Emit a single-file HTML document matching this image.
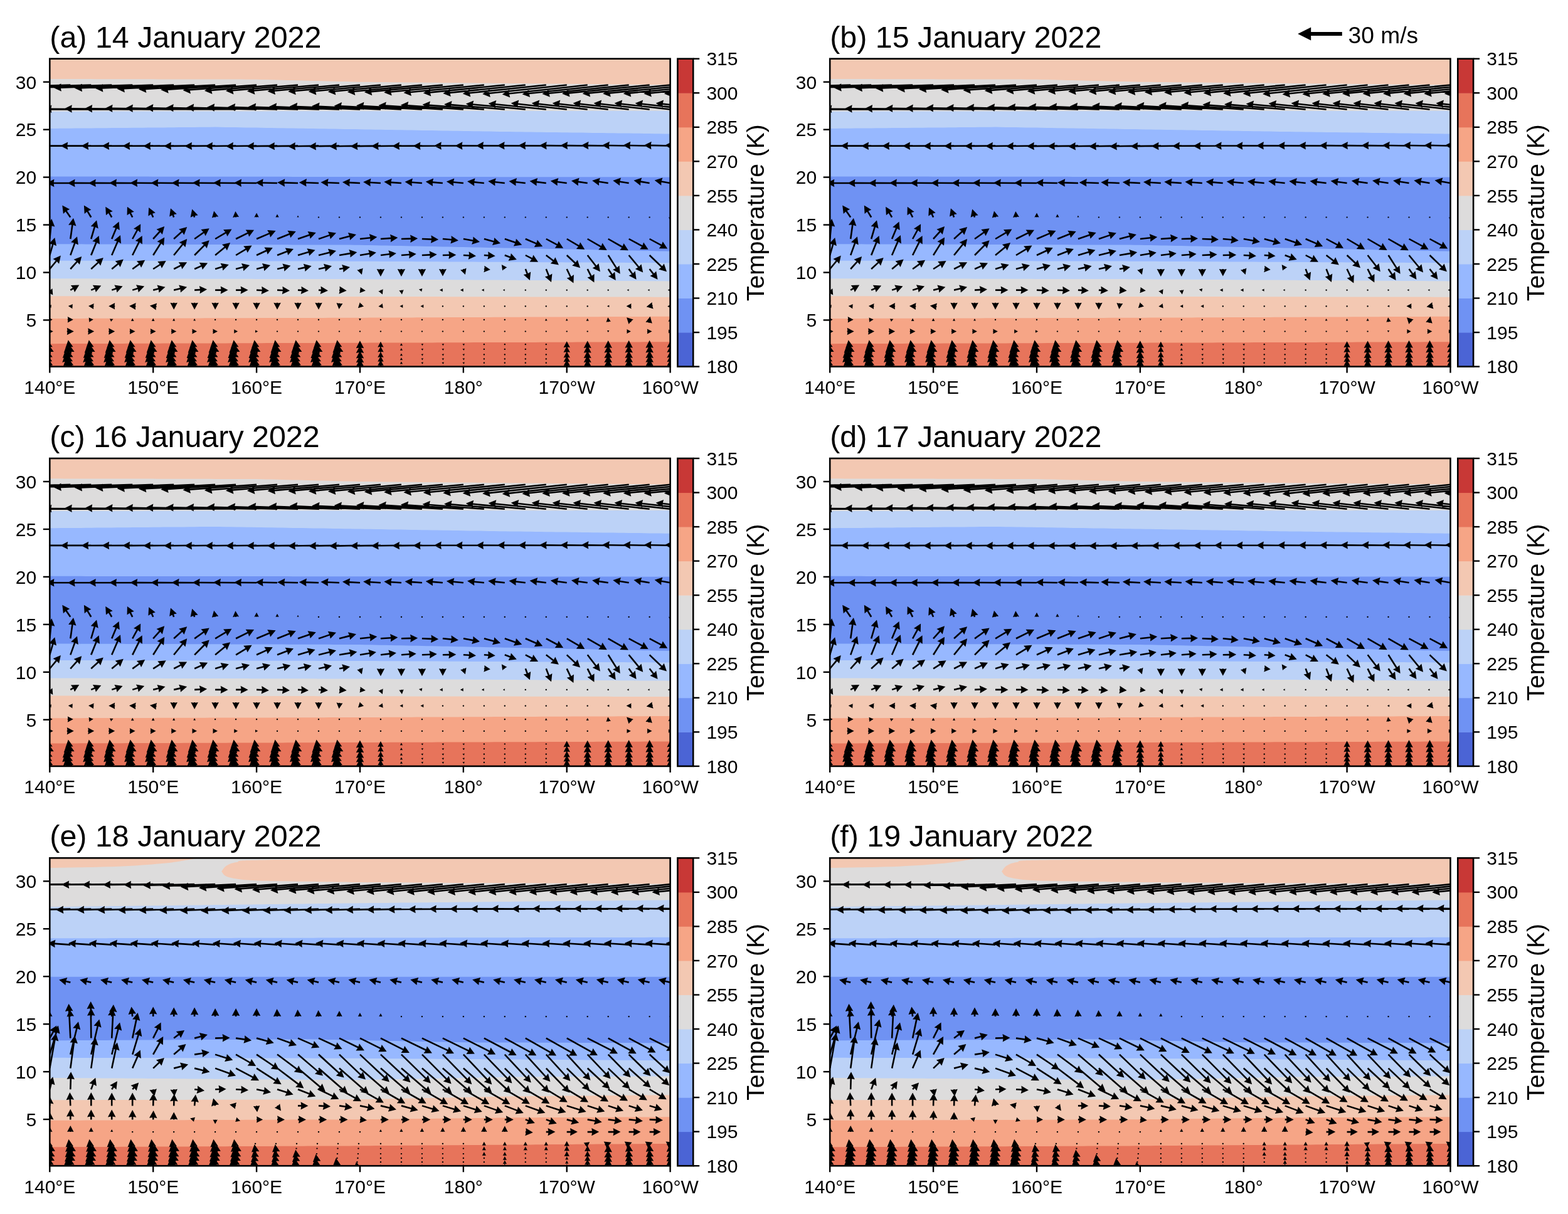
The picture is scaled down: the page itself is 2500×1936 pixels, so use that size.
<!DOCTYPE html>
<html><head><meta charset="utf-8"><title>Temperature cross-sections</title>
<style>
html,body{margin:0;padding:0;background:#fff;}
svg{display:block;}
#wrap{position:relative;width:2500px;height:1936px;}
text{font-family:'Liberation Sans',Arial,sans-serif;fill:#000;}
.tl{font-size:30px;}
.tk{stroke:#000;stroke-width:2.4;}
.fr{fill:none;stroke:#000;stroke-width:2.6;}
</style></head><body>
<div id="wrap">
<svg xmlns="http://www.w3.org/2000/svg" width="2500" height="1936" viewBox="0 0 2500 1936">
<rect width="2500" height="1936" fill="#fff"/>
<defs>
<clipPath id="cp00"><rect x="79.3" y="93.7" width="989.3" height="490.9"/></clipPath>
<clipPath id="cp10"><rect x="1323.2" y="93.7" width="989.3" height="490.9"/></clipPath>
<clipPath id="cp01"><rect x="79.3" y="731" width="989.3" height="490.9"/></clipPath>
<clipPath id="cp11"><rect x="1323.2" y="731" width="989.3" height="490.9"/></clipPath>
<clipPath id="cp02"><rect x="79.3" y="1368.3" width="989.3" height="490.9"/></clipPath>
<clipPath id="cp12"><rect x="1323.2" y="1368.3" width="989.3" height="490.9"/></clipPath>
</defs>
<g clip-path="url(#cp00)">
<rect x="79.3" y="93.7" width="989.3" height="490.9" fill="#e7745b"/>
<path d="M74.3 88.7 L74.3 548.2 L79.3 548.2 L87.5 548.2 L95.8 548.1 L104 548.1 L112.3 548.1 L120.5 548.1 L128.8 548.1 L137 548 L145.3 548 L153.5 548 L161.7 548 L170 547.9 L178.2 547.9 L186.5 547.9 L194.7 547.9 L203 547.8 L211.2 547.8 L219.5 547.8 L227.7 547.8 L235.9 547.7 L244.2 547.7 L252.4 547.7 L260.7 547.6 L268.9 547.6 L277.2 547.6 L285.4 547.6 L293.6 547.6 L301.9 547.5 L310.1 547.5 L318.4 547.5 L326.6 547.5 L334.9 547.4 L343.1 547.4 L351.4 547.4 L359.6 547.4 L367.8 547.3 L376.1 547.3 L384.3 547.3 L392.6 547.2 L400.8 547.2 L409.1 547.2 L417.3 547.2 L425.6 547.1 L433.8 547.1 L442 547.1 L450.3 547.1 L458.5 547.1 L466.8 547 L475 547 L483.3 547 L491.5 547 L499.8 546.9 L508 546.9 L516.2 546.9 L524.5 546.9 L532.7 546.8 L541 546.8 L549.2 546.8 L557.5 546.8 L565.7 546.7 L573.9 546.7 L582.2 546.7 L590.4 546.6 L598.7 546.6 L606.9 546.6 L615.2 546.6 L623.4 546.6 L631.7 546.5 L639.9 546.5 L648.1 546.5 L656.4 546.5 L664.6 546.4 L672.9 546.4 L681.1 546.4 L689.4 546.4 L697.6 546.3 L705.9 546.3 L714.1 546.3 L722.3 546.2 L730.6 546.2 L738.8 546.2 L747.1 546.2 L755.3 546.1 L763.6 546.1 L771.8 546.1 L780.1 546.1 L788.3 546.1 L796.5 546 L804.8 546 L813 546 L821.3 546 L829.5 545.9 L837.8 545.9 L846 545.9 L854.3 545.9 L862.5 545.8 L870.7 545.8 L879 545.8 L887.2 545.8 L895.5 545.7 L903.7 545.7 L912 545.7 L920.2 545.6 L928.4 545.6 L936.7 545.6 L944.9 545.6 L953.2 545.6 L961.4 545.5 L969.7 545.5 L977.9 545.5 L986.2 545.5 L994.4 545.4 L1002.6 545.4 L1010.9 545.4 L1019.1 545.4 L1027.4 545.3 L1035.6 545.3 L1043.9 545.3 L1052.1 545.2 L1060.4 545.2 L1068.6 545.2 L1073.6 545.2 L1073.6 88.7 Z" fill="#f6a586"/>
<path d="M74.3 88.7 L74.3 508 L79.3 508 L87.5 508 L95.8 508 L104 507.9 L112.3 507.9 L120.5 507.9 L128.8 507.9 L137 507.8 L145.3 507.8 L153.5 507.8 L161.7 507.8 L170 507.8 L178.2 507.7 L186.5 507.7 L194.7 507.7 L203 507.7 L211.2 507.7 L219.5 507.6 L227.7 507.6 L235.9 507.6 L244.2 507.6 L252.4 507.5 L260.7 507.5 L268.9 507.5 L277.2 507.5 L285.4 507.5 L293.6 507.4 L301.9 507.4 L310.1 507.4 L318.4 507.4 L326.6 507.3 L334.9 507.3 L343.1 507.3 L351.4 507.3 L359.6 507.3 L367.8 507.2 L376.1 507.2 L384.3 507.2 L392.6 507.2 L400.8 507.2 L409.1 507.1 L417.3 507.1 L425.6 507.1 L433.8 507.1 L442 507 L450.3 507 L458.5 507 L466.8 507 L475 507 L483.3 506.9 L491.5 506.9 L499.8 506.9 L508 506.9 L516.2 506.9 L524.5 506.8 L532.7 506.8 L541 506.8 L549.2 506.8 L557.5 506.7 L565.7 506.7 L573.9 506.7 L582.2 506.7 L590.4 506.6 L598.7 506.6 L606.9 506.6 L615.2 506.5 L623.4 506.5 L631.7 506.5 L639.9 506.4 L648.1 506.4 L656.4 506.4 L664.6 506.3 L672.9 506.3 L681.1 506.3 L689.4 506.2 L697.6 506.2 L705.9 506.2 L714.1 506.1 L722.3 506.1 L730.6 506.1 L738.8 506 L747.1 506 L755.3 506 L763.6 505.9 L771.8 505.9 L780.1 505.9 L788.3 505.8 L796.5 505.8 L804.8 505.8 L813 505.7 L821.3 505.7 L829.5 505.7 L837.8 505.6 L846 505.6 L854.3 505.6 L862.5 505.5 L870.7 505.5 L879 505.5 L887.2 505.4 L895.5 505.4 L903.7 505.4 L912 505.3 L920.2 505.3 L928.4 505.3 L936.7 505.2 L944.9 505.2 L953.2 505.2 L961.4 505.1 L969.7 505.1 L977.9 505.1 L986.2 505 L994.4 505 L1002.6 505 L1010.9 504.9 L1019.1 504.9 L1027.4 504.9 L1035.6 504.8 L1043.9 504.8 L1052.1 504.8 L1060.4 504.7 L1068.6 504.7 L1073.6 504.7 L1073.6 88.7 Z" fill="#f3c8b2"/>
<path d="M74.3 88.7 L74.3 472.2 L79.3 472.2 L87.5 472.2 L95.8 472.2 L104 472.2 L112.3 472.2 L120.5 472.3 L128.8 472.3 L137 472.3 L145.3 472.3 L153.5 472.3 L161.7 472.3 L170 472.3 L178.2 472.3 L186.5 472.4 L194.7 472.4 L203 472.4 L211.2 472.4 L219.5 472.4 L227.7 472.4 L235.9 472.4 L244.2 472.4 L252.4 472.5 L260.7 472.5 L268.9 472.5 L277.2 472.5 L285.4 472.5 L293.6 472.5 L301.9 472.5 L310.1 472.6 L318.4 472.6 L326.6 472.6 L334.9 472.6 L343.1 472.6 L351.4 472.6 L359.6 472.6 L367.8 472.6 L376.1 472.6 L384.3 472.7 L392.6 472.7 L400.8 472.7 L409.1 472.7 L417.3 472.7 L425.6 472.7 L433.8 472.7 L442 472.8 L450.3 472.8 L458.5 472.8 L466.8 472.8 L475 472.8 L483.3 472.8 L491.5 472.8 L499.8 472.8 L508 472.8 L516.2 472.9 L524.5 472.9 L532.7 472.9 L541 472.9 L549.2 472.9 L557.5 472.9 L565.7 472.9 L573.9 472.9 L582.2 473 L590.4 473 L598.7 473 L606.9 473 L615.2 473 L623.4 473 L631.7 473 L639.9 473.1 L648.1 473.1 L656.4 473.1 L664.6 473.1 L672.9 473.1 L681.1 473.1 L689.4 473.1 L697.6 473.1 L705.9 473.1 L714.1 473.2 L722.3 473.2 L730.6 473.2 L738.8 473.2 L747.1 473.2 L755.3 473.2 L763.6 473.2 L771.8 473.2 L780.1 473.3 L788.3 473.3 L796.5 473.3 L804.8 473.3 L813 473.3 L821.3 473.3 L829.5 473.3 L837.8 473.3 L846 473.4 L854.3 473.4 L862.5 473.4 L870.7 473.4 L879 473.4 L887.2 473.4 L895.5 473.4 L903.7 473.4 L912 473.5 L920.2 473.5 L928.4 473.5 L936.7 473.5 L944.9 473.5 L953.2 473.5 L961.4 473.5 L969.7 473.6 L977.9 473.6 L986.2 473.6 L994.4 473.6 L1002.6 473.6 L1010.9 473.6 L1019.1 473.6 L1027.4 473.6 L1035.6 473.6 L1043.9 473.7 L1052.1 473.7 L1060.4 473.7 L1068.6 473.7 L1073.6 473.7 L1073.6 88.7 Z" fill="#dddcdc"/>
<path d="M74.3 88.7 L74.3 444.2 L79.3 444.2 L87.5 444.2 L95.8 444.2 L104 444.2 L112.3 444.3 L120.5 444.3 L128.8 444.3 L137 444.3 L145.3 444.3 L153.5 444.3 L161.7 444.4 L170 444.4 L178.2 444.4 L186.5 444.4 L194.7 444.4 L203 444.4 L211.2 444.5 L219.5 444.5 L227.7 444.5 L235.9 444.5 L244.2 444.5 L252.4 444.6 L260.7 444.6 L268.9 444.6 L277.2 444.6 L285.4 444.6 L293.6 444.6 L301.9 444.6 L310.1 444.7 L318.4 444.7 L326.6 444.7 L334.9 444.7 L343.1 444.7 L351.4 444.8 L359.6 444.8 L367.8 444.8 L376.1 444.8 L384.3 444.8 L392.6 444.8 L400.8 444.8 L409.1 444.9 L417.3 444.9 L425.6 444.9 L433.8 444.9 L442 444.9 L450.3 444.9 L458.5 445 L466.8 445 L475 445 L483.3 445 L491.5 445 L499.8 445.1 L508 445.1 L516.2 445.1 L524.5 445.1 L532.7 445.1 L541 445.1 L549.2 445.1 L557.5 445.2 L565.7 445.2 L573.9 445.2 L582.2 445.3 L590.4 445.3 L598.7 445.4 L606.9 445.4 L615.2 445.5 L623.4 445.5 L631.7 445.6 L639.9 445.6 L648.1 445.7 L656.4 445.7 L664.6 445.8 L672.9 445.8 L681.1 445.9 L689.4 445.9 L697.6 446 L705.9 446.1 L714.1 446.1 L722.3 446.2 L730.6 446.2 L738.8 446.3 L747.1 446.3 L755.3 446.4 L763.6 446.4 L771.8 446.5 L780.1 446.5 L788.3 446.6 L796.5 446.6 L804.8 446.7 L813 446.7 L821.3 446.8 L829.5 446.9 L837.8 446.9 L846 447 L854.3 447 L862.5 447.1 L870.7 447.1 L879 447.2 L887.2 447.2 L895.5 447.3 L903.7 447.3 L912 447.4 L920.2 447.4 L928.4 447.5 L936.7 447.5 L944.9 447.6 L953.2 447.7 L961.4 447.7 L969.7 447.8 L977.9 447.8 L986.2 447.9 L994.4 447.9 L1002.6 448 L1010.9 448 L1019.1 448.1 L1027.4 448.1 L1035.6 448.2 L1043.9 448.2 L1052.1 448.3 L1060.4 448.3 L1068.6 448.4 L1073.6 448.4 L1073.6 88.7 Z" fill="#bcd2f7"/>
<path d="M74.3 88.7 L74.3 415.7 L79.3 415.7 L87.5 415.7 L95.8 415.7 L104 415.8 L112.3 415.8 L120.5 415.8 L128.8 415.8 L137 415.8 L145.3 415.8 L153.5 415.8 L161.7 415.9 L170 415.9 L178.2 415.9 L186.5 415.9 L194.7 415.9 L203 415.9 L211.2 416 L219.5 416 L227.7 416 L235.9 416 L244.2 416 L252.4 416.1 L260.7 416.1 L268.9 416.1 L277.2 416.1 L285.4 416.1 L293.6 416.1 L301.9 416.1 L310.1 416.2 L318.4 416.2 L326.6 416.2 L334.9 416.2 L343.1 416.2 L351.4 416.2 L359.6 416.3 L367.8 416.3 L376.1 416.3 L384.3 416.3 L392.6 416.3 L400.8 416.3 L409.1 416.4 L417.3 416.4 L425.6 416.4 L433.8 416.4 L442 416.4 L450.3 416.4 L458.5 416.5 L466.8 416.5 L475 416.5 L483.3 416.5 L491.5 416.5 L499.8 416.6 L508 416.6 L516.2 416.6 L524.5 416.6 L532.7 416.6 L541 416.6 L549.2 416.6 L557.5 416.7 L565.7 416.7 L573.9 416.7 L582.2 416.7 L590.4 416.8 L598.7 416.8 L606.9 416.9 L615.2 416.9 L623.4 416.9 L631.7 417 L639.9 417 L648.1 417.1 L656.4 417.1 L664.6 417.2 L672.9 417.2 L681.1 417.2 L689.4 417.3 L697.6 417.3 L705.9 417.4 L714.1 417.4 L722.3 417.4 L730.6 417.5 L738.8 417.5 L747.1 417.6 L755.3 417.6 L763.6 417.7 L771.8 417.7 L780.1 417.7 L788.3 417.8 L796.5 417.8 L804.8 417.9 L813 417.9 L821.3 417.9 L829.5 418 L837.8 418 L846 418.1 L854.3 418.1 L862.5 418.2 L870.7 418.2 L879 418.2 L887.2 418.3 L895.5 418.3 L903.7 418.4 L912 418.4 L920.2 418.4 L928.4 418.5 L936.7 418.5 L944.9 418.6 L953.2 418.6 L961.4 418.7 L969.7 418.7 L977.9 418.7 L986.2 418.8 L994.4 418.8 L1002.6 418.9 L1010.9 418.9 L1019.1 418.9 L1027.4 419 L1035.6 419 L1043.9 419.1 L1052.1 419.1 L1060.4 419.2 L1068.6 419.2 L1073.6 419.2 L1073.6 88.7 Z" fill="#97b8ff"/>
<path d="M74.3 88.7 L74.3 389.2 L79.3 389.2 L87.5 389.2 L95.8 389.2 L104 389.3 L112.3 389.3 L120.5 389.3 L128.8 389.3 L137 389.4 L145.3 389.4 L153.5 389.4 L161.7 389.4 L170 389.5 L178.2 389.5 L186.5 389.5 L194.7 389.6 L203 389.6 L211.2 389.6 L219.5 389.6 L227.7 389.6 L235.9 389.7 L244.2 389.7 L252.4 389.7 L260.7 389.8 L268.9 389.8 L277.2 389.8 L285.4 389.8 L293.6 389.8 L301.9 389.9 L310.1 389.9 L318.4 389.9 L326.6 389.9 L334.9 390 L343.1 390 L351.4 390 L359.6 390.1 L367.8 390.1 L376.1 390.1 L384.3 390.1 L392.6 390.1 L400.8 390.2 L409.1 390.2 L417.3 390.2 L425.6 390.2 L433.8 390.3 L442 390.3 L450.3 390.3 L458.5 390.3 L466.8 390.4 L475 390.4 L483.3 390.4 L491.5 390.4 L499.8 390.5 L508 390.5 L516.2 390.5 L524.5 390.6 L532.7 390.6 L541 390.6 L549.2 390.6 L557.5 390.6 L565.7 390.7 L573.9 390.7 L582.2 390.9 L590.4 391 L598.7 391.2 L606.9 391.4 L615.2 391.5 L623.4 391.7 L631.7 391.9 L639.9 392 L648.1 392.2 L656.4 392.4 L664.6 392.5 L672.9 392.7 L681.1 392.9 L689.4 393 L697.6 393.2 L705.9 393.4 L714.1 393.5 L722.3 393.7 L730.6 393.9 L738.8 394 L747.1 394.2 L755.3 394.4 L763.6 394.5 L771.8 394.7 L780.1 394.9 L788.3 395 L796.5 395.2 L804.8 395.4 L813 395.5 L821.3 395.7 L829.5 395.9 L837.8 396 L846 396.2 L854.3 396.4 L862.5 396.5 L870.7 396.7 L879 396.9 L887.2 397 L895.5 397.2 L903.7 397.4 L912 397.5 L920.2 397.7 L928.4 397.9 L936.7 398 L944.9 398.2 L953.2 398.4 L961.4 398.5 L969.7 398.7 L977.9 398.9 L986.2 399 L994.4 399.2 L1002.6 399.4 L1010.9 399.5 L1019.1 399.7 L1027.4 399.9 L1035.6 400 L1043.9 400.2 L1052.1 400.4 L1060.4 400.5 L1068.6 400.7 L1073.6 400.7 L1073.6 88.7 Z" fill="#6f92f3"/>
<path d="M74.3 88.7 L74.3 281.5 L79.3 281.5 L87.5 281.5 L95.8 281.5 L104 281.5 L112.3 281.5 L120.5 281.5 L128.8 281.5 L137 281.6 L145.3 281.6 L153.5 281.6 L161.7 281.6 L170 281.6 L178.2 281.6 L186.5 281.6 L194.7 281.6 L203 281.6 L211.2 281.6 L219.5 281.6 L227.7 281.6 L235.9 281.6 L244.2 281.7 L252.4 281.7 L260.7 281.7 L268.9 281.7 L277.2 281.7 L285.4 281.7 L293.6 281.7 L301.9 281.7 L310.1 281.7 L318.4 281.7 L326.6 281.7 L334.9 281.7 L343.1 281.7 L351.4 281.7 L359.6 281.8 L367.8 281.8 L376.1 281.8 L384.3 281.8 L392.6 281.8 L400.8 281.8 L409.1 281.8 L417.3 281.8 L425.6 281.8 L433.8 281.8 L442 281.8 L450.3 281.8 L458.5 281.8 L466.8 281.9 L475 281.9 L483.3 281.9 L491.5 281.9 L499.8 281.9 L508 281.9 L516.2 281.9 L524.5 281.9 L532.7 281.9 L541 281.9 L549.2 281.9 L557.5 281.9 L565.7 281.9 L573.9 281.9 L582.2 282 L590.4 282 L598.7 282 L606.9 282 L615.2 282 L623.4 282 L631.7 282 L639.9 282 L648.1 282 L656.4 282 L664.6 282 L672.9 282 L681.1 282 L689.4 282.1 L697.6 282.1 L705.9 282.1 L714.1 282.1 L722.3 282.1 L730.6 282.1 L738.8 282.1 L747.1 282.1 L755.3 282.1 L763.6 282.1 L771.8 282.1 L780.1 282.1 L788.3 282.1 L796.5 282.2 L804.8 282.2 L813 282.2 L821.3 282.2 L829.5 282.2 L837.8 282.2 L846 282.2 L854.3 282.2 L862.5 282.2 L870.7 282.2 L879 282.2 L887.2 282.2 L895.5 282.2 L903.7 282.2 L912 282.3 L920.2 282.3 L928.4 282.3 L936.7 282.3 L944.9 282.3 L953.2 282.3 L961.4 282.3 L969.7 282.3 L977.9 282.3 L986.2 282.3 L994.4 282.3 L1002.6 282.3 L1010.9 282.3 L1019.1 282.4 L1027.4 282.4 L1035.6 282.4 L1043.9 282.4 L1052.1 282.4 L1060.4 282.4 L1068.6 282.4 L1073.6 282.4 L1073.6 88.7 Z" fill="#97b8ff"/>
<path d="M74.3 88.7 L74.3 205 L79.3 205 L87.5 204.9 L95.8 204.8 L104 204.8 L112.3 204.7 L120.5 204.6 L128.8 204.6 L137 204.5 L145.3 204.4 L153.5 204.3 L161.7 204.2 L170 204.2 L178.2 204.1 L186.5 204 L194.7 203.9 L203 203.9 L211.2 203.8 L219.5 203.7 L227.7 203.7 L235.9 203.6 L244.2 203.5 L252.4 203.4 L260.7 203.4 L268.9 203.3 L277.2 203.2 L285.4 203.1 L293.6 203.1 L301.9 203 L310.1 202.9 L318.4 202.8 L326.6 202.8 L334.9 202.7 L343.1 202.6 L351.4 202.7 L359.6 202.9 L367.8 203 L376.1 203.1 L384.3 203.3 L392.6 203.4 L400.8 203.5 L409.1 203.6 L417.3 203.8 L425.6 203.9 L433.8 204 L442 204.2 L450.3 204.3 L458.5 204.4 L466.8 204.6 L475 204.7 L483.3 204.8 L491.5 205 L499.8 205.1 L508 205.2 L516.2 205.3 L524.5 205.5 L532.7 205.6 L541 205.7 L549.2 205.9 L557.5 206 L565.7 206.1 L573.9 206.3 L582.2 206.4 L590.4 206.5 L598.7 206.7 L606.9 206.8 L615.2 206.9 L623.4 207.1 L631.7 207.2 L639.9 207.3 L648.1 207.5 L656.4 207.6 L664.6 207.7 L672.9 207.9 L681.1 208 L689.4 208.1 L697.6 208.3 L705.9 208.4 L714.1 208.5 L722.3 208.7 L730.6 208.8 L738.8 208.9 L747.1 209.1 L755.3 209.2 L763.6 209.3 L771.8 209.5 L780.1 209.6 L788.3 209.7 L796.5 209.9 L804.8 210 L813 210.1 L821.3 210.2 L829.5 210.3 L837.8 210.4 L846 210.5 L854.3 210.7 L862.5 210.8 L870.7 210.9 L879 211 L887.2 211.1 L895.5 211.2 L903.7 211.3 L912 211.4 L920.2 211.5 L928.4 211.6 L936.7 211.8 L944.9 211.9 L953.2 212 L961.4 212.1 L969.7 212.2 L977.9 212.3 L986.2 212.4 L994.4 212.5 L1002.6 212.6 L1010.9 212.7 L1019.1 212.8 L1027.4 213 L1035.6 213.1 L1043.9 213.2 L1052.1 213.3 L1060.4 213.4 L1068.6 213.5 L1073.6 213.5 L1073.6 88.7 Z" fill="#bcd2f7"/>
<path d="M74.3 88.7 L74.3 177.7 L79.3 177.7 L87.5 177.7 L95.8 177.7 L104 177.7 L112.3 177.7 L120.5 177.7 L128.8 177.7 L137 177.6 L145.3 177.6 L153.5 177.6 L161.7 177.6 L170 177.6 L178.2 177.6 L186.5 177.6 L194.7 177.6 L203 177.6 L211.2 177.6 L219.5 177.6 L227.7 177.6 L235.9 177.5 L244.2 177.5 L252.4 177.5 L260.7 177.5 L268.9 177.5 L277.2 177.5 L285.4 177.5 L293.6 177.5 L301.9 177.5 L310.1 177.5 L318.4 177.5 L326.6 177.4 L334.9 177.4 L343.1 177.4 L351.4 177.4 L359.6 177.4 L367.8 177.4 L376.1 177.4 L384.3 177.4 L392.6 177.4 L400.8 177.4 L409.1 177.4 L417.3 177.4 L425.6 177.4 L433.8 177.3 L442 177.3 L450.3 177.3 L458.5 177.3 L466.8 177.3 L475 177.3 L483.3 177.3 L491.5 177.3 L499.8 177.3 L508 177.3 L516.2 177.3 L524.5 177.2 L532.7 177.2 L541 177.2 L549.2 177.2 L557.5 177.2 L565.7 177.2 L573.9 177.2 L582.2 177.2 L590.4 177.2 L598.7 177.2 L606.9 177.2 L615.2 177.2 L623.4 177.2 L631.7 177.1 L639.9 177.1 L648.1 177.1 L656.4 177.1 L664.6 177.1 L672.9 177.1 L681.1 177.1 L689.4 177.1 L697.6 177.1 L705.9 177.1 L714.1 177.1 L722.3 177.1 L730.6 177 L738.8 177 L747.1 177 L755.3 177 L763.6 177 L771.8 177 L780.1 177 L788.3 177 L796.5 177 L804.8 177 L813 177 L821.3 176.9 L829.5 176.9 L837.8 176.9 L846 176.9 L854.3 176.9 L862.5 176.9 L870.7 176.9 L879 176.9 L887.2 176.9 L895.5 176.9 L903.7 176.9 L912 176.9 L920.2 176.9 L928.4 176.8 L936.7 176.8 L944.9 176.8 L953.2 176.8 L961.4 176.8 L969.7 176.8 L977.9 176.8 L986.2 176.8 L994.4 176.8 L1002.6 176.8 L1010.9 176.8 L1019.1 176.8 L1027.4 176.7 L1035.6 176.7 L1043.9 176.7 L1052.1 176.7 L1060.4 176.7 L1068.6 176.7 L1073.6 176.7 L1073.6 88.7 Z" fill="#dddcdc"/>
<path d="M74.3 88.7 L74.3 126 L79.3 126 L87.5 126 L95.8 126 L104 126.1 L112.3 126.1 L120.5 126.1 L128.8 126.1 L137 126.1 L145.3 126.1 L153.5 126.2 L161.7 126.2 L170 126.2 L178.2 126.2 L186.5 126.2 L194.7 126.2 L203 126.3 L211.2 126.3 L219.5 126.3 L227.7 126.3 L235.9 126.3 L244.2 126.3 L252.4 126.4 L260.7 126.4 L268.9 126.4 L277.2 126.4 L285.4 126.4 L293.6 126.5 L301.9 126.5 L310.1 126.5 L318.4 126.5 L326.6 126.5 L334.9 126.5 L343.1 126.6 L351.4 126.6 L359.6 126.6 L367.8 126.6 L376.1 126.6 L384.3 126.6 L392.6 126.7 L400.8 126.7 L409.1 126.7 L417.3 126.9 L425.6 127.1 L433.8 127.3 L442 127.5 L450.3 127.7 L458.5 127.9 L466.8 128.1 L475 128.3 L483.3 128.5 L491.5 128.7 L499.8 128.9 L508 129.1 L516.2 129.3 L524.5 129.5 L532.7 129.7 L541 129.9 L549.2 130.1 L557.5 130.3 L565.7 130.5 L573.9 130.7 L582.2 130.8 L590.4 130.8 L598.7 130.9 L606.9 131 L615.2 131.1 L623.4 131.2 L631.7 131.2 L639.9 131.3 L648.1 131.4 L656.4 131.4 L664.6 131.5 L672.9 131.6 L681.1 131.7 L689.4 131.8 L697.6 131.8 L705.9 131.9 L714.1 132 L722.3 132.1 L730.6 132.1 L738.8 132.2 L747.1 132.3 L755.3 132.3 L763.6 132.4 L771.8 132.5 L780.1 132.6 L788.3 132.7 L796.5 132.7 L804.8 132.8 L813 132.9 L821.3 132.9 L829.5 133 L837.8 133.1 L846 133.2 L854.3 133.2 L862.5 133.3 L870.7 133.4 L879 133.5 L887.2 133.6 L895.5 133.6 L903.7 133.7 L912 133.8 L920.2 133.8 L928.4 133.9 L936.7 134 L944.9 134.1 L953.2 134.2 L961.4 134.2 L969.7 134.3 L977.9 134.4 L986.2 134.4 L994.4 134.5 L1002.6 134.6 L1010.9 134.7 L1019.1 134.8 L1027.4 134.8 L1035.6 134.9 L1043.9 135 L1052.1 135.1 L1060.4 135.1 L1068.6 135.2 L1073.6 135.2 L1073.6 88.7 Z" fill="#f3c8b2"/>
</g>
<path clip-path="url(#cp00)" d="M79.3 134.2l-114.9 3.2 .7-5-11.8 6.6 12.1 5.9-.9-4.9 114.8-3.2zM112.2 134.2l-114.7 3.4 .7-4.9-11.8 6.5 12.1 5.9-.9-4.9 114.7-3.4zM145.2 134.2l-114.6 3.6 .7-4.9-11.8 6.6 12.2 5.9-1-5 114.6-3.6zM178.2 134.2l-114.5 3.9 .6-5-11.7 6.7 12.2 5.8-1-4.9 114.5-3.9zM211.2 134.2l-114.4 4.1 .6-5-11.7 6.7 12.2 5.8-1-4.9 114.4-4.1zM244.1 134.2l-114 4.6 .5-5-11.7 6.7 12.2 5.8-.9-4.9 114-4.6zM277.1 134.2l-113.8 5 .5-5-11.6 6.8 12.2 5.7-1-4.9 113.8-5zM310.1 134.2l-112.4 5.7 .6-5-11.7 6.9 12.3 5.6-1-4.9 112.3-5.7zM343 134.2l-110.8 6.4 .5-5-11.6 6.9 12.3 5.5-1.1-4.8 110.9-6.4zM376 134.2l-108.6 7.1 .5-5-11.6 7 12.4 5.4-1.1-4.8 108.6-7.1zM409 134.2l-106.4 7.8 .4-5-11.4 7.1 12.4 5.4-1.2-4.9 106.4-7.8zM441.9 134.2l-104.8 8.4 .4-5-11.5 7.2 12.5 5.3-1.2-4.9 104.8-8.4zM474.9 134.2l-103.8 8.7 .3-5-11.4 7.2 12.5 5.3-1.2-4.9 103.8-8.7zM507.9 134.2l-102.9 9 .4-5-11.4 7.3 12.5 5.2-1.3-4.9 102.9-9zM540.9 134.2l-103.2 9.3 .3-5-11.4 7.3 12.5 5.1-1.2-4.8 103.2-9.3zM573.8 134.2l-103.5 9.5 .3-5-11.3 7.3 12.5 5.2-1.3-4.9 103.6-9.5zM606.8 134.2l-103.9 9.8 .4-5-11.4 7.3 12.5 5.1-1.2-4.9 103.8-9.7zM639.8 134.2l-105.9 10 .3-5-11.3 7.4 12.5 5-1.2-4.8 105.8-10zM672.8 134.2l-107.9 10.2 .3-4.9-11.3 7.3 12.5 5.1-1.3-4.9 107.9-10.2zM705.7 134.2l-113.8 10.6 .3-5-11.3 7.3 12.4 5.1-1.2-4.8 113.9-10.6zM738.7 134.2l-115.5 11 .3-5-11.3 7.4 12.5 5-1.3-4.8 115.6-11zM771.7 134.2l-117.2 11.5 .3-5-11.3 7.3 12.5 5.1-1.3-4.9 117.2-11.4zM804.7 134.2l-118.9 11.9 .3-5-11.3 7.4 12.5 5-1.3-4.8 118.9-11.9zM837.6 134.2l-120.3 12.4 .2-5-11.2 7.4 12.5 5-1.3-4.8 120.4-12.4zM870.6 134.2l-121.9 12.8 .3-5-11.3 7.5 12.6 5-1.3-4.9 121.9-12.8zM903.6 134.2l-123.4 13.3 .2-5-11.2 7.5 12.6 4.9-1.3-4.8 123.4-13.3zM936.6 134.2l-124.9 13.8 .2-5-11.2 7.5 12.6 4.9-1.4-4.8 124.9-13.8zM969.5 134.2l-126 13.5 .2-5-11.2 7.5 12.6 4.9-1.3-4.8 126-13.5zM1002.5 134.2l-127.2 13.2 .3-5-11.3 7.4 12.6 5-1.3-4.8 127.2-13.2zM1035.5 134.2l-128.4 12.9 .3-5-11.3 7.4 12.5 5-1.2-4.8 128.4-12.9zM1068.5 134.2l-128.8 12.9 .3-5-11.3 7.4 12.5 5-1.3-4.8 128.8-12.9zM1101.4 134.2l-129.2 12.9 .3-5-11.3 7.4 12.6 5-1.3-4.8 129.2-12.9zM1134.4 134.2l-129.6 12.9 .3-5-11.3 7.4 12.5 5-1.2-4.8 129.6-12.9zM1167.4 134.2l-130 12.9 .2-5-11.2 7.4 12.5 5-1.3-4.8 130.1-12.9zM1200.4 134.2l-130.5 12.9 .3-5-11.3 7.4 12.5 5-1.2-4.8 130.4-12.9zM1233.4 134.2l-130.9 12.9 .3-5-11.3 7.4 12.5 5-1.3-4.8 130.9-12.9zM79.3 173.2l-94.8 0 .8-4.9-12 6.2 12 6.2-.8-4.9 94.8 0zM112.3 173.2l-95.4-.3 .8-4.9-12 6.2 11.9 6.3-.7-5 95.4 .3zM145.3 173.2l-96.1-.5 .8-5-11.9 6.2 11.9 6.3-.8-4.9 96 .5zM178.2 173.2l-96.6-.8 .8-4.9-12 6.1 11.9 6.3-.7-4.9 96.6 .8zM211.2 173.2l-97.2-1.1 .8-4.9-12 6.1 11.9 6.4-.7-5 97.2 1.1zM244.2 173.2l-97.8-1.3 .8-5-12 6.1 11.9 6.4-.8-4.9 97.9 1.3zM277.2 173.2l-98.4-1.6 .8-4.9-12 6 11.8 6.4-.7-4.9 98.4 1.6zM310.2 173.2l-99.1-1.9 .9-4.9-12.1 6 11.9 6.5-.7-5 99 1.9zM343.1 173.2l-99.6-2.2 .9-4.9-12.1 6 11.8 6.5-.6-5 99.6 2.2zM376.1 173.2l-100.2-2.4 .9-4.9-12.1 5.9 11.8 6.5-.7-4.9 100.3 2.4zM409.1 173.2l-100.8-2.7 .9-4.9-12.1 5.9 11.8 6.6-.7-5 100.8 2.7zM442.1 173.2l-100.8-3.1 .9-4.9-12.2 5.9 11.8 6.6-.6-5 100.8 3.1zM475.1 173.2l-100.9-3.4 1-4.9-12.2 5.8 11.8 6.6-.7-4.9 100.9 3.4zM508 173.2l-100.8-3.8 1-4.9-12.2 5.8 11.7 6.7-.6-5 100.8 3.8zM541 173.2l-100.8-4.1 1-4.9-12.2 5.7 11.7 6.7-.6-4.9 100.8 4.1zM574 173.2l-100.8-4.5 1-4.9-12.3 5.7 11.7 6.8-.5-5 100.8 4.5zM607 173.2l-98.4-4.8 1-4.9-12.3 5.6 11.7 6.8-.6-5 98.5 4.9zM640 173.2l-96.1-5.2 1.1-4.9-12.3 5.6 11.6 6.9-.5-5 96 5.2zM673 173.2l-93.7-5.5 1.1-4.9-12.3 5.5 11.6 6.9-.5-4.9 93.6 5.5zM705.9 173.2l-91.2-5.9 1.1-4.9-12.3 5.5 11.5 7-.5-5 91.3 5.9zM738.9 173.2l-88.8-6.2 1.1-4.9-12.4 5.4 11.5 7.1-.4-5 88.8 6.2zM771.9 173.2l-87.2-6.8 1.2-4.9-12.4 5.3 11.4 7.2-.4-5 87.2 6.8zM804.9 173.2l-85.5-7.4 1.2-4.8-12.5 5.2 11.4 7.2-.4-5 85.6 7.4zM837.9 173.2l-83.9-7.9 1.3-4.9-12.5 5.1 11.3 7.3-.3-5 83.8 8zM870.9 173.2l-80.9-8.3 1.3-4.9-12.6 5 11.3 7.4-.3-5 80.9 8.4zM903.9 173.2l-77.9-8.7 1.3-4.9-12.6 4.9 11.2 7.5-.2-5 77.9 8.8zM936.8 173.2l-77.9-8.7 1.4-4.9-12.6 4.9 11.2 7.5-.2-5 77.8 8.8zM969.8 173.2l-77.9-8.7 1.4-4.9-12.6 4.9 11.2 7.5-.3-5 77.9 8.8zM1002.8 173.2l-77.9-8.7 1.3-4.9-12.6 4.9 11.2 7.5-.2-5 77.9 8.8zM1035.8 173.2l-77.9-8.7 1.3-4.9-12.6 4.9 11.2 7.5-.2-5 77.9 8.8zM1068.7 173.2l-77.8-8.7 1.3-4.9-12.6 4.9 11.2 7.5-.2-5 77.9 8.8zM1101.7 173.2l-77.9-8.7 1.4-4.9-12.6 4.9 11.2 7.5-.3-5 77.9 8.8zM1134.7 173.2l-77.9-8.7 1.3-4.9-12.5 4.9 11.1 7.5-.2-5 77.9 8.8zM1167.7 173.2l-77.9-8.7 1.3-4.9-12.6 4.9 11.2 7.5-.2-5 77.9 8.8zM1200.7 173.2l-77.9-8.7 1.3-4.9-12.6 4.9 11.2 7.5-.2-5 77.9 8.8zM1233.6 173.2l-77.9-8.7 1.4-4.9-12.6 4.9 11.2 7.5-.3-5 77.9 8.8zM79.3 231.2l-37.8 0 .8-4.9-12 6.2 12 6.2-.8-4.9 37.8 0zM112.3 231.2l-37.8 .1 .7-5-11.9 6.3 11.9 6.2-.7-4.9 37.8-.1zM145.2 231.2l-37.8 .1 .8-4.9-11.9 6.2 11.9 6.2-.8-4.9 37.9-.1zM178.2 231.2l-37.8 .2 .8-5-12 6.3 12 6.2-.8-4.9 37.8-.2zM211.2 231.2l-37.8 .2 .7-4.9-11.9 6.3 12 6.1-.8-4.9 37.8-.2zM244.2 231.2l-37.8 .3 .7-5-11.9 6.3 12 6.2-.8-4.9 37.8-.3zM277.1 231.2l-37.8 .3 .8-4.9-11.9 6.3 12 6.1-.8-4.9 37.8-.3zM310.1 231.2l-37.8 .4 .7-5-11.9 6.4 12.1 6.1-.9-4.9 37.8-.4zM343.1 231.2l-37.8 .4 .7-4.9-11.9 6.3 12 6.1-.8-4.9 37.8-.4zM376.1 231.2l-37.8 .5 .7-5-11.9 6.4 12 6.1-.8-4.9 37.8-.5zM409 231.2l-37.8 .5 .7-4.9-11.8 6.4 12 6-.8-4.9 37.8-.5zM442 231.2l-37.8 .6 .7-5-11.9 6.4 12.1 6.1-.9-4.9 37.9-.6zM475 231.2l-37.8 .6 .7-4.9-11.9 6.4 12.1 6-.9-4.9 37.8-.6zM508 231.2l-37.8 .7 .6-5-11.8 6.5 12.1 6-.9-4.9 37.8-.7zM540.9 231.2l-37.8 .7 .7-4.9-11.8 6.4 12 6-.8-4.9 37.8-.7zM573.9 231.2l-37.8 .8 .7-5-11.9 6.5 12.1 6-.8-4.9 37.8-.8zM606.9 231.2l-37.4 .6 .7-4.9-11.9 6.4 12.1 6-.9-4.9 37.4-.6zM639.9 231.2l-37 .5 .7-5-11.9 6.4 12 6.1-.8-4.9 37-.5zM672.9 231.2l-36.7 .3 .8-4.9-11.9 6.3 12 6.1-.8-4.9 36.6-.3zM705.9 231.2l-36.3 .2 .8-5-11.9 6.3 11.9 6.2-.8-4.9 36.3-.2zM738.8 231.2l-35.8 0 .8-4.9-12 6.2 12 6.2-.8-4.9 35.8 0zM771.8 231.2l-35.2-.1 .8-4.9-12 6.2 12 6.3-.8-5 35.2 .1zM804.8 231.2l-34.6-.2 .8-4.9-12 6.2 11.9 6.3-.7-5 34.6 .2zM837.8 231.2l-34-.2 .8-5-12 6.2 11.9 6.3-.8-4.9 34.1 .2zM870.8 231.2l-33.5-.3 .9-4.9-12.1 6.1 11.9 6.3-.7-4.9 33.4 .3zM903.7 231.2l-32.8-.4 .8-4.9-12 6.1 11.9 6.4-.7-5 32.8 .4zM936.7 231.2l-32.4-.4 .8-4.9-12 6 11.9 6.4-.7-4.9 32.4 .4zM969.7 231.2l-32-.4 .8-5-12 6.1 11.8 6.4-.7-4.9 32.1 .4zM1002.7 231.2l-31.7-.5 .9-4.9-12.1 6 11.9 6.5-.7-5 31.6 .5zM1035.6 231.2l-31.2-.5 .9-4.9-12.1 6 11.9 6.4-.7-4.9 31.2 .5zM1068.6 231.2l-30.8-.6 .9-4.9-12.1 6.1 11.8 6.4-.6-5 30.8 .6zM1101.6 231.2l-30.4-.6 .9-4.9-12.1 6 11.8 6.5-.7-5 30.5 .6zM1134.6 231.2l-30-.6 .8-4.9-12 6 11.8 6.4-.7-4.9 30 .6zM1167.6 231.2l-29.7-.7 .9-4.9-12.1 6 11.8 6.5-.6-5 29.6 .7zM1200.5 231.2l-29.2-.7 .9-4.9-12.1 6 11.8 6.5-.6-5 29.2 .7zM1233.5 231.2l-28.8-.7 .9-4.9-12.1 5.9 11.8 6.5-.7-4.9 28.9 .7zM79.3 290.7l-26.8 0 .8-4.9-12 6.2 12 6.2-.8-4.9 26.8 0zM112.3 290.7l-26.6 0 .7-5-11.9 6.2 11.9 6.3-.7-4.9 26.6 0zM145.3 290.7l-26.5-.1 .8-4.9-11.9 6.2 11.9 6.3-.8-5 26.4 .1zM178.2 290.7l-26.2-.1 .8-4.9-12 6.2 12 6.2-.8-4.9 26.2 .1zM211.2 290.7l-26-.1 .8-5-12 6.2 11.9 6.3-.7-4.9 26 .1zM244.2 290.7l-25.8-.2 .8-4.9-12 6.2 11.9 6.3-.7-5 25.8 .2zM277.2 290.7l-25.6-.2 .8-4.9-12 6.1 11.9 6.3-.8-4.9 25.6 .2zM310.1 290.7l-25.4-.2 .9-5-12.1 6.2 11.9 6.3-.7-4.9 25.4 .2zM343.1 290.7l-25.2-.3 .8-4.9-12 6.1 11.9 6.4-.7-5 25.2 .3zM376.1 290.7l-25-.3 .8-4.9-12 6.1 11.9 6.3-.7-4.9 25 .3zM409.1 290.7l-24.8-.3 .8-5-12 6.1 11.8 6.4-.7-4.9 24.8 .3zM442.1 290.7l-23.3-.5 .9-4.9-12.1 6 11.9 6.5-.7-5 23.2 .5zM475.1 290.7l-21.7-.6 .9-4.9-12.1 5.9 11.8 6.6-.6-5 21.6 .6zM508 290.7l-20-.7 1-4.9-12.2 5.8 11.7 6.7-.6-5 20.1 .7zM541 290.7l-18.4-.8 1-4.9-12.2 5.7 11.6 6.8-.5-5 18.4 .8zM574 290.7l-16.8-.9 1-4.9-12.3 5.6 11.7 6.9-.6-5 16.9 .9zM607 290.7l-16.6-1 1-4.9-12.3 5.5 11.6 7-.5-5 16.6 1zM640 290.7l-16.5-1.1 1.2-4.9-12.4 5.4 11.5 7-.4-4.9 16.4 1.1zM673 290.7l-16.3-1.2 1.2-4.9-12.4 5.3 11.4 7.1-.4-4.9 16.3 1.2zM706 290.7l-16.1-1.4 1.2-4.8-12.4 5.2 11.3 7.2-.3-5 16 1.4zM739 290.7l-15.9-1.5 1.2-4.8-12.5 5.1 11.4 7.3-.4-5 15.9 1.5zM771.9 290.7l-15.6-1.6 1.2-4.8-12.5 5 11.3 7.4-.3-5 15.7 1.6zM804.9 290.7l-15.5-1.7 1.4-4.8-12.6 4.9 11.2 7.5-.2-5 15.4 1.7zM837.9 290.7l-15.3-1.8 1.4-4.8-12.6 4.8 11.1 7.6-.2-5 15.3 1.8zM870.9 290.7l-15.1-1.9 1.4-4.8-12.7 4.7 11.1 7.7-.1-5 15.1 1.9zM903.9 290.7l-14.9-2 1.4-4.8-12.7 4.6 11 7.8-.1-5 14.9 2zM936.9 290.7l-14.8-2.1 1.5-4.8-12.7 4.5 10.9 7.9 0-5 14.7 2.1zM969.9 290.7l-14.6-2.2 1.5-4.8-12.7 4.4 10.9 8-.1-5 14.6 2.2zM1002.9 290.7l-14.4-2.3 1.5-4.8-12.8 4.3 10.9 8.1 0-5 14.3 2.3zM1035.8 290.7l-14.1-2.4 1.6-4.7-12.9 4.1 10.8 8.2 0-5 14.2 2.4zM1068.8 290.7l-14-2.5 1.7-4.7-12.9 4 10.7 8.3 .1-5 14 2.5zM1101.8 290.7l-14-2.5 1.7-4.7-12.9 4 10.6 8.3 .1-5 14 2.5zM1134.8 290.7l-14-2.5 1.6-4.7-12.8 4 10.6 8.3 .1-5 14 2.5zM1167.8 290.7l-14-2.5 1.6-4.7-12.9 4 10.7 8.3 .1-5 14 2.5zM1200.7 290.7l-14-2.5 1.7-4.7-12.9 4 10.7 8.3 .1-5 14 2.5zM1233.7 290.7l-14-2.5 1.7-4.7-12.9 4 10.6 8.3 .2-5 14 2.5zM80.4 345.7l-7.1-9.8 4.5-2.3-12-6.1 1.8 13.4 3.6-3.5 7 9.9zM113.3 345.8l-6.6-9.8 4.5-2.2-11.9-6.3 1.6 13.4 3.6-3.4 6.7 9.7zM146.4 345.8l-5.7-9.4 4.7-1.9-11.5-7 .8 13.5 3.8-3.2 5.6 9.4zM179.3 345.8l-4.2-7.1 4.6-1.8-11.5-7.1 .8 13.5 3.9-3.2 4.2 7.1zM212.4 345.9l-3.4-6.7 4.8-1.5-10.9-7.9-.3 13.5 4.1-2.9 3.3 6.7zM245.4 346l-2.4-5.3 4.8-1.4-10.6-8.3-.8 13.5 4.2-2.8 2.4 5.3zM278.4 346.1l-1.4-3.8 4.9-1-9.9-9.1-1.8 13.4 4.4-2.4 1.3 3.7zM311.4 346.1l-.7-2.2 5-.7-9.4-9.7-2.6 13.2 4.5-2.1 .7 2.3zM344.2 346.3l-.1-.7 4.2-.1-7.2-9-3.2 11 4-1.4 .1 .6zM377.1 346.4l0-.6 3.9 .3-5.6-9.1-4.3 9.9 3.9-.9 .1 .6zM409.8 346.5l0-.5 2.9 .5-3.6-7-3.7 7 2.9-.5 0 .5zM442.6 346.5l0-.3 2.1 .3-2.7-5-2.6 5 2.1-.3 0 .3zM475.3 346.5l0-.2 1.3 .2-1.6-3-1.5 3 1.2-.2 0 .2zM509.3 346.5l-.7 1.1-1.3 0-.6-1.1 .6-1.1 1.3 0zM542.3 346.5l-.7 1.1-1.3 0-.6-1.1 .6-1.1 1.3 0zM575.2 346.5l-.6 1.1-1.3 0-.7-1.1 .7-1.1 1.3 0zM608.2 346.5l-.6 1.1-1.3 0-.7-1.1 .7-1.1 1.3 0zM641.2 346.5l-.6 1.1-1.3 0-.7-1.1 .7-1.1 1.3 0zM674.2 346.5l-.7 1.1-1.3 0-.6-1.1 .6-1.1 1.3 0zM707.2 346.5l-.7 1.1-1.3 0-.6-1.1 .6-1.1 1.3 0zM740.1 346.5l-.6 1.1-1.3 0-.7-1.1 .7-1.1 1.3 0zM773.1 346.5l-.6 1.1-1.3 0-.7-1.1 .7-1.1 1.3 0zM806.1 346.5l-.7 1.1-1.3 0-.6-1.1 .6-1.1 1.3 0zM839.1 346.5l-.7 1.1-1.3 0-.6-1.1 .6-1.1 1.3 0zM872 346.5l-.6 1.1-1.3 0-.7-1.1 .7-1.1 1.3 0zM905 346.5l-.6 1.1-1.3 0-.7-1.1 .7-1.1 1.3 0zM938 346.5l-.7 1.1-1.3 0-.6-1.1 .6-1.1 1.3 0zM971 346.5l-.7 1.1-1.3 0-.6-1.1 .6-1.1 1.3 0zM1003.9 346.5l-.6 1.1-1.3 0-.7-1.1 .7-1.1 1.3 0zM1036.9 346.5l-.6 1.1-1.3 0-.7-1.1 .7-1.1 1.3 0zM1068.1 346.5l0 .3-2.1-.3 2.6 5 2.6-5-2.1 .3 0-.3zM-51.3 381.1l1.9-20.8 4.9 1.2-5.1-12.5-7.3 11.3 5-.3-2 20.9zM-18.3 381.1l1.9-20.8 4.9 1.2-5.1-12.5-7.4 11.3 5-.3-1.9 20.9zM14.6 381.1l2-20.8 4.8 1.2-5.1-12.5-7.3 11.3 5-.3-1.9 20.9zM47.6 381.1l2-20.8 4.8 1.2-5.1-12.5-7.3 11.3 5-.3-2 20.9zM80.6 381.1l2-20.8 4.8 1.2-5.1-12.5-7.3 11.3 5-.3-2 20.9zM113.6 381.2l3.1-22.2 4.8 1.4-4.5-12.7-7.9 11 5-.1-3.1 22.2zM146.5 381.4l5.6-19.1 4.6 2.1-2.6-13.2-9.4 9.7 4.9 .7-5.6 19zM179.4 381.5l7.1-17.1 4.3 2.6-1.2-13.4-10.3 8.6 4.8 1.2-7.1 17.1zM212.3 381.6l7.7-14 3.9 3.1 .3-13.5-11.2 7.5 4.7 1.7-7.6 14zM245.1 381.9l10.6-11.7 3.1 3.9 3.4-13.1-12.7 4.7 4.2 2.7-10.5 11.7zM278 382l12.7-11.5 2.8 4.2 4.7-12.7-13.1 3.4 3.9 3.1-12.7 11.5zM310.9 382.1l14.5-10.3 2.2 4.5 6.1-12-13.3 1.8 3.5 3.6-14.5 10.2zM343.8 382.1l16.7-9.8 1.9 4.6 7.1-11.4-13.5 .7 3.2 3.8-16.7 9.9zM376.7 382.2l18.9-9.4 1.5 4.8 8-10.9-13.5-.3 2.9 4.1-19 9.3zM409.6 382.2l20.2-8.6 1.2 4.8 8.6-10.4-13.5-1.1 2.7 4.3-20.2 8.6zM442.5 382.2l19.5-7.8 1.1 4.9 8.7-10.3-13.4-1.3 2.6 4.3-19.4 7.8zM475.4 382.2l18.3-6.3 .9 4.9 9.2-9.8-13.3-2 2.3 4.4-18.2 6.4zM508.4 382.2l17.4-5.9 .9 5 9.3-9.8-13.3-2.1 2.3 4.5-17.4 5.9zM541.3 382.3l16.2-4.2 .5 4.9 10-9-13.2-3 2 4.5-16.2 4.2zM574.1 382.3l16.3-1.9-.2 5 11.1-7.5-12.5-4.9 1.3 4.9-16.3 1.8zM607 382.3l16.3-1.1-.5 5 11.5-7.1-12.3-5.4 1.1 4.9-16.3 1.1zM639.9 382.3l15.1-.4-.7 5 11.8-6.6-12.1-5.9 .9 4.9-15 .4zM672.8 382.3l15.1 .6-1 4.9 12.2-5.8-11.7-6.7 .6 5-15.1-.6zM705.7 382.3l13.9 1.3-1.2 4.9 12.5-5.1-11.4-7.4 .4 5-13.9-1.3zM738.6 382.3l15.2 2.8-1.7 4.7 12.9-4-10.6-8.3-.1 5-15.2-2.8zM771.5 382.3l15.4 4.1-2.1 4.6 13.2-2.9-9.9-9.2-.5 5-15.4-4.2zM804.4 382.2l16.8 5.9-2.4 4.4 13.4-2-9.3-9.8-.9 4.9-16.8-5.8zM837.2 382.2l17.2 7.4-2.7 4.3 13.5-1-8.5-10.5-1.3 4.9-17.1-7.5zM870.1 382.1l17.6 9.5-3 4 13.4 .2-7.5-11.2-1.7 4.7-17.5-9.4zM903.1 382.1l18.9 11.1-3.2 3.9 13.5 .6-7.2-11.4-1.8 4.6-18.9-11zM936 382.1l21.4 12.3-3.2 3.9 13.5 .6-7.2-11.4-1.8 4.7-21.4-12.3zM969 382.1l22.4 12.8-3.1 3.9 13.5 .5-7.3-11.3-1.8 4.6-22.4-12.7zM1002 382.1l21.2 11.4-3 4 13.4 .2-7.5-11.2-1.7 4.8-21.1-11.4zM1035 382.1l18.8 10.2-3.1 4 13.5 .2-7.5-11.2-1.7 4.7-18.8-10.1zM1068 382.1l17.2 9.6-3.1 3.9 13.5 .4-7.4-11.3-1.7 4.7-17.3-9.5zM-51.4 407.4l5-17.3 4.5 2.1-2.7-13.2-9.3 9.8 5 .6-5 17.2zM-18.4 407.4l4.9-17.3 4.6 2.1-2.7-13.2-9.3 9.8 4.9 .6-4.9 17.2zM14.6 407.4l4.9-17.3 4.6 2.1-2.8-13.2-9.2 9.8 4.9 .6-4.9 17.2zM47.6 407.4l4.9-17.3 4.5 2.1-2.7-13.2-9.3 9.8 5 .6-4.9 17.2zM80.5 407.4l5-17.3 4.5 2.1-2.7-13.2-9.3 9.8 5 .6-4.9 17.2zM113.5 407.4l6.9-19.2 4.4 2.4-1.8-13.4-9.9 9.1 4.9 1-6.9 19.3zM146.5 407.5l8.2-20.6 4.3 2.5-1.3-13.4-10.3 8.8 4.9 1.1-8.3 20.6zM179.4 407.5l9.4-21.7 4.2 2.7-1-13.5-10.4 8.5 4.8 1.3-9.4 21.7zM212.4 407.6l10.5-21 4 2.9-.2-13.5-10.9 7.9 4.7 1.5-10.5 21zM245.3 407.7l12-19.1 3.8 3.2 1.1-13.4-11.7 6.8 4.6 2-12 19.1zM278.2 407.8l13.9-17.3 3.4 3.7 2.7-13.2-12.4 5.4 4.3 2.5-14 17.3zM311.1 407.9l15.7-15.8 2.9 4 4-12.9-12.8 4.1 4 2.9-15.7 15.9zM343.9 408l15.5-12.8 2.5 4.3 5.2-12.5-13.2 2.9 3.8 3.3-15.4 12.8zM376.8 408.1l15.9-9.7 1.9 4.6 7-11.5-13.5 .9 3.3 3.8-16 9.7zM409.6 408.2l15.6-7.3 1.4 4.8 8.2-10.7-13.5-.6 2.8 4.2-15.6 7.2zM442.5 408.2l15.6-6 1 4.9 8.9-10.1-13.4-1.5 2.5 4.3-15.5 6zM475.4 408.2l16.9-5 .7 4.9 9.6-9.4-13.2-2.5 2.1 4.5-16.9 5.1zM508.3 408.3l17.2-4.3 .4 5 10.1-9-13.1-3.2 1.9 4.7-17.1 4.2zM541.2 408.3l17.3-2.9 0 5 10.8-8.2-12.9-4.2 1.6 4.8-17.2 2.9zM574.2 408.3l14.9-2.5 .1 5 10.7-8.1-12.8-4.2 1.6 4.7-15 2.5zM607.1 408.3l13.9-1.7-.2 5 11.1-7.7-12.6-4.7 1.4 4.8-13.9 1.7zM640 408.3l12.7-1-.4 5 11.4-7.2-12.4-5.3 1.2 4.9-12.7 1zM672.9 408.3l12.7-.6-.6 4.9 11.7-6.8-12.3-5.6 1 4.9-12.6 .6zM705.9 408.3l10.2-.2-.7 4.9 11.9-6.5-12.1-6 .8 5-10.2 .2zM738.8 408.3l9 .5-1.1 4.9 12.3-5.5-11.5-6.9 .5 4.9-9.1-.5zM771.7 408.3l6.8 .4-1.1 4.9 12.3-5.4-11.5-7 .4 5-6.7-.5zM804.3 408.2l8.6 3.2-2.5 4.4 13.4-1.7-9-10-1 4.9-8.6-3.2zM837.2 408.1l10.3 5.5-3 4 13.5 .1-7.7-11.1-1.6 4.7-10.3-5.4zM869.9 408l11.4 8.7-3.6 3.5 13.2 2.3-5.6-12.2-2.4 4.4-11.4-8.7zM902.8 407.9l13.3 12.6-4 3 13 3.7-4.4-12.7-2.8 4.1-13.3-12.5zM935.7 407.8l13.3 17.3-4.4 2.4 12.3 5.7-2.4-13.3-3.4 3.7-13.4-17.4zM968.6 407.7l13 20.4-4.6 2 11.7 6.7-1.2-13.4-3.7 3.3-13-20.4zM1001.6 407.8l15.5 18.8-4.3 2.5 12.4 5.3-2.7-13.2-3.4 3.7-15.5-18.7zM1034.7 407.9l19.3 18.5-3.9 3 12.9 3.8-4.3-12.8-2.9 4.1-19.3-18.4zM1067.7 407.9l18.9 18.3-3.9 3 12.9 3.8-4.3-12.8-2.9 4.1-18.9-18.2zM-51.6 429.8l10.5-12.7 3.3 3.7 2.8-13.2-12.4 5.3 4.3 2.5-10.5 12.8zM-18.6 429.8l10.5-12.7 3.3 3.7 2.8-13.2-12.4 5.3 4.3 2.5-10.5 12.8zM14.4 429.8l10.4-12.7 3.4 3.7 2.7-13.2-12.4 5.3 4.3 2.5-10.5 12.8zM47.3 429.8l10.5-12.7 3.3 3.7 2.8-13.2-12.4 5.3 4.3 2.5-10.5 12.8zM80.3 429.8l10.5-12.7 3.3 3.7 2.8-13.2-12.4 5.3 4.3 2.5-10.5 12.8zM113.2 429.9l10.5-11.7 3.2 3.9 3.3-13.1-12.6 4.8 4.2 2.7-10.5 11.6zM146.1 430l11.3-10.4 2.8 4.2 4.6-12.7-13.1 3.5 3.9 3.1-11.2 10.3zM179.1 430l10-8.3 2.5 4.3 5.2-12.5-13.2 2.9 3.8 3.3-10 8.3zM212 430.1l10.9-7.8 2.2 4.4 6.1-12-13.4 1.9 3.6 3.5-10.9 7.8zM244.9 430.1l11-7 2 4.6 6.8-11.7-13.5 1.1 3.3 3.8-11 7zM277.8 430.2l11-5.7 1.5 4.8 7.9-11-13.5-.1 2.9 4-11 5.6zM310.7 430.2l10.8-4.9 1.3 4.8 8.3-10.6-13.4-.8 2.7 4.2-10.8 4.9zM343.5 430.2l11.1-3.5 .7 4.9 9.5-9.6-13.3-2.3 2.3 4.5-11.1 3.6zM376.4 430.3l11.2-3.1 .6 5 9.9-9.2-13.2-2.9 2.1 4.6-11.3 3zM409.4 430.3l11.2-3.1 .6 5 9.9-9.2-13.2-2.9 2 4.6-11.2 3zM442.4 430.3l10.5-2.6 .4 5 10.1-8.9-13.1-3.2 2 4.6-10.6 2.5zM475.3 430.3l10.8-2.4 .3 5 10.3-8.7-13-3.5 1.8 4.6-10.8 2.4zM508.3 430.3l10.1-2.3 .3 4.9 10.3-8.7-13.1-3.4 1.9 4.6-10.1 2.3zM541.2 430.3l6-1.1 .1 5 10.7-8.2-12.9-4.1 1.6 4.8-6 1zM573 429.3l.2 .6-3.9 .7 7.6 7.4 1.7-10.6-3.5 1.9-.2-.6zM605.6 429l0 .8-4.9-.8 6.2 12 6.3-12-5 .8 0-.8zM638.6 429l0 .8-4.9-.8 6.2 12 6.2-12-4.9 .8 0-.8zM671.6 429l0 .8-5-.8 6.3 12 6.2-12-4.9 .8 0-.8zM704.6 429l0 .8-4.7-.8 6 11.5 6-11.5-4.8 .8 0-.8zM737.9 429.3l.2 .6-4 .7 7.7 7.4 1.7-10.6-3.5 1.9-.2-.6zM771.7 430.1l.7 .1-1.1 4 10.5-4.2-9.5-6.2 .3 4.2-.7-.1zM805.5 428.5l-.3-.5 3.2-1.6-8.6-4.4 1.3 9.6 2.6-2.5 .3 .4zM836.6 429.5l2.9 7.6-4.9 1 10.2 8.9 1.4-13.4-4.3 2.5-2.9-7.6zM869.5 429.5l4.2 10.6-4.9 1.1 10.2 8.8 1.4-13.4-4.3 2.5-4.2-10.6zM902.5 429.6l6 12.5-4.8 1.4 10.7 8.1 .5-13.5-4.1 2.8-5.9-12.5zM935.5 429.6l5.7 11.4-4.7 1.5 10.9 7.9 .2-13.5-4 2.9-5.7-11.4zM968.6 429.7l5.8 8.7-4.6 2.1 11.9 6.5-1.5-13.4-3.6 3.4-5.8-8.7zM1001.6 429.8l5.5 7.6-4.5 2.2 12 6.1-1.9-13.4-3.5 3.6-5.5-7.7zM1034.6 429.8l6.1 7.9-4.3 2.4 12.2 5.6-2.4-13.3-3.4 3.7-6.2-7.9zM1067.6 429.8l5.9 7.3-4.3 2.6 12.4 5.3-2.7-13.2-3.3 3.7-6-7.3zM-53.5 463.1l.3 .6-3.6 1.5 9.2 5.4-.8-10.6-3 2.6-.3-.5zM-20.5 463.1l.3 .6-3.6 1.5 9.2 5.4-.9-10.6-2.9 2.6-.4-.5zM12.5 463.1l.3 .6-3.6 1.5 9.1 5.4-.8-10.6-3 2.6-.3-.5zM45.5 463.1l.3 .6-3.7 1.5 9.2 5.4-.8-10.6-3 2.6-.3-.5zM78.4 463.1l.4 .6-3.7 1.5 9.2 5.4-.8-10.6-3 2.6-.3-.5zM112.9 463.7l4.3-2.4 1.8 4.7 7.3-11.4-13.5 .5 3.1 3.9-4.3 2.5zM145.8 463.8l5.7-2.5 1.3 4.8 8.5-10.5-13.5-.9 2.7 4.2-5.8 2.5zM178.7 463.8l6.8-2.3 .9 4.9 9.2-9.8-13.3-2 2.3 4.4-6.8 2.4zM211.6 463.8l8.3-2.6 .8 5 9.5-9.6-13.3-2.3 2.3 4.4-8.4 2.7zM244.5 463.9l8.4-2.1 .5 4.9 10.1-8.9-13.1-3.2 1.9 4.6-8.4 2.1zM277.4 463.9l10.2-2.3 .3 4.9 10.3-8.7-13.1-3.4 1.9 4.6-10.1 2.3zM310.2 463.9l8.9-.5-.5 4.9 11.5-6.9-12.3-5.5 1.1 4.9-8.8 .5zM343.1 463.9l9.3 0-.7 4.9 11.9-6.2-11.9-6.2 .7 4.9-9.3 0zM376.1 463.9l8.3 0-.8 4.9 12-6.2-12-6.2 .8 4.9-8.3 0zM409 463.9l8.6 .4-1 4.9 12.3-5.6-11.7-6.8 .6 4.9-8.7-.4zM442 463.9l8.8 .4-1 4.9 12.2-5.6-11.6-6.8 .5 4.9-8.8-.4zM474.9 463.9l5.9 .3-1.1 4.9 12.3-5.5-11.6-6.9 .5 4.9-5.8-.3zM507.9 463.9l3.9 .3-1.2 4.8 12.4-5.4-11.5-7 .4 5-3.8-.3zM540.9 463.9l.7 0-1.1 4.8 12.2-5.1-11.2-7.1 .3 4.9-.7-.1zM573.8 463.6l.6 0-1 3.7 9.5-3.7-8.4-5.7 .1 3.8-.5-.1zM606.2 462.9l.2 .5-3.1 .8 6.6 5.4 .7-8.6-2.7 1.7-.2-.4zM639.1 462.7l.1 .5-2.9-.1 4.6 6.5 2.7-7.5-2.9 .8 0-.4zM673 462.1l-.3-.1 .7-2-5.5 1.6 4.5 3.6 0-2.1 .4 0zM705.9 462.1l-.4 0 .4-2.1-5 2.6 5 2.6-.4-2.1 .4 0zM738.8 462.1l-.3 0 .3-2.1-5 2.6 5 2.6-.3-2.1 .3 0zM771.8 462.2l-.3 0 .3-1.7-4 2.1 4 2.1-.3-1.7 .3 0zM804.8 462.3l-.2 0 .2-1.3-3 1.6 3 1.6-.2-1.3 .2 0zM839.1 462.6l-.7 1.1-1.3 0-.6-1.1 .6-1.1 1.3 0zM872 462.6l-.6 1.1-1.3 0-.7-1.1 .7-1.1 1.3 0zM905 462.6l-.6 1.1-1.3 0-.7-1.1 .7-1.1 1.3 0zM938 462.6l-.7 1.1-1.3 0-.6-1.1 .6-1.1 1.3 0zM971 462.6l-.7 1.1-1.3 0-.6-1.1 .6-1.1 1.3 0zM1002.6 462.3l-.1 0 .1-1.3-3 1.6 3 1.6-.1-1.3 .1 0zM1035.6 462.3l-.2 0 .2-1.3-3 1.6 3 1.6-.2-1.3 .2 0zM1068.6 462.2l-.3 0 .3-1.7-4 2.1 4 2.1-.3-1.7 .3 0zM1101.6 462.2l-.3 0 .3-1.7-4 2.1 4 2.1-.3-1.7 .3 0zM1134.6 462.2l-.3 0 .3-1.7-4 2.1 4 2.1-.3-1.7 .3 0zM1167.5 462.2l-.2 0 .2-1.7-4 2.1 4 2.1-.2-1.7 .2 0zM1200.5 462.2l-.3 0 .3-1.7-4 2.1 4 2.1-.3-1.7 .3 0zM1233.5 462.2l-.3 0 .3-1.7-4 2.1 4 2.1-.3-1.7 .3 0zM81.9 488l-.4 0 .6-2.1-5.3 2.2 4.7 3.1-.1-2.1 .3 0zM115.8 487.8l-.4 0 .6-2.9-7.2 3.2 6.7 4.1-.2-2.9 .4 0zM149.6 487.6l-.6 0 .8-3.5-8.8 4 8.2 4.9-.3-3.6 .5 .1zM183.2 487.2l-.6 0 .6-4.1-10 5.2 10 5.2-.6-4.1 .6 0zM216.5 487.4l-.7 0 .9-4.3-10.7 5 10.2 5.9-.5-4.3 .7 0zM249.6 487.9l-.7-.1 1.3-4.2-11.3 4 9.8 6.9-.1-4.4 .7 .1zM276 482.8l0 .7-4.6-.7 5.8 11 5.7-11-4.5 .7 0-.7zM308.9 482.8l0 .7-4.5-.7 5.7 11 5.8-11-4.6 .7 0-.7zM341.9 482.8l0 .7-4.5-.7 5.7 11 5.8-11-4.6 .7 0-.7zM374.9 482.8l0 .7-4.5-.7 5.7 11 5.7-11-4.5 .7 0-.7zM407.9 482.8l0 .7-4.6-.7 5.8 11 5.7-11-4.5 .7 0-.7zM440.8 482.8l0 .7-4.5-.7 5.7 11 5.8-11-4.6 .7 0-.7zM473.8 482.8l0 .7-4.5-.7 5.7 11 5.8-11-4.6 .7 0-.7zM506.8 482.8l0 .7-4.5-.7 5.7 11 5.7-11-4.5 .7 0-.7zM540.4 483.4l0 .7-3.9-1.1 4 10.1 5.9-9-4 .2 .1-.6zM576.3 484.6l-.4 .4-2.1-2.8-2.9 9.1 9.2-2.9-2.9-2.1 .4-.3zM610.3 487l-.4 .1 0-3-6.5 4.7 7.5 2.7-.8-2.9 .4 0zM642.4 487.8l-.3 0 .3-2.1-5 2.6 5 2.6-.3-2.1 .3 0zM675.4 487.8l-.3 0 .3-2.1-5 2.6 5 2.6-.3-2.1 .3 0zM707.2 488.3l-.7 1.1-1.3 0-.6-1.1 .6-1.1 1.3 0zM740.1 488.3l-.6 1.1-1.3 0-.7-1.1 .7-1.1 1.3 0zM773.1 488.3l-.6 1.1-1.3 0-.7-1.1 .7-1.1 1.3 0zM806.1 488.3l-.7 1.1-1.3 0-.6-1.1 .6-1.1 1.3 0zM839.1 488.3l-.7 1.1-1.3 0-.6-1.1 .6-1.1 1.3 0zM872 488.3l-.6 1.1-1.3 0-.7-1.1 .7-1.1 1.3 0zM905 488.3l-.6 1.1-1.3 0-.7-1.1 .7-1.1 1.3 0zM938 488.3l-.7 1.1-1.3 0-.6-1.1 .6-1.1 1.3 0zM971.4 487.9l-.2 0 .2-1.4-3.5 1.8 3.5 1.8-.2-1.4 .2 0zM1006.6 487.4l-.5 0 .5-3.3-8 4.2 8 4.2-.5-3.3 .5 0zM1040.4 486.2l-.6 .1-.2-4.2-9 7.2 11.1 3.2-1.5-4 .6-.1zM1073 486.8l-.6 .1 .2-3.8-8.5 5.7 9.5 3.7-1-3.7 .6 0zM1106 486.8l-.6 .1 .2-3.8-8.5 5.7 9.5 3.7-1-3.7 .6 0zM1138.9 486.8l-.5 .1 .1-3.8-8.4 5.7 9.5 3.7-1-3.7 .6 0zM1171.9 486.8l-.6 .1 .2-3.8-8.5 5.7 9.6 3.7-1-3.7 .5 0zM1204.9 486.8l-.6 .1 .2-3.8-8.5 5.7 9.5 3.7-1-3.7 .6 0zM1237.9 486.8l-.6 .1 .2-3.8-8.5 5.7 9.5 3.7-1-3.7 .6 0zM-57.1 510.8l.6 0-.6 3.7 9-4.7-9-4.7 .6 3.7-.6 0zM-24.1 510.8l.6 0-.6 3.7 9-4.7-9-4.7 .6 3.7-.6 0zM8.8 510.8l.6 0-.6 3.7 9-4.7-9-4.7 .6 3.7-.6 0zM41.8 510.8l.6 0-.6 3.7 9-4.7-9-4.7 .6 3.7-.6 0zM74.8 510.8l.6 0-.6 3.7 9-4.7-9-4.7 .6 3.7-.6 0zM107.8 510.8l.6 0-.6 3.7 9-4.7-9-4.7 .6 3.7-.6 0zM141.8 510.8l.5 0-.3 2.9 6.8-4.1-7.3-3.2 .7 2.9-.5 0zM176.2 511.3l.3-.1 .5 1.9 3.5-4.3-5.6-.3 1.2 1.7-.3 .1zM211.7 512l0-.2 1.9 .2-2.4-4.4-2.3 4.4 1.8-.2 0 .2zM244.7 512l0-.2 1.8 .2-2.3-4.4-2.4 4.4 1.9-.2 0 .2zM277.6 511.8l0-.3 1.6 .3-2-4-2.1 4 1.6-.3 0 .3zM310.5 511.6l0-.3 1.5 .3-1.9-3.5-1.8 3.5 1.5-.3 0 .3zM344.4 509.8l-.6 1.1-1.3 0-.7-1.1 .7-1.1 1.3 0zM377.4 509.8l-.7 1.1-1.3 0-.6-1.1 .6-1.1 1.3 0zM410.4 509.8l-.7 1.1-1.3 0-.6-1.1 .6-1.1 1.3 0zM443.3 509.8l-.6 1.1-1.3 0-.7-1.1 .7-1.1 1.3 0zM476.3 509.8l-.6 1.1-1.3 0-.7-1.1 .7-1.1 1.3 0zM509.3 509.8l-.7 1.1-1.3 0-.6-1.1 .6-1.1 1.3 0zM542.3 509.8l-.7 1.1-1.3 0-.6-1.1 .6-1.1 1.3 0zM573.6 508.1l0 .2-1.5-.2 1.8 3.5 1.9-3.5-1.5 .2 0-.2zM608.2 509.8l-.6 1.1-1.3 0-.7-1.1 .7-1.1 1.3 0zM641.2 509.8l-.6 1.1-1.3 0-.7-1.1 .7-1.1 1.3 0zM674.2 509.8l-.7 1.1-1.3 0-.6-1.1 .6-1.1 1.3 0zM707.2 509.8l-.7 1.1-1.3 0-.6-1.1 .6-1.1 1.3 0zM740.1 509.8l-.6 1.1-1.3 0-.7-1.1 .7-1.1 1.3 0zM773.1 509.8l-.6 1.1-1.3 0-.7-1.1 .7-1.1 1.3 0zM806.1 509.8l-.7 1.1-1.3 0-.6-1.1 .6-1.1 1.3 0zM839.1 509.8l-.7 1.1-1.3 0-.6-1.1 .6-1.1 1.3 0zM871.1 511.6l0-.3 1.5 .3-1.9-3.5-1.8 3.5 1.5-.3 0 .3zM904.1 511.6l0-.3 1.4 .3-1.8-3.5-1.8 3.5 1.4-.3 0 .3zM937.1 511.8l0-.3 1.7 .3-2.1-4-2.1 4 1.7-.3 0 .3zM970.9 513.2l0-.5 2.9 .1-4.6-6.5-2.7 7.5 2.8-.8 .1 .4zM1006.9 512.5l-.4-.4 3.3-2.5-10.7-3.3 3.4 10.7 2.4-3.4 .5 .5zM1035.7 515l.1-.6 4 1.4-3.2-11-7.2 9 4.3 .1-.2 .7zM1069.3 512.8l0-.4 2.4 .4-3.1-6-3.1 6 2.4-.4 0 .4zM-58.1 529.7l.7 0-.7 4.5 11-5.7-11-5.7 .7 4.5-.7 0zM-25.1 529.7l.7 0-.7 4.5 11-5.7-11-5.7 .7 4.5-.7 0zM7.8 529.7l.8 0-.8 4.5 11-5.7-11-5.7 .8 4.5-.8 0zM40.8 529.7l.7 0-.7 4.5 11-5.7-11-5.7 .7 4.5-.7 0zM73.8 529.7l.7 0-.7 4.5 11-5.7-11-5.7 .7 4.5-.7 0zM106.8 529.7l.7 0-.7 4.5 11-5.7-11-5.7 .7 4.5-.7 0zM140.3 529.6l.6 0-.6 4.1 9.9-5.2-9.9-5.2 .6 4.1-.6 0zM173.3 529.6l.6 0-.6 4.1 9.9-5.2-9.9-5.2 .6 4.1-.6 0zM206.8 529.5l.6 0-.6 3.6 8.8-4.6-8.8-4.6 .6 3.6-.6 0zM239.8 529.5l.6 0-.6 3.6 8.8-4.6-8.8-4.6 .6 3.6-.6 0zM273 529.4l.6 0-.6 3.4 8.3-4.3-8.3-4.3 .6 3.4-.6 0zM306.3 529.3l.5 0-.5 3.2 7.7-4-7.7-4 .5 3.2-.5 0zM339.3 529.3l.5 0-.5 3.2 7.7-4-7.7-4 .5 3.2-.5 0zM373.1 529.2l.4 0-.4 2.5 6-3.2-6-3.2 .4 2.5-.4 0zM406.9 529l.3 0-.3 1.8 4.4-2.3-4.4-2.3 .3 1.8-.3 0zM443.3 528.5l-.6 1.1-1.3 0-.7-1.1 .7-1.1 1.3 0zM476.3 528.5l-.6 1.1-1.3 0-.7-1.1 .7-1.1 1.3 0zM509.3 528.5l-.7 1.1-1.3 0-.6-1.1 .6-1.1 1.3 0zM542.3 528.5l-.7 1.1-1.3 0-.6-1.1 .6-1.1 1.3 0zM575.2 528.5l-.6 1.1-1.3 0-.7-1.1 .7-1.1 1.3 0zM608.2 528.5l-.6 1.1-1.3 0-.7-1.1 .7-1.1 1.3 0zM641.2 528.5l-.6 1.1-1.3 0-.7-1.1 .7-1.1 1.3 0zM674.2 528.5l-.7 1.1-1.3 0-.6-1.1 .6-1.1 1.3 0zM707.2 528.5l-.7 1.1-1.3 0-.6-1.1 .6-1.1 1.3 0zM740.1 528.5l-.6 1.1-1.3 0-.7-1.1 .7-1.1 1.3 0zM773.1 528.5l-.6 1.1-1.3 0-.7-1.1 .7-1.1 1.3 0zM806.1 528.5l-.7 1.1-1.3 0-.6-1.1 .6-1.1 1.3 0zM839.1 528.5l-.7 1.1-1.3 0-.6-1.1 .6-1.1 1.3 0zM872 528.5l-.6 1.1-1.3 0-.7-1.1 .7-1.1 1.3 0zM905 528.5l-.6 1.1-1.3 0-.7-1.1 .7-1.1 1.3 0zM938 528.5l-.7 1.1-1.3 0-.6-1.1 .6-1.1 1.3 0zM969.3 526.9l0 .2-1.4-.2 1.8 3.2 1.7-3.2-1.4 .2 0-.2zM999.3 529.2l.5 0-.5 2.7 6.6-3.4-6.6-3.4 .5 2.7-.5 0zM1031.8 529.3l.5 0-.5 3.2 7.7-4-7.7-4 .5 3.2-.5 0zM1065.8 529.1l.4 0-.4 2.3 5.5-2.9-5.5-2.9 .4 2.3-.4 0zM79.1 556l-.4-2.9 5 .1-7.9-11-4.5 12.7 4.8-1.4 .4 2.9zM112.1 556l-.5-2.9 5 .1-7.8-11-4.5 12.7 4.8-1.4 .4 2.9zM145 556l-.4-2.9 5 .1-7.8-11-4.5 12.7 4.7-1.4 .5 2.9zM178 556l-.4-2.9 5 .1-7.9-11-4.5 12.7 4.8-1.4 .4 2.9zM211 556l-.4-2.9 5 .1-7.9-11-4.5 12.7 4.8-1.4 .4 2.9zM244 556l-.4-2.9 5 .1-7.9-11-4.5 12.7 4.8-1.4 .4 2.9zM276.9 556l-.4-2.9 5 .1-7.8-11-4.5 12.7 4.8-1.4 .4 2.9zM309.9 556l-.4-2.9 5 .1-7.9-11-4.4 12.7 4.7-1.4 .4 2.9zM342.9 556l-.4-2.9 5 .1-7.9-11-4.5 12.7 4.8-1.4 .4 2.9zM375.9 556l-.4-2.9 5 .1-7.9-11-4.5 12.7 4.8-1.4 .4 2.9zM408.9 556l-.5-2.9 5 .1-7.8-11-4.5 12.7 4.8-1.4 .4 2.9zM441.8 556l-.4-2.9 5 .1-7.9-11-4.4 12.7 4.7-1.4 .5 2.9zM474.8 556l-.4-2.9 5 .1-7.9-11-4.5 12.7 4.8-1.4 .4 2.9zM507.8 556l-.4-2.9 5 .1-7.9-11-4.5 12.7 4.8-1.4 .4 2.9zM540.8 556l-.5-2.9 5 .1-7.8-11-4.5 12.7 4.8-1.4 .4 2.9zM575.2 555.2l0-.8 5 .8-6.3-12-6.2 12 4.9-.8 0 .8zM607.9 553.7l0-.6 3.7 .6-4.7-9-4.7 9 3.7-.6 0 .6zM640.3 551.2l0-.3 1.7 .3-2.1-4-2.1 4 1.7-.3 0 .3zM674.5 549.4l-.2-.1 .6-1.2-3.5 .6 2.5 2.6 .2-1.3 .2 0zM707.5 549.4l-.2-.1 .6-1.2-3.5 .6 2.4 2.6 .3-1.3 .1 0zM740.4 549.4l-.2-.1 .7-1.2-3.6 .6 2.5 2.6 .2-1.3 .2 0zM773.1 549.2l-.6 1.1-1.3 0-.7-1.1 .7-1.1 1.3 0zM806.1 549.2l-.7 1.1-1.3 0-.6-1.1 .6-1.1 1.3 0zM839.1 549.2l-.7 1.1-1.3 0-.6-1.1 .6-1.1 1.3 0zM872 549.2l-.6 1.1-1.3 0-.7-1.1 .7-1.1 1.3 0zM904.8 554.2l0-.7 4.1 .7-5.2-10-5.2 10 4.1-.7 0 .7zM937.9 555l0-.8 4.8 .8-6-11.5-6 11.5 4.7-.8 0 .8zM971 555.5l0-1.4 4.9 .8-6.2-11.9-6.3 11.9 5-.8 0 1.4zM1003.9 555.7l0-1.8 5 .8-6.3-12-6.2 12 4.9-.8 0 1.8zM1036.9 555.7l0-1.8 5 .8-6.3-12-6.2 12 4.9-.8 0 1.8zM1069.7 554.2l0-.7 4.1 .7-5.2-10-5.2 10 4.1-.7 0 .7zM76.6 563.7l-.4-2.9 5 .1-7.9-11-4.5 12.7 4.8-1.4 .4 2.9zM109.6 563.7l-.5-2.9 5 .1-7.8-11-4.5 12.7 4.8-1.4 .4 2.9zM142.5 563.7l-.4-2.9 5 .1-7.8-11-4.5 12.7 4.7-1.4 .5 2.9zM175.5 563.7l-.4-2.9 5 .1-7.9-11-4.5 12.7 4.8-1.4 .4 2.9zM208.5 563.7l-.4-2.9 5 .1-7.9-11-4.5 12.7 4.8-1.4 .4 2.9zM241.5 563.7l-.4-2.9 5 .1-7.9-11-4.5 12.7 4.8-1.4 .4 2.9zM274.4 563.7l-.4-2.9 5 .1-7.8-11-4.5 12.7 4.8-1.4 .4 2.9zM307.4 563.7l-.4-2.9 5 .1-7.9-11-4.4 12.7 4.7-1.4 .4 2.9zM340.4 563.7l-.4-2.9 5 .1-7.9-11-4.5 12.7 4.8-1.4 .4 2.9zM373.4 563.7l-.4-2.9 5 .1-7.9-11-4.5 12.7 4.8-1.4 .4 2.9zM406.4 563.7l-.5-2.9 5 .1-7.8-11-4.5 12.7 4.8-1.4 .4 2.9zM439.3 563.7l-.4-2.9 5 .1-7.9-11-4.4 12.7 4.7-1.4 .5 2.9zM472.3 563.7l-.4-2.9 5 .1-7.9-11-4.5 12.7 4.8-1.4 .4 2.9zM505.3 563.7l-.4-2.9 5 .1-7.9-11-4.5 12.7 4.8-1.4 .4 2.9zM538.3 563.7l-.5-2.9 5 .1-7.8-11-4.5 12.7 4.8-1.4 .4 2.9zM575.2 562.9l0-.8 5 .8-6.3-12-6.2 12 4.9-.8 0 .8zM607.9 561.4l0-.6 3.7 .6-4.7-9-4.7 9 3.7-.6 0 .6zM640.3 558.9l0-.3 1.7 .3-2.1-4-2.1 4 1.7-.3 0 .3zM674.5 557.1l-.2-.1 .6-1.2-3.5 .6 2.5 2.6 .2-1.3 .2 0zM707.5 557.1l-.2-.1 .6-1.2-3.5 .6 2.4 2.6 .3-1.3 .1 0zM740.4 557.1l-.2-.1 .7-1.2-3.6 .6 2.5 2.6 .2-1.3 .2 0zM773.1 556.9l-.6 1.1-1.3 0-.7-1.1 .7-1.1 1.3 0zM806.1 556.9l-.7 1.1-1.3 0-.6-1.1 .6-1.1 1.3 0zM839.1 556.9l-.7 1.1-1.3 0-.6-1.1 .6-1.1 1.3 0zM872 556.9l-.6 1.1-1.3 0-.7-1.1 .7-1.1 1.3 0zM904.8 561.9l0-.7 4.1 .7-5.2-10-5.2 10 4.1-.7 0 .7zM937.9 562.6l0-.7 4.8 .7-6-11.5-6 11.5 4.7-.7 0 .7zM971 563.1l0-1.3 4.9 .8-6.2-12-6.3 12 5-.8 0 1.3zM1003.9 563.4l0-1.8 5 .8-6.3-12-6.2 12 4.9-.8 0 1.8zM1036.9 563.4l0-1.8 5 .8-6.3-12-6.2 12 4.9-.8 0 1.8zM1069.7 561.9l0-.7 4.1 .7-5.2-10-5.2 10 4.1-.7 0 .7zM81.1 563.7l-.4-2.9 5 .1-7.9-11-4.5 12.7 4.8-1.4 .4 2.9zM114.1 563.7l-.5-2.9 5 .1-7.8-11-4.5 12.7 4.8-1.4 .4 2.9zM147 563.7l-.4-2.9 5 .1-7.8-11-4.5 12.7 4.7-1.4 .5 2.9zM180 563.7l-.4-2.9 5 .1-7.9-11-4.5 12.7 4.8-1.4 .4 2.9zM213 563.7l-.4-2.9 5 .1-7.9-11-4.5 12.7 4.8-1.4 .4 2.9zM246 563.7l-.4-2.9 5 .1-7.9-11-4.5 12.7 4.8-1.4 .4 2.9zM278.9 563.7l-.4-2.9 5 .1-7.8-11-4.5 12.7 4.8-1.4 .4 2.9zM311.9 563.7l-.4-2.9 5 .1-7.9-11-4.4 12.7 4.7-1.4 .4 2.9zM344.9 563.7l-.4-2.9 5 .1-7.9-11-4.5 12.7 4.8-1.4 .4 2.9zM377.9 563.7l-.4-2.9 5 .1-7.9-11-4.5 12.7 4.8-1.4 .4 2.9zM410.9 563.7l-.5-2.9 5 .1-7.8-11-4.5 12.7 4.8-1.4 .4 2.9zM443.8 563.7l-.4-2.9 5 .1-7.9-11-4.4 12.7 4.7-1.4 .5 2.9zM476.8 563.7l-.4-2.9 5 .1-7.9-11-4.5 12.7 4.8-1.4 .4 2.9zM509.8 563.7l-.4-2.9 5 .1-7.9-11-4.5 12.7 4.8-1.4 .4 2.9zM542.8 563.7l-.5-2.9 5 .1-7.8-11-4.5 12.7 4.8-1.4 .4 2.9zM74.6 572.2l-.4-2.9 5 .1-7.9-11-4.5 12.7 4.8-1.4 .4 2.9zM107.6 572.2l-.5-2.9 5 .1-7.8-11-4.5 12.7 4.8-1.4 .4 2.9zM140.5 572.2l-.4-2.9 5 .1-7.8-11-4.5 12.7 4.7-1.4 .5 2.9zM173.5 572.2l-.4-2.9 5 .1-7.9-11-4.5 12.7 4.8-1.4 .4 2.9zM206.5 572.2l-.4-2.9 5 .1-7.9-11-4.5 12.7 4.8-1.4 .4 2.9zM239.5 572.2l-.4-2.9 5 .1-7.9-11-4.5 12.7 4.8-1.4 .4 2.9zM272.4 572.2l-.4-2.9 5 .1-7.8-11-4.5 12.7 4.8-1.4 .4 2.9zM305.4 572.2l-.4-2.9 5 .1-7.9-11-4.4 12.7 4.7-1.4 .4 2.9zM338.4 572.2l-.4-2.9 5 .1-7.9-11-4.5 12.7 4.8-1.4 .4 2.9zM371.4 572.2l-.4-2.9 5 .1-7.9-11-4.5 12.7 4.8-1.4 .4 2.9zM404.4 572.2l-.5-2.9 5 .1-7.8-11-4.5 12.7 4.8-1.4 .4 2.9zM437.3 572.2l-.4-2.9 5 .1-7.9-11-4.4 12.7 4.7-1.4 .5 2.9zM470.3 572.2l-.4-2.9 5 .1-7.9-11-4.5 12.7 4.8-1.4 .4 2.9zM503.3 572.2l-.4-2.9 5 .1-7.9-11-4.5 12.7 4.8-1.4 .4 2.9zM536.3 572.2l-.5-2.9 5 .1-7.8-11-4.5 12.7 4.8-1.4 .4 2.9zM575.2 571.4l0-.8 5 .8-6.3-12-6.2 12 4.9-.8 0 .8zM607.9 569.9l0-.6 3.7 .6-4.7-9-4.7 9 3.7-.6 0 .6zM640.3 567.4l0-.3 1.7 .3-2.1-4-2.1 4 1.7-.3 0 .3zM674.5 565.6l-.2-.1 .6-1.2-3.5 .6 2.5 2.6 .2-1.3 .2 0zM707.5 565.6l-.2-.1 .6-1.2-3.5 .6 2.4 2.6 .3-1.3 .1 0zM740.4 565.6l-.2-.1 .7-1.2-3.6 .6 2.5 2.6 .2-1.3 .2 0zM773.1 565.4l-.6 1.1-1.3 0-.7-1.1 .7-1.1 1.3 0zM806.1 565.4l-.7 1.1-1.3 0-.6-1.1 .6-1.1 1.3 0zM839.1 565.4l-.7 1.1-1.3 0-.6-1.1 .6-1.1 1.3 0zM872 565.4l-.6 1.1-1.3 0-.7-1.1 .7-1.1 1.3 0zM904.8 570.4l0-.7 4.1 .7-5.2-10-5.2 10 4.1-.7 0 .7zM937.9 571.1l0-.7 4.8 .7-6-11.5-6 11.5 4.7-.7 0 .7zM971 571.6l0-1.3 4.9 .8-6.2-12-6.3 12 5-.8 0 1.3zM1003.9 571.9l0-1.8 5 .8-6.3-12-6.2 12 4.9-.8 0 1.8zM1036.9 571.9l0-1.8 5 .8-6.3-12-6.2 12 4.9-.8 0 1.8zM1069.7 570.4l0-.7 4.1 .7-5.2-10-5.2 10 4.1-.7 0 .7zM79.1 572.2l-.4-2.9 5 .1-7.9-11-4.5 12.7 4.8-1.4 .4 2.9zM112.1 572.2l-.5-2.9 5 .1-7.8-11-4.5 12.7 4.8-1.4 .4 2.9zM145 572.2l-.4-2.9 5 .1-7.8-11-4.5 12.7 4.7-1.4 .5 2.9zM178 572.2l-.4-2.9 5 .1-7.9-11-4.5 12.7 4.8-1.4 .4 2.9zM211 572.2l-.4-2.9 5 .1-7.9-11-4.5 12.7 4.8-1.4 .4 2.9zM244 572.2l-.4-2.9 5 .1-7.9-11-4.5 12.7 4.8-1.4 .4 2.9zM276.9 572.2l-.4-2.9 5 .1-7.8-11-4.5 12.7 4.8-1.4 .4 2.9zM309.9 572.2l-.4-2.9 5 .1-7.9-11-4.4 12.7 4.7-1.4 .4 2.9zM342.9 572.2l-.4-2.9 5 .1-7.9-11-4.5 12.7 4.8-1.4 .4 2.9zM375.9 572.2l-.4-2.9 5 .1-7.9-11-4.5 12.7 4.8-1.4 .4 2.9zM408.9 572.2l-.5-2.9 5 .1-7.8-11-4.5 12.7 4.8-1.4 .4 2.9zM441.8 572.2l-.4-2.9 5 .1-7.9-11-4.4 12.7 4.7-1.4 .5 2.9zM474.8 572.2l-.4-2.9 5 .1-7.9-11-4.5 12.7 4.8-1.4 .4 2.9zM507.8 572.2l-.4-2.9 5 .1-7.9-11-4.5 12.7 4.8-1.4 .4 2.9zM540.8 572.2l-.5-2.9 5 .1-7.8-11-4.5 12.7 4.8-1.4 .4 2.9zM74.1 579.1l-.4-2.9 5 .1-7.9-11-4.5 12.7 4.8-1.4 .4 2.9zM107.1 579.1l-.5-2.9 5 .1-7.8-11-4.5 12.7 4.8-1.4 .4 2.9zM140 579.1l-.4-2.9 5 .1-7.8-11-4.5 12.7 4.7-1.4 .5 2.9zM173 579.1l-.4-2.9 5 .1-7.9-11-4.5 12.7 4.8-1.4 .4 2.9zM206 579.1l-.4-2.9 5 .1-7.9-11-4.5 12.7 4.8-1.4 .4 2.9zM239 579.1l-.4-2.9 5 .1-7.9-11-4.5 12.7 4.8-1.4 .4 2.9zM271.9 579.1l-.4-2.9 5 .1-7.8-11-4.5 12.7 4.8-1.4 .4 2.9zM304.9 579.1l-.4-2.9 5 .1-7.9-11-4.4 12.7 4.7-1.4 .4 2.9zM337.9 579.1l-.4-2.9 5 .1-7.9-11-4.5 12.7 4.8-1.4 .4 2.9zM370.9 579.1l-.4-2.9 5 .1-7.9-11-4.5 12.7 4.8-1.4 .4 2.9zM403.9 579.1l-.5-2.9 5 .1-7.8-11-4.5 12.7 4.8-1.4 .4 2.9zM436.8 579.1l-.4-2.9 5 .1-7.9-11-4.4 12.7 4.7-1.4 .5 2.9zM469.8 579.1l-.4-2.9 5 .1-7.9-11-4.5 12.7 4.8-1.4 .4 2.9zM502.8 579.1l-.4-2.9 5 .1-7.9-11-4.5 12.7 4.8-1.4 .4 2.9zM535.8 579.1l-.5-2.9 5 .1-7.8-11-4.5 12.7 4.8-1.4 .4 2.9zM575.2 578.3l0-.8 5 .8-6.3-12-6.2 12 4.9-.8 0 .8zM607.9 576.8l0-.6 3.7 .6-4.7-9-4.7 9 3.7-.6 0 .6zM640.3 574.3l0-.3 1.7 .3-2.1-4-2.1 4 1.7-.3 0 .3zM674.5 572.5l-.2-.1 .6-1.2-3.5 .6 2.5 2.6 .2-1.3 .2 0zM707.5 572.5l-.2-.1 .6-1.2-3.5 .6 2.4 2.6 .3-1.3 .1 0zM740.4 572.5l-.2-.1 .7-1.2-3.6 .6 2.5 2.6 .2-1.3 .2 0zM773.1 572.3l-.6 1.1-1.3 0-.7-1.1 .7-1.1 1.3 0zM806.1 572.3l-.7 1.1-1.3 0-.6-1.1 .6-1.1 1.3 0zM839.1 572.3l-.7 1.1-1.3 0-.6-1.1 .6-1.1 1.3 0zM872 572.3l-.6 1.1-1.3 0-.7-1.1 .7-1.1 1.3 0zM904.8 577.3l0-.7 4.1 .7-5.2-10-5.2 10 4.1-.7 0 .7zM937.9 578.1l0-.8 4.8 .8-6-11.5-6 11.5 4.7-.8 0 .8zM971 578.6l0-1.4 4.9 .8-6.2-11.9-6.3 11.9 5-.8 0 1.4zM1003.9 578.8l0-1.8 5 .8-6.3-12-6.2 12 4.9-.8 0 1.8zM1036.9 578.8l0-1.8 5 .8-6.3-12-6.2 12 4.9-.8 0 1.8zM1069.7 577.3l0-.7 4.1 .7-5.2-10-5.2 10 4.1-.7 0 .7zM78.6 579.1l-.4-2.9 5 .1-7.9-11-4.5 12.7 4.8-1.4 .4 2.9zM111.6 579.1l-.5-2.9 5 .1-7.8-11-4.5 12.7 4.8-1.4 .4 2.9zM144.5 579.1l-.4-2.9 5 .1-7.8-11-4.5 12.7 4.7-1.4 .5 2.9zM177.5 579.1l-.4-2.9 5 .1-7.9-11-4.5 12.7 4.8-1.4 .4 2.9zM210.5 579.1l-.4-2.9 5 .1-7.9-11-4.5 12.7 4.8-1.4 .4 2.9zM243.5 579.1l-.4-2.9 5 .1-7.9-11-4.5 12.7 4.8-1.4 .4 2.9zM276.4 579.1l-.4-2.9 5 .1-7.8-11-4.5 12.7 4.8-1.4 .4 2.9zM309.4 579.1l-.4-2.9 5 .1-7.9-11-4.4 12.7 4.7-1.4 .4 2.9zM342.4 579.1l-.4-2.9 5 .1-7.9-11-4.5 12.7 4.8-1.4 .4 2.9zM375.4 579.1l-.4-2.9 5 .1-7.9-11-4.5 12.7 4.8-1.4 .4 2.9zM408.4 579.1l-.5-2.9 5 .1-7.8-11-4.5 12.7 4.8-1.4 .4 2.9zM441.3 579.1l-.4-2.9 5 .1-7.9-11-4.4 12.7 4.7-1.4 .5 2.9zM474.3 579.1l-.4-2.9 5 .1-7.9-11-4.5 12.7 4.8-1.4 .4 2.9zM507.3 579.1l-.4-2.9 5 .1-7.9-11-4.5 12.7 4.8-1.4 .4 2.9zM540.3 579.1l-.5-2.9 5 .1-7.8-11-4.5 12.7 4.8-1.4 .4 2.9zM75.6 585.4l-.4-2.9 5 .1-7.9-11-4.5 12.7 4.8-1.4 .4 2.9zM108.6 585.4l-.5-2.9 5 .1-7.8-11-4.5 12.7 4.8-1.4 .4 2.9zM141.5 585.4l-.4-2.9 5 .1-7.8-11-4.5 12.7 4.7-1.4 .5 2.9zM174.5 585.4l-.4-2.9 5 .1-7.9-11-4.5 12.7 4.8-1.4 .4 2.9zM207.5 585.4l-.4-2.9 5 .1-7.9-11-4.5 12.7 4.8-1.4 .4 2.9zM240.5 585.4l-.4-2.9 5 .1-7.9-11-4.5 12.7 4.8-1.4 .4 2.9zM273.4 585.4l-.4-2.9 5 .1-7.8-11-4.5 12.7 4.8-1.4 .4 2.9zM306.4 585.4l-.4-2.9 5 .1-7.9-11-4.4 12.7 4.7-1.4 .4 2.9zM339.4 585.4l-.4-2.9 5 .1-7.9-11-4.5 12.7 4.8-1.4 .4 2.9zM372.4 585.4l-.4-2.9 5 .1-7.9-11-4.5 12.7 4.8-1.4 .4 2.9zM405.4 585.4l-.5-2.9 5 .1-7.8-11-4.5 12.7 4.8-1.4 .4 2.9zM438.3 585.4l-.4-2.9 5 .1-7.9-11-4.4 12.7 4.7-1.4 .5 2.9zM471.3 585.4l-.4-2.9 5 .1-7.9-11-4.5 12.7 4.8-1.4 .4 2.9zM504.3 585.4l-.4-2.9 5 .1-7.9-11-4.5 12.7 4.8-1.4 .4 2.9zM537.3 585.4l-.5-2.9 5 .1-7.8-11-4.5 12.7 4.8-1.4 .4 2.9zM575.2 584.6l0-.8 5 .8-6.3-12-6.2 12 4.9-.8 0 .8zM607.9 583.1l0-.6 3.7 .6-4.7-9-4.7 9 3.7-.6 0 .6zM640.3 580.6l0-.3 1.7 .3-2.1-4-2.1 4 1.7-.3 0 .3zM674.5 578.8l-.2-.1 .6-1.2-3.5 .6 2.5 2.6 .2-1.3 .2 0zM707.5 578.8l-.2-.1 .6-1.2-3.5 .6 2.4 2.6 .3-1.3 .1 0zM740.4 578.8l-.2-.1 .7-1.2-3.6 .6 2.5 2.6 .2-1.3 .2 0zM773.1 578.6l-.6 1.1-1.3 0-.7-1.1 .7-1.1 1.3 0zM806.1 578.6l-.7 1.1-1.3 0-.6-1.1 .6-1.1 1.3 0zM839.1 578.6l-.7 1.1-1.3 0-.6-1.1 .6-1.1 1.3 0zM872 578.6l-.6 1.1-1.3 0-.7-1.1 .7-1.1 1.3 0zM904.8 583.6l0-.7 4.1 .7-5.2-10-5.2 10 4.1-.7 0 .7zM937.9 584.4l0-.8 4.8 .8-6-11.5-6 11.5 4.7-.8 0 .8zM971 584.9l0-1.4 4.9 .8-6.2-11.9-6.3 11.9 5-.8 0 1.4zM1003.9 585.1l0-1.8 5 .8-6.3-12-6.2 12 4.9-.8 0 1.8zM1036.9 585.1l0-1.8 5 .8-6.3-12-6.2 12 4.9-.8 0 1.8zM1069.7 583.6l0-.7 4.1 .7-5.2-10-5.2 10 4.1-.7 0 .7zM79.6 585.4l-.4-2.9 5 .1-7.9-11-4.4 12.7 4.7-1.4 .5 2.9zM112.6 585.4l-.4-2.9 5 .1-7.9-11-4.5 12.7 4.8-1.4 .4 2.9zM145.6 585.4l-.4-2.9 5 .1-7.9-11-4.5 12.7 4.8-1.4 .4 2.9zM178.6 585.4l-.5-2.9 5 .1-7.8-11-4.5 12.7 4.8-1.4 .4 2.9zM211.5 585.4l-.4-2.9 5 .1-7.8-11-4.5 12.7 4.8-1.4 .4 2.9zM244.5 585.4l-.4-2.9 5 .1-7.9-11-4.5 12.7 4.8-1.4 .4 2.9zM277.5 585.4l-.4-2.9 5 .1-7.9-11-4.5 12.7 4.8-1.4 .4 2.9zM310.5 585.4l-.4-2.9 5 .1-7.9-11-4.5 12.7 4.8-1.4 .4 2.9zM343.5 585.4l-.5-2.9 5 .1-7.8-11-4.5 12.7 4.8-1.4 .4 2.9zM376.4 585.4l-.4-2.9 5 .1-7.9-11-4.4 12.7 4.7-1.4 .5 2.9zM409.4 585.4l-.4-2.9 5 .1-7.9-11-4.5 12.7 4.8-1.4 .4 2.9zM442.4 585.4l-.4-2.9 5 .1-7.9-11-4.5 12.7 4.8-1.4 .4 2.9zM475.4 585.4l-.5-2.9 5 .1-7.8-11-4.5 12.7 4.8-1.4 .4 2.9zM508.3 585.4l-.4-2.9 5 .1-7.9-11-4.4 12.7 4.7-1.4 .5 2.9zM541.3 585.4l-.4-2.9 5 .1-7.9-11-4.5 12.7 4.8-1.4 .4 2.9zM77.6 591.3l-.4-2.9 5 .1-7.9-11-4.5 12.7 4.8-1.4 .4 2.9zM110.6 591.3l-.5-2.9 5 .1-7.8-11-4.5 12.7 4.8-1.4 .4 2.9zM143.5 591.3l-.4-2.9 5 .1-7.8-11-4.5 12.7 4.7-1.4 .5 2.9zM176.5 591.3l-.4-2.9 5 .1-7.9-11-4.5 12.7 4.8-1.4 .4 2.9zM209.5 591.3l-.4-2.9 5 .1-7.9-11-4.5 12.7 4.8-1.4 .4 2.9zM242.5 591.3l-.4-2.9 5 .1-7.9-11-4.5 12.7 4.8-1.4 .4 2.9zM275.4 591.3l-.4-2.9 5 .1-7.8-11-4.5 12.7 4.8-1.4 .4 2.9zM308.4 591.3l-.4-2.9 5 .1-7.9-11-4.4 12.7 4.7-1.4 .4 2.9zM341.4 591.3l-.4-2.9 5 .1-7.9-11-4.5 12.7 4.8-1.4 .4 2.9zM374.4 591.3l-.4-2.9 5 .1-7.9-11-4.5 12.7 4.8-1.4 .4 2.9zM407.4 591.3l-.5-2.9 5 .1-7.8-11-4.5 12.7 4.8-1.4 .4 2.9zM440.3 591.3l-.4-2.9 5 .1-7.9-11-4.4 12.7 4.7-1.4 .5 2.9zM473.3 591.3l-.4-2.9 5 .1-7.9-11-4.5 12.7 4.8-1.4 .4 2.9zM506.3 591.3l-.4-2.9 5 .1-7.9-11-4.5 12.7 4.8-1.4 .4 2.9zM539.3 591.3l-.5-2.9 5 .1-7.8-11-4.5 12.7 4.8-1.4 .4 2.9zM575.2 590.5l0-.8 5 .8-6.3-12-6.2 12 4.9-.8 0 .8zM607.9 589l0-.6 3.7 .6-4.7-9-4.7 9 3.7-.6 0 .6zM640.3 586.5l0-.3 1.7 .3-2.1-4-2.1 4 1.7-.3 0 .3zM674.5 584.7l-.2-.1 .6-1.2-3.5 .6 2.5 2.6 .2-1.3 .2 0zM707.5 584.7l-.2-.1 .6-1.2-3.5 .6 2.4 2.6 .3-1.3 .1 0zM740.4 584.7l-.2-.1 .7-1.2-3.6 .6 2.5 2.6 .2-1.3 .2 0zM773.1 584.5l-.6 1.1-1.3 0-.7-1.1 .7-1.1 1.3 0zM806.1 584.5l-.7 1.1-1.3 0-.6-1.1 .6-1.1 1.3 0zM839.1 584.5l-.7 1.1-1.3 0-.6-1.1 .6-1.1 1.3 0zM872 584.5l-.6 1.1-1.3 0-.7-1.1 .7-1.1 1.3 0zM904.8 589.5l0-.7 4.1 .7-5.2-10-5.2 10 4.1-.7 0 .7zM937.9 590.2l0-.7 4.8 .7-6-11.4-6 11.4 4.7-.7 0 .7zM971 590.8l0-1.4 4.9 .8-6.2-12-6.3 12 5-.8 0 1.4zM1003.9 591l0-1.8 5 .8-6.3-12-6.2 12 4.9-.8 0 1.8zM1036.9 591l0-1.8 5 .8-6.3-12-6.2 12 4.9-.8 0 1.8zM1069.7 589.5l0-.7 4.1 .7-5.2-10-5.2 10 4.1-.7 0 .7zM81.4 591.3l-.4-2.9 5 .1-7.9-11-4.5 12.7 4.8-1.4 .4 2.9zM114.4 591.3l-.4-2.9 5 .1-7.9-11-4.5 12.7 4.8-1.4 .4 2.9zM147.4 591.3l-.5-2.9 5 .1-7.8-11-4.5 12.7 4.8-1.4 .4 2.9zM180.3 591.3l-.4-2.9 5 .1-7.8-11-4.5 12.7 4.7-1.4 .5 2.9zM213.3 591.3l-.4-2.9 5 .1-7.9-11-4.5 12.7 4.8-1.4 .4 2.9zM246.3 591.3l-.4-2.9 5 .1-7.9-11-4.5 12.7 4.8-1.4 .4 2.9zM279.3 591.3l-.4-2.9 5 .1-7.9-11-4.5 12.7 4.8-1.4 .4 2.9zM312.2 591.3l-.4-2.9 5 .1-7.8-11-4.5 12.7 4.8-1.4 .4 2.9zM345.2 591.3l-.4-2.9 5 .1-7.9-11-4.4 12.7 4.7-1.4 .5 2.9zM378.2 591.3l-.4-2.9 5 .1-7.9-11-4.5 12.7 4.8-1.4 .4 2.9zM411.2 591.3l-.4-2.9 5 .1-7.9-11-4.5 12.7 4.8-1.4 .4 2.9zM444.2 591.3l-.5-2.9 5 .1-7.8-11-4.5 12.7 4.8-1.4 .4 2.9zM477.1 591.3l-.4-2.9 5 .1-7.9-11-4.4 12.7 4.7-1.4 .5 2.9zM510.1 591.3l-.4-2.9 5 .1-7.9-11-4.5 12.7 4.8-1.4 .4 2.9zM543.1 591.3l-.4-2.9 5 .1-7.9-11-4.5 12.7 4.8-1.4 .4 2.9z"/>
<rect x="79.3" y="93.7" width="989.3" height="490.9" class="fr"/>
<line x1="68.8" y1="510.45" x2="79.3" y2="510.45" class="tk"/>
<line x1="68.8" y1="434.50" x2="79.3" y2="434.50" class="tk"/>
<line x1="68.8" y1="358.55" x2="79.3" y2="358.55" class="tk"/>
<line x1="68.8" y1="282.60" x2="79.3" y2="282.60" class="tk"/>
<line x1="68.8" y1="206.65" x2="79.3" y2="206.65" class="tk"/>
<line x1="68.8" y1="130.70" x2="79.3" y2="130.70" class="tk"/>
<line x1="79.30" y1="584.6" x2="79.30" y2="594.6" class="tk"/>
<line x1="244.18" y1="584.6" x2="244.18" y2="594.6" class="tk"/>
<line x1="409.07" y1="584.6" x2="409.07" y2="594.6" class="tk"/>
<line x1="573.95" y1="584.6" x2="573.95" y2="594.6" class="tk"/>
<line x1="738.83" y1="584.6" x2="738.83" y2="594.6" class="tk"/>
<line x1="903.72" y1="584.6" x2="903.72" y2="594.6" class="tk"/>
<line x1="1068.60" y1="584.6" x2="1068.60" y2="594.6" class="tk"/>
<rect x="1080.4" y="530.06" width="24.8" height="55.04" fill="#4b64d5"/>
<rect x="1080.4" y="475.51" width="24.8" height="55.04" fill="#6f92f3"/>
<rect x="1080.4" y="420.97" width="24.8" height="55.04" fill="#97b8ff"/>
<rect x="1080.4" y="366.42" width="24.8" height="55.04" fill="#bcd2f7"/>
<rect x="1080.4" y="311.88" width="24.8" height="55.04" fill="#dddcdc"/>
<rect x="1080.4" y="257.33" width="24.8" height="55.04" fill="#f3c8b2"/>
<rect x="1080.4" y="202.79" width="24.8" height="55.04" fill="#f6a586"/>
<rect x="1080.4" y="148.24" width="24.8" height="55.04" fill="#e7745b"/>
<rect x="1080.4" y="93.70" width="24.8" height="55.04" fill="#c83836"/>
<rect x="1080.4" y="93.7" width="24.8" height="490.9" class="fr"/>
<line x1="1105.2" y1="584.60" x2="1115.2" y2="584.60" class="tk"/>
<line x1="1105.2" y1="530.06" x2="1115.2" y2="530.06" class="tk"/>
<line x1="1105.2" y1="475.51" x2="1115.2" y2="475.51" class="tk"/>
<line x1="1105.2" y1="420.97" x2="1115.2" y2="420.97" class="tk"/>
<line x1="1105.2" y1="366.42" x2="1115.2" y2="366.42" class="tk"/>
<line x1="1105.2" y1="311.88" x2="1115.2" y2="311.88" class="tk"/>
<line x1="1105.2" y1="257.33" x2="1115.2" y2="257.33" class="tk"/>
<line x1="1105.2" y1="202.79" x2="1115.2" y2="202.79" class="tk"/>
<line x1="1105.2" y1="148.24" x2="1115.2" y2="148.24" class="tk"/>
<line x1="1105.2" y1="93.70" x2="1115.2" y2="93.70" class="tk"/>
<g clip-path="url(#cp10)">
<rect x="1323.2" y="93.7" width="989.3" height="490.9" fill="#e7745b"/>
<path d="M1318.2 88.7 L1318.2 548.2 L1323.2 548.2 L1331.4 548.2 L1339.7 548.1 L1347.9 548.1 L1356.2 548.1 L1364.4 548.1 L1372.7 548.1 L1380.9 548 L1389.2 548 L1397.4 548 L1405.6 548 L1413.9 547.9 L1422.1 547.9 L1430.4 547.9 L1438.6 547.9 L1446.9 547.8 L1455.1 547.8 L1463.4 547.8 L1471.6 547.8 L1479.8 547.7 L1488.1 547.7 L1496.3 547.7 L1504.6 547.6 L1512.8 547.6 L1521.1 547.6 L1529.3 547.6 L1537.5 547.6 L1545.8 547.5 L1554 547.5 L1562.3 547.5 L1570.5 547.5 L1578.8 547.4 L1587 547.4 L1595.3 547.4 L1603.5 547.4 L1611.7 547.3 L1620 547.3 L1628.2 547.3 L1636.5 547.2 L1644.7 547.2 L1653 547.2 L1661.2 547.2 L1669.5 547.1 L1677.7 547.1 L1685.9 547.1 L1694.2 547.1 L1702.4 547.1 L1710.7 547 L1718.9 547 L1727.2 547 L1735.4 547 L1743.7 546.9 L1751.9 546.9 L1760.1 546.9 L1768.4 546.9 L1776.6 546.8 L1784.9 546.8 L1793.1 546.8 L1801.4 546.8 L1809.6 546.7 L1817.8 546.7 L1826.1 546.7 L1834.3 546.6 L1842.6 546.6 L1850.8 546.6 L1859.1 546.6 L1867.3 546.6 L1875.6 546.5 L1883.8 546.5 L1892 546.5 L1900.3 546.5 L1908.5 546.4 L1916.8 546.4 L1925 546.4 L1933.3 546.4 L1941.5 546.3 L1949.8 546.3 L1958 546.3 L1966.2 546.2 L1974.5 546.2 L1982.7 546.2 L1991 546.2 L1999.2 546.1 L2007.5 546.1 L2015.7 546.1 L2024 546.1 L2032.2 546.1 L2040.4 546 L2048.7 546 L2056.9 546 L2065.2 546 L2073.4 545.9 L2081.7 545.9 L2089.9 545.9 L2098.2 545.9 L2106.4 545.8 L2114.6 545.8 L2122.9 545.8 L2131.1 545.8 L2139.4 545.7 L2147.6 545.7 L2155.9 545.7 L2164.1 545.6 L2172.3 545.6 L2180.6 545.6 L2188.8 545.6 L2197.1 545.6 L2205.3 545.5 L2213.6 545.5 L2221.8 545.5 L2230.1 545.5 L2238.3 545.4 L2246.5 545.4 L2254.8 545.4 L2263 545.4 L2271.3 545.3 L2279.5 545.3 L2287.8 545.3 L2296 545.2 L2304.3 545.2 L2312.5 545.2 L2317.5 545.2 L2317.5 88.7 Z" fill="#f6a586"/>
<path d="M1318.2 88.7 L1318.2 508 L1323.2 508 L1331.4 508 L1339.7 508 L1347.9 507.9 L1356.2 507.9 L1364.4 507.9 L1372.7 507.9 L1380.9 507.8 L1389.2 507.8 L1397.4 507.8 L1405.6 507.8 L1413.9 507.8 L1422.1 507.7 L1430.4 507.7 L1438.6 507.7 L1446.9 507.7 L1455.1 507.7 L1463.4 507.6 L1471.6 507.6 L1479.8 507.6 L1488.1 507.6 L1496.3 507.5 L1504.6 507.5 L1512.8 507.5 L1521.1 507.5 L1529.3 507.5 L1537.5 507.4 L1545.8 507.4 L1554 507.4 L1562.3 507.4 L1570.5 507.3 L1578.8 507.3 L1587 507.3 L1595.3 507.3 L1603.5 507.3 L1611.7 507.2 L1620 507.2 L1628.2 507.2 L1636.5 507.2 L1644.7 507.2 L1653 507.1 L1661.2 507.1 L1669.5 507.1 L1677.7 507.1 L1685.9 507 L1694.2 507 L1702.4 507 L1710.7 507 L1718.9 507 L1727.2 506.9 L1735.4 506.9 L1743.7 506.9 L1751.9 506.9 L1760.1 506.9 L1768.4 506.8 L1776.6 506.8 L1784.9 506.8 L1793.1 506.8 L1801.4 506.7 L1809.6 506.7 L1817.8 506.7 L1826.1 506.7 L1834.3 506.6 L1842.6 506.6 L1850.8 506.6 L1859.1 506.5 L1867.3 506.5 L1875.6 506.5 L1883.8 506.4 L1892 506.4 L1900.3 506.4 L1908.5 506.3 L1916.8 506.3 L1925 506.3 L1933.3 506.2 L1941.5 506.2 L1949.8 506.2 L1958 506.1 L1966.2 506.1 L1974.5 506.1 L1982.7 506 L1991 506 L1999.2 506 L2007.5 505.9 L2015.7 505.9 L2024 505.9 L2032.2 505.8 L2040.4 505.8 L2048.7 505.8 L2056.9 505.7 L2065.2 505.7 L2073.4 505.7 L2081.7 505.6 L2089.9 505.6 L2098.2 505.6 L2106.4 505.5 L2114.6 505.5 L2122.9 505.5 L2131.1 505.4 L2139.4 505.4 L2147.6 505.4 L2155.9 505.3 L2164.1 505.3 L2172.3 505.3 L2180.6 505.2 L2188.8 505.2 L2197.1 505.2 L2205.3 505.1 L2213.6 505.1 L2221.8 505.1 L2230.1 505 L2238.3 505 L2246.5 505 L2254.8 504.9 L2263 504.9 L2271.3 504.9 L2279.5 504.8 L2287.8 504.8 L2296 504.8 L2304.3 504.7 L2312.5 504.7 L2317.5 504.7 L2317.5 88.7 Z" fill="#f3c8b2"/>
<path d="M1318.2 88.7 L1318.2 472.2 L1323.2 472.2 L1331.4 472.2 L1339.7 472.2 L1347.9 472.2 L1356.2 472.2 L1364.4 472.3 L1372.7 472.3 L1380.9 472.3 L1389.2 472.3 L1397.4 472.3 L1405.6 472.3 L1413.9 472.3 L1422.1 472.3 L1430.4 472.4 L1438.6 472.4 L1446.9 472.4 L1455.1 472.4 L1463.4 472.4 L1471.6 472.4 L1479.8 472.4 L1488.1 472.4 L1496.3 472.5 L1504.6 472.5 L1512.8 472.5 L1521.1 472.5 L1529.3 472.5 L1537.5 472.5 L1545.8 472.5 L1554 472.6 L1562.3 472.6 L1570.5 472.6 L1578.8 472.6 L1587 472.6 L1595.3 472.6 L1603.5 472.6 L1611.7 472.6 L1620 472.6 L1628.2 472.7 L1636.5 472.7 L1644.7 472.7 L1653 472.7 L1661.2 472.7 L1669.5 472.7 L1677.7 472.7 L1685.9 472.8 L1694.2 472.8 L1702.4 472.8 L1710.7 472.8 L1718.9 472.8 L1727.2 472.8 L1735.4 472.8 L1743.7 472.8 L1751.9 472.8 L1760.1 472.9 L1768.4 472.9 L1776.6 472.9 L1784.9 472.9 L1793.1 472.9 L1801.4 472.9 L1809.6 472.9 L1817.8 472.9 L1826.1 473 L1834.3 473 L1842.6 473 L1850.8 473 L1859.1 473 L1867.3 473 L1875.6 473 L1883.8 473.1 L1892 473.1 L1900.3 473.1 L1908.5 473.1 L1916.8 473.1 L1925 473.1 L1933.3 473.1 L1941.5 473.1 L1949.8 473.1 L1958 473.2 L1966.2 473.2 L1974.5 473.2 L1982.7 473.2 L1991 473.2 L1999.2 473.2 L2007.5 473.2 L2015.7 473.2 L2024 473.3 L2032.2 473.3 L2040.4 473.3 L2048.7 473.3 L2056.9 473.3 L2065.2 473.3 L2073.4 473.3 L2081.7 473.3 L2089.9 473.4 L2098.2 473.4 L2106.4 473.4 L2114.6 473.4 L2122.9 473.4 L2131.1 473.4 L2139.4 473.4 L2147.6 473.4 L2155.9 473.5 L2164.1 473.5 L2172.3 473.5 L2180.6 473.5 L2188.8 473.5 L2197.1 473.5 L2205.3 473.5 L2213.6 473.6 L2221.8 473.6 L2230.1 473.6 L2238.3 473.6 L2246.5 473.6 L2254.8 473.6 L2263 473.6 L2271.3 473.6 L2279.5 473.6 L2287.8 473.7 L2296 473.7 L2304.3 473.7 L2312.5 473.7 L2317.5 473.7 L2317.5 88.7 Z" fill="#dddcdc"/>
<path d="M1318.2 88.7 L1318.2 444.2 L1323.2 444.2 L1331.4 444.2 L1339.7 444.2 L1347.9 444.2 L1356.2 444.3 L1364.4 444.3 L1372.7 444.3 L1380.9 444.3 L1389.2 444.3 L1397.4 444.3 L1405.6 444.4 L1413.9 444.4 L1422.1 444.4 L1430.4 444.4 L1438.6 444.4 L1446.9 444.4 L1455.1 444.5 L1463.4 444.5 L1471.6 444.5 L1479.8 444.5 L1488.1 444.5 L1496.3 444.6 L1504.6 444.6 L1512.8 444.6 L1521.1 444.6 L1529.3 444.6 L1537.5 444.6 L1545.8 444.6 L1554 444.7 L1562.3 444.7 L1570.5 444.7 L1578.8 444.7 L1587 444.7 L1595.3 444.8 L1603.5 444.8 L1611.7 444.8 L1620 444.8 L1628.2 444.8 L1636.5 444.8 L1644.7 444.8 L1653 444.9 L1661.2 444.9 L1669.5 444.9 L1677.7 444.9 L1685.9 444.9 L1694.2 444.9 L1702.4 445 L1710.7 445 L1718.9 445 L1727.2 445 L1735.4 445 L1743.7 445.1 L1751.9 445.1 L1760.1 445.1 L1768.4 445.1 L1776.6 445.1 L1784.9 445.1 L1793.1 445.1 L1801.4 445.2 L1809.6 445.2 L1817.8 445.2 L1826.1 445.3 L1834.3 445.3 L1842.6 445.4 L1850.8 445.4 L1859.1 445.5 L1867.3 445.5 L1875.6 445.6 L1883.8 445.6 L1892 445.7 L1900.3 445.7 L1908.5 445.8 L1916.8 445.8 L1925 445.9 L1933.3 445.9 L1941.5 446 L1949.8 446.1 L1958 446.1 L1966.2 446.2 L1974.5 446.2 L1982.7 446.3 L1991 446.3 L1999.2 446.4 L2007.5 446.4 L2015.7 446.5 L2024 446.5 L2032.2 446.6 L2040.4 446.6 L2048.7 446.7 L2056.9 446.7 L2065.2 446.8 L2073.4 446.9 L2081.7 446.9 L2089.9 447 L2098.2 447 L2106.4 447.1 L2114.6 447.1 L2122.9 447.2 L2131.1 447.2 L2139.4 447.3 L2147.6 447.3 L2155.9 447.4 L2164.1 447.4 L2172.3 447.5 L2180.6 447.5 L2188.8 447.6 L2197.1 447.7 L2205.3 447.7 L2213.6 447.8 L2221.8 447.8 L2230.1 447.9 L2238.3 447.9 L2246.5 448 L2254.8 448 L2263 448.1 L2271.3 448.1 L2279.5 448.2 L2287.8 448.2 L2296 448.3 L2304.3 448.3 L2312.5 448.4 L2317.5 448.4 L2317.5 88.7 Z" fill="#bcd2f7"/>
<path d="M1318.2 88.7 L1318.2 415.7 L1323.2 415.7 L1331.4 415.7 L1339.7 415.7 L1347.9 415.8 L1356.2 415.8 L1364.4 415.8 L1372.7 415.8 L1380.9 415.8 L1389.2 415.8 L1397.4 415.8 L1405.6 415.9 L1413.9 415.9 L1422.1 415.9 L1430.4 415.9 L1438.6 415.9 L1446.9 415.9 L1455.1 416 L1463.4 416 L1471.6 416 L1479.8 416 L1488.1 416 L1496.3 416.1 L1504.6 416.1 L1512.8 416.1 L1521.1 416.1 L1529.3 416.1 L1537.5 416.1 L1545.8 416.1 L1554 416.2 L1562.3 416.2 L1570.5 416.2 L1578.8 416.2 L1587 416.2 L1595.3 416.2 L1603.5 416.3 L1611.7 416.3 L1620 416.3 L1628.2 416.3 L1636.5 416.3 L1644.7 416.3 L1653 416.4 L1661.2 416.4 L1669.5 416.4 L1677.7 416.4 L1685.9 416.4 L1694.2 416.4 L1702.4 416.5 L1710.7 416.5 L1718.9 416.5 L1727.2 416.5 L1735.4 416.5 L1743.7 416.6 L1751.9 416.6 L1760.1 416.6 L1768.4 416.6 L1776.6 416.6 L1784.9 416.6 L1793.1 416.6 L1801.4 416.7 L1809.6 416.7 L1817.8 416.7 L1826.1 416.7 L1834.3 416.8 L1842.6 416.8 L1850.8 416.9 L1859.1 416.9 L1867.3 416.9 L1875.6 417 L1883.8 417 L1892 417.1 L1900.3 417.1 L1908.5 417.2 L1916.8 417.2 L1925 417.2 L1933.3 417.3 L1941.5 417.3 L1949.8 417.4 L1958 417.4 L1966.2 417.4 L1974.5 417.5 L1982.7 417.5 L1991 417.6 L1999.2 417.6 L2007.5 417.7 L2015.7 417.7 L2024 417.7 L2032.2 417.8 L2040.4 417.8 L2048.7 417.9 L2056.9 417.9 L2065.2 417.9 L2073.4 418 L2081.7 418 L2089.9 418.1 L2098.2 418.1 L2106.4 418.2 L2114.6 418.2 L2122.9 418.2 L2131.1 418.3 L2139.4 418.3 L2147.6 418.4 L2155.9 418.4 L2164.1 418.4 L2172.3 418.5 L2180.6 418.5 L2188.8 418.6 L2197.1 418.6 L2205.3 418.7 L2213.6 418.7 L2221.8 418.7 L2230.1 418.8 L2238.3 418.8 L2246.5 418.9 L2254.8 418.9 L2263 418.9 L2271.3 419 L2279.5 419 L2287.8 419.1 L2296 419.1 L2304.3 419.2 L2312.5 419.2 L2317.5 419.2 L2317.5 88.7 Z" fill="#97b8ff"/>
<path d="M1318.2 88.7 L1318.2 389.2 L1323.2 389.2 L1331.4 389.2 L1339.7 389.2 L1347.9 389.3 L1356.2 389.3 L1364.4 389.3 L1372.7 389.3 L1380.9 389.4 L1389.2 389.4 L1397.4 389.4 L1405.6 389.4 L1413.9 389.5 L1422.1 389.5 L1430.4 389.5 L1438.6 389.6 L1446.9 389.6 L1455.1 389.6 L1463.4 389.6 L1471.6 389.6 L1479.8 389.7 L1488.1 389.7 L1496.3 389.7 L1504.6 389.8 L1512.8 389.8 L1521.1 389.8 L1529.3 389.8 L1537.5 389.8 L1545.8 389.9 L1554 389.9 L1562.3 389.9 L1570.5 389.9 L1578.8 390 L1587 390 L1595.3 390 L1603.5 390.1 L1611.7 390.1 L1620 390.1 L1628.2 390.1 L1636.5 390.1 L1644.7 390.2 L1653 390.2 L1661.2 390.2 L1669.5 390.2 L1677.7 390.3 L1685.9 390.3 L1694.2 390.3 L1702.4 390.3 L1710.7 390.4 L1718.9 390.4 L1727.2 390.4 L1735.4 390.4 L1743.7 390.5 L1751.9 390.5 L1760.1 390.5 L1768.4 390.6 L1776.6 390.6 L1784.9 390.6 L1793.1 390.6 L1801.4 390.6 L1809.6 390.7 L1817.8 390.7 L1826.1 390.9 L1834.3 391 L1842.6 391.2 L1850.8 391.4 L1859.1 391.5 L1867.3 391.7 L1875.6 391.9 L1883.8 392 L1892 392.2 L1900.3 392.4 L1908.5 392.5 L1916.8 392.7 L1925 392.9 L1933.3 393 L1941.5 393.2 L1949.8 393.4 L1958 393.5 L1966.2 393.7 L1974.5 393.9 L1982.7 394 L1991 394.2 L1999.2 394.4 L2007.5 394.5 L2015.7 394.7 L2024 394.9 L2032.2 395 L2040.4 395.2 L2048.7 395.4 L2056.9 395.5 L2065.2 395.7 L2073.4 395.9 L2081.7 396 L2089.9 396.2 L2098.2 396.4 L2106.4 396.5 L2114.6 396.7 L2122.9 396.9 L2131.1 397 L2139.4 397.2 L2147.6 397.4 L2155.9 397.5 L2164.1 397.7 L2172.3 397.9 L2180.6 398 L2188.8 398.2 L2197.1 398.4 L2205.3 398.5 L2213.6 398.7 L2221.8 398.9 L2230.1 399 L2238.3 399.2 L2246.5 399.4 L2254.8 399.5 L2263 399.7 L2271.3 399.9 L2279.5 400 L2287.8 400.2 L2296 400.4 L2304.3 400.5 L2312.5 400.7 L2317.5 400.7 L2317.5 88.7 Z" fill="#6f92f3"/>
<path d="M1318.2 88.7 L1318.2 281.5 L1323.2 281.5 L1331.4 281.5 L1339.7 281.5 L1347.9 281.5 L1356.2 281.5 L1364.4 281.5 L1372.7 281.5 L1380.9 281.6 L1389.2 281.6 L1397.4 281.6 L1405.6 281.6 L1413.9 281.6 L1422.1 281.6 L1430.4 281.6 L1438.6 281.6 L1446.9 281.6 L1455.1 281.6 L1463.4 281.6 L1471.6 281.6 L1479.8 281.6 L1488.1 281.7 L1496.3 281.7 L1504.6 281.7 L1512.8 281.7 L1521.1 281.7 L1529.3 281.7 L1537.5 281.7 L1545.8 281.7 L1554 281.7 L1562.3 281.7 L1570.5 281.7 L1578.8 281.7 L1587 281.7 L1595.3 281.7 L1603.5 281.8 L1611.7 281.8 L1620 281.8 L1628.2 281.8 L1636.5 281.8 L1644.7 281.8 L1653 281.8 L1661.2 281.8 L1669.5 281.8 L1677.7 281.8 L1685.9 281.8 L1694.2 281.8 L1702.4 281.8 L1710.7 281.9 L1718.9 281.9 L1727.2 281.9 L1735.4 281.9 L1743.7 281.9 L1751.9 281.9 L1760.1 281.9 L1768.4 281.9 L1776.6 281.9 L1784.9 281.9 L1793.1 281.9 L1801.4 281.9 L1809.6 281.9 L1817.8 281.9 L1826.1 282 L1834.3 282 L1842.6 282 L1850.8 282 L1859.1 282 L1867.3 282 L1875.6 282 L1883.8 282 L1892 282 L1900.3 282 L1908.5 282 L1916.8 282 L1925 282 L1933.3 282.1 L1941.5 282.1 L1949.8 282.1 L1958 282.1 L1966.2 282.1 L1974.5 282.1 L1982.7 282.1 L1991 282.1 L1999.2 282.1 L2007.5 282.1 L2015.7 282.1 L2024 282.1 L2032.2 282.1 L2040.4 282.2 L2048.7 282.2 L2056.9 282.2 L2065.2 282.2 L2073.4 282.2 L2081.7 282.2 L2089.9 282.2 L2098.2 282.2 L2106.4 282.2 L2114.6 282.2 L2122.9 282.2 L2131.1 282.2 L2139.4 282.2 L2147.6 282.2 L2155.9 282.3 L2164.1 282.3 L2172.3 282.3 L2180.6 282.3 L2188.8 282.3 L2197.1 282.3 L2205.3 282.3 L2213.6 282.3 L2221.8 282.3 L2230.1 282.3 L2238.3 282.3 L2246.5 282.3 L2254.8 282.3 L2263 282.4 L2271.3 282.4 L2279.5 282.4 L2287.8 282.4 L2296 282.4 L2304.3 282.4 L2312.5 282.4 L2317.5 282.4 L2317.5 88.7 Z" fill="#97b8ff"/>
<path d="M1318.2 88.7 L1318.2 205 L1323.2 205 L1331.4 204.9 L1339.7 204.8 L1347.9 204.8 L1356.2 204.7 L1364.4 204.6 L1372.7 204.6 L1380.9 204.5 L1389.2 204.4 L1397.4 204.3 L1405.6 204.2 L1413.9 204.2 L1422.1 204.1 L1430.4 204 L1438.6 203.9 L1446.9 203.9 L1455.1 203.8 L1463.4 203.7 L1471.6 203.7 L1479.8 203.6 L1488.1 203.5 L1496.3 203.4 L1504.6 203.4 L1512.8 203.3 L1521.1 203.2 L1529.3 203.1 L1537.5 203.1 L1545.8 203 L1554 202.9 L1562.3 202.8 L1570.5 202.8 L1578.8 202.7 L1587 202.6 L1595.3 202.7 L1603.5 202.9 L1611.7 203 L1620 203.1 L1628.2 203.3 L1636.5 203.4 L1644.7 203.5 L1653 203.6 L1661.2 203.8 L1669.5 203.9 L1677.7 204 L1685.9 204.2 L1694.2 204.3 L1702.4 204.4 L1710.7 204.6 L1718.9 204.7 L1727.2 204.8 L1735.4 205 L1743.7 205.1 L1751.9 205.2 L1760.1 205.3 L1768.4 205.5 L1776.6 205.6 L1784.9 205.7 L1793.1 205.9 L1801.4 206 L1809.6 206.1 L1817.8 206.3 L1826.1 206.4 L1834.3 206.5 L1842.6 206.7 L1850.8 206.8 L1859.1 206.9 L1867.3 207.1 L1875.6 207.2 L1883.8 207.3 L1892 207.5 L1900.3 207.6 L1908.5 207.7 L1916.8 207.9 L1925 208 L1933.3 208.1 L1941.5 208.3 L1949.8 208.4 L1958 208.5 L1966.2 208.7 L1974.5 208.8 L1982.7 208.9 L1991 209.1 L1999.2 209.2 L2007.5 209.3 L2015.7 209.5 L2024 209.6 L2032.2 209.7 L2040.4 209.9 L2048.7 210 L2056.9 210.1 L2065.2 210.2 L2073.4 210.3 L2081.7 210.4 L2089.9 210.5 L2098.2 210.7 L2106.4 210.8 L2114.6 210.9 L2122.9 211 L2131.1 211.1 L2139.4 211.2 L2147.6 211.3 L2155.9 211.4 L2164.1 211.5 L2172.3 211.6 L2180.6 211.8 L2188.8 211.9 L2197.1 212 L2205.3 212.1 L2213.6 212.2 L2221.8 212.3 L2230.1 212.4 L2238.3 212.5 L2246.5 212.6 L2254.8 212.7 L2263 212.8 L2271.3 213 L2279.5 213.1 L2287.8 213.2 L2296 213.3 L2304.3 213.4 L2312.5 213.5 L2317.5 213.5 L2317.5 88.7 Z" fill="#bcd2f7"/>
<path d="M1318.2 88.7 L1318.2 177.7 L1323.2 177.7 L1331.4 177.7 L1339.7 177.7 L1347.9 177.7 L1356.2 177.7 L1364.4 177.7 L1372.7 177.7 L1380.9 177.6 L1389.2 177.6 L1397.4 177.6 L1405.6 177.6 L1413.9 177.6 L1422.1 177.6 L1430.4 177.6 L1438.6 177.6 L1446.9 177.6 L1455.1 177.6 L1463.4 177.6 L1471.6 177.6 L1479.8 177.5 L1488.1 177.5 L1496.3 177.5 L1504.6 177.5 L1512.8 177.5 L1521.1 177.5 L1529.3 177.5 L1537.5 177.5 L1545.8 177.5 L1554 177.5 L1562.3 177.5 L1570.5 177.4 L1578.8 177.4 L1587 177.4 L1595.3 177.4 L1603.5 177.4 L1611.7 177.4 L1620 177.4 L1628.2 177.4 L1636.5 177.4 L1644.7 177.4 L1653 177.4 L1661.2 177.4 L1669.5 177.4 L1677.7 177.3 L1685.9 177.3 L1694.2 177.3 L1702.4 177.3 L1710.7 177.3 L1718.9 177.3 L1727.2 177.3 L1735.4 177.3 L1743.7 177.3 L1751.9 177.3 L1760.1 177.3 L1768.4 177.2 L1776.6 177.2 L1784.9 177.2 L1793.1 177.2 L1801.4 177.2 L1809.6 177.2 L1817.8 177.2 L1826.1 177.2 L1834.3 177.2 L1842.6 177.2 L1850.8 177.2 L1859.1 177.2 L1867.3 177.2 L1875.6 177.1 L1883.8 177.1 L1892 177.1 L1900.3 177.1 L1908.5 177.1 L1916.8 177.1 L1925 177.1 L1933.3 177.1 L1941.5 177.1 L1949.8 177.1 L1958 177.1 L1966.2 177.1 L1974.5 177 L1982.7 177 L1991 177 L1999.2 177 L2007.5 177 L2015.7 177 L2024 177 L2032.2 177 L2040.4 177 L2048.7 177 L2056.9 177 L2065.2 176.9 L2073.4 176.9 L2081.7 176.9 L2089.9 176.9 L2098.2 176.9 L2106.4 176.9 L2114.6 176.9 L2122.9 176.9 L2131.1 176.9 L2139.4 176.9 L2147.6 176.9 L2155.9 176.9 L2164.1 176.9 L2172.3 176.8 L2180.6 176.8 L2188.8 176.8 L2197.1 176.8 L2205.3 176.8 L2213.6 176.8 L2221.8 176.8 L2230.1 176.8 L2238.3 176.8 L2246.5 176.8 L2254.8 176.8 L2263 176.8 L2271.3 176.7 L2279.5 176.7 L2287.8 176.7 L2296 176.7 L2304.3 176.7 L2312.5 176.7 L2317.5 176.7 L2317.5 88.7 Z" fill="#dddcdc"/>
<path d="M1318.2 88.7 L1318.2 126 L1323.2 126 L1331.4 126 L1339.7 126 L1347.9 126.1 L1356.2 126.1 L1364.4 126.1 L1372.7 126.1 L1380.9 126.1 L1389.2 126.1 L1397.4 126.2 L1405.6 126.2 L1413.9 126.2 L1422.1 126.2 L1430.4 126.2 L1438.6 126.2 L1446.9 126.3 L1455.1 126.3 L1463.4 126.3 L1471.6 126.3 L1479.8 126.3 L1488.1 126.3 L1496.3 126.4 L1504.6 126.4 L1512.8 126.4 L1521.1 126.4 L1529.3 126.4 L1537.5 126.5 L1545.8 126.5 L1554 126.5 L1562.3 126.5 L1570.5 126.5 L1578.8 126.5 L1587 126.6 L1595.3 126.6 L1603.5 126.6 L1611.7 126.6 L1620 126.6 L1628.2 126.6 L1636.5 126.7 L1644.7 126.7 L1653 126.7 L1661.2 126.9 L1669.5 127.1 L1677.7 127.3 L1685.9 127.5 L1694.2 127.7 L1702.4 127.9 L1710.7 128.1 L1718.9 128.3 L1727.2 128.5 L1735.4 128.7 L1743.7 128.9 L1751.9 129.1 L1760.1 129.3 L1768.4 129.5 L1776.6 129.7 L1784.9 129.9 L1793.1 130.1 L1801.4 130.3 L1809.6 130.5 L1817.8 130.7 L1826.1 130.8 L1834.3 130.8 L1842.6 130.9 L1850.8 131 L1859.1 131.1 L1867.3 131.2 L1875.6 131.2 L1883.8 131.3 L1892 131.4 L1900.3 131.4 L1908.5 131.5 L1916.8 131.6 L1925 131.7 L1933.3 131.8 L1941.5 131.8 L1949.8 131.9 L1958 132 L1966.2 132.1 L1974.5 132.1 L1982.7 132.2 L1991 132.3 L1999.2 132.3 L2007.5 132.4 L2015.7 132.5 L2024 132.6 L2032.2 132.7 L2040.4 132.7 L2048.7 132.8 L2056.9 132.9 L2065.2 132.9 L2073.4 133 L2081.7 133.1 L2089.9 133.2 L2098.2 133.2 L2106.4 133.3 L2114.6 133.4 L2122.9 133.5 L2131.1 133.6 L2139.4 133.6 L2147.6 133.7 L2155.9 133.8 L2164.1 133.8 L2172.3 133.9 L2180.6 134 L2188.8 134.1 L2197.1 134.2 L2205.3 134.2 L2213.6 134.3 L2221.8 134.4 L2230.1 134.4 L2238.3 134.5 L2246.5 134.6 L2254.8 134.7 L2263 134.8 L2271.3 134.8 L2279.5 134.9 L2287.8 135 L2296 135.1 L2304.3 135.1 L2312.5 135.2 L2317.5 135.2 L2317.5 88.7 Z" fill="#f3c8b2"/>
</g>
<path clip-path="url(#cp10)" d="M1323.2 134.2l-114.9 3.2 .7-5-11.8 6.6 12.1 5.9-.9-4.9 114.8-3.2zM1356.1 134.2l-114.7 3.4 .7-4.9-11.8 6.5 12.1 5.9-.9-4.9 114.7-3.4zM1389.1 134.2l-114.6 3.6 .7-4.9-11.8 6.6 12.2 5.9-1-5 114.6-3.6zM1422.1 134.2l-114.5 3.9 .6-5-11.7 6.7 12.2 5.8-1-4.9 114.5-3.9zM1455.1 134.2l-114.4 4.1 .6-5-11.7 6.7 12.2 5.8-1-4.9 114.4-4.1zM1488 134.2l-114 4.6 .5-5-11.7 6.7 12.2 5.8-.9-4.9 114-4.6zM1521 134.2l-113.8 5 .5-5-11.6 6.8 12.2 5.7-1-4.9 113.8-5zM1554 134.2l-112.4 5.7 .6-5-11.7 6.9 12.3 5.6-1-4.9 112.3-5.7zM1586.9 134.2l-110.8 6.4 .5-5-11.6 6.9 12.3 5.5-1.1-4.8 110.9-6.4zM1619.9 134.2l-108.6 7.1 .5-5-11.6 7 12.4 5.4-1.1-4.8 108.6-7.1zM1652.9 134.2l-106.4 7.8 .4-5-11.4 7.1 12.4 5.4-1.2-4.9 106.4-7.8zM1685.8 134.2l-104.8 8.4 .4-5-11.5 7.2 12.5 5.3-1.2-4.9 104.8-8.4zM1718.8 134.2l-103.8 8.7 .3-5-11.4 7.2 12.5 5.3-1.2-4.9 103.8-8.7zM1751.8 134.2l-102.9 9 .4-5-11.4 7.3 12.5 5.2-1.3-4.9 102.9-9zM1784.8 134.2l-103.2 9.3 .3-5-11.4 7.3 12.5 5.1-1.2-4.8 103.2-9.3zM1817.7 134.2l-103.5 9.5 .3-5-11.3 7.3 12.5 5.2-1.3-4.9 103.6-9.5zM1850.7 134.2l-103.9 9.8 .4-5-11.4 7.3 12.5 5.1-1.2-4.9 103.8-9.7zM1883.7 134.2l-105.9 10 .3-5-11.3 7.4 12.5 5-1.2-4.8 105.8-10zM1916.7 134.2l-107.9 10.2 .3-4.9-11.3 7.3 12.5 5.1-1.3-4.9 107.9-10.2zM1949.6 134.2l-113.8 10.6 .3-5-11.3 7.3 12.4 5.1-1.2-4.8 113.9-10.6zM1982.6 134.2l-115.5 11 .3-5-11.3 7.4 12.5 5-1.3-4.8 115.6-11zM2015.6 134.2l-117.2 11.5 .3-5-11.3 7.3 12.5 5.1-1.3-4.9 117.2-11.4zM2048.6 134.2l-118.9 11.9 .3-5-11.3 7.4 12.5 5-1.3-4.8 118.9-11.9zM2081.5 134.2l-120.3 12.4 .2-5-11.2 7.4 12.5 5-1.3-4.8 120.4-12.4zM2114.5 134.2l-121.9 12.8 .3-5-11.3 7.5 12.6 5-1.3-4.9 121.9-12.8zM2147.5 134.2l-123.4 13.3 .2-5-11.2 7.5 12.6 4.9-1.3-4.8 123.4-13.3zM2180.5 134.2l-124.9 13.8 .2-5-11.2 7.5 12.6 4.9-1.4-4.8 124.9-13.8zM2213.4 134.2l-126 13.5 .2-5-11.2 7.5 12.6 4.9-1.3-4.8 126-13.5zM2246.4 134.2l-127.2 13.2 .3-5-11.3 7.4 12.6 5-1.3-4.8 127.2-13.2zM2279.4 134.2l-128.4 12.9 .3-5-11.3 7.4 12.5 5-1.2-4.8 128.4-12.9zM2312.4 134.2l-128.8 12.9 .3-5-11.3 7.4 12.5 5-1.3-4.8 128.8-12.9zM2345.3 134.2l-129.2 12.9 .3-5-11.3 7.4 12.6 5-1.3-4.8 129.2-12.9zM2378.3 134.2l-129.6 12.9 .3-5-11.3 7.4 12.5 5-1.2-4.8 129.6-12.9zM2411.3 134.2l-130 12.9 .2-5-11.2 7.4 12.5 5-1.3-4.8 130.1-12.9zM2444.3 134.2l-130.5 12.9 .3-5-11.3 7.4 12.5 5-1.2-4.8 130.4-12.9zM2477.3 134.2l-130.9 12.9 .3-5-11.3 7.4 12.5 5-1.3-4.8 130.9-12.9zM1323.2 173.2l-94.8 0 .8-4.9-12 6.2 12 6.2-.8-4.9 94.8 0zM1356.2 173.2l-95.4-.3 .8-4.9-12 6.2 11.9 6.3-.7-5 95.4 .3zM1389.2 173.2l-96.1-.5 .8-5-11.9 6.2 11.9 6.3-.8-4.9 96 .5zM1422.1 173.2l-96.6-.8 .8-4.9-12 6.1 11.9 6.3-.7-4.9 96.6 .8zM1455.1 173.2l-97.2-1.1 .8-4.9-12 6.1 11.9 6.4-.7-5 97.2 1.1zM1488.1 173.2l-97.8-1.3 .8-5-12 6.1 11.9 6.4-.8-4.9 97.9 1.3zM1521.1 173.2l-98.4-1.6 .8-4.9-12 6 11.8 6.4-.7-4.9 98.4 1.6zM1554.1 173.2l-99.1-1.9 .9-4.9-12.1 6 11.9 6.5-.7-5 99 1.9zM1587 173.2l-99.6-2.2 .9-4.9-12.1 6 11.8 6.5-.6-5 99.6 2.2zM1620 173.2l-100.2-2.4 .9-4.9-12.1 5.9 11.8 6.5-.7-4.9 100.3 2.4zM1653 173.2l-100.8-2.7 .9-4.9-12.1 5.9 11.8 6.6-.7-5 100.8 2.7zM1686 173.2l-100.8-3.1 .9-4.9-12.2 5.9 11.8 6.6-.6-5 100.8 3.1zM1719 173.2l-100.9-3.4 1-4.9-12.2 5.8 11.8 6.6-.7-4.9 100.9 3.4zM1751.9 173.2l-100.8-3.8 1-4.9-12.2 5.8 11.7 6.7-.6-5 100.8 3.8zM1784.9 173.2l-100.8-4.1 1-4.9-12.2 5.7 11.7 6.7-.6-4.9 100.8 4.1zM1817.9 173.2l-100.8-4.5 1-4.9-12.3 5.7 11.7 6.8-.5-5 100.8 4.5zM1850.9 173.2l-98.4-4.8 1-4.9-12.3 5.6 11.7 6.8-.6-5 98.5 4.9zM1883.9 173.2l-96.1-5.2 1.1-4.9-12.3 5.6 11.6 6.9-.5-5 96 5.2zM1916.9 173.2l-93.7-5.5 1.1-4.9-12.3 5.5 11.6 6.9-.5-4.9 93.6 5.5zM1949.8 173.2l-91.2-5.9 1.1-4.9-12.3 5.5 11.5 7-.5-5 91.3 5.9zM1982.8 173.2l-88.8-6.2 1.1-4.9-12.4 5.4 11.5 7.1-.4-5 88.8 6.2zM2015.8 173.2l-87.2-6.8 1.2-4.9-12.4 5.3 11.4 7.2-.4-5 87.2 6.8zM2048.8 173.2l-85.5-7.4 1.2-4.8-12.5 5.2 11.4 7.2-.4-5 85.6 7.4zM2081.8 173.2l-83.9-7.9 1.3-4.9-12.5 5.1 11.3 7.3-.3-5 83.8 8zM2114.8 173.2l-80.9-8.3 1.3-4.9-12.6 5 11.3 7.4-.3-5 80.9 8.4zM2147.8 173.2l-77.9-8.7 1.3-4.9-12.6 4.9 11.2 7.5-.2-5 77.9 8.8zM2180.7 173.2l-77.9-8.7 1.4-4.9-12.6 4.9 11.2 7.5-.2-5 77.8 8.8zM2213.7 173.2l-77.9-8.7 1.4-4.9-12.6 4.9 11.2 7.5-.3-5 77.9 8.8zM2246.7 173.2l-77.9-8.7 1.3-4.9-12.6 4.9 11.2 7.5-.2-5 77.9 8.8zM2279.7 173.2l-77.9-8.7 1.3-4.9-12.6 4.9 11.2 7.5-.2-5 77.9 8.8zM2312.6 173.2l-77.8-8.7 1.3-4.9-12.6 4.9 11.2 7.5-.2-5 77.9 8.8zM2345.6 173.2l-77.9-8.7 1.4-4.9-12.6 4.9 11.2 7.5-.3-5 77.9 8.8zM2378.6 173.2l-77.9-8.7 1.3-4.9-12.5 4.9 11.1 7.5-.2-5 77.9 8.8zM2411.6 173.2l-77.9-8.7 1.3-4.9-12.6 4.9 11.2 7.5-.2-5 77.9 8.8zM2444.6 173.2l-77.9-8.7 1.3-4.9-12.6 4.9 11.2 7.5-.2-5 77.9 8.8zM2477.5 173.2l-77.9-8.7 1.4-4.9-12.6 4.9 11.2 7.5-.3-5 77.9 8.8zM1323.2 231.2l-37.8 0 .8-4.9-12 6.2 12 6.2-.8-4.9 37.8 0zM1356.2 231.2l-37.8 .1 .7-5-11.9 6.3 11.9 6.2-.7-4.9 37.8-.1zM1389.1 231.2l-37.8 .1 .8-4.9-11.9 6.2 11.9 6.2-.8-4.9 37.9-.1zM1422.1 231.2l-37.8 .2 .8-5-12 6.3 12 6.2-.8-4.9 37.8-.2zM1455.1 231.2l-37.8 .2 .7-4.9-11.9 6.3 12 6.1-.8-4.9 37.8-.2zM1488.1 231.2l-37.8 .3 .7-5-11.9 6.3 12 6.2-.8-4.9 37.8-.3zM1521 231.2l-37.8 .3 .8-4.9-11.9 6.3 12 6.1-.8-4.9 37.8-.3zM1554 231.2l-37.8 .4 .7-5-11.9 6.4 12.1 6.1-.9-4.9 37.8-.4zM1587 231.2l-37.8 .4 .7-4.9-11.9 6.3 12 6.1-.8-4.9 37.8-.4zM1620 231.2l-37.8 .5 .7-5-11.9 6.4 12 6.1-.8-4.9 37.8-.5zM1652.9 231.2l-37.8 .5 .7-4.9-11.8 6.4 12 6-.8-4.9 37.8-.5zM1685.9 231.2l-37.8 .6 .7-5-11.9 6.4 12.1 6.1-.9-4.9 37.9-.6zM1718.9 231.2l-37.8 .6 .7-4.9-11.9 6.4 12.1 6-.9-4.9 37.8-.6zM1751.9 231.2l-37.8 .7 .6-5-11.8 6.5 12.1 6-.9-4.9 37.8-.7zM1784.8 231.2l-37.8 .7 .7-4.9-11.8 6.4 12 6-.8-4.9 37.8-.7zM1817.8 231.2l-37.8 .8 .7-5-11.9 6.5 12.1 6-.8-4.9 37.8-.8zM1850.8 231.2l-37.4 .6 .7-4.9-11.9 6.4 12.1 6-.9-4.9 37.4-.6zM1883.8 231.2l-37 .5 .7-5-11.9 6.4 12 6.1-.8-4.9 37-.5zM1916.8 231.2l-36.7 .3 .8-4.9-11.9 6.3 12 6.1-.8-4.9 36.6-.3zM1949.8 231.2l-36.3 .2 .8-5-11.9 6.3 11.9 6.2-.8-4.9 36.3-.2zM1982.7 231.2l-35.8 0 .8-4.9-12 6.2 12 6.2-.8-4.9 35.8 0zM2015.7 231.2l-35.2-.1 .8-4.9-12 6.2 12 6.3-.8-5 35.2 .1zM2048.7 231.2l-34.6-.2 .8-4.9-12 6.2 11.9 6.3-.7-5 34.6 .2zM2081.7 231.2l-34-.2 .8-5-12 6.2 11.9 6.3-.8-4.9 34.1 .2zM2114.7 231.2l-33.5-.3 .9-4.9-12.1 6.1 11.9 6.3-.7-4.9 33.4 .3zM2147.6 231.2l-32.8-.4 .8-4.9-12 6.1 11.9 6.4-.7-5 32.8 .4zM2180.6 231.2l-32.4-.4 .8-4.9-12 6 11.9 6.4-.7-4.9 32.4 .4zM2213.6 231.2l-32-.4 .8-5-12 6.1 11.8 6.4-.7-4.9 32.1 .4zM2246.6 231.2l-31.7-.5 .9-4.9-12.1 6 11.9 6.5-.7-5 31.6 .5zM2279.5 231.2l-31.2-.5 .9-4.9-12.1 6 11.9 6.4-.7-4.9 31.2 .5zM2312.5 231.2l-30.8-.6 .9-4.9-12.1 6.1 11.8 6.4-.6-5 30.8 .6zM2345.5 231.2l-30.4-.6 .9-4.9-12.1 6 11.8 6.5-.7-5 30.5 .6zM2378.5 231.2l-30-.6 .8-4.9-12 6 11.8 6.4-.7-4.9 30 .6zM2411.5 231.2l-29.7-.7 .9-4.9-12.1 6 11.8 6.5-.6-5 29.6 .7zM2444.4 231.2l-29.2-.7 .9-4.9-12.1 6 11.8 6.5-.6-5 29.2 .7zM2477.4 231.2l-28.8-.7 .9-4.9-12.1 5.9 11.8 6.5-.7-4.9 28.9 .7zM1323.2 290.7l-26.8 0 .8-4.9-12 6.2 12 6.2-.8-4.9 26.8 0zM1356.2 290.7l-26.6 0 .7-5-11.9 6.2 11.9 6.3-.7-4.9 26.6 0zM1389.2 290.7l-26.5-.1 .8-4.9-11.9 6.2 11.9 6.3-.8-5 26.4 .1zM1422.1 290.7l-26.2-.1 .8-4.9-12 6.2 12 6.2-.8-4.9 26.2 .1zM1455.1 290.7l-26-.1 .8-5-12 6.2 11.9 6.3-.7-4.9 26 .1zM1488.1 290.7l-25.8-.2 .8-4.9-12 6.2 11.9 6.3-.7-5 25.8 .2zM1521.1 290.7l-25.6-.2 .8-4.9-12 6.1 11.9 6.3-.8-4.9 25.6 .2zM1554 290.7l-25.4-.2 .9-5-12.1 6.2 11.9 6.3-.7-4.9 25.4 .2zM1587 290.7l-25.2-.3 .8-4.9-12 6.1 11.9 6.4-.7-5 25.2 .3zM1620 290.7l-25-.3 .8-4.9-12 6.1 11.9 6.3-.7-4.9 25 .3zM1653 290.7l-24.8-.3 .8-5-12 6.1 11.8 6.4-.7-4.9 24.8 .3zM1686 290.7l-23.3-.5 .9-4.9-12.1 6 11.9 6.5-.7-5 23.2 .5zM1719 290.7l-21.7-.6 .9-4.9-12.1 5.9 11.8 6.6-.6-5 21.6 .6zM1751.9 290.7l-20-.7 1-4.9-12.2 5.8 11.7 6.7-.6-5 20.1 .7zM1784.9 290.7l-18.4-.8 1-4.9-12.2 5.7 11.6 6.8-.5-5 18.4 .8zM1817.9 290.7l-16.8-.9 1-4.9-12.3 5.6 11.7 6.9-.6-5 16.9 .9zM1850.9 290.7l-16.6-1 1-4.9-12.3 5.5 11.6 7-.5-5 16.6 1zM1883.9 290.7l-16.5-1.1 1.2-4.9-12.4 5.4 11.5 7-.4-4.9 16.4 1.1zM1916.9 290.7l-16.3-1.2 1.2-4.9-12.4 5.3 11.4 7.1-.4-4.9 16.3 1.2zM1949.9 290.7l-16.1-1.4 1.2-4.8-12.4 5.2 11.3 7.2-.3-5 16 1.4zM1982.9 290.7l-15.9-1.5 1.2-4.8-12.5 5.1 11.4 7.3-.4-5 15.9 1.5zM2015.8 290.7l-15.6-1.6 1.2-4.8-12.5 5 11.3 7.4-.3-5 15.7 1.6zM2048.8 290.7l-15.5-1.7 1.4-4.8-12.6 4.9 11.2 7.5-.2-5 15.4 1.7zM2081.8 290.7l-15.3-1.8 1.4-4.8-12.6 4.8 11.1 7.6-.2-5 15.3 1.8zM2114.8 290.7l-15.1-1.9 1.4-4.8-12.7 4.7 11.1 7.7-.1-5 15.1 1.9zM2147.8 290.7l-14.9-2 1.4-4.8-12.7 4.6 11 7.8-.1-5 14.9 2zM2180.8 290.7l-14.8-2.1 1.5-4.8-12.7 4.5 10.9 7.9 0-5 14.7 2.1zM2213.8 290.7l-14.6-2.2 1.5-4.8-12.7 4.4 10.9 8-.1-5 14.6 2.2zM2246.8 290.7l-14.4-2.3 1.5-4.8-12.8 4.3 10.9 8.1 0-5 14.3 2.3zM2279.7 290.7l-14.1-2.4 1.6-4.7-12.9 4.1 10.8 8.2 0-5 14.2 2.4zM2312.7 290.7l-14-2.5 1.7-4.7-12.9 4 10.7 8.3 .1-5 14 2.5zM2345.7 290.7l-14-2.5 1.7-4.7-12.9 4 10.6 8.3 .1-5 14 2.5zM2378.7 290.7l-14-2.5 1.6-4.7-12.8 4 10.6 8.3 .1-5 14 2.5zM2411.7 290.7l-14-2.5 1.6-4.7-12.9 4 10.7 8.3 .1-5 14 2.5zM2444.6 290.7l-14-2.5 1.7-4.7-12.9 4 10.7 8.3 .1-5 14 2.5zM2477.6 290.7l-14-2.5 1.7-4.7-12.9 4 10.6 8.3 .2-5 14 2.5zM1324.3 345.7l-7.1-9.8 4.5-2.3-12-6.1 1.8 13.4 3.6-3.5 7 9.9zM1357.2 345.8l-6.6-9.8 4.5-2.2-11.9-6.3 1.6 13.4 3.6-3.4 6.7 9.7zM1390.3 345.8l-5.7-9.4 4.7-1.9-11.5-7 .8 13.5 3.8-3.2 5.6 9.4zM1423.2 345.8l-4.2-7.1 4.6-1.8-11.5-7.1 .8 13.5 3.9-3.2 4.2 7.1zM1456.3 345.9l-3.4-6.7 4.8-1.5-10.9-7.9-.3 13.5 4.1-2.9 3.3 6.7zM1489.3 346l-2.4-5.3 4.8-1.4-10.6-8.3-.8 13.5 4.2-2.8 2.4 5.3zM1522.3 346.1l-1.4-3.8 4.9-1-9.9-9.1-1.8 13.4 4.4-2.4 1.3 3.7zM1555.3 346.1l-.7-2.2 5-.7-9.4-9.7-2.6 13.2 4.5-2.1 .7 2.3zM1588.1 346.3l-.1-.7 4.2-.1-7.2-9-3.2 11 4-1.4 .1 .6zM1621 346.4l0-.6 3.9 .3-5.6-9.1-4.3 9.9 3.9-.9 .1 .6zM1653.7 346.5l0-.5 2.9 .5-3.6-7-3.7 7 2.9-.5 0 .5zM1686.5 346.5l0-.3 2.1 .3-2.7-5-2.6 5 2.1-.3 0 .3zM1719.2 346.5l0-.2 1.3 .2-1.6-3-1.5 3 1.2-.2 0 .2zM1753.2 346.5l-.7 1.1-1.3 0-.6-1.1 .6-1.1 1.3 0zM1786.2 346.5l-.7 1.1-1.3 0-.6-1.1 .6-1.1 1.3 0zM1819.1 346.5l-.6 1.1-1.3 0-.7-1.1 .7-1.1 1.3 0zM1852.1 346.5l-.6 1.1-1.3 0-.7-1.1 .7-1.1 1.3 0zM1885.1 346.5l-.6 1.1-1.3 0-.7-1.1 .7-1.1 1.3 0zM1918.1 346.5l-.7 1.1-1.3 0-.6-1.1 .6-1.1 1.3 0zM1951.1 346.5l-.7 1.1-1.3 0-.6-1.1 .6-1.1 1.3 0zM1984 346.5l-.6 1.1-1.3 0-.7-1.1 .7-1.1 1.3 0zM2017 346.5l-.6 1.1-1.3 0-.7-1.1 .7-1.1 1.3 0zM2050 346.5l-.7 1.1-1.3 0-.6-1.1 .6-1.1 1.3 0zM2083 346.5l-.7 1.1-1.3 0-.6-1.1 .6-1.1 1.3 0zM2115.9 346.5l-.6 1.1-1.3 0-.7-1.1 .7-1.1 1.3 0zM2148.9 346.5l-.6 1.1-1.3 0-.7-1.1 .7-1.1 1.3 0zM2181.9 346.5l-.7 1.1-1.3 0-.6-1.1 .6-1.1 1.3 0zM2214.9 346.5l-.7 1.1-1.3 0-.6-1.1 .6-1.1 1.3 0zM2247.8 346.5l-.6 1.1-1.3 0-.7-1.1 .7-1.1 1.3 0zM2280.8 346.5l-.6 1.1-1.3 0-.7-1.1 .7-1.1 1.3 0zM2312 346.5l0 .3-2.1-.3 2.6 5 2.6-5-2.1 .3 0-.3zM1192.6 381.1l1.9-20.8 4.9 1.2-5.1-12.5-7.3 11.3 5-.3-2 20.9zM1225.6 381.1l1.9-20.8 4.9 1.2-5.1-12.5-7.4 11.3 5-.3-1.9 20.9zM1258.5 381.1l2-20.8 4.8 1.2-5.1-12.5-7.3 11.3 5-.3-1.9 20.9zM1291.5 381.1l2-20.8 4.8 1.2-5.1-12.5-7.3 11.3 5-.3-2 20.9zM1324.5 381.1l2-20.8 4.8 1.2-5.1-12.5-7.3 11.3 5-.3-2 20.9zM1357.5 381.2l3.1-22.2 4.8 1.4-4.5-12.7-7.9 11 5-.1-3.1 22.2zM1390.4 381.4l5.6-19.1 4.6 2.1-2.6-13.2-9.4 9.7 4.9 .7-5.6 19zM1423.3 381.5l7.1-17.1 4.3 2.6-1.2-13.4-10.3 8.6 4.8 1.2-7.1 17.1zM1456.2 381.6l7.7-14 3.9 3.1 .3-13.5-11.2 7.5 4.7 1.7-7.6 14zM1489 381.9l10.6-11.7 3.1 3.9 3.4-13.1-12.7 4.7 4.2 2.7-10.5 11.7zM1521.9 382l12.7-11.5 2.8 4.2 4.7-12.7-13.1 3.4 3.9 3.1-12.7 11.5zM1554.8 382.1l14.5-10.3 2.2 4.5 6.1-12-13.3 1.8 3.5 3.6-14.5 10.2zM1587.7 382.1l16.7-9.8 1.9 4.6 7.1-11.4-13.5 .7 3.2 3.8-16.7 9.9zM1620.6 382.2l18.9-9.4 1.5 4.8 8-10.9-13.5-.3 2.9 4.1-19 9.3zM1653.5 382.2l20.2-8.6 1.2 4.8 8.6-10.4-13.5-1.1 2.7 4.3-20.2 8.6zM1686.4 382.2l19.5-7.8 1.1 4.9 8.7-10.3-13.4-1.3 2.6 4.3-19.4 7.8zM1719.3 382.2l18.3-6.3 .9 4.9 9.2-9.8-13.3-2 2.3 4.4-18.2 6.4zM1752.3 382.2l17.4-5.9 .9 5 9.3-9.8-13.3-2.1 2.3 4.5-17.4 5.9zM1785.2 382.3l16.2-4.2 .5 4.9 10-9-13.2-3 2 4.5-16.2 4.2zM1818 382.3l16.3-1.9-.2 5 11.1-7.5-12.5-4.9 1.3 4.9-16.3 1.8zM1850.9 382.3l16.3-1.1-.5 5 11.5-7.1-12.3-5.4 1.1 4.9-16.3 1.1zM1883.8 382.3l15.1-.4-.7 5 11.8-6.6-12.1-5.9 .9 4.9-15 .4zM1916.7 382.3l15.1 .6-1 4.9 12.2-5.8-11.7-6.7 .6 5-15.1-.6zM1949.6 382.3l13.9 1.3-1.2 4.9 12.5-5.1-11.4-7.4 .4 5-13.9-1.3zM1982.5 382.3l15.2 2.8-1.7 4.7 12.9-4-10.6-8.3-.1 5-15.2-2.8zM2015.4 382.3l15.4 4.1-2.1 4.6 13.2-2.9-9.9-9.2-.5 5-15.4-4.2zM2048.3 382.2l16.8 5.9-2.4 4.4 13.4-2-9.3-9.8-.9 4.9-16.8-5.8zM2081.1 382.2l17.2 7.4-2.7 4.3 13.5-1-8.5-10.5-1.3 4.9-17.1-7.5zM2114 382.1l17.6 9.5-3 4 13.4 .2-7.5-11.2-1.7 4.7-17.5-9.4zM2147 382.1l18.9 11.1-3.2 3.9 13.5 .6-7.2-11.4-1.8 4.6-18.9-11zM2179.9 382.1l21.4 12.3-3.2 3.9 13.5 .6-7.2-11.4-1.8 4.7-21.4-12.3zM2212.9 382.1l22.4 12.8-3.1 3.9 13.5 .5-7.3-11.3-1.8 4.6-22.4-12.7zM2245.9 382.1l21.2 11.4-3 4 13.4 .2-7.5-11.2-1.7 4.8-21.1-11.4zM2278.9 382.1l18.8 10.2-3.1 4 13.5 .2-7.5-11.2-1.7 4.7-18.8-10.1zM2311.9 382.1l17.2 9.6-3.1 3.9 13.5 .4-7.4-11.3-1.7 4.7-17.3-9.5zM1192.5 407.4l5-17.3 4.5 2.1-2.7-13.2-9.3 9.8 5 .6-5 17.2zM1225.5 407.4l4.9-17.3 4.6 2.1-2.7-13.2-9.3 9.8 4.9 .6-4.9 17.2zM1258.5 407.4l4.9-17.3 4.6 2.1-2.8-13.2-9.2 9.8 4.9 .6-4.9 17.2zM1291.5 407.4l4.9-17.3 4.5 2.1-2.7-13.2-9.3 9.8 5 .6-4.9 17.2zM1324.4 407.4l5-17.3 4.5 2.1-2.7-13.2-9.3 9.8 5 .6-4.9 17.2zM1357.4 407.4l6.9-19.2 4.4 2.4-1.8-13.4-9.9 9.1 4.9 1-6.9 19.3zM1390.4 407.5l8.2-20.6 4.3 2.5-1.3-13.4-10.3 8.8 4.9 1.1-8.3 20.6zM1423.3 407.5l9.4-21.7 4.2 2.7-1-13.5-10.4 8.5 4.8 1.3-9.4 21.7zM1456.3 407.6l10.5-21 4 2.9-.2-13.5-10.9 7.9 4.7 1.5-10.5 21zM1489.2 407.7l12-19.1 3.8 3.2 1.1-13.4-11.7 6.8 4.6 2-12 19.1zM1522.1 407.8l13.9-17.3 3.4 3.7 2.7-13.2-12.4 5.4 4.3 2.5-14 17.3zM1555 407.9l15.7-15.8 2.9 4 4-12.9-12.8 4.1 4 2.9-15.7 15.9zM1587.8 408l15.5-12.8 2.5 4.3 5.2-12.5-13.2 2.9 3.8 3.3-15.4 12.8zM1620.7 408.1l15.9-9.7 1.9 4.6 7-11.5-13.5 .9 3.3 3.8-16 9.7zM1653.5 408.2l15.6-7.3 1.4 4.8 8.2-10.7-13.5-.6 2.8 4.2-15.6 7.2zM1686.4 408.2l15.6-6 1 4.9 8.9-10.1-13.4-1.5 2.5 4.3-15.5 6zM1719.3 408.2l16.9-5 .7 4.9 9.6-9.4-13.2-2.5 2.1 4.5-16.9 5.1zM1752.2 408.3l17.2-4.3 .4 5 10.1-9-13.1-3.2 1.9 4.7-17.1 4.2zM1785.1 408.3l17.3-2.9 0 5 10.8-8.2-12.9-4.2 1.6 4.8-17.2 2.9zM1818.1 408.3l14.9-2.5 .1 5 10.7-8.1-12.8-4.2 1.6 4.7-15 2.5zM1851 408.3l13.9-1.7-.2 5 11.1-7.7-12.6-4.7 1.4 4.8-13.9 1.7zM1883.9 408.3l12.7-1-.4 5 11.4-7.2-12.4-5.3 1.2 4.9-12.7 1zM1916.8 408.3l12.7-.6-.6 4.9 11.7-6.8-12.3-5.6 1 4.9-12.6 .6zM1949.8 408.3l10.2-.2-.7 4.9 11.9-6.5-12.1-6 .8 5-10.2 .2zM1982.7 408.3l9 .5-1.1 4.9 12.3-5.5-11.5-6.9 .5 4.9-9.1-.5zM2015.6 408.3l6.8 .4-1.1 4.9 12.3-5.4-11.5-7 .4 5-6.7-.5zM2048.2 408.2l8.6 3.2-2.5 4.4 13.4-1.7-9-10-1 4.9-8.6-3.2zM2081.1 408.1l10.3 5.5-3 4 13.5 .1-7.7-11.1-1.6 4.7-10.3-5.4zM2113.8 408l11.4 8.7-3.6 3.5 13.2 2.3-5.6-12.2-2.4 4.4-11.4-8.7zM2146.7 407.9l13.3 12.6-4 3 13 3.7-4.4-12.7-2.8 4.1-13.3-12.5zM2179.6 407.8l13.3 17.3-4.4 2.4 12.3 5.7-2.4-13.3-3.4 3.7-13.4-17.4zM2212.5 407.7l13 20.4-4.6 2 11.7 6.7-1.2-13.4-3.7 3.3-13-20.4zM2245.5 407.8l15.5 18.8-4.3 2.5 12.4 5.3-2.7-13.2-3.4 3.7-15.5-18.7zM2278.6 407.9l19.3 18.5-3.9 3 12.9 3.8-4.3-12.8-2.9 4.1-19.3-18.4zM2311.6 407.9l18.9 18.3-3.9 3 12.9 3.8-4.3-12.8-2.9 4.1-18.9-18.2zM1192.3 429.8l10.5-12.7 3.3 3.7 2.8-13.2-12.4 5.3 4.3 2.5-10.5 12.8zM1225.3 429.8l10.5-12.7 3.3 3.7 2.8-13.2-12.4 5.3 4.3 2.5-10.5 12.8zM1258.3 429.8l10.4-12.7 3.4 3.7 2.7-13.2-12.4 5.3 4.3 2.5-10.5 12.8zM1291.2 429.8l10.5-12.7 3.3 3.7 2.8-13.2-12.4 5.3 4.3 2.5-10.5 12.8zM1324.2 429.8l10.5-12.7 3.3 3.7 2.8-13.2-12.4 5.3 4.3 2.5-10.5 12.8zM1357.1 429.9l10.5-11.7 3.2 3.9 3.3-13.1-12.6 4.8 4.2 2.7-10.5 11.6zM1390 430l11.3-10.4 2.8 4.2 4.6-12.7-13.1 3.5 3.9 3.1-11.2 10.3zM1423 430l10-8.3 2.5 4.3 5.2-12.5-13.2 2.9 3.8 3.3-10 8.3zM1455.9 430.1l10.9-7.8 2.2 4.4 6.1-12-13.4 1.9 3.6 3.5-10.9 7.8zM1488.8 430.1l11-7 2 4.6 6.8-11.7-13.5 1.1 3.3 3.8-11 7zM1521.7 430.2l11-5.7 1.5 4.8 7.9-11-13.5-.1 2.9 4-11 5.6zM1554.6 430.2l10.8-4.9 1.3 4.8 8.3-10.6-13.4-.8 2.7 4.2-10.8 4.9zM1587.4 430.2l11.1-3.5 .7 4.9 9.5-9.6-13.3-2.3 2.3 4.5-11.1 3.6zM1620.3 430.3l11.2-3.1 .6 5 9.9-9.2-13.2-2.9 2.1 4.6-11.3 3zM1653.3 430.3l11.2-3.1 .6 5 9.9-9.2-13.2-2.9 2 4.6-11.2 3zM1686.3 430.3l10.5-2.6 .4 5 10.1-8.9-13.1-3.2 2 4.6-10.6 2.5zM1719.2 430.3l10.8-2.4 .3 5 10.3-8.7-13-3.5 1.8 4.6-10.8 2.4zM1752.2 430.3l10.1-2.3 .3 4.9 10.3-8.7-13.1-3.4 1.9 4.6-10.1 2.3zM1785.1 430.3l6-1.1 .1 5 10.7-8.2-12.9-4.1 1.6 4.8-6 1zM1816.9 429.3l.2 .6-3.9 .7 7.6 7.4 1.7-10.6-3.5 1.9-.2-.6zM1849.5 429l0 .8-4.9-.8 6.2 12 6.3-12-5 .8 0-.8zM1882.5 429l0 .8-4.9-.8 6.2 12 6.2-12-4.9 .8 0-.8zM1915.5 429l0 .8-5-.8 6.3 12 6.2-12-4.9 .8 0-.8zM1948.5 429l0 .8-4.7-.8 6 11.5 6-11.5-4.8 .8 0-.8zM1981.8 429.3l.2 .6-4 .7 7.7 7.4 1.7-10.6-3.5 1.9-.2-.6zM2015.6 430.1l.7 .1-1.1 4 10.5-4.2-9.5-6.2 .3 4.2-.7-.1zM2049.4 428.5l-.3-.5 3.2-1.6-8.6-4.4 1.3 9.6 2.6-2.5 .3 .4zM2080.5 429.5l2.9 7.6-4.9 1 10.2 8.9 1.4-13.4-4.3 2.5-2.9-7.6zM2113.4 429.5l4.2 10.6-4.9 1.1 10.2 8.8 1.4-13.4-4.3 2.5-4.2-10.6zM2146.4 429.6l6 12.5-4.8 1.4 10.7 8.1 .5-13.5-4.1 2.8-5.9-12.5zM2179.4 429.6l5.7 11.4-4.7 1.5 10.9 7.9 .2-13.5-4 2.9-5.7-11.4zM2212.5 429.7l5.8 8.7-4.6 2.1 11.9 6.5-1.5-13.4-3.6 3.4-5.8-8.7zM2245.5 429.8l5.5 7.6-4.5 2.2 12 6.1-1.9-13.4-3.5 3.6-5.5-7.7zM2278.5 429.8l6.1 7.9-4.3 2.4 12.2 5.6-2.4-13.3-3.4 3.7-6.2-7.9zM2311.5 429.8l5.9 7.3-4.3 2.6 12.4 5.3-2.7-13.2-3.3 3.7-6-7.3zM1190.4 463.1l.3 .6-3.6 1.5 9.2 5.4-.8-10.6-3 2.6-.3-.5zM1223.4 463.1l.3 .6-3.6 1.5 9.2 5.4-.9-10.6-2.9 2.6-.4-.5zM1256.4 463.1l.3 .6-3.6 1.5 9.1 5.4-.8-10.6-3 2.6-.3-.5zM1289.4 463.1l.3 .6-3.7 1.5 9.2 5.4-.8-10.6-3 2.6-.3-.5zM1322.3 463.1l.4 .6-3.7 1.5 9.2 5.4-.8-10.6-3 2.6-.3-.5zM1356.8 463.7l4.3-2.4 1.8 4.7 7.3-11.4-13.5 .5 3.1 3.9-4.3 2.5zM1389.7 463.8l5.7-2.5 1.3 4.8 8.5-10.5-13.5-.9 2.7 4.2-5.8 2.5zM1422.6 463.8l6.8-2.3 .9 4.9 9.2-9.8-13.3-2 2.3 4.4-6.8 2.4zM1455.5 463.8l8.3-2.6 .8 5 9.5-9.6-13.3-2.3 2.3 4.4-8.4 2.7zM1488.4 463.9l8.4-2.1 .5 4.9 10.1-8.9-13.1-3.2 1.9 4.6-8.4 2.1zM1521.3 463.9l10.2-2.3 .3 4.9 10.3-8.7-13.1-3.4 1.9 4.6-10.1 2.3zM1554.1 463.9l8.9-.5-.5 4.9 11.5-6.9-12.3-5.5 1.1 4.9-8.8 .5zM1587 463.9l9.3 0-.7 4.9 11.9-6.2-11.9-6.2 .7 4.9-9.3 0zM1620 463.9l8.3 0-.8 4.9 12-6.2-12-6.2 .8 4.9-8.3 0zM1652.9 463.9l8.6 .4-1 4.9 12.3-5.6-11.7-6.8 .6 4.9-8.7-.4zM1685.9 463.9l8.8 .4-1 4.9 12.2-5.6-11.6-6.8 .5 4.9-8.8-.4zM1718.8 463.9l5.9 .3-1.1 4.9 12.3-5.5-11.6-6.9 .5 4.9-5.8-.3zM1751.8 463.9l3.9 .3-1.2 4.8 12.4-5.4-11.5-7 .4 5-3.8-.3zM1784.8 463.9l.7 0-1.1 4.8 12.2-5.1-11.2-7.1 .3 4.9-.7-.1zM1817.7 463.6l.6 0-1 3.7 9.5-3.7-8.4-5.7 .1 3.8-.5-.1zM1850.1 462.9l.2 .5-3.1 .8 6.6 5.4 .7-8.6-2.7 1.7-.2-.4zM1883 462.7l.1 .5-2.9-.1 4.6 6.5 2.7-7.5-2.9 .8 0-.4zM1916.9 462.1l-.3-.1 .7-2-5.5 1.6 4.5 3.6 0-2.1 .4 0zM1949.8 462.1l-.4 0 .4-2.1-5 2.6 5 2.6-.4-2.1 .4 0zM1982.7 462.1l-.3 0 .3-2.1-5 2.6 5 2.6-.3-2.1 .3 0zM2015.7 462.2l-.3 0 .3-1.7-4 2.1 4 2.1-.3-1.7 .3 0zM2048.7 462.3l-.2 0 .2-1.3-3 1.6 3 1.6-.2-1.3 .2 0zM2083 462.6l-.7 1.1-1.3 0-.6-1.1 .6-1.1 1.3 0zM2115.9 462.6l-.6 1.1-1.3 0-.7-1.1 .7-1.1 1.3 0zM2148.9 462.6l-.6 1.1-1.3 0-.7-1.1 .7-1.1 1.3 0zM2181.9 462.6l-.7 1.1-1.3 0-.6-1.1 .6-1.1 1.3 0zM2214.9 462.6l-.7 1.1-1.3 0-.6-1.1 .6-1.1 1.3 0zM2246.5 462.3l-.1 0 .1-1.3-3 1.6 3 1.6-.1-1.3 .1 0zM2279.5 462.3l-.2 0 .2-1.3-3 1.6 3 1.6-.2-1.3 .2 0zM2312.5 462.2l-.3 0 .3-1.7-4 2.1 4 2.1-.3-1.7 .3 0zM2345.5 462.2l-.3 0 .3-1.7-4 2.1 4 2.1-.3-1.7 .3 0zM2378.5 462.2l-.3 0 .3-1.7-4 2.1 4 2.1-.3-1.7 .3 0zM2411.4 462.2l-.2 0 .2-1.7-4 2.1 4 2.1-.2-1.7 .2 0zM2444.4 462.2l-.3 0 .3-1.7-4 2.1 4 2.1-.3-1.7 .3 0zM2477.4 462.2l-.3 0 .3-1.7-4 2.1 4 2.1-.3-1.7 .3 0zM1325.8 488l-.4 0 .6-2.1-5.3 2.2 4.7 3.1-.1-2.1 .3 0zM1359.7 487.8l-.4 0 .6-2.9-7.2 3.2 6.7 4.1-.2-2.9 .4 0zM1393.5 487.6l-.6 0 .8-3.5-8.8 4 8.2 4.9-.3-3.6 .5 .1zM1427.1 487.2l-.6 0 .6-4.1-10 5.2 10 5.2-.6-4.1 .6 0zM1460.4 487.4l-.7 0 .9-4.3-10.7 5 10.2 5.9-.5-4.3 .7 0zM1493.5 487.9l-.7-.1 1.3-4.2-11.3 4 9.8 6.9-.1-4.4 .7 .1zM1519.9 482.8l0 .7-4.6-.7 5.8 11 5.7-11-4.5 .7 0-.7zM1552.8 482.8l0 .7-4.5-.7 5.7 11 5.8-11-4.6 .7 0-.7zM1585.8 482.8l0 .7-4.5-.7 5.7 11 5.8-11-4.6 .7 0-.7zM1618.8 482.8l0 .7-4.5-.7 5.7 11 5.7-11-4.5 .7 0-.7zM1651.8 482.8l0 .7-4.6-.7 5.8 11 5.7-11-4.5 .7 0-.7zM1684.7 482.8l0 .7-4.5-.7 5.7 11 5.8-11-4.6 .7 0-.7zM1717.7 482.8l0 .7-4.5-.7 5.7 11 5.8-11-4.6 .7 0-.7zM1750.7 482.8l0 .7-4.5-.7 5.7 11 5.7-11-4.5 .7 0-.7zM1784.3 483.4l0 .7-3.9-1.1 4 10.1 5.9-9-4 .2 .1-.6zM1820.2 484.6l-.4 .4-2.1-2.8-2.9 9.1 9.2-2.9-2.9-2.1 .4-.3zM1854.2 487l-.4 .1 0-3-6.5 4.7 7.5 2.7-.8-2.9 .4 0zM1886.3 487.8l-.3 0 .3-2.1-5 2.6 5 2.6-.3-2.1 .3 0zM1919.3 487.8l-.3 0 .3-2.1-5 2.6 5 2.6-.3-2.1 .3 0zM1951.1 488.3l-.7 1.1-1.3 0-.6-1.1 .6-1.1 1.3 0zM1984 488.3l-.6 1.1-1.3 0-.7-1.1 .7-1.1 1.3 0zM2017 488.3l-.6 1.1-1.3 0-.7-1.1 .7-1.1 1.3 0zM2050 488.3l-.7 1.1-1.3 0-.6-1.1 .6-1.1 1.3 0zM2083 488.3l-.7 1.1-1.3 0-.6-1.1 .6-1.1 1.3 0zM2115.9 488.3l-.6 1.1-1.3 0-.7-1.1 .7-1.1 1.3 0zM2148.9 488.3l-.6 1.1-1.3 0-.7-1.1 .7-1.1 1.3 0zM2181.9 488.3l-.7 1.1-1.3 0-.6-1.1 .6-1.1 1.3 0zM2215.3 487.9l-.2 0 .2-1.4-3.5 1.8 3.5 1.8-.2-1.4 .2 0zM2250.5 487.4l-.5 0 .5-3.3-8 4.2 8 4.2-.5-3.3 .5 0zM2284.3 486.2l-.6 .1-.2-4.2-9 7.2 11.1 3.2-1.5-4 .6-.1zM2316.9 486.8l-.6 .1 .2-3.8-8.5 5.7 9.5 3.7-1-3.7 .6 0zM2349.9 486.8l-.6 .1 .2-3.8-8.5 5.7 9.5 3.7-1-3.7 .6 0zM2382.8 486.8l-.5 .1 .1-3.8-8.4 5.7 9.5 3.7-1-3.7 .6 0zM2415.8 486.8l-.6 .1 .2-3.8-8.5 5.7 9.6 3.7-1-3.7 .5 0zM2448.8 486.8l-.6 .1 .2-3.8-8.5 5.7 9.5 3.7-1-3.7 .6 0zM2481.8 486.8l-.6 .1 .2-3.8-8.5 5.7 9.5 3.7-1-3.7 .6 0zM1186.8 510.8l.6 0-.6 3.7 9-4.7-9-4.7 .6 3.7-.6 0zM1219.8 510.8l.6 0-.6 3.7 9-4.7-9-4.7 .6 3.7-.6 0zM1252.7 510.8l.6 0-.6 3.7 9-4.7-9-4.7 .6 3.7-.6 0zM1285.7 510.8l.6 0-.6 3.7 9-4.7-9-4.7 .6 3.7-.6 0zM1318.7 510.8l.6 0-.6 3.7 9-4.7-9-4.7 .6 3.7-.6 0zM1351.7 510.8l.6 0-.6 3.7 9-4.7-9-4.7 .6 3.7-.6 0zM1385.7 510.8l.5 0-.3 2.9 6.8-4.1-7.3-3.2 .7 2.9-.5 0zM1420.1 511.3l.3-.1 .5 1.9 3.5-4.3-5.6-.3 1.2 1.7-.3 .1zM1455.6 512l0-.2 1.9 .2-2.4-4.4-2.3 4.4 1.8-.2 0 .2zM1488.6 512l0-.2 1.8 .2-2.3-4.4-2.4 4.4 1.9-.2 0 .2zM1521.5 511.8l0-.3 1.6 .3-2-4-2.1 4 1.6-.3 0 .3zM1554.4 511.6l0-.3 1.5 .3-1.9-3.5-1.8 3.5 1.5-.3 0 .3zM1588.3 509.8l-.6 1.1-1.3 0-.7-1.1 .7-1.1 1.3 0zM1621.3 509.8l-.7 1.1-1.3 0-.6-1.1 .6-1.1 1.3 0zM1654.3 509.8l-.7 1.1-1.3 0-.6-1.1 .6-1.1 1.3 0zM1687.2 509.8l-.6 1.1-1.3 0-.7-1.1 .7-1.1 1.3 0zM1720.2 509.8l-.6 1.1-1.3 0-.7-1.1 .7-1.1 1.3 0zM1753.2 509.8l-.7 1.1-1.3 0-.6-1.1 .6-1.1 1.3 0zM1786.2 509.8l-.7 1.1-1.3 0-.6-1.1 .6-1.1 1.3 0zM1817.5 508.1l0 .2-1.5-.2 1.8 3.5 1.9-3.5-1.5 .2 0-.2zM1852.1 509.8l-.6 1.1-1.3 0-.7-1.1 .7-1.1 1.3 0zM1885.1 509.8l-.6 1.1-1.3 0-.7-1.1 .7-1.1 1.3 0zM1918.1 509.8l-.7 1.1-1.3 0-.6-1.1 .6-1.1 1.3 0zM1951.1 509.8l-.7 1.1-1.3 0-.6-1.1 .6-1.1 1.3 0zM1984 509.8l-.6 1.1-1.3 0-.7-1.1 .7-1.1 1.3 0zM2017 509.8l-.6 1.1-1.3 0-.7-1.1 .7-1.1 1.3 0zM2050 509.8l-.7 1.1-1.3 0-.6-1.1 .6-1.1 1.3 0zM2083 509.8l-.7 1.1-1.3 0-.6-1.1 .6-1.1 1.3 0zM2115 511.6l0-.3 1.5 .3-1.9-3.5-1.8 3.5 1.5-.3 0 .3zM2148 511.6l0-.3 1.4 .3-1.8-3.5-1.8 3.5 1.4-.3 0 .3zM2181 511.8l0-.3 1.7 .3-2.1-4-2.1 4 1.7-.3 0 .3zM2214.8 513.2l0-.5 2.9 .1-4.6-6.5-2.7 7.5 2.8-.8 .1 .4zM2250.8 512.5l-.4-.4 3.3-2.5-10.7-3.3 3.4 10.7 2.4-3.4 .5 .5zM2279.6 515l.1-.6 4 1.4-3.2-11-7.2 9 4.3 .1-.2 .7zM2313.2 512.8l0-.4 2.4 .4-3.1-6-3.1 6 2.4-.4 0 .4zM1185.8 529.7l.7 0-.7 4.5 11-5.7-11-5.7 .7 4.5-.7 0zM1218.8 529.7l.7 0-.7 4.5 11-5.7-11-5.7 .7 4.5-.7 0zM1251.7 529.7l.8 0-.8 4.5 11-5.7-11-5.7 .8 4.5-.8 0zM1284.7 529.7l.7 0-.7 4.5 11-5.7-11-5.7 .7 4.5-.7 0zM1317.7 529.7l.7 0-.7 4.5 11-5.7-11-5.7 .7 4.5-.7 0zM1350.7 529.7l.7 0-.7 4.5 11-5.7-11-5.7 .7 4.5-.7 0zM1384.2 529.6l.6 0-.6 4.1 9.9-5.2-9.9-5.2 .6 4.1-.6 0zM1417.2 529.6l.6 0-.6 4.1 9.9-5.2-9.9-5.2 .6 4.1-.6 0zM1450.7 529.5l.6 0-.6 3.6 8.8-4.6-8.8-4.6 .6 3.6-.6 0zM1483.7 529.5l.6 0-.6 3.6 8.8-4.6-8.8-4.6 .6 3.6-.6 0zM1516.9 529.4l.6 0-.6 3.4 8.3-4.3-8.3-4.3 .6 3.4-.6 0zM1550.2 529.3l.5 0-.5 3.2 7.7-4-7.7-4 .5 3.2-.5 0zM1583.2 529.3l.5 0-.5 3.2 7.7-4-7.7-4 .5 3.2-.5 0zM1617 529.2l.4 0-.4 2.5 6-3.2-6-3.2 .4 2.5-.4 0zM1650.8 529l.3 0-.3 1.8 4.4-2.3-4.4-2.3 .3 1.8-.3 0zM1687.2 528.5l-.6 1.1-1.3 0-.7-1.1 .7-1.1 1.3 0zM1720.2 528.5l-.6 1.1-1.3 0-.7-1.1 .7-1.1 1.3 0zM1753.2 528.5l-.7 1.1-1.3 0-.6-1.1 .6-1.1 1.3 0zM1786.2 528.5l-.7 1.1-1.3 0-.6-1.1 .6-1.1 1.3 0zM1819.1 528.5l-.6 1.1-1.3 0-.7-1.1 .7-1.1 1.3 0zM1852.1 528.5l-.6 1.1-1.3 0-.7-1.1 .7-1.1 1.3 0zM1885.1 528.5l-.6 1.1-1.3 0-.7-1.1 .7-1.1 1.3 0zM1918.1 528.5l-.7 1.1-1.3 0-.6-1.1 .6-1.1 1.3 0zM1951.1 528.5l-.7 1.1-1.3 0-.6-1.1 .6-1.1 1.3 0zM1984 528.5l-.6 1.1-1.3 0-.7-1.1 .7-1.1 1.3 0zM2017 528.5l-.6 1.1-1.3 0-.7-1.1 .7-1.1 1.3 0zM2050 528.5l-.7 1.1-1.3 0-.6-1.1 .6-1.1 1.3 0zM2083 528.5l-.7 1.1-1.3 0-.6-1.1 .6-1.1 1.3 0zM2115.9 528.5l-.6 1.1-1.3 0-.7-1.1 .7-1.1 1.3 0zM2148.9 528.5l-.6 1.1-1.3 0-.7-1.1 .7-1.1 1.3 0zM2181.9 528.5l-.7 1.1-1.3 0-.6-1.1 .6-1.1 1.3 0zM2213.2 526.9l0 .2-1.4-.2 1.8 3.2 1.7-3.2-1.4 .2 0-.2zM2243.2 529.2l.5 0-.5 2.7 6.6-3.4-6.6-3.4 .5 2.7-.5 0zM2275.7 529.3l.5 0-.5 3.2 7.7-4-7.7-4 .5 3.2-.5 0zM2309.8 529.1l.3 0-.3 2.3 5.4-2.9-5.4-2.9 .3 2.3-.3 0zM1323 556l-.4-2.9 5 .1-7.9-11-4.5 12.7 4.8-1.4 .4 2.9zM1356 556l-.5-2.9 5 .1-7.8-11-4.5 12.7 4.8-1.4 .4 2.9zM1388.9 556l-.4-2.9 5 .1-7.8-11-4.5 12.7 4.7-1.4 .5 2.9zM1421.9 556l-.4-2.9 5 .1-7.9-11-4.5 12.7 4.8-1.4 .4 2.9zM1454.9 556l-.4-2.9 5 .1-7.9-11-4.5 12.7 4.8-1.4 .4 2.9zM1487.9 556l-.4-2.9 5 .1-7.9-11-4.5 12.7 4.8-1.4 .4 2.9zM1520.8 556l-.4-2.9 5 .1-7.8-11-4.5 12.7 4.8-1.4 .4 2.9zM1553.8 556l-.4-2.9 5 .1-7.9-11-4.4 12.7 4.7-1.4 .4 2.9zM1586.8 556l-.4-2.9 5 .1-7.9-11-4.5 12.7 4.8-1.4 .4 2.9zM1619.8 556l-.4-2.9 5 .1-7.9-11-4.5 12.7 4.8-1.4 .4 2.9zM1652.8 556l-.5-2.9 5 .1-7.8-11-4.5 12.7 4.8-1.4 .4 2.9zM1685.7 556l-.4-2.9 5 .1-7.9-11-4.4 12.7 4.7-1.4 .5 2.9zM1718.7 556l-.4-2.9 5 .1-7.9-11-4.5 12.7 4.8-1.4 .4 2.9zM1751.7 556l-.4-2.9 5 .1-7.9-11-4.5 12.7 4.8-1.4 .4 2.9zM1784.7 556l-.5-2.9 5 .1-7.8-11-4.5 12.7 4.8-1.4 .4 2.9zM1819.1 555.2l0-.8 5 .8-6.3-12-6.2 12 4.9-.8 0 .8zM1851.8 553.7l0-.6 3.7 .6-4.7-9-4.7 9 3.7-.6 0 .6zM1884.2 551.2l0-.3 1.7 .3-2.1-4-2.1 4 1.7-.3 0 .3zM1918.4 549.4l-.2-.1 .6-1.2-3.5 .6 2.5 2.6 .2-1.3 .2 0zM1951.4 549.4l-.2-.1 .6-1.2-3.5 .6 2.4 2.6 .3-1.3 .1 0zM1984.3 549.4l-.2-.1 .7-1.2-3.6 .6 2.5 2.6 .2-1.3 .2 0zM2017 549.2l-.6 1.1-1.3 0-.7-1.1 .7-1.1 1.3 0zM2050 549.2l-.7 1.1-1.3 0-.6-1.1 .6-1.1 1.3 0zM2083 549.2l-.7 1.1-1.3 0-.6-1.1 .6-1.1 1.3 0zM2115.9 549.2l-.6 1.1-1.3 0-.7-1.1 .7-1.1 1.3 0zM2148.7 554.2l0-.7 4.1 .7-5.2-10-5.2 10 4.1-.7 0 .7zM2181.8 555l0-.8 4.8 .8-6-11.5-6 11.5 4.7-.8 0 .8zM2214.9 555.5l0-1.4 4.9 .8-6.2-11.9-6.3 11.9 5-.8 0 1.4zM2247.8 555.7l0-1.8 5 .8-6.3-12-6.2 12 4.9-.8 0 1.8zM2280.8 555.7l0-1.8 5 .8-6.3-12-6.2 12 4.9-.8 0 1.8zM2313.6 554.2l0-.7 4.1 .7-5.2-10-5.2 10 4.1-.7 0 .7zM1320.5 563.7l-.4-2.9 5 .1-7.9-11-4.5 12.7 4.8-1.4 .4 2.9zM1353.5 563.7l-.5-2.9 5 .1-7.8-11-4.5 12.7 4.8-1.4 .4 2.9zM1386.4 563.7l-.4-2.9 5 .1-7.8-11-4.5 12.7 4.7-1.4 .5 2.9zM1419.4 563.7l-.4-2.9 5 .1-7.9-11-4.5 12.7 4.8-1.4 .4 2.9zM1452.4 563.7l-.4-2.9 5 .1-7.9-11-4.5 12.7 4.8-1.4 .4 2.9zM1485.4 563.7l-.4-2.9 5 .1-7.9-11-4.5 12.7 4.8-1.4 .4 2.9zM1518.3 563.7l-.4-2.9 5 .1-7.8-11-4.5 12.7 4.8-1.4 .4 2.9zM1551.3 563.7l-.4-2.9 5 .1-7.9-11-4.4 12.7 4.7-1.4 .4 2.9zM1584.3 563.7l-.4-2.9 5 .1-7.9-11-4.5 12.7 4.8-1.4 .4 2.9zM1617.3 563.7l-.4-2.9 5 .1-7.9-11-4.5 12.7 4.8-1.4 .4 2.9zM1650.3 563.7l-.5-2.9 5 .1-7.8-11-4.5 12.7 4.8-1.4 .4 2.9zM1683.2 563.7l-.4-2.9 5 .1-7.9-11-4.4 12.7 4.7-1.4 .5 2.9zM1716.2 563.7l-.4-2.9 5 .1-7.9-11-4.5 12.7 4.8-1.4 .4 2.9zM1749.2 563.7l-.4-2.9 5 .1-7.9-11-4.5 12.7 4.8-1.4 .4 2.9zM1782.2 563.7l-.5-2.9 5 .1-7.8-11-4.5 12.7 4.8-1.4 .4 2.9zM1819.1 562.9l0-.8 5 .8-6.3-12-6.2 12 4.9-.8 0 .8zM1851.8 561.4l0-.6 3.7 .6-4.7-9-4.7 9 3.7-.6 0 .6zM1884.2 558.9l0-.3 1.7 .3-2.1-4-2.1 4 1.7-.3 0 .3zM1918.4 557.1l-.2-.1 .6-1.2-3.5 .6 2.5 2.6 .2-1.3 .2 0zM1951.4 557.1l-.2-.1 .6-1.2-3.5 .6 2.4 2.6 .3-1.3 .1 0zM1984.3 557.1l-.2-.1 .7-1.2-3.6 .6 2.5 2.6 .2-1.3 .2 0zM2017 556.9l-.6 1.1-1.3 0-.7-1.1 .7-1.1 1.3 0zM2050 556.9l-.7 1.1-1.3 0-.6-1.1 .6-1.1 1.3 0zM2083 556.9l-.7 1.1-1.3 0-.6-1.1 .6-1.1 1.3 0zM2115.9 556.9l-.6 1.1-1.3 0-.7-1.1 .7-1.1 1.3 0zM2148.7 561.9l0-.7 4.1 .7-5.2-10-5.2 10 4.1-.7 0 .7zM2181.8 562.6l0-.7 4.8 .7-6-11.5-6 11.5 4.7-.7 0 .7zM2214.9 563.1l0-1.3 4.9 .8-6.2-12-6.3 12 5-.8 0 1.3zM2247.8 563.4l0-1.8 5 .8-6.3-12-6.2 12 4.9-.8 0 1.8zM2280.8 563.4l0-1.8 5 .8-6.3-12-6.2 12 4.9-.8 0 1.8zM2313.6 561.9l0-.7 4.1 .7-5.2-10-5.2 10 4.1-.7 0 .7zM1325 563.7l-.4-2.9 5 .1-7.9-11-4.5 12.7 4.8-1.4 .4 2.9zM1358 563.7l-.5-2.9 5 .1-7.8-11-4.5 12.7 4.8-1.4 .4 2.9zM1390.9 563.7l-.4-2.9 5 .1-7.8-11-4.5 12.7 4.7-1.4 .5 2.9zM1423.9 563.7l-.4-2.9 5 .1-7.9-11-4.5 12.7 4.8-1.4 .4 2.9zM1456.9 563.7l-.4-2.9 5 .1-7.9-11-4.5 12.7 4.8-1.4 .4 2.9zM1489.9 563.7l-.4-2.9 5 .1-7.9-11-4.5 12.7 4.8-1.4 .4 2.9zM1522.8 563.7l-.4-2.9 5 .1-7.8-11-4.5 12.7 4.8-1.4 .4 2.9zM1555.8 563.7l-.4-2.9 5 .1-7.9-11-4.4 12.7 4.7-1.4 .4 2.9zM1588.8 563.7l-.4-2.9 5 .1-7.9-11-4.5 12.7 4.8-1.4 .4 2.9zM1621.8 563.7l-.4-2.9 5 .1-7.9-11-4.5 12.7 4.8-1.4 .4 2.9zM1654.8 563.7l-.5-2.9 5 .1-7.8-11-4.5 12.7 4.8-1.4 .4 2.9zM1687.7 563.7l-.4-2.9 5 .1-7.9-11-4.4 12.7 4.7-1.4 .5 2.9zM1720.7 563.7l-.4-2.9 5 .1-7.9-11-4.5 12.7 4.8-1.4 .4 2.9zM1753.7 563.7l-.4-2.9 5 .1-7.9-11-4.5 12.7 4.8-1.4 .4 2.9zM1786.7 563.7l-.5-2.9 5 .1-7.8-11-4.5 12.7 4.8-1.4 .4 2.9zM1318.5 572.2l-.4-2.9 5 .1-7.9-11-4.5 12.7 4.8-1.4 .4 2.9zM1351.5 572.2l-.5-2.9 5 .1-7.8-11-4.5 12.7 4.8-1.4 .4 2.9zM1384.4 572.2l-.4-2.9 5 .1-7.8-11-4.5 12.7 4.7-1.4 .5 2.9zM1417.4 572.2l-.4-2.9 5 .1-7.9-11-4.5 12.7 4.8-1.4 .4 2.9zM1450.4 572.2l-.4-2.9 5 .1-7.9-11-4.5 12.7 4.8-1.4 .4 2.9zM1483.4 572.2l-.4-2.9 5 .1-7.9-11-4.5 12.7 4.8-1.4 .4 2.9zM1516.3 572.2l-.4-2.9 5 .1-7.8-11-4.5 12.7 4.8-1.4 .4 2.9zM1549.3 572.2l-.4-2.9 5 .1-7.9-11-4.4 12.7 4.7-1.4 .4 2.9zM1582.3 572.2l-.4-2.9 5 .1-7.9-11-4.5 12.7 4.8-1.4 .4 2.9zM1615.3 572.2l-.4-2.9 5 .1-7.9-11-4.5 12.7 4.8-1.4 .4 2.9zM1648.3 572.2l-.5-2.9 5 .1-7.8-11-4.5 12.7 4.8-1.4 .4 2.9zM1681.2 572.2l-.4-2.9 5 .1-7.9-11-4.4 12.7 4.7-1.4 .5 2.9zM1714.2 572.2l-.4-2.9 5 .1-7.9-11-4.5 12.7 4.8-1.4 .4 2.9zM1747.2 572.2l-.4-2.9 5 .1-7.9-11-4.5 12.7 4.8-1.4 .4 2.9zM1780.2 572.2l-.5-2.9 5 .1-7.8-11-4.5 12.7 4.8-1.4 .4 2.9zM1819.1 571.4l0-.8 5 .8-6.3-12-6.2 12 4.9-.8 0 .8zM1851.8 569.9l0-.6 3.7 .6-4.7-9-4.7 9 3.7-.6 0 .6zM1884.2 567.4l0-.3 1.7 .3-2.1-4-2.1 4 1.7-.3 0 .3zM1918.4 565.6l-.2-.1 .6-1.2-3.5 .6 2.5 2.6 .2-1.3 .2 0zM1951.4 565.6l-.2-.1 .6-1.2-3.5 .6 2.4 2.6 .3-1.3 .1 0zM1984.3 565.6l-.2-.1 .7-1.2-3.6 .6 2.5 2.6 .2-1.3 .2 0zM2017 565.4l-.6 1.1-1.3 0-.7-1.1 .7-1.1 1.3 0zM2050 565.4l-.7 1.1-1.3 0-.6-1.1 .6-1.1 1.3 0zM2083 565.4l-.7 1.1-1.3 0-.6-1.1 .6-1.1 1.3 0zM2115.9 565.4l-.6 1.1-1.3 0-.7-1.1 .7-1.1 1.3 0zM2148.7 570.4l0-.7 4.1 .7-5.2-10-5.2 10 4.1-.7 0 .7zM2181.8 571.1l0-.7 4.8 .7-6-11.5-6 11.5 4.7-.7 0 .7zM2214.9 571.6l0-1.3 4.9 .8-6.2-12-6.3 12 5-.8 0 1.3zM2247.8 571.9l0-1.8 5 .8-6.3-12-6.2 12 4.9-.8 0 1.8zM2280.8 571.9l0-1.8 5 .8-6.3-12-6.2 12 4.9-.8 0 1.8zM2313.6 570.4l0-.7 4.1 .7-5.2-10-5.2 10 4.1-.7 0 .7zM1323 572.2l-.4-2.9 5 .1-7.9-11-4.5 12.7 4.8-1.4 .4 2.9zM1356 572.2l-.5-2.9 5 .1-7.8-11-4.5 12.7 4.8-1.4 .4 2.9zM1388.9 572.2l-.4-2.9 5 .1-7.8-11-4.5 12.7 4.7-1.4 .5 2.9zM1421.9 572.2l-.4-2.9 5 .1-7.9-11-4.5 12.7 4.8-1.4 .4 2.9zM1454.9 572.2l-.4-2.9 5 .1-7.9-11-4.5 12.7 4.8-1.4 .4 2.9zM1487.9 572.2l-.4-2.9 5 .1-7.9-11-4.5 12.7 4.8-1.4 .4 2.9zM1520.8 572.2l-.4-2.9 5 .1-7.8-11-4.5 12.7 4.8-1.4 .4 2.9zM1553.8 572.2l-.4-2.9 5 .1-7.9-11-4.4 12.7 4.7-1.4 .4 2.9zM1586.8 572.2l-.4-2.9 5 .1-7.9-11-4.5 12.7 4.8-1.4 .4 2.9zM1619.8 572.2l-.4-2.9 5 .1-7.9-11-4.5 12.7 4.8-1.4 .4 2.9zM1652.8 572.2l-.5-2.9 5 .1-7.8-11-4.5 12.7 4.8-1.4 .4 2.9zM1685.7 572.2l-.4-2.9 5 .1-7.9-11-4.4 12.7 4.7-1.4 .5 2.9zM1718.7 572.2l-.4-2.9 5 .1-7.9-11-4.5 12.7 4.8-1.4 .4 2.9zM1751.7 572.2l-.4-2.9 5 .1-7.9-11-4.5 12.7 4.8-1.4 .4 2.9zM1784.7 572.2l-.5-2.9 5 .1-7.8-11-4.5 12.7 4.8-1.4 .4 2.9zM1318 579.1l-.4-2.9 5 .1-7.9-11-4.5 12.7 4.8-1.4 .4 2.9zM1351 579.1l-.5-2.9 5 .1-7.8-11-4.5 12.7 4.8-1.4 .4 2.9zM1383.9 579.1l-.4-2.9 5 .1-7.8-11-4.5 12.7 4.7-1.4 .5 2.9zM1416.9 579.1l-.4-2.9 5 .1-7.9-11-4.5 12.7 4.8-1.4 .4 2.9zM1449.9 579.1l-.4-2.9 5 .1-7.9-11-4.5 12.7 4.8-1.4 .4 2.9zM1482.9 579.1l-.4-2.9 5 .1-7.9-11-4.5 12.7 4.8-1.4 .4 2.9zM1515.8 579.1l-.4-2.9 5 .1-7.8-11-4.5 12.7 4.8-1.4 .4 2.9zM1548.8 579.1l-.4-2.9 5 .1-7.9-11-4.4 12.7 4.7-1.4 .4 2.9zM1581.8 579.1l-.4-2.9 5 .1-7.9-11-4.5 12.7 4.8-1.4 .4 2.9zM1614.8 579.1l-.4-2.9 5 .1-7.9-11-4.5 12.7 4.8-1.4 .4 2.9zM1647.8 579.1l-.5-2.9 5 .1-7.8-11-4.5 12.7 4.8-1.4 .4 2.9zM1680.7 579.1l-.4-2.9 5 .1-7.9-11-4.4 12.7 4.7-1.4 .5 2.9zM1713.7 579.1l-.4-2.9 5 .1-7.9-11-4.5 12.7 4.8-1.4 .4 2.9zM1746.7 579.1l-.4-2.9 5 .1-7.9-11-4.5 12.7 4.8-1.4 .4 2.9zM1779.7 579.1l-.5-2.9 5 .1-7.8-11-4.5 12.7 4.8-1.4 .4 2.9zM1819.1 578.3l0-.8 5 .8-6.3-12-6.2 12 4.9-.8 0 .8zM1851.8 576.8l0-.6 3.7 .6-4.7-9-4.7 9 3.7-.6 0 .6zM1884.2 574.3l0-.3 1.7 .3-2.1-4-2.1 4 1.7-.3 0 .3zM1918.4 572.5l-.2-.1 .6-1.2-3.5 .6 2.5 2.6 .2-1.3 .2 0zM1951.4 572.5l-.2-.1 .6-1.2-3.5 .6 2.4 2.6 .3-1.3 .1 0zM1984.3 572.5l-.2-.1 .7-1.2-3.6 .6 2.5 2.6 .2-1.3 .2 0zM2017 572.3l-.6 1.1-1.3 0-.7-1.1 .7-1.1 1.3 0zM2050 572.3l-.7 1.1-1.3 0-.6-1.1 .6-1.1 1.3 0zM2083 572.3l-.7 1.1-1.3 0-.6-1.1 .6-1.1 1.3 0zM2115.9 572.3l-.6 1.1-1.3 0-.7-1.1 .7-1.1 1.3 0zM2148.7 577.3l0-.7 4.1 .7-5.2-10-5.2 10 4.1-.7 0 .7zM2181.8 578.1l0-.8 4.8 .8-6-11.5-6 11.5 4.7-.8 0 .8zM2214.9 578.6l0-1.4 4.9 .8-6.2-11.9-6.3 11.9 5-.8 0 1.4zM2247.8 578.8l0-1.8 5 .8-6.3-12-6.2 12 4.9-.8 0 1.8zM2280.8 578.8l0-1.8 5 .8-6.3-12-6.2 12 4.9-.8 0 1.8zM2313.6 577.3l0-.7 4.1 .7-5.2-10-5.2 10 4.1-.7 0 .7zM1322.5 579.1l-.4-2.9 5 .1-7.9-11-4.5 12.7 4.8-1.4 .4 2.9zM1355.5 579.1l-.5-2.9 5 .1-7.8-11-4.5 12.7 4.8-1.4 .4 2.9zM1388.4 579.1l-.4-2.9 5 .1-7.8-11-4.5 12.7 4.7-1.4 .5 2.9zM1421.4 579.1l-.4-2.9 5 .1-7.9-11-4.5 12.7 4.8-1.4 .4 2.9zM1454.4 579.1l-.4-2.9 5 .1-7.9-11-4.5 12.7 4.8-1.4 .4 2.9zM1487.4 579.1l-.4-2.9 5 .1-7.9-11-4.5 12.7 4.8-1.4 .4 2.9zM1520.3 579.1l-.4-2.9 5 .1-7.8-11-4.5 12.7 4.8-1.4 .4 2.9zM1553.3 579.1l-.4-2.9 5 .1-7.9-11-4.4 12.7 4.7-1.4 .4 2.9zM1586.3 579.1l-.4-2.9 5 .1-7.9-11-4.5 12.7 4.8-1.4 .4 2.9zM1619.3 579.1l-.4-2.9 5 .1-7.9-11-4.5 12.7 4.8-1.4 .4 2.9zM1652.3 579.1l-.5-2.9 5 .1-7.8-11-4.5 12.7 4.8-1.4 .4 2.9zM1685.2 579.1l-.4-2.9 5 .1-7.9-11-4.4 12.7 4.7-1.4 .5 2.9zM1718.2 579.1l-.4-2.9 5 .1-7.9-11-4.5 12.7 4.8-1.4 .4 2.9zM1751.2 579.1l-.4-2.9 5 .1-7.9-11-4.5 12.7 4.8-1.4 .4 2.9zM1784.2 579.1l-.5-2.9 5 .1-7.8-11-4.5 12.7 4.8-1.4 .4 2.9zM1319.5 585.4l-.4-2.9 5 .1-7.9-11-4.5 12.7 4.8-1.4 .4 2.9zM1352.5 585.4l-.5-2.9 5 .1-7.8-11-4.5 12.7 4.8-1.4 .4 2.9zM1385.4 585.4l-.4-2.9 5 .1-7.8-11-4.5 12.7 4.7-1.4 .5 2.9zM1418.4 585.4l-.4-2.9 5 .1-7.9-11-4.5 12.7 4.8-1.4 .4 2.9zM1451.4 585.4l-.4-2.9 5 .1-7.9-11-4.5 12.7 4.8-1.4 .4 2.9zM1484.4 585.4l-.4-2.9 5 .1-7.9-11-4.5 12.7 4.8-1.4 .4 2.9zM1517.3 585.4l-.4-2.9 5 .1-7.8-11-4.5 12.7 4.8-1.4 .4 2.9zM1550.3 585.4l-.4-2.9 5 .1-7.9-11-4.4 12.7 4.7-1.4 .4 2.9zM1583.3 585.4l-.4-2.9 5 .1-7.9-11-4.5 12.7 4.8-1.4 .4 2.9zM1616.3 585.4l-.4-2.9 5 .1-7.9-11-4.5 12.7 4.8-1.4 .4 2.9zM1649.3 585.4l-.5-2.9 5 .1-7.8-11-4.5 12.7 4.8-1.4 .4 2.9zM1682.2 585.4l-.4-2.9 5 .1-7.9-11-4.4 12.7 4.7-1.4 .5 2.9zM1715.2 585.4l-.4-2.9 5 .1-7.9-11-4.5 12.7 4.8-1.4 .4 2.9zM1748.2 585.4l-.4-2.9 5 .1-7.9-11-4.5 12.7 4.8-1.4 .4 2.9zM1781.2 585.4l-.5-2.9 5 .1-7.8-11-4.5 12.7 4.8-1.4 .4 2.9zM1819.1 584.6l0-.8 5 .8-6.3-12-6.2 12 4.9-.8 0 .8zM1851.8 583.1l0-.6 3.7 .6-4.7-9-4.7 9 3.7-.6 0 .6zM1884.2 580.6l0-.3 1.7 .3-2.1-4-2.1 4 1.7-.3 0 .3zM1918.4 578.8l-.2-.1 .6-1.2-3.5 .6 2.5 2.6 .2-1.3 .2 0zM1951.4 578.8l-.2-.1 .6-1.2-3.5 .6 2.4 2.6 .3-1.3 .1 0zM1984.3 578.8l-.2-.1 .7-1.2-3.6 .6 2.5 2.6 .2-1.3 .2 0zM2017 578.6l-.6 1.1-1.3 0-.7-1.1 .7-1.1 1.3 0zM2050 578.6l-.7 1.1-1.3 0-.6-1.1 .6-1.1 1.3 0zM2083 578.6l-.7 1.1-1.3 0-.6-1.1 .6-1.1 1.3 0zM2115.9 578.6l-.6 1.1-1.3 0-.7-1.1 .7-1.1 1.3 0zM2148.7 583.6l0-.7 4.1 .7-5.2-10-5.2 10 4.1-.7 0 .7zM2181.8 584.4l0-.8 4.8 .8-6-11.5-6 11.5 4.7-.8 0 .8zM2214.9 584.9l0-1.4 4.9 .8-6.2-11.9-6.3 11.9 5-.8 0 1.4zM2247.8 585.1l0-1.8 5 .8-6.3-12-6.2 12 4.9-.8 0 1.8zM2280.8 585.1l0-1.8 5 .8-6.3-12-6.2 12 4.9-.8 0 1.8zM2313.6 583.6l0-.7 4.1 .7-5.2-10-5.2 10 4.1-.7 0 .7zM1323.5 585.4l-.4-2.9 5 .1-7.9-11-4.4 12.7 4.7-1.4 .5 2.9zM1356.5 585.4l-.4-2.9 5 .1-7.9-11-4.5 12.7 4.8-1.4 .4 2.9zM1389.5 585.4l-.4-2.9 5 .1-7.9-11-4.5 12.7 4.8-1.4 .4 2.9zM1422.5 585.4l-.5-2.9 5 .1-7.8-11-4.5 12.7 4.8-1.4 .4 2.9zM1455.4 585.4l-.4-2.9 5 .1-7.8-11-4.5 12.7 4.8-1.4 .4 2.9zM1488.4 585.4l-.4-2.9 5 .1-7.9-11-4.5 12.7 4.8-1.4 .4 2.9zM1521.4 585.4l-.4-2.9 5 .1-7.9-11-4.5 12.7 4.8-1.4 .4 2.9zM1554.4 585.4l-.4-2.9 5 .1-7.9-11-4.5 12.7 4.8-1.4 .4 2.9zM1587.4 585.4l-.5-2.9 5 .1-7.8-11-4.5 12.7 4.8-1.4 .4 2.9zM1620.3 585.4l-.4-2.9 5 .1-7.9-11-4.4 12.7 4.7-1.4 .5 2.9zM1653.3 585.4l-.4-2.9 5 .1-7.9-11-4.5 12.7 4.8-1.4 .4 2.9zM1686.3 585.4l-.4-2.9 5 .1-7.9-11-4.5 12.7 4.8-1.4 .4 2.9zM1719.3 585.4l-.5-2.9 5 .1-7.8-11-4.5 12.7 4.8-1.4 .4 2.9zM1752.2 585.4l-.4-2.9 5 .1-7.9-11-4.4 12.7 4.7-1.4 .5 2.9zM1785.2 585.4l-.4-2.9 5 .1-7.9-11-4.5 12.7 4.8-1.4 .4 2.9zM1321.5 591.3l-.4-2.9 5 .1-7.9-11-4.5 12.7 4.8-1.4 .4 2.9zM1354.5 591.3l-.5-2.9 5 .1-7.8-11-4.5 12.7 4.8-1.4 .4 2.9zM1387.4 591.3l-.4-2.9 5 .1-7.8-11-4.5 12.7 4.7-1.4 .5 2.9zM1420.4 591.3l-.4-2.9 5 .1-7.9-11-4.5 12.7 4.8-1.4 .4 2.9zM1453.4 591.3l-.4-2.9 5 .1-7.9-11-4.5 12.7 4.8-1.4 .4 2.9zM1486.4 591.3l-.4-2.9 5 .1-7.9-11-4.5 12.7 4.8-1.4 .4 2.9zM1519.3 591.3l-.4-2.9 5 .1-7.8-11-4.5 12.7 4.8-1.4 .4 2.9zM1552.3 591.3l-.4-2.9 5 .1-7.9-11-4.4 12.7 4.7-1.4 .4 2.9zM1585.3 591.3l-.4-2.9 5 .1-7.9-11-4.5 12.7 4.8-1.4 .4 2.9zM1618.3 591.3l-.4-2.9 5 .1-7.9-11-4.5 12.7 4.8-1.4 .4 2.9zM1651.3 591.3l-.5-2.9 5 .1-7.8-11-4.5 12.7 4.8-1.4 .4 2.9zM1684.2 591.3l-.4-2.9 5 .1-7.9-11-4.4 12.7 4.7-1.4 .5 2.9zM1717.2 591.3l-.4-2.9 5 .1-7.9-11-4.5 12.7 4.8-1.4 .4 2.9zM1750.2 591.3l-.4-2.9 5 .1-7.9-11-4.5 12.7 4.8-1.4 .4 2.9zM1783.2 591.3l-.5-2.9 5 .1-7.8-11-4.5 12.7 4.8-1.4 .4 2.9zM1819.1 590.5l0-.8 5 .8-6.3-12-6.2 12 4.9-.8 0 .8zM1851.8 589l0-.6 3.7 .6-4.7-9-4.7 9 3.7-.6 0 .6zM1884.2 586.5l0-.3 1.7 .3-2.1-4-2.1 4 1.7-.3 0 .3zM1918.4 584.7l-.2-.1 .6-1.2-3.5 .6 2.5 2.6 .2-1.3 .2 0zM1951.4 584.7l-.2-.1 .6-1.2-3.5 .6 2.4 2.6 .3-1.3 .1 0zM1984.3 584.7l-.2-.1 .7-1.2-3.6 .6 2.5 2.6 .2-1.3 .2 0zM2017 584.5l-.6 1.1-1.3 0-.7-1.1 .7-1.1 1.3 0zM2050 584.5l-.7 1.1-1.3 0-.6-1.1 .6-1.1 1.3 0zM2083 584.5l-.7 1.1-1.3 0-.6-1.1 .6-1.1 1.3 0zM2115.9 584.5l-.6 1.1-1.3 0-.7-1.1 .7-1.1 1.3 0zM2148.7 589.5l0-.7 4.1 .7-5.2-10-5.2 10 4.1-.7 0 .7zM2181.8 590.2l0-.7 4.8 .7-6-11.4-6 11.4 4.7-.7 0 .7zM2214.9 590.8l0-1.4 4.9 .8-6.2-12-6.3 12 5-.8 0 1.4zM2247.8 591l0-1.8 5 .8-6.3-12-6.2 12 4.9-.8 0 1.8zM2280.8 591l0-1.8 5 .8-6.3-12-6.2 12 4.9-.8 0 1.8zM2313.6 589.5l0-.7 4.1 .7-5.2-10-5.2 10 4.1-.7 0 .7zM1325.3 591.3l-.4-2.9 5 .1-7.9-11-4.5 12.7 4.8-1.4 .4 2.9zM1358.3 591.3l-.4-2.9 5 .1-7.9-11-4.5 12.7 4.8-1.4 .4 2.9zM1391.3 591.3l-.5-2.9 5 .1-7.8-11-4.5 12.7 4.8-1.4 .4 2.9zM1424.2 591.3l-.4-2.9 5 .1-7.8-11-4.5 12.7 4.7-1.4 .5 2.9zM1457.2 591.3l-.4-2.9 5 .1-7.9-11-4.5 12.7 4.8-1.4 .4 2.9zM1490.2 591.3l-.4-2.9 5 .1-7.9-11-4.5 12.7 4.8-1.4 .4 2.9zM1523.2 591.3l-.4-2.9 5 .1-7.9-11-4.5 12.7 4.8-1.4 .4 2.9zM1556.1 591.3l-.4-2.9 5 .1-7.8-11-4.5 12.7 4.8-1.4 .4 2.9zM1589.1 591.3l-.4-2.9 5 .1-7.9-11-4.4 12.7 4.7-1.4 .5 2.9zM1622.1 591.3l-.4-2.9 5 .1-7.9-11-4.5 12.7 4.8-1.4 .4 2.9zM1655.1 591.3l-.4-2.9 5 .1-7.9-11-4.5 12.7 4.8-1.4 .4 2.9zM1688.1 591.3l-.5-2.9 5 .1-7.8-11-4.5 12.7 4.8-1.4 .4 2.9zM1721 591.3l-.4-2.9 5 .1-7.9-11-4.4 12.7 4.7-1.4 .5 2.9zM1754 591.3l-.4-2.9 5 .1-7.9-11-4.5 12.7 4.8-1.4 .4 2.9zM1787 591.3l-.4-2.9 5 .1-7.9-11-4.5 12.7 4.8-1.4 .4 2.9z"/>
<rect x="1323.2" y="93.7" width="989.3" height="490.9" class="fr"/>
<line x1="1312.7" y1="510.45" x2="1323.2" y2="510.45" class="tk"/>
<line x1="1312.7" y1="434.50" x2="1323.2" y2="434.50" class="tk"/>
<line x1="1312.7" y1="358.55" x2="1323.2" y2="358.55" class="tk"/>
<line x1="1312.7" y1="282.60" x2="1323.2" y2="282.60" class="tk"/>
<line x1="1312.7" y1="206.65" x2="1323.2" y2="206.65" class="tk"/>
<line x1="1312.7" y1="130.70" x2="1323.2" y2="130.70" class="tk"/>
<line x1="1323.20" y1="584.6" x2="1323.20" y2="594.6" class="tk"/>
<line x1="1488.08" y1="584.6" x2="1488.08" y2="594.6" class="tk"/>
<line x1="1652.97" y1="584.6" x2="1652.97" y2="594.6" class="tk"/>
<line x1="1817.85" y1="584.6" x2="1817.85" y2="594.6" class="tk"/>
<line x1="1982.73" y1="584.6" x2="1982.73" y2="594.6" class="tk"/>
<line x1="2147.62" y1="584.6" x2="2147.62" y2="594.6" class="tk"/>
<line x1="2312.50" y1="584.6" x2="2312.50" y2="594.6" class="tk"/>
<rect x="2324.3" y="530.06" width="24.8" height="55.04" fill="#4b64d5"/>
<rect x="2324.3" y="475.51" width="24.8" height="55.04" fill="#6f92f3"/>
<rect x="2324.3" y="420.97" width="24.8" height="55.04" fill="#97b8ff"/>
<rect x="2324.3" y="366.42" width="24.8" height="55.04" fill="#bcd2f7"/>
<rect x="2324.3" y="311.88" width="24.8" height="55.04" fill="#dddcdc"/>
<rect x="2324.3" y="257.33" width="24.8" height="55.04" fill="#f3c8b2"/>
<rect x="2324.3" y="202.79" width="24.8" height="55.04" fill="#f6a586"/>
<rect x="2324.3" y="148.24" width="24.8" height="55.04" fill="#e7745b"/>
<rect x="2324.3" y="93.70" width="24.8" height="55.04" fill="#c83836"/>
<rect x="2324.3" y="93.7" width="24.8" height="490.9" class="fr"/>
<line x1="2349.1" y1="584.60" x2="2359.1" y2="584.60" class="tk"/>
<line x1="2349.1" y1="530.06" x2="2359.1" y2="530.06" class="tk"/>
<line x1="2349.1" y1="475.51" x2="2359.1" y2="475.51" class="tk"/>
<line x1="2349.1" y1="420.97" x2="2359.1" y2="420.97" class="tk"/>
<line x1="2349.1" y1="366.42" x2="2359.1" y2="366.42" class="tk"/>
<line x1="2349.1" y1="311.88" x2="2359.1" y2="311.88" class="tk"/>
<line x1="2349.1" y1="257.33" x2="2359.1" y2="257.33" class="tk"/>
<line x1="2349.1" y1="202.79" x2="2359.1" y2="202.79" class="tk"/>
<line x1="2349.1" y1="148.24" x2="2359.1" y2="148.24" class="tk"/>
<line x1="2349.1" y1="93.70" x2="2359.1" y2="93.70" class="tk"/>
<g clip-path="url(#cp01)">
<rect x="79.3" y="731" width="989.3" height="490.9" fill="#e7745b"/>
<path d="M74.3 726 L74.3 1185.5 L79.3 1185.5 L87.5 1185.5 L95.8 1185.5 L104 1185.4 L112.3 1185.4 L120.5 1185.4 L128.8 1185.3 L137 1185.3 L145.3 1185.3 L153.5 1185.3 L161.7 1185.2 L170 1185.2 L178.2 1185.2 L186.5 1185.2 L194.7 1185.2 L203 1185.1 L211.2 1185.1 L219.5 1185.1 L227.7 1185 L235.9 1185 L244.2 1185 L252.4 1185 L260.7 1185 L268.9 1184.9 L277.2 1184.9 L285.4 1184.9 L293.6 1184.8 L301.9 1184.8 L310.1 1184.8 L318.4 1184.8 L326.6 1184.8 L334.9 1184.7 L343.1 1184.7 L351.4 1184.7 L359.6 1184.7 L367.8 1184.6 L376.1 1184.6 L384.3 1184.6 L392.6 1184.5 L400.8 1184.5 L409.1 1184.5 L417.3 1184.5 L425.6 1184.5 L433.8 1184.4 L442 1184.4 L450.3 1184.4 L458.5 1184.3 L466.8 1184.3 L475 1184.3 L483.3 1184.3 L491.5 1184.2 L499.8 1184.2 L508 1184.2 L516.2 1184.2 L524.5 1184.2 L532.7 1184.1 L541 1184.1 L549.2 1184.1 L557.5 1184 L565.7 1184 L573.9 1184 L582.2 1184 L590.4 1184 L598.7 1183.9 L606.9 1183.9 L615.2 1183.9 L623.4 1183.8 L631.7 1183.8 L639.9 1183.8 L648.1 1183.8 L656.4 1183.8 L664.6 1183.7 L672.9 1183.7 L681.1 1183.7 L689.4 1183.7 L697.6 1183.6 L705.9 1183.6 L714.1 1183.6 L722.3 1183.5 L730.6 1183.5 L738.8 1183.5 L747.1 1183.5 L755.3 1183.5 L763.6 1183.4 L771.8 1183.4 L780.1 1183.4 L788.3 1183.3 L796.5 1183.3 L804.8 1183.3 L813 1183.3 L821.3 1183.2 L829.5 1183.2 L837.8 1183.2 L846 1183.2 L854.3 1183.2 L862.5 1183.1 L870.7 1183.1 L879 1183.1 L887.2 1183 L895.5 1183 L903.7 1183 L912 1183 L920.2 1183 L928.4 1182.9 L936.7 1182.9 L944.9 1182.9 L953.2 1182.8 L961.4 1182.8 L969.7 1182.8 L977.9 1182.8 L986.2 1182.8 L994.4 1182.7 L1002.6 1182.7 L1010.9 1182.7 L1019.1 1182.7 L1027.4 1182.6 L1035.6 1182.6 L1043.9 1182.6 L1052.1 1182.5 L1060.4 1182.5 L1068.6 1182.5 L1073.6 1182.5 L1073.6 726 Z" fill="#f6a586"/>
<path d="M74.3 726 L74.3 1145.3 L79.3 1145.3 L87.5 1145.3 L95.8 1145.3 L104 1145.2 L112.3 1145.2 L120.5 1145.2 L128.8 1145.2 L137 1145.1 L145.3 1145.1 L153.5 1145.1 L161.7 1145.1 L170 1145.1 L178.2 1145 L186.5 1145 L194.7 1145 L203 1145 L211.2 1145 L219.5 1144.9 L227.7 1144.9 L235.9 1144.9 L244.2 1144.9 L252.4 1144.8 L260.7 1144.8 L268.9 1144.8 L277.2 1144.8 L285.4 1144.8 L293.6 1144.7 L301.9 1144.7 L310.1 1144.7 L318.4 1144.7 L326.6 1144.7 L334.9 1144.6 L343.1 1144.6 L351.4 1144.6 L359.6 1144.6 L367.8 1144.5 L376.1 1144.5 L384.3 1144.5 L392.6 1144.5 L400.8 1144.5 L409.1 1144.4 L417.3 1144.4 L425.6 1144.4 L433.8 1144.4 L442 1144.3 L450.3 1144.3 L458.5 1144.3 L466.8 1144.3 L475 1144.3 L483.3 1144.2 L491.5 1144.2 L499.8 1144.2 L508 1144.2 L516.2 1144.2 L524.5 1144.1 L532.7 1144.1 L541 1144.1 L549.2 1144.1 L557.5 1144 L565.7 1144 L573.9 1144 L582.2 1144 L590.4 1143.9 L598.7 1143.9 L606.9 1143.9 L615.2 1143.8 L623.4 1143.8 L631.7 1143.8 L639.9 1143.7 L648.1 1143.7 L656.4 1143.7 L664.6 1143.6 L672.9 1143.6 L681.1 1143.6 L689.4 1143.5 L697.6 1143.5 L705.9 1143.5 L714.1 1143.4 L722.3 1143.4 L730.6 1143.4 L738.8 1143.3 L747.1 1143.3 L755.3 1143.3 L763.6 1143.2 L771.8 1143.2 L780.1 1143.2 L788.3 1143.1 L796.5 1143.1 L804.8 1143.1 L813 1143 L821.3 1143 L829.5 1143 L837.8 1142.9 L846 1142.9 L854.3 1142.9 L862.5 1142.8 L870.7 1142.8 L879 1142.8 L887.2 1142.7 L895.5 1142.7 L903.7 1142.7 L912 1142.6 L920.2 1142.6 L928.4 1142.6 L936.7 1142.5 L944.9 1142.5 L953.2 1142.5 L961.4 1142.4 L969.7 1142.4 L977.9 1142.4 L986.2 1142.3 L994.4 1142.3 L1002.6 1142.3 L1010.9 1142.2 L1019.1 1142.2 L1027.4 1142.2 L1035.6 1142.1 L1043.9 1142.1 L1052.1 1142.1 L1060.4 1142 L1068.6 1142 L1073.6 1142 L1073.6 726 Z" fill="#f3c8b2"/>
<path d="M74.3 726 L74.3 1109.5 L79.3 1109.5 L87.5 1109.5 L95.8 1109.5 L104 1109.5 L112.3 1109.5 L120.5 1109.6 L128.8 1109.6 L137 1109.6 L145.3 1109.6 L153.5 1109.6 L161.7 1109.6 L170 1109.6 L178.2 1109.7 L186.5 1109.7 L194.7 1109.7 L203 1109.7 L211.2 1109.7 L219.5 1109.7 L227.7 1109.7 L235.9 1109.7 L244.2 1109.8 L252.4 1109.8 L260.7 1109.8 L268.9 1109.8 L277.2 1109.8 L285.4 1109.8 L293.6 1109.8 L301.9 1109.8 L310.1 1109.8 L318.4 1109.9 L326.6 1109.9 L334.9 1109.9 L343.1 1109.9 L351.4 1109.9 L359.6 1109.9 L367.8 1109.9 L376.1 1110 L384.3 1110 L392.6 1110 L400.8 1110 L409.1 1110 L417.3 1110 L425.6 1110 L433.8 1110 L442 1110 L450.3 1110.1 L458.5 1110.1 L466.8 1110.1 L475 1110.1 L483.3 1110.1 L491.5 1110.1 L499.8 1110.1 L508 1110.2 L516.2 1110.2 L524.5 1110.2 L532.7 1110.2 L541 1110.2 L549.2 1110.2 L557.5 1110.2 L565.7 1110.2 L573.9 1110.2 L582.2 1110.3 L590.4 1110.3 L598.7 1110.3 L606.9 1110.3 L615.2 1110.3 L623.4 1110.3 L631.7 1110.3 L639.9 1110.3 L648.1 1110.4 L656.4 1110.4 L664.6 1110.4 L672.9 1110.4 L681.1 1110.4 L689.4 1110.4 L697.6 1110.4 L705.9 1110.5 L714.1 1110.5 L722.3 1110.5 L730.6 1110.5 L738.8 1110.5 L747.1 1110.5 L755.3 1110.5 L763.6 1110.5 L771.8 1110.5 L780.1 1110.6 L788.3 1110.6 L796.5 1110.6 L804.8 1110.6 L813 1110.6 L821.3 1110.6 L829.5 1110.6 L837.8 1110.7 L846 1110.7 L854.3 1110.7 L862.5 1110.7 L870.7 1110.7 L879 1110.7 L887.2 1110.7 L895.5 1110.7 L903.7 1110.8 L912 1110.8 L920.2 1110.8 L928.4 1110.8 L936.7 1110.8 L944.9 1110.8 L953.2 1110.8 L961.4 1110.8 L969.7 1110.8 L977.9 1110.9 L986.2 1110.9 L994.4 1110.9 L1002.6 1110.9 L1010.9 1110.9 L1019.1 1110.9 L1027.4 1110.9 L1035.6 1111 L1043.9 1111 L1052.1 1111 L1060.4 1111 L1068.6 1111 L1073.6 1111 L1073.6 726 Z" fill="#dddcdc"/>
<path d="M74.3 726 L74.3 1081.5 L79.3 1081.5 L87.5 1081.5 L95.8 1081.5 L104 1081.5 L112.3 1081.6 L120.5 1081.6 L128.8 1081.6 L137 1081.6 L145.3 1081.6 L153.5 1081.7 L161.7 1081.7 L170 1081.7 L178.2 1081.7 L186.5 1081.7 L194.7 1081.7 L203 1081.8 L211.2 1081.8 L219.5 1081.8 L227.7 1081.8 L235.9 1081.8 L244.2 1081.8 L252.4 1081.8 L260.7 1081.9 L268.9 1081.9 L277.2 1081.9 L285.4 1081.9 L293.6 1081.9 L301.9 1082 L310.1 1082 L318.4 1082 L326.6 1082 L334.9 1082 L343.1 1082 L351.4 1082 L359.6 1082.1 L367.8 1082.1 L376.1 1082.1 L384.3 1082.1 L392.6 1082.1 L400.8 1082.2 L409.1 1082.2 L417.3 1082.2 L425.6 1082.2 L433.8 1082.2 L442 1082.2 L450.3 1082.2 L458.5 1082.3 L466.8 1082.3 L475 1082.3 L483.3 1082.3 L491.5 1082.3 L499.8 1082.3 L508 1082.4 L516.2 1082.4 L524.5 1082.4 L532.7 1082.4 L541 1082.4 L549.2 1082.5 L557.5 1082.5 L565.7 1082.5 L573.9 1082.5 L582.2 1082.6 L590.4 1082.6 L598.7 1082.7 L606.9 1082.7 L615.2 1082.8 L623.4 1082.8 L631.7 1082.9 L639.9 1082.9 L648.1 1083 L656.4 1083 L664.6 1083.1 L672.9 1083.1 L681.1 1083.2 L689.4 1083.2 L697.6 1083.3 L705.9 1083.4 L714.1 1083.4 L722.3 1083.5 L730.6 1083.5 L738.8 1083.6 L747.1 1083.6 L755.3 1083.7 L763.6 1083.7 L771.8 1083.8 L780.1 1083.8 L788.3 1083.9 L796.5 1083.9 L804.8 1084 L813 1084 L821.3 1084.1 L829.5 1084.2 L837.8 1084.2 L846 1084.3 L854.3 1084.3 L862.5 1084.4 L870.7 1084.4 L879 1084.5 L887.2 1084.5 L895.5 1084.6 L903.7 1084.6 L912 1084.7 L920.2 1084.7 L928.4 1084.8 L936.7 1084.8 L944.9 1084.9 L953.2 1085 L961.4 1085 L969.7 1085.1 L977.9 1085.1 L986.2 1085.2 L994.4 1085.2 L1002.6 1085.3 L1010.9 1085.3 L1019.1 1085.4 L1027.4 1085.4 L1035.6 1085.5 L1043.9 1085.5 L1052.1 1085.6 L1060.4 1085.6 L1068.6 1085.7 L1073.6 1085.7 L1073.6 726 Z" fill="#bcd2f7"/>
<path d="M74.3 726 L74.3 1053 L79.3 1053 L87.5 1053 L95.8 1053 L104 1053 L112.3 1053.1 L120.5 1053.1 L128.8 1053.1 L137 1053.1 L145.3 1053.1 L153.5 1053.2 L161.7 1053.2 L170 1053.2 L178.2 1053.2 L186.5 1053.2 L194.7 1053.2 L203 1053.2 L211.2 1053.3 L219.5 1053.3 L227.7 1053.3 L235.9 1053.3 L244.2 1053.3 L252.4 1053.3 L260.7 1053.4 L268.9 1053.4 L277.2 1053.4 L285.4 1053.4 L293.6 1053.4 L301.9 1053.5 L310.1 1053.5 L318.4 1053.5 L326.6 1053.5 L334.9 1053.5 L343.1 1053.5 L351.4 1053.5 L359.6 1053.6 L367.8 1053.6 L376.1 1053.6 L384.3 1053.6 L392.6 1053.6 L400.8 1053.7 L409.1 1053.7 L417.3 1053.7 L425.6 1053.7 L433.8 1053.7 L442 1053.7 L450.3 1053.8 L458.5 1053.8 L466.8 1053.8 L475 1053.8 L483.3 1053.8 L491.5 1053.8 L499.8 1053.8 L508 1053.9 L516.2 1053.9 L524.5 1053.9 L532.7 1053.9 L541 1053.9 L549.2 1054 L557.5 1054 L565.7 1054 L573.9 1054 L582.2 1054 L590.4 1054.1 L598.7 1054.1 L606.9 1054.2 L615.2 1054.2 L623.4 1054.2 L631.7 1054.3 L639.9 1054.3 L648.1 1054.4 L656.4 1054.4 L664.6 1054.5 L672.9 1054.5 L681.1 1054.5 L689.4 1054.6 L697.6 1054.6 L705.9 1054.7 L714.1 1054.7 L722.3 1054.8 L730.6 1054.8 L738.8 1054.8 L747.1 1054.9 L755.3 1054.9 L763.6 1055 L771.8 1055 L780.1 1055 L788.3 1055.1 L796.5 1055.1 L804.8 1055.2 L813 1055.2 L821.3 1055.2 L829.5 1055.3 L837.8 1055.3 L846 1055.4 L854.3 1055.4 L862.5 1055.5 L870.7 1055.5 L879 1055.5 L887.2 1055.6 L895.5 1055.6 L903.7 1055.7 L912 1055.7 L920.2 1055.8 L928.4 1055.8 L936.7 1055.8 L944.9 1055.9 L953.2 1055.9 L961.4 1056 L969.7 1056 L977.9 1056 L986.2 1056.1 L994.4 1056.1 L1002.6 1056.2 L1010.9 1056.2 L1019.1 1056.2 L1027.4 1056.3 L1035.6 1056.3 L1043.9 1056.4 L1052.1 1056.4 L1060.4 1056.5 L1068.6 1056.5 L1073.6 1056.5 L1073.6 726 Z" fill="#97b8ff"/>
<path d="M74.3 726 L74.3 1026.5 L79.3 1026.5 L87.5 1026.5 L95.8 1026.5 L104 1026.6 L112.3 1026.6 L120.5 1026.6 L128.8 1026.7 L137 1026.7 L145.3 1026.7 L153.5 1026.7 L161.7 1026.8 L170 1026.8 L178.2 1026.8 L186.5 1026.8 L194.7 1026.8 L203 1026.9 L211.2 1026.9 L219.5 1026.9 L227.7 1027 L235.9 1027 L244.2 1027 L252.4 1027 L260.7 1027 L268.9 1027.1 L277.2 1027.1 L285.4 1027.1 L293.6 1027.2 L301.9 1027.2 L310.1 1027.2 L318.4 1027.2 L326.6 1027.2 L334.9 1027.3 L343.1 1027.3 L351.4 1027.3 L359.6 1027.3 L367.8 1027.4 L376.1 1027.4 L384.3 1027.4 L392.6 1027.5 L400.8 1027.5 L409.1 1027.5 L417.3 1027.5 L425.6 1027.5 L433.8 1027.6 L442 1027.6 L450.3 1027.6 L458.5 1027.7 L466.8 1027.7 L475 1027.7 L483.3 1027.7 L491.5 1027.8 L499.8 1027.8 L508 1027.8 L516.2 1027.8 L524.5 1027.8 L532.7 1027.9 L541 1027.9 L549.2 1027.9 L557.5 1028 L565.7 1028 L573.9 1028 L582.2 1028.2 L590.4 1028.3 L598.7 1028.5 L606.9 1028.7 L615.2 1028.8 L623.4 1029 L631.7 1029.2 L639.9 1029.3 L648.1 1029.5 L656.4 1029.7 L664.6 1029.8 L672.9 1030 L681.1 1030.2 L689.4 1030.3 L697.6 1030.5 L705.9 1030.7 L714.1 1030.8 L722.3 1031 L730.6 1031.2 L738.8 1031.3 L747.1 1031.5 L755.3 1031.7 L763.6 1031.8 L771.8 1032 L780.1 1032.2 L788.3 1032.3 L796.5 1032.5 L804.8 1032.7 L813 1032.8 L821.3 1033 L829.5 1033.2 L837.8 1033.3 L846 1033.5 L854.3 1033.7 L862.5 1033.8 L870.7 1034 L879 1034.2 L887.2 1034.3 L895.5 1034.5 L903.7 1034.7 L912 1034.8 L920.2 1035 L928.4 1035.2 L936.7 1035.3 L944.9 1035.5 L953.2 1035.7 L961.4 1035.8 L969.7 1036 L977.9 1036.2 L986.2 1036.3 L994.4 1036.5 L1002.6 1036.7 L1010.9 1036.8 L1019.1 1037 L1027.4 1037.2 L1035.6 1037.3 L1043.9 1037.5 L1052.1 1037.7 L1060.4 1037.8 L1068.6 1038 L1073.6 1038 L1073.6 726 Z" fill="#6f92f3"/>
<path d="M74.3 726 L74.3 918.8 L79.3 918.8 L87.5 918.8 L95.8 918.8 L104 918.8 L112.3 918.8 L120.5 918.8 L128.8 918.8 L137 918.9 L145.3 918.9 L153.5 918.9 L161.7 918.9 L170 918.9 L178.2 918.9 L186.5 918.9 L194.7 918.9 L203 918.9 L211.2 918.9 L219.5 918.9 L227.7 918.9 L235.9 918.9 L244.2 919 L252.4 919 L260.7 919 L268.9 919 L277.2 919 L285.4 919 L293.6 919 L301.9 919 L310.1 919 L318.4 919 L326.6 919 L334.9 919 L343.1 919 L351.4 919 L359.6 919.1 L367.8 919.1 L376.1 919.1 L384.3 919.1 L392.6 919.1 L400.8 919.1 L409.1 919.1 L417.3 919.1 L425.6 919.1 L433.8 919.1 L442 919.1 L450.3 919.1 L458.5 919.1 L466.8 919.2 L475 919.2 L483.3 919.2 L491.5 919.2 L499.8 919.2 L508 919.2 L516.2 919.2 L524.5 919.2 L532.7 919.2 L541 919.2 L549.2 919.2 L557.5 919.2 L565.7 919.2 L573.9 919.2 L582.2 919.3 L590.4 919.3 L598.7 919.3 L606.9 919.3 L615.2 919.3 L623.4 919.3 L631.7 919.3 L639.9 919.3 L648.1 919.3 L656.4 919.3 L664.6 919.3 L672.9 919.3 L681.1 919.3 L689.4 919.4 L697.6 919.4 L705.9 919.4 L714.1 919.4 L722.3 919.4 L730.6 919.4 L738.8 919.4 L747.1 919.4 L755.3 919.4 L763.6 919.4 L771.8 919.4 L780.1 919.4 L788.3 919.4 L796.5 919.5 L804.8 919.5 L813 919.5 L821.3 919.5 L829.5 919.5 L837.8 919.5 L846 919.5 L854.3 919.5 L862.5 919.5 L870.7 919.5 L879 919.5 L887.2 919.5 L895.5 919.5 L903.7 919.5 L912 919.6 L920.2 919.6 L928.4 919.6 L936.7 919.6 L944.9 919.6 L953.2 919.6 L961.4 919.6 L969.7 919.6 L977.9 919.6 L986.2 919.6 L994.4 919.6 L1002.6 919.6 L1010.9 919.6 L1019.1 919.7 L1027.4 919.7 L1035.6 919.7 L1043.9 919.7 L1052.1 919.7 L1060.4 919.7 L1068.6 919.7 L1073.6 919.7 L1073.6 726 Z" fill="#97b8ff"/>
<path d="M74.3 726 L74.3 842.3 L79.3 842.3 L87.5 842.2 L95.8 842.1 L104 842.1 L112.3 842 L120.5 841.9 L128.8 841.9 L137 841.8 L145.3 841.7 L153.5 841.6 L161.7 841.5 L170 841.5 L178.2 841.4 L186.5 841.3 L194.7 841.2 L203 841.2 L211.2 841.1 L219.5 841 L227.7 841 L235.9 840.9 L244.2 840.8 L252.4 840.7 L260.7 840.6 L268.9 840.6 L277.2 840.5 L285.4 840.4 L293.6 840.4 L301.9 840.3 L310.1 840.2 L318.4 840.1 L326.6 840 L334.9 840 L343.1 839.9 L351.4 840 L359.6 840.2 L367.8 840.3 L376.1 840.4 L384.3 840.6 L392.6 840.7 L400.8 840.8 L409.1 840.9 L417.3 841.1 L425.6 841.2 L433.8 841.3 L442 841.5 L450.3 841.6 L458.5 841.7 L466.8 841.9 L475 842 L483.3 842.1 L491.5 842.3 L499.8 842.4 L508 842.5 L516.2 842.6 L524.5 842.8 L532.7 842.9 L541 843 L549.2 843.2 L557.5 843.3 L565.7 843.4 L573.9 843.6 L582.2 843.7 L590.4 843.8 L598.7 844 L606.9 844.1 L615.2 844.2 L623.4 844.4 L631.7 844.5 L639.9 844.6 L648.1 844.8 L656.4 844.9 L664.6 845 L672.9 845.2 L681.1 845.3 L689.4 845.4 L697.6 845.6 L705.9 845.7 L714.1 845.8 L722.3 846 L730.6 846.1 L738.8 846.2 L747.1 846.4 L755.3 846.5 L763.6 846.6 L771.8 846.8 L780.1 846.9 L788.3 847 L796.5 847.2 L804.8 847.3 L813 847.4 L821.3 847.5 L829.5 847.6 L837.8 847.7 L846 847.8 L854.3 848 L862.5 848.1 L870.7 848.2 L879 848.3 L887.2 848.4 L895.5 848.5 L903.7 848.6 L912 848.7 L920.2 848.8 L928.4 848.9 L936.7 849 L944.9 849.2 L953.2 849.3 L961.4 849.4 L969.7 849.5 L977.9 849.6 L986.2 849.7 L994.4 849.8 L1002.6 849.9 L1010.9 850 L1019.1 850.1 L1027.4 850.3 L1035.6 850.4 L1043.9 850.5 L1052.1 850.6 L1060.4 850.7 L1068.6 850.8 L1073.6 850.8 L1073.6 726 Z" fill="#bcd2f7"/>
<path d="M74.3 726 L74.3 815 L79.3 815 L87.5 815 L95.8 815 L104 815 L112.3 815 L120.5 815 L128.8 815 L137 814.9 L145.3 814.9 L153.5 814.9 L161.7 814.9 L170 814.9 L178.2 814.9 L186.5 814.9 L194.7 814.9 L203 814.9 L211.2 814.9 L219.5 814.9 L227.7 814.9 L235.9 814.8 L244.2 814.8 L252.4 814.8 L260.7 814.8 L268.9 814.8 L277.2 814.8 L285.4 814.8 L293.6 814.8 L301.9 814.8 L310.1 814.8 L318.4 814.8 L326.6 814.8 L334.9 814.7 L343.1 814.7 L351.4 814.7 L359.6 814.7 L367.8 814.7 L376.1 814.7 L384.3 814.7 L392.6 814.7 L400.8 814.7 L409.1 814.7 L417.3 814.7 L425.6 814.6 L433.8 814.6 L442 814.6 L450.3 814.6 L458.5 814.6 L466.8 814.6 L475 814.6 L483.3 814.6 L491.5 814.6 L499.8 814.6 L508 814.6 L516.2 814.6 L524.5 814.5 L532.7 814.5 L541 814.5 L549.2 814.5 L557.5 814.5 L565.7 814.5 L573.9 814.5 L582.2 814.5 L590.4 814.5 L598.7 814.5 L606.9 814.5 L615.2 814.5 L623.4 814.5 L631.7 814.4 L639.9 814.4 L648.1 814.4 L656.4 814.4 L664.6 814.4 L672.9 814.4 L681.1 814.4 L689.4 814.4 L697.6 814.4 L705.9 814.4 L714.1 814.4 L722.3 814.4 L730.6 814.3 L738.8 814.3 L747.1 814.3 L755.3 814.3 L763.6 814.3 L771.8 814.3 L780.1 814.3 L788.3 814.3 L796.5 814.3 L804.8 814.3 L813 814.3 L821.3 814.2 L829.5 814.2 L837.8 814.2 L846 814.2 L854.3 814.2 L862.5 814.2 L870.7 814.2 L879 814.2 L887.2 814.2 L895.5 814.2 L903.7 814.2 L912 814.2 L920.2 814.1 L928.4 814.1 L936.7 814.1 L944.9 814.1 L953.2 814.1 L961.4 814.1 L969.7 814.1 L977.9 814.1 L986.2 814.1 L994.4 814.1 L1002.6 814.1 L1010.9 814.1 L1019.1 814 L1027.4 814 L1035.6 814 L1043.9 814 L1052.1 814 L1060.4 814 L1068.6 814 L1073.6 814 L1073.6 726 Z" fill="#dddcdc"/>
<path d="M74.3 726 L74.3 763.3 L79.3 763.3 L87.5 763.3 L95.8 763.3 L104 763.4 L112.3 763.4 L120.5 763.4 L128.8 763.4 L137 763.4 L145.3 763.4 L153.5 763.5 L161.7 763.5 L170 763.5 L178.2 763.5 L186.5 763.5 L194.7 763.5 L203 763.6 L211.2 763.6 L219.5 763.6 L227.7 763.6 L235.9 763.6 L244.2 763.6 L252.4 763.7 L260.7 763.7 L268.9 763.7 L277.2 763.7 L285.4 763.7 L293.6 763.8 L301.9 763.8 L310.1 763.8 L318.4 763.8 L326.6 763.8 L334.9 763.8 L343.1 763.9 L351.4 763.9 L359.6 763.9 L367.8 763.9 L376.1 763.9 L384.3 763.9 L392.6 764 L400.8 764 L409.1 764 L417.3 764.2 L425.6 764.4 L433.8 764.6 L442 764.8 L450.3 765 L458.5 765.2 L466.8 765.4 L475 765.6 L483.3 765.8 L491.5 766 L499.8 766.2 L508 766.4 L516.2 766.6 L524.5 766.8 L532.7 767 L541 767.2 L549.2 767.4 L557.5 767.6 L565.7 767.8 L573.9 768 L582.2 768.1 L590.4 768.1 L598.7 768.2 L606.9 768.3 L615.2 768.4 L623.4 768.5 L631.7 768.5 L639.9 768.6 L648.1 768.7 L656.4 768.8 L664.6 768.8 L672.9 768.9 L681.1 769 L689.4 769 L697.6 769.1 L705.9 769.2 L714.1 769.3 L722.3 769.4 L730.6 769.4 L738.8 769.5 L747.1 769.6 L755.3 769.6 L763.6 769.7 L771.8 769.8 L780.1 769.9 L788.3 770 L796.5 770 L804.8 770.1 L813 770.2 L821.3 770.2 L829.5 770.3 L837.8 770.4 L846 770.5 L854.3 770.5 L862.5 770.6 L870.7 770.7 L879 770.8 L887.2 770.9 L895.5 770.9 L903.7 771 L912 771.1 L920.2 771.1 L928.4 771.2 L936.7 771.3 L944.9 771.4 L953.2 771.5 L961.4 771.5 L969.7 771.6 L977.9 771.7 L986.2 771.8 L994.4 771.8 L1002.6 771.9 L1010.9 772 L1019.1 772 L1027.4 772.1 L1035.6 772.2 L1043.9 772.3 L1052.1 772.4 L1060.4 772.4 L1068.6 772.5 L1073.6 772.5 L1073.6 726 Z" fill="#f3c8b2"/>
</g>
<path clip-path="url(#cp01)" d="M79.3 771.5l-114.9 3.2 .7-5-11.8 6.6 12.1 5.9-.9-4.9 114.8-3.2zM112.2 771.5l-114.7 3.4 .7-4.9-11.8 6.5 12.1 5.9-.9-4.9 114.7-3.4zM145.2 771.5l-114.6 3.6 .7-4.9-11.8 6.6 12.2 5.9-1-5 114.6-3.6zM178.2 771.5l-114.5 3.9 .6-5-11.7 6.6 12.2 5.9-1-4.9 114.5-3.9zM211.2 771.5l-114.4 4.1 .6-5-11.7 6.7 12.2 5.8-1-4.9 114.4-4.1zM244.1 771.5l-114 4.6 .5-5-11.7 6.7 12.2 5.8-.9-4.9 114-4.6zM277.1 771.5l-113.8 5 .5-5-11.6 6.8 12.2 5.7-1-4.9 113.8-5zM310.1 771.5l-112.4 5.7 .6-5-11.7 6.8 12.3 5.7-1-4.9 112.3-5.7zM343 771.5l-110.8 6.4 .5-5-11.6 6.9 12.3 5.5-1.1-4.8 110.9-6.4zM376 771.5l-108.6 7.1 .5-5-11.6 7 12.4 5.4-1.1-4.8 108.6-7.1zM409 771.5l-106.4 7.8 .4-5-11.4 7.1 12.4 5.4-1.2-4.9 106.4-7.8zM441.9 771.5l-104.8 8.4 .4-5-11.5 7.2 12.5 5.3-1.2-4.9 104.8-8.4zM474.9 771.5l-103.8 8.7 .3-5-11.4 7.2 12.5 5.3-1.2-4.9 103.8-8.7zM507.9 771.5l-102.9 9 .4-5-11.4 7.3 12.5 5.2-1.3-4.9 102.9-9zM540.9 771.5l-103.2 9.3 .3-5-11.4 7.3 12.5 5.1-1.2-4.8 103.2-9.3zM573.8 771.5l-103.5 9.5 .3-5-11.3 7.3 12.5 5.2-1.3-4.9 103.6-9.5zM606.8 771.5l-103.9 9.8 .4-5-11.4 7.3 12.5 5.1-1.2-4.9 103.8-9.7zM639.8 771.5l-105.9 10 .3-5-11.3 7.3 12.5 5.1-1.2-4.8 105.8-10zM672.8 771.5l-107.9 10.2 .3-4.9-11.3 7.3 12.5 5.1-1.3-4.9 107.9-10.2zM705.7 771.5l-113.8 10.6 .3-5-11.3 7.3 12.4 5.1-1.2-4.8 113.9-10.6zM738.7 771.5l-115.5 11 .3-5-11.3 7.4 12.5 5-1.3-4.8 115.6-11zM771.7 771.5l-117.2 11.5 .3-5-11.3 7.3 12.5 5.1-1.3-4.9 117.2-11.4zM804.7 771.5l-118.9 11.9 .3-5-11.3 7.4 12.5 5-1.3-4.8 118.9-11.9zM837.6 771.5l-120.3 12.4 .2-5-11.2 7.4 12.5 5-1.3-4.8 120.4-12.4zM870.6 771.5l-121.9 12.8 .3-5-11.3 7.5 12.6 5-1.3-4.9 121.9-12.8zM903.6 771.5l-123.4 13.3 .2-5-11.2 7.5 12.6 4.9-1.3-4.8 123.4-13.3zM936.6 771.5l-124.9 13.8 .2-5-11.2 7.5 12.6 4.9-1.4-4.8 124.9-13.8zM969.5 771.5l-126 13.5 .2-5-11.2 7.5 12.6 4.9-1.3-4.8 126-13.5zM1002.5 771.5l-127.2 13.2 .3-5-11.3 7.4 12.6 5-1.3-4.8 127.2-13.2zM1035.5 771.5l-128.4 12.9 .3-5-11.3 7.4 12.5 5-1.2-4.8 128.4-12.9zM1068.5 771.5l-128.8 12.9 .3-5-11.3 7.4 12.5 5-1.3-4.8 128.8-12.9zM1101.4 771.5l-129.2 12.9 .3-5-11.3 7.4 12.6 5-1.3-4.8 129.2-12.9zM1134.4 771.5l-129.6 12.9 .3-5-11.3 7.4 12.5 5-1.2-4.8 129.6-12.9zM1167.4 771.5l-130 12.9 .2-5-11.2 7.4 12.5 5-1.3-4.8 130.1-12.9zM1200.4 771.5l-130.5 12.9 .3-5-11.3 7.4 12.5 5-1.2-4.8 130.4-12.9zM1233.4 771.5l-130.9 12.9 .3-5-11.3 7.4 12.5 5-1.3-4.8 130.9-12.9zM79.3 810.5l-94.8 0 .8-4.9-12 6.2 12 6.2-.8-4.9 94.8 0zM112.3 810.5l-95.4-.3 .8-4.9-12 6.2 11.9 6.3-.7-5 95.4 .3zM145.3 810.5l-96.1-.5 .8-5-11.9 6.2 11.9 6.3-.8-4.9 96 .5zM178.2 810.5l-96.6-.8 .8-4.9-12 6.1 11.9 6.3-.7-4.9 96.6 .8zM211.2 810.5l-97.2-1.1 .8-4.9-12 6.1 11.9 6.4-.7-5 97.2 1.1zM244.2 810.5l-97.8-1.3 .8-5-12 6.1 11.9 6.4-.8-4.9 97.9 1.3zM277.2 810.5l-98.4-1.6 .8-4.9-12 6 11.8 6.4-.7-4.9 98.4 1.6zM310.2 810.5l-99.1-1.9 .9-4.9-12.1 6 11.9 6.5-.7-5 99 1.9zM343.1 810.5l-99.6-2.2 .9-4.9-12.1 6 11.8 6.5-.6-5 99.6 2.2zM376.1 810.5l-100.2-2.4 .9-4.9-12.1 5.9 11.8 6.5-.7-4.9 100.3 2.4zM409.1 810.5l-100.8-2.7 .9-4.9-12.1 5.9 11.8 6.6-.7-5 100.8 2.7zM442.1 810.5l-100.8-3.1 .9-4.9-12.2 5.9 11.8 6.6-.6-5 100.8 3.1zM475.1 810.5l-100.9-3.4 1-4.9-12.2 5.8 11.8 6.6-.7-4.9 100.9 3.4zM508 810.5l-100.8-3.8 1-4.9-12.2 5.8 11.7 6.7-.6-5 100.8 3.8zM541 810.5l-100.8-4.1 1-4.9-12.2 5.7 11.7 6.7-.6-4.9 100.8 4.1zM574 810.5l-100.8-4.5 1-4.9-12.3 5.7 11.7 6.8-.5-5 100.8 4.5zM607 810.5l-98.4-4.8 1-4.9-12.3 5.6 11.7 6.8-.6-5 98.5 4.9zM640 810.5l-96.1-5.2 1.1-4.9-12.3 5.6 11.6 6.9-.5-5 96 5.2zM673 810.5l-93.7-5.5 1.1-4.9-12.3 5.5 11.6 6.9-.5-4.9 93.6 5.5zM705.9 810.5l-91.2-5.9 1.1-4.9-12.3 5.5 11.5 7-.5-5 91.3 5.9zM738.9 810.5l-88.8-6.2 1.1-4.9-12.4 5.4 11.5 7.1-.4-5 88.8 6.2zM771.9 810.5l-87.2-6.8 1.2-4.9-12.4 5.3 11.4 7.2-.4-5 87.2 6.8zM804.9 810.5l-85.5-7.4 1.2-4.8-12.5 5.2 11.4 7.2-.4-5 85.6 7.4zM837.9 810.5l-83.9-7.9 1.3-4.9-12.5 5.1 11.3 7.3-.3-5 83.8 8zM870.9 810.5l-80.9-8.3 1.3-4.9-12.6 5 11.3 7.4-.3-5 80.9 8.4zM903.9 810.5l-77.9-8.7 1.3-4.9-12.6 4.9 11.2 7.5-.2-5 77.9 8.8zM936.8 810.5l-77.9-8.7 1.4-4.9-12.6 4.9 11.2 7.5-.2-5 77.8 8.8zM969.8 810.5l-77.9-8.7 1.4-4.9-12.6 4.9 11.2 7.5-.3-5 77.9 8.8zM1002.8 810.5l-77.9-8.7 1.3-4.9-12.6 4.9 11.2 7.5-.2-5 77.9 8.8zM1035.8 810.5l-77.9-8.7 1.3-4.9-12.6 4.9 11.2 7.5-.2-5 77.9 8.8zM1068.7 810.5l-77.8-8.7 1.3-4.9-12.6 4.9 11.2 7.5-.2-5 77.9 8.8zM1101.7 810.5l-77.9-8.7 1.4-4.9-12.6 4.9 11.2 7.5-.3-5 77.9 8.8zM1134.7 810.5l-77.9-8.7 1.3-4.9-12.5 4.9 11.1 7.5-.2-5 77.9 8.8zM1167.7 810.5l-77.9-8.7 1.3-4.9-12.6 4.9 11.2 7.5-.2-5 77.9 8.8zM1200.7 810.5l-77.9-8.7 1.3-4.9-12.6 4.9 11.2 7.5-.2-5 77.9 8.8zM1233.6 810.5l-77.9-8.7 1.4-4.9-12.6 4.9 11.2 7.5-.3-5 77.9 8.8zM79.3 868.5l-37.8 0 .8-4.9-12 6.2 12 6.2-.8-4.9 37.8 0zM112.3 868.5l-37.8 .1 .7-5-11.9 6.3 11.9 6.2-.7-4.9 37.8-.1zM145.2 868.5l-37.8 .1 .8-4.9-11.9 6.2 11.9 6.2-.8-4.9 37.9-.1zM178.2 868.5l-37.8 .2 .8-5-12 6.3 12 6.2-.8-4.9 37.8-.2zM211.2 868.5l-37.8 .2 .7-4.9-11.9 6.3 12 6.1-.8-4.9 37.8-.2zM244.2 868.5l-37.8 .3 .7-5-11.9 6.3 12 6.2-.8-4.9 37.8-.3zM277.1 868.5l-37.8 .3 .8-4.9-11.9 6.3 12 6.1-.8-4.9 37.8-.3zM310.1 868.5l-37.8 .4 .7-5-11.9 6.4 12.1 6.1-.9-4.9 37.8-.4zM343.1 868.5l-37.8 .4 .7-4.9-11.9 6.3 12 6.1-.8-4.9 37.8-.4zM376.1 868.5l-37.8 .5 .7-5-11.9 6.4 12 6.1-.8-4.9 37.8-.5zM409 868.5l-37.8 .5 .7-4.9-11.8 6.4 12 6-.8-4.9 37.8-.5zM442 868.5l-37.8 .6 .7-5-11.9 6.4 12.1 6.1-.9-4.9 37.9-.6zM475 868.5l-37.8 .6 .7-4.9-11.9 6.4 12.1 6-.9-4.9 37.8-.6zM508 868.5l-37.8 .7 .6-5-11.8 6.5 12.1 6-.9-4.9 37.8-.7zM540.9 868.5l-37.8 .7 .7-4.9-11.8 6.4 12 6-.8-4.9 37.8-.7zM573.9 868.5l-37.8 .8 .7-5-11.9 6.5 12.1 6-.8-4.9 37.8-.8zM606.9 868.5l-37.4 .6 .7-4.9-11.9 6.4 12.1 6-.9-4.9 37.4-.6zM639.9 868.5l-37 .5 .7-5-11.9 6.4 12 6.1-.8-4.9 37-.5zM672.9 868.5l-36.7 .3 .8-4.9-11.9 6.3 12 6.1-.8-4.9 36.6-.3zM705.9 868.5l-36.3 .2 .8-5-11.9 6.3 11.9 6.2-.8-4.9 36.3-.2zM738.8 868.5l-35.8 0 .8-4.9-12 6.2 12 6.2-.8-4.9 35.8 0zM771.8 868.5l-35.2-.1 .8-4.9-12 6.2 12 6.3-.8-5 35.2 .1zM804.8 868.5l-34.6-.2 .8-4.9-12 6.2 11.9 6.3-.7-5 34.6 .2zM837.8 868.5l-34-.2 .8-5-12 6.2 11.9 6.3-.8-4.9 34.1 .2zM870.8 868.5l-33.5-.3 .9-4.9-12.1 6.1 11.9 6.3-.7-4.9 33.4 .3zM903.7 868.5l-32.8-.4 .8-4.9-12 6.1 11.9 6.4-.7-5 32.8 .4zM936.7 868.5l-32.4-.4 .8-4.9-12 6 11.9 6.4-.7-4.9 32.4 .4zM969.7 868.5l-32-.4 .8-5-12 6.1 11.8 6.4-.7-4.9 32.1 .4zM1002.7 868.5l-31.7-.5 .9-4.9-12.1 6 11.9 6.5-.7-5 31.6 .5zM1035.6 868.5l-31.2-.5 .9-4.9-12.1 6 11.9 6.4-.7-4.9 31.2 .5zM1068.6 868.5l-30.8-.6 .9-4.9-12.1 6 11.8 6.5-.6-5 30.8 .6zM1101.6 868.5l-30.4-.6 .9-4.9-12.1 6 11.8 6.5-.7-5 30.5 .6zM1134.6 868.5l-30-.6 .8-4.9-12 5.9 11.8 6.5-.7-4.9 30 .6zM1167.6 868.5l-29.7-.7 .9-4.9-12.1 6 11.8 6.5-.6-5 29.6 .7zM1200.5 868.5l-29.2-.7 .9-4.9-12.1 5.9 11.8 6.6-.6-5 29.2 .7zM1233.5 868.5l-28.8-.7 .9-4.9-12.1 5.9 11.8 6.5-.7-4.9 28.9 .7zM79.3 928l-26.8 0 .8-4.9-12 6.2 12 6.2-.8-4.9 26.8 0zM112.3 928l-26.6 0 .7-5-11.9 6.2 11.9 6.3-.7-4.9 26.6 0zM145.3 928l-26.5-.1 .8-4.9-11.9 6.2 11.9 6.3-.8-5 26.4 .1zM178.2 928l-26.2-.1 .8-4.9-12 6.1 12 6.3-.8-4.9 26.2 .1zM211.2 928l-26-.1 .8-5-12 6.2 11.9 6.3-.7-4.9 26 .1zM244.2 928l-25.8-.2 .8-4.9-12 6.1 11.9 6.4-.7-5 25.8 .2zM277.2 928l-25.6-.2 .8-4.9-12 6.1 11.9 6.3-.8-4.9 25.6 .2zM310.1 928l-25.4-.2 .9-5-12.1 6.1 11.9 6.4-.7-4.9 25.4 .2zM343.1 928l-25.2-.3 .8-4.9-12 6.1 11.9 6.4-.7-5 25.2 .3zM376.1 928l-25-.3 .8-4.9-12 6 11.9 6.4-.7-4.9 25 .3zM409.1 928l-24.8-.3 .8-5-12 6.1 11.8 6.4-.7-4.9 24.8 .3zM442.1 928l-23.3-.5 .9-4.9-12.1 6 11.9 6.5-.7-5 23.2 .5zM475.1 928l-21.7-.6 .9-4.9-12.1 5.9 11.8 6.6-.6-5 21.6 .6zM508 928l-20-.7 1-4.9-12.2 5.8 11.7 6.7-.6-5 20.1 .7zM541 928l-18.4-.8 1-4.9-12.2 5.7 11.6 6.8-.5-5 18.4 .8zM574 928l-16.8-.9 1-4.9-12.3 5.6 11.7 6.9-.6-5 16.9 .9zM607 928l-16.6-1 1-4.9-12.3 5.5 11.6 7-.5-5 16.6 1zM640 928l-16.5-1.1 1.2-4.9-12.4 5.4 11.5 7-.4-4.9 16.4 1.1zM673 928l-16.3-1.2 1.2-4.9-12.4 5.3 11.4 7.1-.4-4.9 16.3 1.2zM706 928l-16.1-1.4 1.2-4.8-12.4 5.2 11.3 7.2-.3-5 16 1.4zM739 928l-15.9-1.5 1.2-4.8-12.5 5.1 11.4 7.3-.4-5 15.9 1.5zM771.9 928l-15.6-1.6 1.2-4.8-12.5 5 11.3 7.4-.3-5 15.7 1.6zM804.9 928l-15.5-1.7 1.4-4.8-12.6 4.9 11.2 7.5-.2-5 15.4 1.7zM837.9 928l-15.3-1.8 1.4-4.8-12.6 4.8 11.1 7.6-.2-5 15.3 1.8zM870.9 928l-15.1-1.9 1.4-4.8-12.7 4.7 11.1 7.7-.1-5 15.1 1.9zM903.9 928l-14.9-2 1.4-4.8-12.7 4.6 11 7.8-.1-5 14.9 2zM936.9 928l-14.8-2.1 1.5-4.8-12.7 4.5 10.9 7.9 0-5 14.7 2.1zM969.9 928l-14.6-2.2 1.5-4.8-12.7 4.4 10.9 8-.1-5 14.6 2.2zM1002.9 928l-14.4-2.3 1.5-4.8-12.8 4.3 10.9 8.1 0-5 14.3 2.3zM1035.8 928l-14.1-2.4 1.6-4.7-12.9 4.1 10.8 8.2 0-5 14.2 2.4zM1068.8 928l-14-2.5 1.7-4.7-12.9 4 10.7 8.3 .1-5 14 2.5zM1101.8 928l-14-2.5 1.7-4.7-12.9 4 10.6 8.3 .1-5 14 2.5zM1134.8 928l-14-2.5 1.6-4.7-12.8 4 10.6 8.3 .1-5 14 2.5zM1167.8 928l-14-2.5 1.6-4.7-12.9 4 10.7 8.3 .1-5 14 2.5zM1200.7 928l-14-2.5 1.7-4.7-12.9 4 10.7 8.3 .1-5 14 2.5zM1233.7 928l-14-2.5 1.7-4.7-12.9 4 10.6 8.3 .2-5 14 2.5zM80.4 983l-7.1-9.8 4.5-2.3-12-6.1 1.8 13.4 3.6-3.5 7 9.9zM113.3 983.1l-6.6-9.8 4.5-2.2-11.9-6.3 1.6 13.4 3.6-3.4 6.7 9.7zM146.4 983.1l-5.7-9.4 4.7-1.9-11.5-7 .8 13.5 3.8-3.2 5.6 9.4zM179.3 983.1l-4.2-7.1 4.6-1.8-11.5-7.1 .8 13.5 3.9-3.2 4.2 7.1zM212.4 983.2l-3.4-6.7 4.8-1.5-10.9-7.9-.3 13.5 4.1-2.9 3.3 6.7zM245.4 983.3l-2.4-5.3 4.8-1.4-10.6-8.3-.8 13.5 4.2-2.8 2.4 5.3zM278.4 983.4l-1.4-3.8 4.9-1-9.9-9.1-1.8 13.4 4.4-2.4 1.3 3.7zM311.4 983.4l-.7-2.2 5-.7-9.4-9.7-2.6 13.2 4.5-2.1 .7 2.3zM344.2 983.6l-.1-.7 4.2-.1-7.2-9-3.2 11 4-1.4 .1 .6zM377.1 983.7l0-.6 3.9 .3-5.6-9.1-4.3 9.9 3.9-.9 .1 .6zM409.8 983.8l0-.5 2.9 .5-3.6-7-3.7 7 2.9-.5 0 .5zM442.6 983.8l0-.3 2.1 .3-2.7-5-2.6 5 2.1-.3 0 .3zM475.3 983.8l0-.2 1.3 .2-1.6-3-1.5 3 1.2-.2 0 .2zM509.3 983.8l-.7 1.1-1.3 0-.6-1.1 .6-1.1 1.3 0zM542.3 983.8l-.7 1.1-1.3 0-.6-1.1 .6-1.1 1.3 0zM575.2 983.8l-.6 1.1-1.3 0-.7-1.1 .7-1.1 1.3 0zM608.2 983.8l-.6 1.1-1.3 0-.7-1.1 .7-1.1 1.3 0zM641.2 983.8l-.6 1.1-1.3 0-.7-1.1 .7-1.1 1.3 0zM674.2 983.8l-.7 1.1-1.3 0-.6-1.1 .6-1.1 1.3 0zM707.2 983.8l-.7 1.1-1.3 0-.6-1.1 .6-1.1 1.3 0zM740.1 983.8l-.6 1.1-1.3 0-.7-1.1 .7-1.1 1.3 0zM773.1 983.8l-.6 1.1-1.3 0-.7-1.1 .7-1.1 1.3 0zM806.1 983.8l-.7 1.1-1.3 0-.6-1.1 .6-1.1 1.3 0zM839.1 983.8l-.7 1.1-1.3 0-.6-1.1 .6-1.1 1.3 0zM872 983.8l-.6 1.1-1.3 0-.7-1.1 .7-1.1 1.3 0zM905 983.8l-.6 1.1-1.3 0-.7-1.1 .7-1.1 1.3 0zM938 983.8l-.7 1.1-1.3 0-.6-1.1 .6-1.1 1.3 0zM971 983.8l-.7 1.1-1.3 0-.6-1.1 .6-1.1 1.3 0zM1003.9 983.8l-.6 1.1-1.3 0-.7-1.1 .7-1.1 1.3 0zM1036.9 983.8l-.6 1.1-1.3 0-.7-1.1 .7-1.1 1.3 0zM1068.1 983.8l0 .3-2.1-.3 2.6 5 2.6-5-2.1 .3 0-.3zM-51.3 1018.4l1.9-20.8 4.9 1.2-5.1-12.5-7.3 11.3 5-.3-2 20.9zM-18.3 1018.4l1.9-20.8 4.9 1.2-5.1-12.5-7.4 11.3 5-.3-1.9 20.9zM14.6 1018.4l2-20.8 4.8 1.2-5.1-12.5-7.3 11.3 5-.3-1.9 20.9zM47.6 1018.4l2-20.8 4.8 1.2-5.1-12.5-7.3 11.3 5-.3-2 20.9zM80.6 1018.4l2-20.8 4.8 1.2-5.1-12.5-7.3 11.3 5-.3-2 20.9zM113.6 1018.5l3.1-22.2 4.8 1.4-4.5-12.7-7.9 11 5-.1-3.1 22.2zM146.5 1018.7l5.6-19.1 4.6 2.1-2.6-13.2-9.4 9.7 4.9 .7-5.6 19zM179.4 1018.8l7.1-17.1 4.3 2.6-1.2-13.4-10.3 8.6 4.8 1.2-7.1 17.1zM212.3 1018.9l7.7-14 3.9 3.1 .3-13.5-11.2 7.5 4.7 1.7-7.6 14zM245.1 1019.2l10.6-11.7 3.1 3.9 3.4-13.1-12.7 4.7 4.2 2.7-10.5 11.7zM278 1019.3l12.7-11.5 2.8 4.2 4.7-12.7-13.1 3.4 3.9 3.1-12.7 11.5zM310.9 1019.4l14.5-10.3 2.2 4.5 6.1-12-13.3 1.8 3.5 3.6-14.5 10.2zM343.8 1019.4l16.7-9.8 1.9 4.6 7.1-11.4-13.5 .7 3.2 3.8-16.7 9.9zM376.7 1019.5l18.9-9.4 1.5 4.8 8-10.9-13.5-.3 2.9 4.1-19 9.3zM409.6 1019.5l20.2-8.6 1.2 4.8 8.6-10.4-13.5-1.1 2.7 4.3-20.2 8.6zM442.5 1019.5l19.5-7.8 1.1 4.9 8.7-10.3-13.4-1.3 2.6 4.3-19.4 7.8zM475.4 1019.5l18.3-6.3 .9 4.9 9.2-9.8-13.3-2 2.3 4.4-18.2 6.4zM508.4 1019.5l17.4-5.9 .9 5 9.3-9.8-13.3-2.1 2.3 4.5-17.4 5.9zM541.3 1019.6l16.2-4.2 .5 4.9 10-9-13.2-3 2 4.5-16.2 4.2zM574.1 1019.6l16.3-1.9-.2 5 11.1-7.5-12.5-4.9 1.3 4.9-16.3 1.8zM607 1019.6l16.3-1.1-.5 5 11.5-7.1-12.3-5.4 1.1 4.9-16.3 1.1zM639.9 1019.6l15.1-.4-.7 5 11.8-6.6-12.1-5.9 .9 4.9-15 .4zM672.8 1019.6l15.1 .6-1 4.9 12.2-5.8-11.7-6.7 .6 5-15.1-.6zM705.7 1019.6l13.9 1.3-1.2 4.9 12.5-5.1-11.4-7.4 .4 5-13.9-1.3zM738.6 1019.6l15.2 2.8-1.7 4.7 12.9-4-10.6-8.3-.1 5-15.2-2.8zM771.5 1019.6l15.4 4.1-2.1 4.6 13.2-2.9-9.9-9.2-.5 5-15.4-4.2zM804.4 1019.5l16.8 5.9-2.4 4.4 13.4-2-9.3-9.8-.9 4.9-16.8-5.8zM837.2 1019.5l17.2 7.4-2.7 4.3 13.5-1-8.5-10.5-1.3 4.9-17.1-7.5zM870.1 1019.4l17.6 9.5-3 4 13.4 .2-7.5-11.2-1.7 4.7-17.5-9.4zM903.1 1019.4l18.9 11.1-3.2 3.9 13.5 .6-7.2-11.4-1.8 4.6-18.9-11zM936 1019.4l21.4 12.3-3.2 3.9 13.5 .6-7.2-11.4-1.8 4.7-21.4-12.3zM969 1019.4l22.4 12.8-3.1 3.9 13.5 .5-7.3-11.3-1.8 4.6-22.4-12.7zM1002 1019.4l21.2 11.4-3 4 13.4 .2-7.5-11.2-1.7 4.8-21.1-11.4zM1035 1019.4l18.8 10.2-3.1 4 13.5 .2-7.5-11.2-1.7 4.7-18.8-10.1zM1068 1019.4l17.2 9.6-3.1 3.9 13.5 .4-7.4-11.3-1.7 4.7-17.3-9.5zM-51.4 1044.7l5-17.3 4.5 2.1-2.7-13.2-9.3 9.8 5 .6-5 17.2zM-18.4 1044.7l4.9-17.3 4.6 2.1-2.7-13.2-9.3 9.8 4.9 .6-4.9 17.2zM14.6 1044.7l4.9-17.3 4.6 2.1-2.8-13.2-9.2 9.8 4.9 .6-4.9 17.2zM47.6 1044.7l4.9-17.3 4.5 2.1-2.7-13.2-9.3 9.8 5 .6-4.9 17.2zM80.5 1044.7l5-17.3 4.5 2.1-2.7-13.2-9.3 9.8 5 .6-4.9 17.2zM113.5 1044.7l6.9-19.2 4.4 2.4-1.8-13.4-9.9 9.1 4.9 1-6.9 19.3zM146.5 1044.8l8.2-20.6 4.3 2.5-1.3-13.4-10.3 8.8 4.9 1.1-8.3 20.6zM179.4 1044.8l9.4-21.7 4.2 2.7-1-13.5-10.4 8.5 4.8 1.3-9.4 21.7zM212.4 1044.9l10.5-21 4 2.9-.2-13.5-10.9 7.9 4.7 1.5-10.5 21zM245.3 1045l12-19.1 3.8 3.2 1.1-13.4-11.7 6.8 4.6 2-12 19.1zM278.2 1045.1l13.9-17.3 3.4 3.7 2.7-13.2-12.4 5.4 4.3 2.5-14 17.3zM311.1 1045.2l15.7-15.8 2.9 4 4-12.9-12.8 4.1 4 2.9-15.7 15.9zM343.9 1045.3l15.5-12.8 2.5 4.3 5.2-12.5-13.2 2.9 3.8 3.3-15.4 12.8zM376.8 1045.4l15.9-9.7 1.9 4.6 7-11.5-13.5 .9 3.3 3.8-16 9.7zM409.6 1045.5l15.6-7.3 1.4 4.8 8.2-10.7-13.5-.6 2.8 4.2-15.6 7.2zM442.5 1045.5l15.6-6 1 4.9 8.9-10.1-13.4-1.5 2.5 4.3-15.5 6zM475.4 1045.5l16.9-5 .7 4.9 9.6-9.4-13.2-2.5 2.1 4.5-16.9 5.1zM508.3 1045.6l17.2-4.3 .4 5 10.1-9-13.1-3.2 1.9 4.7-17.1 4.2zM541.2 1045.6l17.3-2.9 0 5 10.8-8.2-12.9-4.2 1.6 4.8-17.2 2.9zM574.2 1045.6l14.9-2.5 .1 5 10.7-8.1-12.8-4.2 1.6 4.7-15 2.5zM607.1 1045.6l13.9-1.7-.2 5 11.1-7.7-12.6-4.7 1.4 4.8-13.9 1.7zM640 1045.6l12.7-1-.4 5 11.4-7.2-12.4-5.3 1.2 4.9-12.7 1zM672.9 1045.6l12.7-.6-.6 4.9 11.7-6.8-12.3-5.6 1 4.9-12.6 .6zM705.9 1045.6l10.2-.2-.7 4.9 11.9-6.5-12.1-6 .8 5-10.2 .2zM738.8 1045.6l9 .5-1.1 4.9 12.3-5.5-11.5-6.9 .5 4.9-9.1-.5zM771.7 1045.6l6.8 .4-1.1 4.9 12.3-5.4-11.5-7 .4 5-6.7-.5zM804.3 1045.5l8.6 3.2-2.5 4.4 13.4-1.7-9-10-1 4.9-8.6-3.2zM837.2 1045.4l10.3 5.5-3 4 13.5 .1-7.7-11.1-1.6 4.7-10.3-5.4zM869.9 1045.3l11.4 8.7-3.6 3.5 13.2 2.3-5.6-12.2-2.4 4.4-11.4-8.7zM902.8 1045.2l13.3 12.6-4 3 13 3.7-4.4-12.7-2.8 4.1-13.3-12.5zM935.7 1045.1l13.3 17.3-4.4 2.4 12.3 5.7-2.4-13.3-3.4 3.7-13.4-17.4zM968.6 1045l13 20.4-4.6 2 11.7 6.7-1.2-13.4-3.7 3.3-13-20.4zM1001.6 1045.1l15.5 18.8-4.3 2.5 12.4 5.3-2.7-13.2-3.4 3.7-15.5-18.7zM1034.7 1045.2l19.3 18.5-3.9 3 12.9 3.8-4.3-12.8-2.9 4.1-19.3-18.4zM1067.7 1045.2l18.9 18.3-3.9 3 12.9 3.8-4.3-12.8-2.9 4.1-18.9-18.2zM-51.6 1067.1l10.5-12.7 3.3 3.7 2.8-13.2-12.4 5.3 4.3 2.5-10.5 12.8zM-18.6 1067.1l10.5-12.7 3.3 3.7 2.8-13.2-12.4 5.3 4.3 2.5-10.5 12.8zM14.4 1067.1l10.4-12.7 3.4 3.7 2.7-13.2-12.4 5.3 4.3 2.5-10.5 12.8zM47.3 1067.1l10.5-12.7 3.3 3.7 2.8-13.2-12.4 5.3 4.3 2.5-10.5 12.8zM80.3 1067.1l10.5-12.7 3.3 3.7 2.8-13.2-12.4 5.3 4.3 2.5-10.5 12.8zM113.2 1067.2l10.5-11.7 3.2 3.9 3.3-13.1-12.6 4.8 4.2 2.7-10.5 11.6zM146.1 1067.3l11.3-10.4 2.8 4.2 4.6-12.7-13.1 3.5 3.9 3.1-11.2 10.3zM179.1 1067.3l10-8.3 2.5 4.3 5.2-12.5-13.2 2.9 3.8 3.3-10 8.3zM212 1067.4l10.9-7.8 2.2 4.4 6.1-12-13.4 1.9 3.6 3.5-10.9 7.8zM244.9 1067.4l11-7 2 4.6 6.8-11.7-13.5 1.1 3.3 3.8-11 7zM277.8 1067.5l11-5.7 1.5 4.8 7.9-11-13.5-.1 2.9 4-11 5.6zM310.7 1067.5l10.8-4.9 1.3 4.8 8.3-10.6-13.4-.8 2.7 4.2-10.8 4.9zM343.5 1067.5l11.1-3.5 .7 4.9 9.5-9.6-13.3-2.3 2.3 4.5-11.1 3.6zM376.4 1067.6l11.2-3.1 .6 5 9.9-9.2-13.2-2.9 2.1 4.6-11.3 3zM409.4 1067.6l11.2-3.1 .6 5 9.9-9.2-13.2-2.9 2 4.6-11.2 3zM442.4 1067.6l10.5-2.6 .4 5 10.1-8.9-13.1-3.2 2 4.6-10.6 2.5zM475.3 1067.6l10.8-2.4 .3 5 10.3-8.7-13-3.5 1.8 4.6-10.8 2.4zM508.3 1067.6l10.1-2.3 .3 4.9 10.3-8.7-13.1-3.4 1.9 4.6-10.1 2.3zM541.2 1067.6l6-1.1 .1 5 10.7-8.2-12.9-4.1 1.6 4.8-6 1zM573 1066.6l.2 .6-3.9 .7 7.6 7.4 1.7-10.6-3.5 1.9-.2-.6zM605.6 1066.3l0 .8-4.9-.8 6.2 12 6.3-12-5 .8 0-.8zM638.6 1066.3l0 .8-4.9-.8 6.2 12 6.2-12-4.9 .8 0-.8zM671.6 1066.3l0 .8-5-.8 6.3 12 6.2-12-4.9 .8 0-.8zM704.6 1066.3l0 .7-4.7-.7 6 11.5 6-11.5-4.8 .7 0-.7zM737.9 1066.6l.2 .6-4 .7 7.7 7.4 1.7-10.6-3.5 1.9-.2-.6zM771.7 1067.4l.7 .1-1.1 4 10.5-4.2-9.5-6.2 .3 4.2-.7-.1zM805.5 1065.8l-.3-.5 3.2-1.6-8.6-4.4 1.3 9.6 2.6-2.5 .3 .4zM836.6 1066.8l2.9 7.6-4.9 1 10.2 8.9 1.4-13.4-4.3 2.5-2.9-7.6zM869.5 1066.8l4.2 10.6-4.9 1.1 10.2 8.8 1.4-13.4-4.3 2.5-4.2-10.6zM902.5 1066.9l6 12.5-4.8 1.4 10.7 8.1 .5-13.5-4.1 2.8-5.9-12.5zM935.5 1066.9l5.7 11.4-4.7 1.5 10.9 7.9 .2-13.5-4 2.9-5.7-11.4zM968.6 1067l5.8 8.7-4.6 2.1 11.9 6.5-1.5-13.4-3.6 3.4-5.8-8.7zM1001.6 1067.1l5.5 7.6-4.5 2.2 12 6.1-1.9-13.4-3.5 3.6-5.5-7.7zM1034.6 1067.1l6.1 7.9-4.3 2.4 12.2 5.6-2.4-13.3-3.4 3.7-6.2-7.9zM1067.6 1067.1l5.9 7.3-4.3 2.6 12.4 5.3-2.7-13.2-3.3 3.7-6-7.3zM-53.5 1100.4l.3 .6-3.6 1.5 9.2 5.4-.8-10.6-3 2.6-.3-.5zM-20.5 1100.4l.3 .6-3.6 1.5 9.2 5.4-.9-10.6-2.9 2.6-.4-.5zM12.5 1100.4l.3 .6-3.6 1.5 9.1 5.4-.8-10.6-3 2.6-.3-.5zM45.5 1100.4l.3 .6-3.7 1.5 9.2 5.4-.8-10.6-3 2.6-.3-.5zM78.4 1100.4l.4 .6-3.7 1.5 9.2 5.4-.8-10.6-3 2.6-.3-.5zM112.9 1101l4.3-2.4 1.8 4.7 7.3-11.4-13.5 .5 3.1 3.9-4.3 2.5zM145.8 1101.1l5.7-2.5 1.3 4.8 8.5-10.5-13.5-.9 2.7 4.2-5.8 2.5zM178.7 1101.1l6.8-2.3 .9 4.9 9.2-9.8-13.3-2 2.3 4.4-6.8 2.4zM211.6 1101.1l8.3-2.6 .8 5 9.5-9.6-13.3-2.3 2.3 4.4-8.4 2.7zM244.5 1101.2l8.4-2.1 .5 4.9 10.1-8.9-13.1-3.2 1.9 4.6-8.4 2.1zM277.4 1101.2l10.2-2.3 .3 4.9 10.3-8.7-13.1-3.4 1.9 4.6-10.1 2.3zM310.2 1101.2l8.9-.5-.5 4.9 11.5-6.9-12.3-5.5 1.1 4.9-8.8 .5zM343.1 1101.2l9.3 0-.7 4.9 11.9-6.2-11.9-6.2 .7 4.9-9.3 0zM376.1 1101.2l8.3 0-.8 4.9 12-6.2-12-6.2 .8 4.9-8.3 0zM409 1101.2l8.6 .4-1 4.9 12.3-5.6-11.7-6.8 .6 4.9-8.7-.4zM442 1101.2l8.8 .4-1 4.9 12.2-5.6-11.6-6.8 .5 4.9-8.8-.4zM474.9 1101.2l5.9 .3-1.1 4.9 12.3-5.5-11.6-6.9 .5 4.9-5.8-.3zM507.9 1101.2l3.9 .3-1.2 4.8 12.4-5.4-11.5-7 .4 5-3.8-.3zM540.9 1101.2l.7 0-1.1 4.8 12.2-5.1-11.2-7.1 .3 4.9-.7-.1zM573.8 1100.9l.6 0-1 3.7 9.5-3.7-8.4-5.7 .1 3.8-.5-.1zM606.2 1100.2l.2 .5-3.1 .8 6.6 5.4 .7-8.6-2.7 1.7-.2-.4zM639.1 1100l.1 .5-2.9-.1 4.6 6.5 2.7-7.5-2.9 .8 0-.4zM673 1099.4l-.3-.1 .7-2-5.5 1.6 4.5 3.6 0-2.1 .4 0zM705.9 1099.4l-.4 0 .4-2.1-5 2.6 5 2.6-.4-2.1 .4 0zM738.8 1099.4l-.3 0 .3-2.1-5 2.6 5 2.6-.3-2.1 .3 0zM771.8 1099.5l-.3 0 .3-1.7-4 2.1 4 2.1-.3-1.7 .3 0zM804.8 1099.6l-.2 0 .2-1.3-3 1.6 3 1.6-.2-1.3 .2 0zM839.1 1099.9l-.7 1.1-1.3 0-.6-1.1 .6-1.1 1.3 0zM872 1099.9l-.6 1.1-1.3 0-.7-1.1 .7-1.1 1.3 0zM905 1099.9l-.6 1.1-1.3 0-.7-1.1 .7-1.1 1.3 0zM938 1099.9l-.7 1.1-1.3 0-.6-1.1 .6-1.1 1.3 0zM971 1099.9l-.7 1.1-1.3 0-.6-1.1 .6-1.1 1.3 0zM1002.6 1099.6l-.1 0 .1-1.3-3 1.6 3 1.6-.1-1.3 .1 0zM1035.6 1099.6l-.2 0 .2-1.3-3 1.6 3 1.6-.2-1.3 .2 0zM1068.6 1099.5l-.3 0 .3-1.7-4 2.1 4 2.1-.3-1.7 .3 0zM1101.6 1099.5l-.3 0 .3-1.7-4 2.1 4 2.1-.3-1.7 .3 0zM1134.6 1099.5l-.3 0 .3-1.7-4 2.1 4 2.1-.3-1.7 .3 0zM1167.5 1099.5l-.2 0 .2-1.7-4 2.1 4 2.1-.2-1.7 .2 0zM1200.5 1099.5l-.3 0 .3-1.7-4 2.1 4 2.1-.3-1.7 .3 0zM1233.5 1099.5l-.3 0 .3-1.7-4 2.1 4 2.1-.3-1.7 .3 0zM81.9 1125.3l-.4 0 .6-2.1-5.3 2.1 4.7 3.2-.1-2.1 .3 0zM115.8 1125.1l-.4 0 .6-2.9-7.2 3.1 6.7 4.2-.2-2.9 .4 0zM149.6 1124.9l-.6 0 .8-3.5-8.8 3.9 8.2 5-.3-3.6 .5 .1zM183.2 1124.5l-.6 0 .6-4.1-10 5.2 10 5.2-.6-4.1 .6 0zM216.5 1124.7l-.7 0 .9-4.3-10.7 4.9 10.2 6-.5-4.3 .7 0zM249.6 1125.2l-.7-.1 1.3-4.2-11.3 3.9 9.8 7-.1-4.4 .7 .1zM276 1120.1l0 .7-4.6-.7 5.8 11 5.7-11-4.5 .7 0-.7zM308.9 1120.1l0 .7-4.5-.7 5.7 11 5.8-11-4.6 .7 0-.7zM341.9 1120.1l0 .7-4.5-.7 5.7 11 5.8-11-4.6 .7 0-.7zM374.9 1120.1l0 .7-4.5-.7 5.7 11 5.7-11-4.5 .7 0-.7zM407.9 1120.1l0 .7-4.6-.7 5.8 11 5.7-11-4.5 .7 0-.7zM440.8 1120.1l0 .7-4.5-.7 5.7 11 5.8-11-4.6 .7 0-.7zM473.8 1120.1l0 .7-4.5-.7 5.7 11 5.8-11-4.6 .7 0-.7zM506.8 1120.1l0 .7-4.5-.7 5.7 11 5.7-11-4.5 .7 0-.7zM540.4 1120.7l0 .7-3.9-1.1 4 10 5.9-8.9-4 .2 .1-.6zM576.3 1121.9l-.4 .4-2.1-2.8-2.9 9.1 9.2-2.9-2.9-2.1 .4-.3zM610.3 1124.3l-.4 .1 0-3-6.5 4.7 7.5 2.7-.8-2.9 .4 0zM642.4 1125.1l-.3 0 .3-2.1-5 2.6 5 2.6-.3-2.1 .3 0zM675.4 1125.1l-.3 0 .3-2.1-5 2.6 5 2.6-.3-2.1 .3 0zM707.2 1125.6l-.7 1.1-1.3 0-.6-1.1 .6-1.1 1.3 0zM740.1 1125.6l-.6 1.1-1.3 0-.7-1.1 .7-1.1 1.3 0zM773.1 1125.6l-.6 1.1-1.3 0-.7-1.1 .7-1.1 1.3 0zM806.1 1125.6l-.7 1.1-1.3 0-.6-1.1 .6-1.1 1.3 0zM839.1 1125.6l-.7 1.1-1.3 0-.6-1.1 .6-1.1 1.3 0zM872 1125.6l-.6 1.1-1.3 0-.7-1.1 .7-1.1 1.3 0zM905 1125.6l-.6 1.1-1.3 0-.7-1.1 .7-1.1 1.3 0zM938 1125.6l-.7 1.1-1.3 0-.6-1.1 .6-1.1 1.3 0zM971.4 1125.2l-.2 0 .2-1.4-3.5 1.8 3.5 1.8-.2-1.4 .2 0zM1006.6 1124.7l-.5 0 .5-3.3-8 4.2 8 4.2-.5-3.3 .5 0zM1040.4 1123.5l-.6 .1-.2-4.2-9 7.2 11.1 3.2-1.5-4 .6-.1zM1073 1124.1l-.6 .1 .2-3.8-8.5 5.7 9.5 3.7-1-3.7 .6 0zM1106 1124.1l-.6 .1 .2-3.8-8.5 5.7 9.5 3.7-1-3.7 .6 0zM1138.9 1124.1l-.5 .1 .1-3.8-8.4 5.7 9.5 3.7-1-3.7 .6 0zM1171.9 1124.1l-.6 .1 .2-3.8-8.5 5.7 9.6 3.7-1-3.7 .5 0zM1204.9 1124.1l-.6 .1 .2-3.8-8.5 5.7 9.5 3.7-1-3.7 .6 0zM1237.9 1124.1l-.6 .1 .2-3.8-8.5 5.7 9.5 3.7-1-3.7 .6 0zM-57.1 1148.1l.6 0-.6 3.7 9-4.7-9-4.7 .6 3.7-.6 0zM-24.1 1148.1l.6 0-.6 3.7 9-4.7-9-4.7 .6 3.7-.6 0zM8.8 1148.1l.6 0-.6 3.7 9-4.7-9-4.7 .6 3.7-.6 0zM41.8 1148.1l.6 0-.6 3.7 9-4.7-9-4.7 .6 3.7-.6 0zM74.8 1148.1l.6 0-.6 3.7 9-4.7-9-4.7 .6 3.7-.6 0zM107.8 1148.1l.6 0-.6 3.7 9-4.7-9-4.7 .6 3.7-.6 0zM141.8 1148.1l.5 0-.3 2.9 6.8-4.2-7.3-3.1 .7 2.9-.5 0zM176.2 1148.6l.3-.1 .5 1.9 3.5-4.3-5.6-.3 1.2 1.7-.3 .1zM211.7 1149.3l0-.2 1.9 .2-2.4-4.5-2.3 4.5 1.8-.2 0 .2zM244.7 1149.3l0-.2 1.8 .2-2.3-4.5-2.4 4.5 1.9-.2 0 .2zM277.6 1149.1l0-.3 1.6 .3-2-4-2.1 4 1.6-.3 0 .3zM310.5 1148.8l0-.2 1.5 .2-1.9-3.5-1.8 3.5 1.5-.2 0 .2zM344.4 1147.1l-.6 1.1-1.3 0-.7-1.1 .7-1.1 1.3 0zM377.4 1147.1l-.7 1.1-1.3 0-.6-1.1 .6-1.1 1.3 0zM410.4 1147.1l-.7 1.1-1.3 0-.6-1.1 .6-1.1 1.3 0zM443.3 1147.1l-.6 1.1-1.3 0-.7-1.1 .7-1.1 1.3 0zM476.3 1147.1l-.6 1.1-1.3 0-.7-1.1 .7-1.1 1.3 0zM509.3 1147.1l-.7 1.1-1.3 0-.6-1.1 .6-1.1 1.3 0zM542.3 1147.1l-.7 1.1-1.3 0-.6-1.1 .6-1.1 1.3 0zM573.6 1145.3l0 .3-1.5-.3 1.8 3.5 1.9-3.5-1.5 .3 0-.3zM608.2 1147.1l-.6 1.1-1.3 0-.7-1.1 .7-1.1 1.3 0zM641.2 1147.1l-.6 1.1-1.3 0-.7-1.1 .7-1.1 1.3 0zM674.2 1147.1l-.7 1.1-1.3 0-.6-1.1 .6-1.1 1.3 0zM707.2 1147.1l-.7 1.1-1.3 0-.6-1.1 .6-1.1 1.3 0zM740.1 1147.1l-.6 1.1-1.3 0-.7-1.1 .7-1.1 1.3 0zM773.1 1147.1l-.6 1.1-1.3 0-.7-1.1 .7-1.1 1.3 0zM806.1 1147.1l-.7 1.1-1.3 0-.6-1.1 .6-1.1 1.3 0zM839.1 1147.1l-.7 1.1-1.3 0-.6-1.1 .6-1.1 1.3 0zM871.1 1148.8l0-.2 1.5 .2-1.9-3.5-1.8 3.5 1.5-.2 0 .2zM904.1 1148.8l0-.2 1.4 .2-1.8-3.5-1.8 3.5 1.4-.2 0 .2zM937.1 1149.1l0-.3 1.7 .3-2.1-4-2.1 4 1.7-.3 0 .3zM970.9 1150.5l0-.5 2.9 .1-4.6-6.5-2.7 7.5 2.8-.8 .1 .4zM1006.9 1149.8l-.4-.4 3.3-2.5-10.7-3.3 3.4 10.7 2.4-3.4 .5 .5zM1035.7 1152.3l.1-.6 4 1.4-3.2-11-7.2 9 4.3 .1-.2 .7zM1069.3 1150.1l0-.4 2.4 .4-3.1-6-3.1 6 2.4-.4 0 .4zM-58.1 1167l.7 0-.7 4.5 11-5.7-11-5.7 .7 4.5-.7 0zM-25.1 1167l.7 0-.7 4.5 11-5.7-11-5.7 .7 4.5-.7 0zM7.8 1167l.8 0-.8 4.5 11-5.7-11-5.7 .8 4.5-.8 0zM40.8 1167l.7 0-.7 4.5 11-5.7-11-5.7 .7 4.5-.7 0zM73.8 1167l.7 0-.7 4.5 11-5.7-11-5.7 .7 4.5-.7 0zM106.8 1167l.7 0-.7 4.5 11-5.7-11-5.7 .7 4.5-.7 0zM140.3 1166.9l.6 0-.6 4.1 9.9-5.2-9.9-5.2 .6 4.1-.6 0zM173.3 1166.9l.6 0-.6 4.1 9.9-5.2-9.9-5.2 .6 4.1-.6 0zM206.8 1166.8l.6 0-.6 3.6 8.8-4.6-8.8-4.6 .6 3.6-.6 0zM239.8 1166.8l.6 0-.6 3.6 8.8-4.6-8.8-4.6 .6 3.6-.6 0zM273 1166.7l.6 0-.6 3.4 8.3-4.3-8.3-4.3 .6 3.4-.6 0zM306.3 1166.6l.5 0-.5 3.2 7.7-4-7.7-4 .5 3.2-.5 0zM339.3 1166.6l.5 0-.5 3.2 7.7-4-7.7-4 .5 3.2-.5 0zM373.1 1166.5l.4 0-.4 2.5 6-3.2-6-3.2 .4 2.5-.4 0zM406.9 1166.3l.3 0-.3 1.8 4.4-2.3-4.4-2.3 .3 1.8-.3 0zM443.3 1165.8l-.6 1.1-1.3 0-.7-1.1 .7-1.1 1.3 0zM476.3 1165.8l-.6 1.1-1.3 0-.7-1.1 .7-1.1 1.3 0zM509.3 1165.8l-.7 1.1-1.3 0-.6-1.1 .6-1.1 1.3 0zM542.3 1165.8l-.7 1.1-1.3 0-.6-1.1 .6-1.1 1.3 0zM575.2 1165.8l-.6 1.1-1.3 0-.7-1.1 .7-1.1 1.3 0zM608.2 1165.8l-.6 1.1-1.3 0-.7-1.1 .7-1.1 1.3 0zM641.2 1165.8l-.6 1.1-1.3 0-.7-1.1 .7-1.1 1.3 0zM674.2 1165.8l-.7 1.1-1.3 0-.6-1.1 .6-1.1 1.3 0zM707.2 1165.8l-.7 1.1-1.3 0-.6-1.1 .6-1.1 1.3 0zM740.1 1165.8l-.6 1.1-1.3 0-.7-1.1 .7-1.1 1.3 0zM773.1 1165.8l-.6 1.1-1.3 0-.7-1.1 .7-1.1 1.3 0zM806.1 1165.8l-.7 1.1-1.3 0-.6-1.1 .6-1.1 1.3 0zM839.1 1165.8l-.7 1.1-1.3 0-.6-1.1 .6-1.1 1.3 0zM872 1165.8l-.6 1.1-1.3 0-.7-1.1 .7-1.1 1.3 0zM905 1165.8l-.6 1.1-1.3 0-.7-1.1 .7-1.1 1.3 0zM938 1165.8l-.7 1.1-1.3 0-.6-1.1 .6-1.1 1.3 0zM969.3 1164.1l0 .3-1.4-.3 1.8 3.4 1.7-3.4-1.4 .3 0-.3zM999.3 1166.5l.5 0-.5 2.7 6.6-3.4-6.6-3.4 .5 2.7-.5 0zM1031.8 1166.6l.5 0-.5 3.2 7.7-4-7.7-4 .5 3.2-.5 0zM1065.8 1166.4l.4 0-.4 2.3 5.5-2.9-5.5-2.9 .4 2.3-.4 0zM79.1 1193.3l-.4-2.9 5 .1-7.9-11-4.5 12.7 4.8-1.4 .4 2.9zM112.1 1193.3l-.5-2.9 5 .1-7.8-11-4.5 12.7 4.8-1.4 .4 2.9zM145 1193.3l-.4-2.9 5 .1-7.8-11-4.5 12.7 4.7-1.4 .5 2.9zM178 1193.3l-.4-2.9 5 .1-7.9-11-4.5 12.7 4.8-1.4 .4 2.9zM211 1193.3l-.4-2.9 5 .1-7.9-11-4.5 12.7 4.8-1.4 .4 2.9zM244 1193.3l-.4-2.9 5 .1-7.9-11-4.5 12.7 4.8-1.4 .4 2.9zM276.9 1193.3l-.4-2.9 5 .1-7.8-11-4.5 12.7 4.8-1.4 .4 2.9zM309.9 1193.3l-.4-2.9 5 .1-7.9-11-4.4 12.7 4.7-1.4 .4 2.9zM342.9 1193.3l-.4-2.9 5 .1-7.9-11-4.5 12.7 4.8-1.4 .4 2.9zM375.9 1193.3l-.4-2.9 5 .1-7.9-11-4.5 12.7 4.8-1.4 .4 2.9zM408.9 1193.3l-.5-2.9 5 .1-7.8-11-4.5 12.7 4.8-1.4 .4 2.9zM441.8 1193.3l-.4-2.9 5 .1-7.9-11-4.4 12.7 4.7-1.4 .5 2.9zM474.8 1193.3l-.4-2.9 5 .1-7.9-11-4.5 12.7 4.8-1.4 .4 2.9zM507.8 1193.3l-.4-2.9 5 .1-7.9-11-4.5 12.7 4.8-1.4 .4 2.9zM540.8 1193.3l-.5-2.9 5 .1-7.8-11-4.5 12.7 4.8-1.4 .4 2.9zM575.2 1192.5l0-.8 5 .8-6.3-12-6.2 12 4.9-.8 0 .8zM607.9 1191l0-.6 3.7 .6-4.7-9-4.7 9 3.7-.6 0 .6zM640.3 1188.5l0-.3 1.7 .3-2.1-4-2.1 4 1.7-.3 0 .3zM674.5 1186.7l-.2-.1 .6-1.2-3.5 .6 2.5 2.6 .2-1.3 .2 0zM707.5 1186.7l-.2-.1 .6-1.2-3.5 .6 2.4 2.6 .3-1.3 .1 0zM740.4 1186.7l-.2-.1 .7-1.2-3.6 .6 2.5 2.6 .2-1.3 .2 0zM773.1 1186.5l-.6 1.1-1.3 0-.7-1.1 .7-1.1 1.3 0zM806.1 1186.5l-.7 1.1-1.3 0-.6-1.1 .6-1.1 1.3 0zM839.1 1186.5l-.7 1.1-1.3 0-.6-1.1 .6-1.1 1.3 0zM872 1186.5l-.6 1.1-1.3 0-.7-1.1 .7-1.1 1.3 0zM904.8 1191.5l0-.7 4.1 .7-5.2-10-5.2 10 4.1-.7 0 .7zM937.9 1192.2l0-.7 4.8 .7-6-11.4-6 11.4 4.7-.7 0 .7zM971 1192.8l0-1.4 4.9 .8-6.2-12-6.3 12 5-.8 0 1.4zM1003.9 1193l0-1.8 5 .8-6.3-12-6.2 12 4.9-.8 0 1.8zM1036.9 1193l0-1.8 5 .8-6.3-12-6.2 12 4.9-.8 0 1.8zM1069.7 1191.5l0-.7 4.1 .7-5.2-10-5.2 10 4.1-.7 0 .7zM76.6 1201l-.4-2.9 5 .1-7.9-11-4.5 12.7 4.8-1.4 .4 2.9zM109.6 1201l-.5-2.9 5 .1-7.8-11-4.5 12.7 4.8-1.4 .4 2.9zM142.5 1201l-.4-2.9 5 .1-7.8-11-4.5 12.7 4.7-1.4 .5 2.9zM175.5 1201l-.4-2.9 5 .1-7.9-11-4.5 12.7 4.8-1.4 .4 2.9zM208.5 1201l-.4-2.9 5 .1-7.9-11-4.5 12.7 4.8-1.4 .4 2.9zM241.5 1201l-.4-2.9 5 .1-7.9-11-4.5 12.7 4.8-1.4 .4 2.9zM274.4 1201l-.4-2.9 5 .1-7.8-11-4.5 12.7 4.8-1.4 .4 2.9zM307.4 1201l-.4-2.9 5 .1-7.9-11-4.4 12.7 4.7-1.4 .4 2.9zM340.4 1201l-.4-2.9 5 .1-7.9-11-4.5 12.7 4.8-1.4 .4 2.9zM373.4 1201l-.4-2.9 5 .1-7.9-11-4.5 12.7 4.8-1.4 .4 2.9zM406.4 1201l-.5-2.9 5 .1-7.8-11-4.5 12.7 4.8-1.4 .4 2.9zM439.3 1201l-.4-2.9 5 .1-7.9-11-4.4 12.7 4.7-1.4 .5 2.9zM472.3 1201l-.4-2.9 5 .1-7.9-11-4.5 12.7 4.8-1.4 .4 2.9zM505.3 1201l-.4-2.9 5 .1-7.9-11-4.5 12.7 4.8-1.4 .4 2.9zM538.3 1201l-.5-2.9 5 .1-7.8-11-4.5 12.7 4.8-1.4 .4 2.9zM575.2 1200.2l0-.8 5 .8-6.3-12-6.2 12 4.9-.8 0 .8zM607.9 1198.7l0-.6 3.7 .6-4.7-9-4.7 9 3.7-.6 0 .6zM640.3 1196.2l0-.3 1.7 .3-2.1-4-2.1 4 1.7-.3 0 .3zM674.5 1194.4l-.2-.1 .6-1.2-3.5 .6 2.5 2.6 .2-1.3 .2 0zM707.5 1194.4l-.2-.1 .6-1.2-3.5 .6 2.4 2.6 .3-1.3 .1 0zM740.4 1194.4l-.2-.1 .7-1.2-3.6 .6 2.5 2.6 .2-1.3 .2 0zM773.1 1194.2l-.6 1.1-1.3 0-.7-1.1 .7-1.1 1.3 0zM806.1 1194.2l-.7 1.1-1.3 0-.6-1.1 .6-1.1 1.3 0zM839.1 1194.2l-.7 1.1-1.3 0-.6-1.1 .6-1.1 1.3 0zM872 1194.2l-.6 1.1-1.3 0-.7-1.1 .7-1.1 1.3 0zM904.8 1199.2l0-.7 4.1 .7-5.2-10-5.2 10 4.1-.7 0 .7zM937.9 1200l0-.8 4.8 .8-6-11.5-6 11.5 4.7-.8 0 .8zM971 1200.5l0-1.4 4.9 .8-6.2-11.9-6.3 11.9 5-.8 0 1.4zM1003.9 1200.7l0-1.8 5 .8-6.3-12-6.2 12 4.9-.8 0 1.8zM1036.9 1200.7l0-1.8 5 .8-6.3-12-6.2 12 4.9-.8 0 1.8zM1069.7 1199.2l0-.7 4.1 .7-5.2-10-5.2 10 4.1-.7 0 .7zM81.1 1201l-.4-2.9 5 .1-7.9-11-4.5 12.7 4.8-1.4 .4 2.9zM114.1 1201l-.5-2.9 5 .1-7.8-11-4.5 12.7 4.8-1.4 .4 2.9zM147 1201l-.4-2.9 5 .1-7.8-11-4.5 12.7 4.7-1.4 .5 2.9zM180 1201l-.4-2.9 5 .1-7.9-11-4.5 12.7 4.8-1.4 .4 2.9zM213 1201l-.4-2.9 5 .1-7.9-11-4.5 12.7 4.8-1.4 .4 2.9zM246 1201l-.4-2.9 5 .1-7.9-11-4.5 12.7 4.8-1.4 .4 2.9zM278.9 1201l-.4-2.9 5 .1-7.8-11-4.5 12.7 4.8-1.4 .4 2.9zM311.9 1201l-.4-2.9 5 .1-7.9-11-4.4 12.7 4.7-1.4 .4 2.9zM344.9 1201l-.4-2.9 5 .1-7.9-11-4.5 12.7 4.8-1.4 .4 2.9zM377.9 1201l-.4-2.9 5 .1-7.9-11-4.5 12.7 4.8-1.4 .4 2.9zM410.9 1201l-.5-2.9 5 .1-7.8-11-4.5 12.7 4.8-1.4 .4 2.9zM443.8 1201l-.4-2.9 5 .1-7.9-11-4.4 12.7 4.7-1.4 .5 2.9zM476.8 1201l-.4-2.9 5 .1-7.9-11-4.5 12.7 4.8-1.4 .4 2.9zM509.8 1201l-.4-2.9 5 .1-7.9-11-4.5 12.7 4.8-1.4 .4 2.9zM542.8 1201l-.5-2.9 5 .1-7.8-11-4.5 12.7 4.8-1.4 .4 2.9zM74.6 1209.5l-.4-2.9 5 .1-7.9-11-4.5 12.7 4.8-1.4 .4 2.9zM107.6 1209.5l-.5-2.9 5 .1-7.8-11-4.5 12.7 4.8-1.4 .4 2.9zM140.5 1209.5l-.4-2.9 5 .1-7.8-11-4.5 12.7 4.7-1.4 .5 2.9zM173.5 1209.5l-.4-2.9 5 .1-7.9-11-4.5 12.7 4.8-1.4 .4 2.9zM206.5 1209.5l-.4-2.9 5 .1-7.9-11-4.5 12.7 4.8-1.4 .4 2.9zM239.5 1209.5l-.4-2.9 5 .1-7.9-11-4.5 12.7 4.8-1.4 .4 2.9zM272.4 1209.5l-.4-2.9 5 .1-7.8-11-4.5 12.7 4.8-1.4 .4 2.9zM305.4 1209.5l-.4-2.9 5 .1-7.9-11-4.4 12.7 4.7-1.4 .4 2.9zM338.4 1209.5l-.4-2.9 5 .1-7.9-11-4.5 12.7 4.8-1.4 .4 2.9zM371.4 1209.5l-.4-2.9 5 .1-7.9-11-4.5 12.7 4.8-1.4 .4 2.9zM404.4 1209.5l-.5-2.9 5 .1-7.8-11-4.5 12.7 4.8-1.4 .4 2.9zM437.3 1209.5l-.4-2.9 5 .1-7.9-11-4.4 12.7 4.7-1.4 .5 2.9zM470.3 1209.5l-.4-2.9 5 .1-7.9-11-4.5 12.7 4.8-1.4 .4 2.9zM503.3 1209.5l-.4-2.9 5 .1-7.9-11-4.5 12.7 4.8-1.4 .4 2.9zM536.3 1209.5l-.5-2.9 5 .1-7.8-11-4.5 12.7 4.8-1.4 .4 2.9zM575.2 1208.7l0-.8 5 .8-6.3-12-6.2 12 4.9-.8 0 .8zM607.9 1207.2l0-.6 3.7 .6-4.7-9-4.7 9 3.7-.6 0 .6zM640.3 1204.7l0-.3 1.7 .3-2.1-4-2.1 4 1.7-.3 0 .3zM674.5 1202.9l-.2-.1 .6-1.2-3.5 .6 2.5 2.6 .2-1.3 .2 0zM707.5 1202.9l-.2-.1 .6-1.2-3.5 .6 2.4 2.6 .3-1.3 .1 0zM740.4 1202.9l-.2-.1 .7-1.2-3.6 .6 2.5 2.6 .2-1.3 .2 0zM773.1 1202.7l-.6 1.1-1.3 0-.7-1.1 .7-1.1 1.3 0zM806.1 1202.7l-.7 1.1-1.3 0-.6-1.1 .6-1.1 1.3 0zM839.1 1202.7l-.7 1.1-1.3 0-.6-1.1 .6-1.1 1.3 0zM872 1202.7l-.6 1.1-1.3 0-.7-1.1 .7-1.1 1.3 0zM904.8 1207.7l0-.7 4.1 .7-5.2-10-5.2 10 4.1-.7 0 .7zM937.9 1208.5l0-.8 4.8 .8-6-11.5-6 11.5 4.7-.8 0 .8zM971 1209l0-1.4 4.9 .8-6.2-11.9-6.3 11.9 5-.8 0 1.4zM1003.9 1209.2l0-1.8 5 .8-6.3-12-6.2 12 4.9-.8 0 1.8zM1036.9 1209.2l0-1.8 5 .8-6.3-12-6.2 12 4.9-.8 0 1.8zM1069.7 1207.7l0-.7 4.1 .7-5.2-10-5.2 10 4.1-.7 0 .7zM79.1 1209.5l-.4-2.9 5 .1-7.9-11-4.5 12.7 4.8-1.4 .4 2.9zM112.1 1209.5l-.5-2.9 5 .1-7.8-11-4.5 12.7 4.8-1.4 .4 2.9zM145 1209.5l-.4-2.9 5 .1-7.8-11-4.5 12.7 4.7-1.4 .5 2.9zM178 1209.5l-.4-2.9 5 .1-7.9-11-4.5 12.7 4.8-1.4 .4 2.9zM211 1209.5l-.4-2.9 5 .1-7.9-11-4.5 12.7 4.8-1.4 .4 2.9zM244 1209.5l-.4-2.9 5 .1-7.9-11-4.5 12.7 4.8-1.4 .4 2.9zM276.9 1209.5l-.4-2.9 5 .1-7.8-11-4.5 12.7 4.8-1.4 .4 2.9zM309.9 1209.5l-.4-2.9 5 .1-7.9-11-4.4 12.7 4.7-1.4 .4 2.9zM342.9 1209.5l-.4-2.9 5 .1-7.9-11-4.5 12.7 4.8-1.4 .4 2.9zM375.9 1209.5l-.4-2.9 5 .1-7.9-11-4.5 12.7 4.8-1.4 .4 2.9zM408.9 1209.5l-.5-2.9 5 .1-7.8-11-4.5 12.7 4.8-1.4 .4 2.9zM441.8 1209.5l-.4-2.9 5 .1-7.9-11-4.4 12.7 4.7-1.4 .5 2.9zM474.8 1209.5l-.4-2.9 5 .1-7.9-11-4.5 12.7 4.8-1.4 .4 2.9zM507.8 1209.5l-.4-2.9 5 .1-7.9-11-4.5 12.7 4.8-1.4 .4 2.9zM540.8 1209.5l-.5-2.9 5 .1-7.8-11-4.5 12.7 4.8-1.4 .4 2.9zM74.1 1216.4l-.4-2.9 5 .1-7.9-11-4.5 12.7 4.8-1.4 .4 2.9zM107.1 1216.4l-.5-2.9 5 .1-7.8-11-4.5 12.7 4.8-1.4 .4 2.9zM140 1216.4l-.4-2.9 5 .1-7.8-11-4.5 12.7 4.7-1.4 .5 2.9zM173 1216.4l-.4-2.9 5 .1-7.9-11-4.5 12.7 4.8-1.4 .4 2.9zM206 1216.4l-.4-2.9 5 .1-7.9-11-4.5 12.7 4.8-1.4 .4 2.9zM239 1216.4l-.4-2.9 5 .1-7.9-11-4.5 12.7 4.8-1.4 .4 2.9zM271.9 1216.4l-.4-2.9 5 .1-7.8-11-4.5 12.7 4.8-1.4 .4 2.9zM304.9 1216.4l-.4-2.9 5 .1-7.9-11-4.4 12.7 4.7-1.4 .4 2.9zM337.9 1216.4l-.4-2.9 5 .1-7.9-11-4.5 12.7 4.8-1.4 .4 2.9zM370.9 1216.4l-.4-2.9 5 .1-7.9-11-4.5 12.7 4.8-1.4 .4 2.9zM403.9 1216.4l-.5-2.9 5 .1-7.8-11-4.5 12.7 4.8-1.4 .4 2.9zM436.8 1216.4l-.4-2.9 5 .1-7.9-11-4.4 12.7 4.7-1.4 .5 2.9zM469.8 1216.4l-.4-2.9 5 .1-7.9-11-4.5 12.7 4.8-1.4 .4 2.9zM502.8 1216.4l-.4-2.9 5 .1-7.9-11-4.5 12.7 4.8-1.4 .4 2.9zM535.8 1216.4l-.5-2.9 5 .1-7.8-11-4.5 12.7 4.8-1.4 .4 2.9zM575.2 1215.6l0-.8 5 .8-6.3-12-6.2 12 4.9-.8 0 .8zM607.9 1214.1l0-.6 3.7 .6-4.7-9-4.7 9 3.7-.6 0 .6zM640.3 1211.6l0-.3 1.7 .3-2.1-4-2.1 4 1.7-.3 0 .3zM674.5 1209.8l-.2-.1 .6-1.2-3.5 .6 2.5 2.6 .2-1.3 .2 0zM707.5 1209.8l-.2-.1 .6-1.2-3.5 .6 2.4 2.6 .3-1.3 .1 0zM740.4 1209.8l-.2-.1 .7-1.2-3.6 .6 2.5 2.6 .2-1.3 .2 0zM773.1 1209.6l-.6 1.1-1.3 0-.7-1.1 .7-1.1 1.3 0zM806.1 1209.6l-.7 1.1-1.3 0-.6-1.1 .6-1.1 1.3 0zM839.1 1209.6l-.7 1.1-1.3 0-.6-1.1 .6-1.1 1.3 0zM872 1209.6l-.6 1.1-1.3 0-.7-1.1 .7-1.1 1.3 0zM904.8 1214.6l0-.7 4.1 .7-5.2-10-5.2 10 4.1-.7 0 .7zM937.9 1215.3l0-.7 4.8 .7-6-11.5-6 11.5 4.7-.7 0 .7zM971 1215.8l0-1.3 4.9 .8-6.2-12-6.3 12 5-.8 0 1.3zM1003.9 1216.1l0-1.8 5 .8-6.3-12-6.2 12 4.9-.8 0 1.8zM1036.9 1216.1l0-1.8 5 .8-6.3-12-6.2 12 4.9-.8 0 1.8zM1069.7 1214.6l0-.7 4.1 .7-5.2-10-5.2 10 4.1-.7 0 .7zM78.6 1216.4l-.4-2.9 5 .1-7.9-11-4.5 12.7 4.8-1.4 .4 2.9zM111.6 1216.4l-.5-2.9 5 .1-7.8-11-4.5 12.7 4.8-1.4 .4 2.9zM144.5 1216.4l-.4-2.9 5 .1-7.8-11-4.5 12.7 4.7-1.4 .5 2.9zM177.5 1216.4l-.4-2.9 5 .1-7.9-11-4.5 12.7 4.8-1.4 .4 2.9zM210.5 1216.4l-.4-2.9 5 .1-7.9-11-4.5 12.7 4.8-1.4 .4 2.9zM243.5 1216.4l-.4-2.9 5 .1-7.9-11-4.5 12.7 4.8-1.4 .4 2.9zM276.4 1216.4l-.4-2.9 5 .1-7.8-11-4.5 12.7 4.8-1.4 .4 2.9zM309.4 1216.4l-.4-2.9 5 .1-7.9-11-4.4 12.7 4.7-1.4 .4 2.9zM342.4 1216.4l-.4-2.9 5 .1-7.9-11-4.5 12.7 4.8-1.4 .4 2.9zM375.4 1216.4l-.4-2.9 5 .1-7.9-11-4.5 12.7 4.8-1.4 .4 2.9zM408.4 1216.4l-.5-2.9 5 .1-7.8-11-4.5 12.7 4.8-1.4 .4 2.9zM441.3 1216.4l-.4-2.9 5 .1-7.9-11-4.4 12.7 4.7-1.4 .5 2.9zM474.3 1216.4l-.4-2.9 5 .1-7.9-11-4.5 12.7 4.8-1.4 .4 2.9zM507.3 1216.4l-.4-2.9 5 .1-7.9-11-4.5 12.7 4.8-1.4 .4 2.9zM540.3 1216.4l-.5-2.9 5 .1-7.8-11-4.5 12.7 4.8-1.4 .4 2.9zM75.6 1222.7l-.4-2.9 5 .1-7.9-11-4.5 12.7 4.8-1.4 .4 2.9zM108.6 1222.7l-.5-2.9 5 .1-7.8-11-4.5 12.7 4.8-1.4 .4 2.9zM141.5 1222.7l-.4-2.9 5 .1-7.8-11-4.5 12.7 4.7-1.4 .5 2.9zM174.5 1222.7l-.4-2.9 5 .1-7.9-11-4.5 12.7 4.8-1.4 .4 2.9zM207.5 1222.7l-.4-2.9 5 .1-7.9-11-4.5 12.7 4.8-1.4 .4 2.9zM240.5 1222.7l-.4-2.9 5 .1-7.9-11-4.5 12.7 4.8-1.4 .4 2.9zM273.4 1222.7l-.4-2.9 5 .1-7.8-11-4.5 12.7 4.8-1.4 .4 2.9zM306.4 1222.7l-.4-2.9 5 .1-7.9-11-4.4 12.7 4.7-1.4 .4 2.9zM339.4 1222.7l-.4-2.9 5 .1-7.9-11-4.5 12.7 4.8-1.4 .4 2.9zM372.4 1222.7l-.4-2.9 5 .1-7.9-11-4.5 12.7 4.8-1.4 .4 2.9zM405.4 1222.7l-.5-2.9 5 .1-7.8-11-4.5 12.7 4.8-1.4 .4 2.9zM438.3 1222.7l-.4-2.9 5 .1-7.9-11-4.4 12.7 4.7-1.4 .5 2.9zM471.3 1222.7l-.4-2.9 5 .1-7.9-11-4.5 12.7 4.8-1.4 .4 2.9zM504.3 1222.7l-.4-2.9 5 .1-7.9-11-4.5 12.7 4.8-1.4 .4 2.9zM537.3 1222.7l-.5-2.9 5 .1-7.8-11-4.5 12.7 4.8-1.4 .4 2.9zM575.2 1221.9l0-.8 5 .8-6.3-12-6.2 12 4.9-.8 0 .8zM607.9 1220.4l0-.6 3.7 .6-4.7-9-4.7 9 3.7-.6 0 .6zM640.3 1217.9l0-.3 1.7 .3-2.1-4-2.1 4 1.7-.3 0 .3zM674.5 1216.1l-.2-.1 .6-1.2-3.5 .6 2.5 2.6 .2-1.3 .2 0zM707.5 1216.1l-.2-.1 .6-1.2-3.5 .6 2.4 2.6 .3-1.3 .1 0zM740.4 1216.1l-.2-.1 .7-1.2-3.6 .6 2.5 2.6 .2-1.3 .2 0zM773.1 1215.9l-.6 1.1-1.3 0-.7-1.1 .7-1.1 1.3 0zM806.1 1215.9l-.7 1.1-1.3 0-.6-1.1 .6-1.1 1.3 0zM839.1 1215.9l-.7 1.1-1.3 0-.6-1.1 .6-1.1 1.3 0zM872 1215.9l-.6 1.1-1.3 0-.7-1.1 .7-1.1 1.3 0zM904.8 1220.9l0-.7 4.1 .7-5.2-10-5.2 10 4.1-.7 0 .7zM937.9 1221.7l0-.8 4.8 .8-6-11.5-6 11.5 4.7-.8 0 .8zM971 1222.2l0-1.4 4.9 .8-6.2-11.9-6.3 11.9 5-.8 0 1.4zM1003.9 1222.4l0-1.8 5 .8-6.3-12-6.2 12 4.9-.8 0 1.8zM1036.9 1222.4l0-1.8 5 .8-6.3-12-6.2 12 4.9-.8 0 1.8zM1069.7 1220.9l0-.7 4.1 .7-5.2-10-5.2 10 4.1-.7 0 .7zM79.6 1222.7l-.4-2.9 5 .1-7.9-11-4.4 12.7 4.7-1.4 .5 2.9zM112.6 1222.7l-.4-2.9 5 .1-7.9-11-4.5 12.7 4.8-1.4 .4 2.9zM145.6 1222.7l-.4-2.9 5 .1-7.9-11-4.5 12.7 4.8-1.4 .4 2.9zM178.6 1222.7l-.5-2.9 5 .1-7.8-11-4.5 12.7 4.8-1.4 .4 2.9zM211.5 1222.7l-.4-2.9 5 .1-7.8-11-4.5 12.7 4.8-1.4 .4 2.9zM244.5 1222.7l-.4-2.9 5 .1-7.9-11-4.5 12.7 4.8-1.4 .4 2.9zM277.5 1222.7l-.4-2.9 5 .1-7.9-11-4.5 12.7 4.8-1.4 .4 2.9zM310.5 1222.7l-.4-2.9 5 .1-7.9-11-4.5 12.7 4.8-1.4 .4 2.9zM343.5 1222.7l-.5-2.9 5 .1-7.8-11-4.5 12.7 4.8-1.4 .4 2.9zM376.4 1222.7l-.4-2.9 5 .1-7.9-11-4.4 12.7 4.7-1.4 .5 2.9zM409.4 1222.7l-.4-2.9 5 .1-7.9-11-4.5 12.7 4.8-1.4 .4 2.9zM442.4 1222.7l-.4-2.9 5 .1-7.9-11-4.5 12.7 4.8-1.4 .4 2.9zM475.4 1222.7l-.5-2.9 5 .1-7.8-11-4.5 12.7 4.8-1.4 .4 2.9zM508.3 1222.7l-.4-2.9 5 .1-7.9-11-4.4 12.7 4.7-1.4 .5 2.9zM541.3 1222.7l-.4-2.9 5 .1-7.9-11-4.5 12.7 4.8-1.4 .4 2.9zM77.6 1228.6l-.4-2.9 5 .1-7.9-11-4.5 12.7 4.8-1.4 .4 2.9zM110.6 1228.6l-.5-2.9 5 .1-7.8-11-4.5 12.7 4.8-1.4 .4 2.9zM143.5 1228.6l-.4-2.9 5 .1-7.8-11-4.5 12.7 4.7-1.4 .5 2.9zM176.5 1228.6l-.4-2.9 5 .1-7.9-11-4.5 12.7 4.8-1.4 .4 2.9zM209.5 1228.6l-.4-2.9 5 .1-7.9-11-4.5 12.7 4.8-1.4 .4 2.9zM242.5 1228.6l-.4-2.9 5 .1-7.9-11-4.5 12.7 4.8-1.4 .4 2.9zM275.4 1228.6l-.4-2.9 5 .1-7.8-11-4.5 12.7 4.8-1.4 .4 2.9zM308.4 1228.6l-.4-2.9 5 .1-7.9-11-4.4 12.7 4.7-1.4 .4 2.9zM341.4 1228.6l-.4-2.9 5 .1-7.9-11-4.5 12.7 4.8-1.4 .4 2.9zM374.4 1228.6l-.4-2.9 5 .1-7.9-11-4.5 12.7 4.8-1.4 .4 2.9zM407.4 1228.6l-.5-2.9 5 .1-7.8-11-4.5 12.7 4.8-1.4 .4 2.9zM440.3 1228.6l-.4-2.9 5 .1-7.9-11-4.4 12.7 4.7-1.4 .5 2.9zM473.3 1228.6l-.4-2.9 5 .1-7.9-11-4.5 12.7 4.8-1.4 .4 2.9zM506.3 1228.6l-.4-2.9 5 .1-7.9-11-4.5 12.7 4.8-1.4 .4 2.9zM539.3 1228.6l-.5-2.9 5 .1-7.8-11-4.5 12.7 4.8-1.4 .4 2.9zM575.2 1227.8l0-.8 5 .8-6.3-12-6.2 12 4.9-.8 0 .8zM607.9 1226.3l0-.6 3.7 .6-4.7-9-4.7 9 3.7-.6 0 .6zM640.3 1223.8l0-.3 1.7 .3-2.1-4-2.1 4 1.7-.3 0 .3zM674.5 1222l-.2-.1 .6-1.2-3.5 .6 2.5 2.6 .2-1.3 .2 0zM707.5 1222l-.2-.1 .6-1.2-3.5 .6 2.4 2.6 .3-1.3 .1 0zM740.4 1222l-.2-.1 .7-1.2-3.6 .6 2.5 2.6 .2-1.3 .2 0zM773.1 1221.8l-.6 1.1-1.3 0-.7-1.1 .7-1.1 1.3 0zM806.1 1221.8l-.7 1.1-1.3 0-.6-1.1 .6-1.1 1.3 0zM839.1 1221.8l-.7 1.1-1.3 0-.6-1.1 .6-1.1 1.3 0zM872 1221.8l-.6 1.1-1.3 0-.7-1.1 .7-1.1 1.3 0zM904.8 1226.8l0-.7 4.1 .7-5.2-10-5.2 10 4.1-.7 0 .7zM937.9 1227.5l0-.7 4.8 .7-6-11.5-6 11.5 4.7-.7 0 .7zM971 1228l0-1.3 4.9 .8-6.2-12-6.3 12 5-.8 0 1.3zM1003.9 1228.3l0-1.8 5 .8-6.3-12-6.2 12 4.9-.8 0 1.8zM1036.9 1228.3l0-1.8 5 .8-6.3-12-6.2 12 4.9-.8 0 1.8zM1069.7 1226.8l0-.7 4.1 .7-5.2-10-5.2 10 4.1-.7 0 .7zM81.4 1228.6l-.4-2.9 5 .1-7.9-11-4.5 12.7 4.8-1.4 .4 2.9zM114.4 1228.6l-.4-2.9 5 .1-7.9-11-4.5 12.7 4.8-1.4 .4 2.9zM147.4 1228.6l-.5-2.9 5 .1-7.8-11-4.5 12.7 4.8-1.4 .4 2.9zM180.3 1228.6l-.4-2.9 5 .1-7.8-11-4.5 12.7 4.7-1.4 .5 2.9zM213.3 1228.6l-.4-2.9 5 .1-7.9-11-4.5 12.7 4.8-1.4 .4 2.9zM246.3 1228.6l-.4-2.9 5 .1-7.9-11-4.5 12.7 4.8-1.4 .4 2.9zM279.3 1228.6l-.4-2.9 5 .1-7.9-11-4.5 12.7 4.8-1.4 .4 2.9zM312.2 1228.6l-.4-2.9 5 .1-7.8-11-4.5 12.7 4.8-1.4 .4 2.9zM345.2 1228.6l-.4-2.9 5 .1-7.9-11-4.4 12.7 4.7-1.4 .5 2.9zM378.2 1228.6l-.4-2.9 5 .1-7.9-11-4.5 12.7 4.8-1.4 .4 2.9zM411.2 1228.6l-.4-2.9 5 .1-7.9-11-4.5 12.7 4.8-1.4 .4 2.9zM444.2 1228.6l-.5-2.9 5 .1-7.8-11-4.5 12.7 4.8-1.4 .4 2.9zM477.1 1228.6l-.4-2.9 5 .1-7.9-11-4.4 12.7 4.7-1.4 .5 2.9zM510.1 1228.6l-.4-2.9 5 .1-7.9-11-4.5 12.7 4.8-1.4 .4 2.9zM543.1 1228.6l-.4-2.9 5 .1-7.9-11-4.5 12.7 4.8-1.4 .4 2.9z"/>
<rect x="79.3" y="731" width="989.3" height="490.9" class="fr"/>
<line x1="68.8" y1="1147.75" x2="79.3" y2="1147.75" class="tk"/>
<line x1="68.8" y1="1071.80" x2="79.3" y2="1071.80" class="tk"/>
<line x1="68.8" y1="995.85" x2="79.3" y2="995.85" class="tk"/>
<line x1="68.8" y1="919.90" x2="79.3" y2="919.90" class="tk"/>
<line x1="68.8" y1="843.95" x2="79.3" y2="843.95" class="tk"/>
<line x1="68.8" y1="768.00" x2="79.3" y2="768.00" class="tk"/>
<line x1="79.30" y1="1221.9" x2="79.30" y2="1231.9" class="tk"/>
<line x1="244.18" y1="1221.9" x2="244.18" y2="1231.9" class="tk"/>
<line x1="409.07" y1="1221.9" x2="409.07" y2="1231.9" class="tk"/>
<line x1="573.95" y1="1221.9" x2="573.95" y2="1231.9" class="tk"/>
<line x1="738.83" y1="1221.9" x2="738.83" y2="1231.9" class="tk"/>
<line x1="903.72" y1="1221.9" x2="903.72" y2="1231.9" class="tk"/>
<line x1="1068.60" y1="1221.9" x2="1068.60" y2="1231.9" class="tk"/>
<rect x="1080.4" y="1167.36" width="24.8" height="55.04" fill="#4b64d5"/>
<rect x="1080.4" y="1112.81" width="24.8" height="55.04" fill="#6f92f3"/>
<rect x="1080.4" y="1058.27" width="24.8" height="55.04" fill="#97b8ff"/>
<rect x="1080.4" y="1003.72" width="24.8" height="55.04" fill="#bcd2f7"/>
<rect x="1080.4" y="949.18" width="24.8" height="55.04" fill="#dddcdc"/>
<rect x="1080.4" y="894.63" width="24.8" height="55.04" fill="#f3c8b2"/>
<rect x="1080.4" y="840.09" width="24.8" height="55.04" fill="#f6a586"/>
<rect x="1080.4" y="785.54" width="24.8" height="55.04" fill="#e7745b"/>
<rect x="1080.4" y="731.00" width="24.8" height="55.04" fill="#c83836"/>
<rect x="1080.4" y="731" width="24.8" height="490.9" class="fr"/>
<line x1="1105.2" y1="1221.90" x2="1115.2" y2="1221.90" class="tk"/>
<line x1="1105.2" y1="1167.36" x2="1115.2" y2="1167.36" class="tk"/>
<line x1="1105.2" y1="1112.81" x2="1115.2" y2="1112.81" class="tk"/>
<line x1="1105.2" y1="1058.27" x2="1115.2" y2="1058.27" class="tk"/>
<line x1="1105.2" y1="1003.72" x2="1115.2" y2="1003.72" class="tk"/>
<line x1="1105.2" y1="949.18" x2="1115.2" y2="949.18" class="tk"/>
<line x1="1105.2" y1="894.63" x2="1115.2" y2="894.63" class="tk"/>
<line x1="1105.2" y1="840.09" x2="1115.2" y2="840.09" class="tk"/>
<line x1="1105.2" y1="785.54" x2="1115.2" y2="785.54" class="tk"/>
<line x1="1105.2" y1="731.00" x2="1115.2" y2="731.00" class="tk"/>
<g clip-path="url(#cp11)">
<rect x="1323.2" y="731" width="989.3" height="490.9" fill="#e7745b"/>
<path d="M1318.2 726 L1318.2 1185.5 L1323.2 1185.5 L1331.4 1185.5 L1339.7 1185.5 L1347.9 1185.4 L1356.2 1185.4 L1364.4 1185.4 L1372.7 1185.3 L1380.9 1185.3 L1389.2 1185.3 L1397.4 1185.3 L1405.6 1185.2 L1413.9 1185.2 L1422.1 1185.2 L1430.4 1185.2 L1438.6 1185.2 L1446.9 1185.1 L1455.1 1185.1 L1463.4 1185.1 L1471.6 1185 L1479.8 1185 L1488.1 1185 L1496.3 1185 L1504.6 1185 L1512.8 1184.9 L1521.1 1184.9 L1529.3 1184.9 L1537.5 1184.8 L1545.8 1184.8 L1554 1184.8 L1562.3 1184.8 L1570.5 1184.8 L1578.8 1184.7 L1587 1184.7 L1595.3 1184.7 L1603.5 1184.7 L1611.7 1184.6 L1620 1184.6 L1628.2 1184.6 L1636.5 1184.5 L1644.7 1184.5 L1653 1184.5 L1661.2 1184.5 L1669.5 1184.5 L1677.7 1184.4 L1685.9 1184.4 L1694.2 1184.4 L1702.4 1184.3 L1710.7 1184.3 L1718.9 1184.3 L1727.2 1184.3 L1735.4 1184.2 L1743.7 1184.2 L1751.9 1184.2 L1760.1 1184.2 L1768.4 1184.2 L1776.6 1184.1 L1784.9 1184.1 L1793.1 1184.1 L1801.4 1184 L1809.6 1184 L1817.8 1184 L1826.1 1184 L1834.3 1184 L1842.6 1183.9 L1850.8 1183.9 L1859.1 1183.9 L1867.3 1183.8 L1875.6 1183.8 L1883.8 1183.8 L1892 1183.8 L1900.3 1183.8 L1908.5 1183.7 L1916.8 1183.7 L1925 1183.7 L1933.3 1183.7 L1941.5 1183.6 L1949.8 1183.6 L1958 1183.6 L1966.2 1183.5 L1974.5 1183.5 L1982.7 1183.5 L1991 1183.5 L1999.2 1183.5 L2007.5 1183.4 L2015.7 1183.4 L2024 1183.4 L2032.2 1183.3 L2040.4 1183.3 L2048.7 1183.3 L2056.9 1183.3 L2065.2 1183.2 L2073.4 1183.2 L2081.7 1183.2 L2089.9 1183.2 L2098.2 1183.2 L2106.4 1183.1 L2114.6 1183.1 L2122.9 1183.1 L2131.1 1183 L2139.4 1183 L2147.6 1183 L2155.9 1183 L2164.1 1183 L2172.3 1182.9 L2180.6 1182.9 L2188.8 1182.9 L2197.1 1182.8 L2205.3 1182.8 L2213.6 1182.8 L2221.8 1182.8 L2230.1 1182.8 L2238.3 1182.7 L2246.5 1182.7 L2254.8 1182.7 L2263 1182.7 L2271.3 1182.6 L2279.5 1182.6 L2287.8 1182.6 L2296 1182.5 L2304.3 1182.5 L2312.5 1182.5 L2317.5 1182.5 L2317.5 726 Z" fill="#f6a586"/>
<path d="M1318.2 726 L1318.2 1145.3 L1323.2 1145.3 L1331.4 1145.3 L1339.7 1145.3 L1347.9 1145.2 L1356.2 1145.2 L1364.4 1145.2 L1372.7 1145.2 L1380.9 1145.1 L1389.2 1145.1 L1397.4 1145.1 L1405.6 1145.1 L1413.9 1145.1 L1422.1 1145 L1430.4 1145 L1438.6 1145 L1446.9 1145 L1455.1 1145 L1463.4 1144.9 L1471.6 1144.9 L1479.8 1144.9 L1488.1 1144.9 L1496.3 1144.8 L1504.6 1144.8 L1512.8 1144.8 L1521.1 1144.8 L1529.3 1144.8 L1537.5 1144.7 L1545.8 1144.7 L1554 1144.7 L1562.3 1144.7 L1570.5 1144.7 L1578.8 1144.6 L1587 1144.6 L1595.3 1144.6 L1603.5 1144.6 L1611.7 1144.5 L1620 1144.5 L1628.2 1144.5 L1636.5 1144.5 L1644.7 1144.5 L1653 1144.4 L1661.2 1144.4 L1669.5 1144.4 L1677.7 1144.4 L1685.9 1144.3 L1694.2 1144.3 L1702.4 1144.3 L1710.7 1144.3 L1718.9 1144.3 L1727.2 1144.2 L1735.4 1144.2 L1743.7 1144.2 L1751.9 1144.2 L1760.1 1144.2 L1768.4 1144.1 L1776.6 1144.1 L1784.9 1144.1 L1793.1 1144.1 L1801.4 1144 L1809.6 1144 L1817.8 1144 L1826.1 1144 L1834.3 1143.9 L1842.6 1143.9 L1850.8 1143.9 L1859.1 1143.8 L1867.3 1143.8 L1875.6 1143.8 L1883.8 1143.7 L1892 1143.7 L1900.3 1143.7 L1908.5 1143.6 L1916.8 1143.6 L1925 1143.6 L1933.3 1143.5 L1941.5 1143.5 L1949.8 1143.5 L1958 1143.4 L1966.2 1143.4 L1974.5 1143.4 L1982.7 1143.3 L1991 1143.3 L1999.2 1143.3 L2007.5 1143.2 L2015.7 1143.2 L2024 1143.2 L2032.2 1143.1 L2040.4 1143.1 L2048.7 1143.1 L2056.9 1143 L2065.2 1143 L2073.4 1143 L2081.7 1142.9 L2089.9 1142.9 L2098.2 1142.9 L2106.4 1142.8 L2114.6 1142.8 L2122.9 1142.8 L2131.1 1142.7 L2139.4 1142.7 L2147.6 1142.7 L2155.9 1142.6 L2164.1 1142.6 L2172.3 1142.6 L2180.6 1142.5 L2188.8 1142.5 L2197.1 1142.5 L2205.3 1142.4 L2213.6 1142.4 L2221.8 1142.4 L2230.1 1142.3 L2238.3 1142.3 L2246.5 1142.3 L2254.8 1142.2 L2263 1142.2 L2271.3 1142.2 L2279.5 1142.1 L2287.8 1142.1 L2296 1142.1 L2304.3 1142 L2312.5 1142 L2317.5 1142 L2317.5 726 Z" fill="#f3c8b2"/>
<path d="M1318.2 726 L1318.2 1109.5 L1323.2 1109.5 L1331.4 1109.5 L1339.7 1109.5 L1347.9 1109.5 L1356.2 1109.5 L1364.4 1109.6 L1372.7 1109.6 L1380.9 1109.6 L1389.2 1109.6 L1397.4 1109.6 L1405.6 1109.6 L1413.9 1109.6 L1422.1 1109.7 L1430.4 1109.7 L1438.6 1109.7 L1446.9 1109.7 L1455.1 1109.7 L1463.4 1109.7 L1471.6 1109.7 L1479.8 1109.7 L1488.1 1109.8 L1496.3 1109.8 L1504.6 1109.8 L1512.8 1109.8 L1521.1 1109.8 L1529.3 1109.8 L1537.5 1109.8 L1545.8 1109.8 L1554 1109.8 L1562.3 1109.9 L1570.5 1109.9 L1578.8 1109.9 L1587 1109.9 L1595.3 1109.9 L1603.5 1109.9 L1611.7 1109.9 L1620 1110 L1628.2 1110 L1636.5 1110 L1644.7 1110 L1653 1110 L1661.2 1110 L1669.5 1110 L1677.7 1110 L1685.9 1110 L1694.2 1110.1 L1702.4 1110.1 L1710.7 1110.1 L1718.9 1110.1 L1727.2 1110.1 L1735.4 1110.1 L1743.7 1110.1 L1751.9 1110.2 L1760.1 1110.2 L1768.4 1110.2 L1776.6 1110.2 L1784.9 1110.2 L1793.1 1110.2 L1801.4 1110.2 L1809.6 1110.2 L1817.8 1110.2 L1826.1 1110.3 L1834.3 1110.3 L1842.6 1110.3 L1850.8 1110.3 L1859.1 1110.3 L1867.3 1110.3 L1875.6 1110.3 L1883.8 1110.3 L1892 1110.4 L1900.3 1110.4 L1908.5 1110.4 L1916.8 1110.4 L1925 1110.4 L1933.3 1110.4 L1941.5 1110.4 L1949.8 1110.5 L1958 1110.5 L1966.2 1110.5 L1974.5 1110.5 L1982.7 1110.5 L1991 1110.5 L1999.2 1110.5 L2007.5 1110.5 L2015.7 1110.5 L2024 1110.6 L2032.2 1110.6 L2040.4 1110.6 L2048.7 1110.6 L2056.9 1110.6 L2065.2 1110.6 L2073.4 1110.6 L2081.7 1110.7 L2089.9 1110.7 L2098.2 1110.7 L2106.4 1110.7 L2114.6 1110.7 L2122.9 1110.7 L2131.1 1110.7 L2139.4 1110.7 L2147.6 1110.8 L2155.9 1110.8 L2164.1 1110.8 L2172.3 1110.8 L2180.6 1110.8 L2188.8 1110.8 L2197.1 1110.8 L2205.3 1110.8 L2213.6 1110.8 L2221.8 1110.9 L2230.1 1110.9 L2238.3 1110.9 L2246.5 1110.9 L2254.8 1110.9 L2263 1110.9 L2271.3 1110.9 L2279.5 1111 L2287.8 1111 L2296 1111 L2304.3 1111 L2312.5 1111 L2317.5 1111 L2317.5 726 Z" fill="#dddcdc"/>
<path d="M1318.2 726 L1318.2 1081.5 L1323.2 1081.5 L1331.4 1081.5 L1339.7 1081.5 L1347.9 1081.5 L1356.2 1081.6 L1364.4 1081.6 L1372.7 1081.6 L1380.9 1081.6 L1389.2 1081.6 L1397.4 1081.7 L1405.6 1081.7 L1413.9 1081.7 L1422.1 1081.7 L1430.4 1081.7 L1438.6 1081.7 L1446.9 1081.8 L1455.1 1081.8 L1463.4 1081.8 L1471.6 1081.8 L1479.8 1081.8 L1488.1 1081.8 L1496.3 1081.8 L1504.6 1081.9 L1512.8 1081.9 L1521.1 1081.9 L1529.3 1081.9 L1537.5 1081.9 L1545.8 1082 L1554 1082 L1562.3 1082 L1570.5 1082 L1578.8 1082 L1587 1082 L1595.3 1082 L1603.5 1082.1 L1611.7 1082.1 L1620 1082.1 L1628.2 1082.1 L1636.5 1082.1 L1644.7 1082.2 L1653 1082.2 L1661.2 1082.2 L1669.5 1082.2 L1677.7 1082.2 L1685.9 1082.2 L1694.2 1082.2 L1702.4 1082.3 L1710.7 1082.3 L1718.9 1082.3 L1727.2 1082.3 L1735.4 1082.3 L1743.7 1082.3 L1751.9 1082.4 L1760.1 1082.4 L1768.4 1082.4 L1776.6 1082.4 L1784.9 1082.4 L1793.1 1082.5 L1801.4 1082.5 L1809.6 1082.5 L1817.8 1082.5 L1826.1 1082.6 L1834.3 1082.6 L1842.6 1082.7 L1850.8 1082.7 L1859.1 1082.8 L1867.3 1082.8 L1875.6 1082.9 L1883.8 1082.9 L1892 1083 L1900.3 1083 L1908.5 1083.1 L1916.8 1083.1 L1925 1083.2 L1933.3 1083.2 L1941.5 1083.3 L1949.8 1083.4 L1958 1083.4 L1966.2 1083.5 L1974.5 1083.5 L1982.7 1083.6 L1991 1083.6 L1999.2 1083.7 L2007.5 1083.7 L2015.7 1083.8 L2024 1083.8 L2032.2 1083.9 L2040.4 1083.9 L2048.7 1084 L2056.9 1084 L2065.2 1084.1 L2073.4 1084.2 L2081.7 1084.2 L2089.9 1084.3 L2098.2 1084.3 L2106.4 1084.4 L2114.6 1084.4 L2122.9 1084.5 L2131.1 1084.5 L2139.4 1084.6 L2147.6 1084.6 L2155.9 1084.7 L2164.1 1084.7 L2172.3 1084.8 L2180.6 1084.8 L2188.8 1084.9 L2197.1 1085 L2205.3 1085 L2213.6 1085.1 L2221.8 1085.1 L2230.1 1085.2 L2238.3 1085.2 L2246.5 1085.3 L2254.8 1085.3 L2263 1085.4 L2271.3 1085.4 L2279.5 1085.5 L2287.8 1085.5 L2296 1085.6 L2304.3 1085.6 L2312.5 1085.7 L2317.5 1085.7 L2317.5 726 Z" fill="#bcd2f7"/>
<path d="M1318.2 726 L1318.2 1053 L1323.2 1053 L1331.4 1053 L1339.7 1053 L1347.9 1053 L1356.2 1053.1 L1364.4 1053.1 L1372.7 1053.1 L1380.9 1053.1 L1389.2 1053.1 L1397.4 1053.2 L1405.6 1053.2 L1413.9 1053.2 L1422.1 1053.2 L1430.4 1053.2 L1438.6 1053.2 L1446.9 1053.2 L1455.1 1053.3 L1463.4 1053.3 L1471.6 1053.3 L1479.8 1053.3 L1488.1 1053.3 L1496.3 1053.3 L1504.6 1053.4 L1512.8 1053.4 L1521.1 1053.4 L1529.3 1053.4 L1537.5 1053.4 L1545.8 1053.5 L1554 1053.5 L1562.3 1053.5 L1570.5 1053.5 L1578.8 1053.5 L1587 1053.5 L1595.3 1053.5 L1603.5 1053.6 L1611.7 1053.6 L1620 1053.6 L1628.2 1053.6 L1636.5 1053.6 L1644.7 1053.7 L1653 1053.7 L1661.2 1053.7 L1669.5 1053.7 L1677.7 1053.7 L1685.9 1053.7 L1694.2 1053.8 L1702.4 1053.8 L1710.7 1053.8 L1718.9 1053.8 L1727.2 1053.8 L1735.4 1053.8 L1743.7 1053.8 L1751.9 1053.9 L1760.1 1053.9 L1768.4 1053.9 L1776.6 1053.9 L1784.9 1053.9 L1793.1 1054 L1801.4 1054 L1809.6 1054 L1817.8 1054 L1826.1 1054 L1834.3 1054.1 L1842.6 1054.1 L1850.8 1054.2 L1859.1 1054.2 L1867.3 1054.2 L1875.6 1054.3 L1883.8 1054.3 L1892 1054.4 L1900.3 1054.4 L1908.5 1054.5 L1916.8 1054.5 L1925 1054.5 L1933.3 1054.6 L1941.5 1054.6 L1949.8 1054.7 L1958 1054.7 L1966.2 1054.8 L1974.5 1054.8 L1982.7 1054.8 L1991 1054.9 L1999.2 1054.9 L2007.5 1055 L2015.7 1055 L2024 1055 L2032.2 1055.1 L2040.4 1055.1 L2048.7 1055.2 L2056.9 1055.2 L2065.2 1055.2 L2073.4 1055.3 L2081.7 1055.3 L2089.9 1055.4 L2098.2 1055.4 L2106.4 1055.5 L2114.6 1055.5 L2122.9 1055.5 L2131.1 1055.6 L2139.4 1055.6 L2147.6 1055.7 L2155.9 1055.7 L2164.1 1055.8 L2172.3 1055.8 L2180.6 1055.8 L2188.8 1055.9 L2197.1 1055.9 L2205.3 1056 L2213.6 1056 L2221.8 1056 L2230.1 1056.1 L2238.3 1056.1 L2246.5 1056.2 L2254.8 1056.2 L2263 1056.2 L2271.3 1056.3 L2279.5 1056.3 L2287.8 1056.4 L2296 1056.4 L2304.3 1056.5 L2312.5 1056.5 L2317.5 1056.5 L2317.5 726 Z" fill="#97b8ff"/>
<path d="M1318.2 726 L1318.2 1026.5 L1323.2 1026.5 L1331.4 1026.5 L1339.7 1026.5 L1347.9 1026.6 L1356.2 1026.6 L1364.4 1026.6 L1372.7 1026.7 L1380.9 1026.7 L1389.2 1026.7 L1397.4 1026.7 L1405.6 1026.8 L1413.9 1026.8 L1422.1 1026.8 L1430.4 1026.8 L1438.6 1026.8 L1446.9 1026.9 L1455.1 1026.9 L1463.4 1026.9 L1471.6 1027 L1479.8 1027 L1488.1 1027 L1496.3 1027 L1504.6 1027 L1512.8 1027.1 L1521.1 1027.1 L1529.3 1027.1 L1537.5 1027.2 L1545.8 1027.2 L1554 1027.2 L1562.3 1027.2 L1570.5 1027.2 L1578.8 1027.3 L1587 1027.3 L1595.3 1027.3 L1603.5 1027.3 L1611.7 1027.4 L1620 1027.4 L1628.2 1027.4 L1636.5 1027.5 L1644.7 1027.5 L1653 1027.5 L1661.2 1027.5 L1669.5 1027.5 L1677.7 1027.6 L1685.9 1027.6 L1694.2 1027.6 L1702.4 1027.7 L1710.7 1027.7 L1718.9 1027.7 L1727.2 1027.7 L1735.4 1027.8 L1743.7 1027.8 L1751.9 1027.8 L1760.1 1027.8 L1768.4 1027.8 L1776.6 1027.9 L1784.9 1027.9 L1793.1 1027.9 L1801.4 1028 L1809.6 1028 L1817.8 1028 L1826.1 1028.2 L1834.3 1028.3 L1842.6 1028.5 L1850.8 1028.7 L1859.1 1028.8 L1867.3 1029 L1875.6 1029.2 L1883.8 1029.3 L1892 1029.5 L1900.3 1029.7 L1908.5 1029.8 L1916.8 1030 L1925 1030.2 L1933.3 1030.3 L1941.5 1030.5 L1949.8 1030.7 L1958 1030.8 L1966.2 1031 L1974.5 1031.2 L1982.7 1031.3 L1991 1031.5 L1999.2 1031.7 L2007.5 1031.8 L2015.7 1032 L2024 1032.2 L2032.2 1032.3 L2040.4 1032.5 L2048.7 1032.7 L2056.9 1032.8 L2065.2 1033 L2073.4 1033.2 L2081.7 1033.3 L2089.9 1033.5 L2098.2 1033.7 L2106.4 1033.8 L2114.6 1034 L2122.9 1034.2 L2131.1 1034.3 L2139.4 1034.5 L2147.6 1034.7 L2155.9 1034.8 L2164.1 1035 L2172.3 1035.2 L2180.6 1035.3 L2188.8 1035.5 L2197.1 1035.7 L2205.3 1035.8 L2213.6 1036 L2221.8 1036.2 L2230.1 1036.3 L2238.3 1036.5 L2246.5 1036.7 L2254.8 1036.8 L2263 1037 L2271.3 1037.2 L2279.5 1037.3 L2287.8 1037.5 L2296 1037.7 L2304.3 1037.8 L2312.5 1038 L2317.5 1038 L2317.5 726 Z" fill="#6f92f3"/>
<path d="M1318.2 726 L1318.2 918.8 L1323.2 918.8 L1331.4 918.8 L1339.7 918.8 L1347.9 918.8 L1356.2 918.8 L1364.4 918.8 L1372.7 918.8 L1380.9 918.9 L1389.2 918.9 L1397.4 918.9 L1405.6 918.9 L1413.9 918.9 L1422.1 918.9 L1430.4 918.9 L1438.6 918.9 L1446.9 918.9 L1455.1 918.9 L1463.4 918.9 L1471.6 918.9 L1479.8 918.9 L1488.1 919 L1496.3 919 L1504.6 919 L1512.8 919 L1521.1 919 L1529.3 919 L1537.5 919 L1545.8 919 L1554 919 L1562.3 919 L1570.5 919 L1578.8 919 L1587 919 L1595.3 919 L1603.5 919.1 L1611.7 919.1 L1620 919.1 L1628.2 919.1 L1636.5 919.1 L1644.7 919.1 L1653 919.1 L1661.2 919.1 L1669.5 919.1 L1677.7 919.1 L1685.9 919.1 L1694.2 919.1 L1702.4 919.1 L1710.7 919.2 L1718.9 919.2 L1727.2 919.2 L1735.4 919.2 L1743.7 919.2 L1751.9 919.2 L1760.1 919.2 L1768.4 919.2 L1776.6 919.2 L1784.9 919.2 L1793.1 919.2 L1801.4 919.2 L1809.6 919.2 L1817.8 919.2 L1826.1 919.3 L1834.3 919.3 L1842.6 919.3 L1850.8 919.3 L1859.1 919.3 L1867.3 919.3 L1875.6 919.3 L1883.8 919.3 L1892 919.3 L1900.3 919.3 L1908.5 919.3 L1916.8 919.3 L1925 919.3 L1933.3 919.4 L1941.5 919.4 L1949.8 919.4 L1958 919.4 L1966.2 919.4 L1974.5 919.4 L1982.7 919.4 L1991 919.4 L1999.2 919.4 L2007.5 919.4 L2015.7 919.4 L2024 919.4 L2032.2 919.4 L2040.4 919.5 L2048.7 919.5 L2056.9 919.5 L2065.2 919.5 L2073.4 919.5 L2081.7 919.5 L2089.9 919.5 L2098.2 919.5 L2106.4 919.5 L2114.6 919.5 L2122.9 919.5 L2131.1 919.5 L2139.4 919.5 L2147.6 919.5 L2155.9 919.6 L2164.1 919.6 L2172.3 919.6 L2180.6 919.6 L2188.8 919.6 L2197.1 919.6 L2205.3 919.6 L2213.6 919.6 L2221.8 919.6 L2230.1 919.6 L2238.3 919.6 L2246.5 919.6 L2254.8 919.6 L2263 919.7 L2271.3 919.7 L2279.5 919.7 L2287.8 919.7 L2296 919.7 L2304.3 919.7 L2312.5 919.7 L2317.5 919.7 L2317.5 726 Z" fill="#97b8ff"/>
<path d="M1318.2 726 L1318.2 842.3 L1323.2 842.3 L1331.4 842.2 L1339.7 842.1 L1347.9 842.1 L1356.2 842 L1364.4 841.9 L1372.7 841.9 L1380.9 841.8 L1389.2 841.7 L1397.4 841.6 L1405.6 841.5 L1413.9 841.5 L1422.1 841.4 L1430.4 841.3 L1438.6 841.2 L1446.9 841.2 L1455.1 841.1 L1463.4 841 L1471.6 841 L1479.8 840.9 L1488.1 840.8 L1496.3 840.7 L1504.6 840.6 L1512.8 840.6 L1521.1 840.5 L1529.3 840.4 L1537.5 840.4 L1545.8 840.3 L1554 840.2 L1562.3 840.1 L1570.5 840 L1578.8 840 L1587 839.9 L1595.3 840 L1603.5 840.2 L1611.7 840.3 L1620 840.4 L1628.2 840.6 L1636.5 840.7 L1644.7 840.8 L1653 840.9 L1661.2 841.1 L1669.5 841.2 L1677.7 841.3 L1685.9 841.5 L1694.2 841.6 L1702.4 841.7 L1710.7 841.9 L1718.9 842 L1727.2 842.1 L1735.4 842.3 L1743.7 842.4 L1751.9 842.5 L1760.1 842.6 L1768.4 842.8 L1776.6 842.9 L1784.9 843 L1793.1 843.2 L1801.4 843.3 L1809.6 843.4 L1817.8 843.6 L1826.1 843.7 L1834.3 843.8 L1842.6 844 L1850.8 844.1 L1859.1 844.2 L1867.3 844.4 L1875.6 844.5 L1883.8 844.6 L1892 844.8 L1900.3 844.9 L1908.5 845 L1916.8 845.2 L1925 845.3 L1933.3 845.4 L1941.5 845.6 L1949.8 845.7 L1958 845.8 L1966.2 846 L1974.5 846.1 L1982.7 846.2 L1991 846.4 L1999.2 846.5 L2007.5 846.6 L2015.7 846.8 L2024 846.9 L2032.2 847 L2040.4 847.2 L2048.7 847.3 L2056.9 847.4 L2065.2 847.5 L2073.4 847.6 L2081.7 847.7 L2089.9 847.8 L2098.2 848 L2106.4 848.1 L2114.6 848.2 L2122.9 848.3 L2131.1 848.4 L2139.4 848.5 L2147.6 848.6 L2155.9 848.7 L2164.1 848.8 L2172.3 848.9 L2180.6 849 L2188.8 849.2 L2197.1 849.3 L2205.3 849.4 L2213.6 849.5 L2221.8 849.6 L2230.1 849.7 L2238.3 849.8 L2246.5 849.9 L2254.8 850 L2263 850.1 L2271.3 850.3 L2279.5 850.4 L2287.8 850.5 L2296 850.6 L2304.3 850.7 L2312.5 850.8 L2317.5 850.8 L2317.5 726 Z" fill="#bcd2f7"/>
<path d="M1318.2 726 L1318.2 815 L1323.2 815 L1331.4 815 L1339.7 815 L1347.9 815 L1356.2 815 L1364.4 815 L1372.7 815 L1380.9 814.9 L1389.2 814.9 L1397.4 814.9 L1405.6 814.9 L1413.9 814.9 L1422.1 814.9 L1430.4 814.9 L1438.6 814.9 L1446.9 814.9 L1455.1 814.9 L1463.4 814.9 L1471.6 814.9 L1479.8 814.8 L1488.1 814.8 L1496.3 814.8 L1504.6 814.8 L1512.8 814.8 L1521.1 814.8 L1529.3 814.8 L1537.5 814.8 L1545.8 814.8 L1554 814.8 L1562.3 814.8 L1570.5 814.8 L1578.8 814.7 L1587 814.7 L1595.3 814.7 L1603.5 814.7 L1611.7 814.7 L1620 814.7 L1628.2 814.7 L1636.5 814.7 L1644.7 814.7 L1653 814.7 L1661.2 814.7 L1669.5 814.6 L1677.7 814.6 L1685.9 814.6 L1694.2 814.6 L1702.4 814.6 L1710.7 814.6 L1718.9 814.6 L1727.2 814.6 L1735.4 814.6 L1743.7 814.6 L1751.9 814.6 L1760.1 814.6 L1768.4 814.5 L1776.6 814.5 L1784.9 814.5 L1793.1 814.5 L1801.4 814.5 L1809.6 814.5 L1817.8 814.5 L1826.1 814.5 L1834.3 814.5 L1842.6 814.5 L1850.8 814.5 L1859.1 814.5 L1867.3 814.5 L1875.6 814.4 L1883.8 814.4 L1892 814.4 L1900.3 814.4 L1908.5 814.4 L1916.8 814.4 L1925 814.4 L1933.3 814.4 L1941.5 814.4 L1949.8 814.4 L1958 814.4 L1966.2 814.4 L1974.5 814.3 L1982.7 814.3 L1991 814.3 L1999.2 814.3 L2007.5 814.3 L2015.7 814.3 L2024 814.3 L2032.2 814.3 L2040.4 814.3 L2048.7 814.3 L2056.9 814.3 L2065.2 814.2 L2073.4 814.2 L2081.7 814.2 L2089.9 814.2 L2098.2 814.2 L2106.4 814.2 L2114.6 814.2 L2122.9 814.2 L2131.1 814.2 L2139.4 814.2 L2147.6 814.2 L2155.9 814.2 L2164.1 814.1 L2172.3 814.1 L2180.6 814.1 L2188.8 814.1 L2197.1 814.1 L2205.3 814.1 L2213.6 814.1 L2221.8 814.1 L2230.1 814.1 L2238.3 814.1 L2246.5 814.1 L2254.8 814.1 L2263 814 L2271.3 814 L2279.5 814 L2287.8 814 L2296 814 L2304.3 814 L2312.5 814 L2317.5 814 L2317.5 726 Z" fill="#dddcdc"/>
<path d="M1318.2 726 L1318.2 763.3 L1323.2 763.3 L1331.4 763.3 L1339.7 763.3 L1347.9 763.4 L1356.2 763.4 L1364.4 763.4 L1372.7 763.4 L1380.9 763.4 L1389.2 763.4 L1397.4 763.5 L1405.6 763.5 L1413.9 763.5 L1422.1 763.5 L1430.4 763.5 L1438.6 763.5 L1446.9 763.6 L1455.1 763.6 L1463.4 763.6 L1471.6 763.6 L1479.8 763.6 L1488.1 763.6 L1496.3 763.7 L1504.6 763.7 L1512.8 763.7 L1521.1 763.7 L1529.3 763.7 L1537.5 763.8 L1545.8 763.8 L1554 763.8 L1562.3 763.8 L1570.5 763.8 L1578.8 763.8 L1587 763.9 L1595.3 763.9 L1603.5 763.9 L1611.7 763.9 L1620 763.9 L1628.2 763.9 L1636.5 764 L1644.7 764 L1653 764 L1661.2 764.2 L1669.5 764.4 L1677.7 764.6 L1685.9 764.8 L1694.2 765 L1702.4 765.2 L1710.7 765.4 L1718.9 765.6 L1727.2 765.8 L1735.4 766 L1743.7 766.2 L1751.9 766.4 L1760.1 766.6 L1768.4 766.8 L1776.6 767 L1784.9 767.2 L1793.1 767.4 L1801.4 767.6 L1809.6 767.8 L1817.8 768 L1826.1 768.1 L1834.3 768.1 L1842.6 768.2 L1850.8 768.3 L1859.1 768.4 L1867.3 768.5 L1875.6 768.5 L1883.8 768.6 L1892 768.7 L1900.3 768.8 L1908.5 768.8 L1916.8 768.9 L1925 769 L1933.3 769 L1941.5 769.1 L1949.8 769.2 L1958 769.3 L1966.2 769.4 L1974.5 769.4 L1982.7 769.5 L1991 769.6 L1999.2 769.6 L2007.5 769.7 L2015.7 769.8 L2024 769.9 L2032.2 770 L2040.4 770 L2048.7 770.1 L2056.9 770.2 L2065.2 770.2 L2073.4 770.3 L2081.7 770.4 L2089.9 770.5 L2098.2 770.5 L2106.4 770.6 L2114.6 770.7 L2122.9 770.8 L2131.1 770.9 L2139.4 770.9 L2147.6 771 L2155.9 771.1 L2164.1 771.1 L2172.3 771.2 L2180.6 771.3 L2188.8 771.4 L2197.1 771.5 L2205.3 771.5 L2213.6 771.6 L2221.8 771.7 L2230.1 771.8 L2238.3 771.8 L2246.5 771.9 L2254.8 772 L2263 772 L2271.3 772.1 L2279.5 772.2 L2287.8 772.3 L2296 772.4 L2304.3 772.4 L2312.5 772.5 L2317.5 772.5 L2317.5 726 Z" fill="#f3c8b2"/>
</g>
<path clip-path="url(#cp11)" d="M1323.2 771.5l-114.9 3.2 .7-5-11.8 6.6 12.1 5.9-.9-4.9 114.8-3.2zM1356.1 771.5l-114.7 3.4 .7-4.9-11.8 6.5 12.1 5.9-.9-4.9 114.7-3.4zM1389.1 771.5l-114.6 3.6 .7-4.9-11.8 6.6 12.2 5.9-1-5 114.6-3.6zM1422.1 771.5l-114.5 3.9 .6-5-11.7 6.6 12.2 5.9-1-4.9 114.5-3.9zM1455.1 771.5l-114.4 4.1 .6-5-11.7 6.7 12.2 5.8-1-4.9 114.4-4.1zM1488 771.5l-114 4.6 .5-5-11.7 6.7 12.2 5.8-.9-4.9 114-4.6zM1521 771.5l-113.8 5 .5-5-11.6 6.8 12.2 5.7-1-4.9 113.8-5zM1554 771.5l-112.4 5.7 .6-5-11.7 6.8 12.3 5.7-1-4.9 112.3-5.7zM1586.9 771.5l-110.8 6.4 .5-5-11.6 6.9 12.3 5.5-1.1-4.8 110.9-6.4zM1619.9 771.5l-108.6 7.1 .5-5-11.6 7 12.4 5.4-1.1-4.8 108.6-7.1zM1652.9 771.5l-106.4 7.8 .4-5-11.4 7.1 12.4 5.4-1.2-4.9 106.4-7.8zM1685.8 771.5l-104.8 8.4 .4-5-11.5 7.2 12.5 5.3-1.2-4.9 104.8-8.4zM1718.8 771.5l-103.8 8.7 .3-5-11.4 7.2 12.5 5.3-1.2-4.9 103.8-8.7zM1751.8 771.5l-102.9 9 .4-5-11.4 7.3 12.5 5.2-1.3-4.9 102.9-9zM1784.8 771.5l-103.2 9.3 .3-5-11.4 7.3 12.5 5.1-1.2-4.8 103.2-9.3zM1817.7 771.5l-103.5 9.5 .3-5-11.3 7.3 12.5 5.2-1.3-4.9 103.6-9.5zM1850.7 771.5l-103.9 9.8 .4-5-11.4 7.3 12.5 5.1-1.2-4.9 103.8-9.7zM1883.7 771.5l-105.9 10 .3-5-11.3 7.3 12.5 5.1-1.2-4.8 105.8-10zM1916.7 771.5l-107.9 10.2 .3-4.9-11.3 7.3 12.5 5.1-1.3-4.9 107.9-10.2zM1949.6 771.5l-113.8 10.6 .3-5-11.3 7.3 12.4 5.1-1.2-4.8 113.9-10.6zM1982.6 771.5l-115.5 11 .3-5-11.3 7.4 12.5 5-1.3-4.8 115.6-11zM2015.6 771.5l-117.2 11.5 .3-5-11.3 7.3 12.5 5.1-1.3-4.9 117.2-11.4zM2048.6 771.5l-118.9 11.9 .3-5-11.3 7.4 12.5 5-1.3-4.8 118.9-11.9zM2081.5 771.5l-120.3 12.4 .2-5-11.2 7.4 12.5 5-1.3-4.8 120.4-12.4zM2114.5 771.5l-121.9 12.8 .3-5-11.3 7.5 12.6 5-1.3-4.9 121.9-12.8zM2147.5 771.5l-123.4 13.3 .2-5-11.2 7.5 12.6 4.9-1.3-4.8 123.4-13.3zM2180.5 771.5l-124.9 13.8 .2-5-11.2 7.5 12.6 4.9-1.4-4.8 124.9-13.8zM2213.4 771.5l-126 13.5 .2-5-11.2 7.5 12.6 4.9-1.3-4.8 126-13.5zM2246.4 771.5l-127.2 13.2 .3-5-11.3 7.4 12.6 5-1.3-4.8 127.2-13.2zM2279.4 771.5l-128.4 12.9 .3-5-11.3 7.4 12.5 5-1.2-4.8 128.4-12.9zM2312.4 771.5l-128.8 12.9 .3-5-11.3 7.4 12.5 5-1.3-4.8 128.8-12.9zM2345.3 771.5l-129.2 12.9 .3-5-11.3 7.4 12.6 5-1.3-4.8 129.2-12.9zM2378.3 771.5l-129.6 12.9 .3-5-11.3 7.4 12.5 5-1.2-4.8 129.6-12.9zM2411.3 771.5l-130 12.9 .2-5-11.2 7.4 12.5 5-1.3-4.8 130.1-12.9zM2444.3 771.5l-130.5 12.9 .3-5-11.3 7.4 12.5 5-1.2-4.8 130.4-12.9zM2477.3 771.5l-130.9 12.9 .3-5-11.3 7.4 12.5 5-1.3-4.8 130.9-12.9zM1323.2 810.5l-94.8 0 .8-4.9-12 6.2 12 6.2-.8-4.9 94.8 0zM1356.2 810.5l-95.4-.3 .8-4.9-12 6.2 11.9 6.3-.7-5 95.4 .3zM1389.2 810.5l-96.1-.5 .8-5-11.9 6.2 11.9 6.3-.8-4.9 96 .5zM1422.1 810.5l-96.6-.8 .8-4.9-12 6.1 11.9 6.3-.7-4.9 96.6 .8zM1455.1 810.5l-97.2-1.1 .8-4.9-12 6.1 11.9 6.4-.7-5 97.2 1.1zM1488.1 810.5l-97.8-1.3 .8-5-12 6.1 11.9 6.4-.8-4.9 97.9 1.3zM1521.1 810.5l-98.4-1.6 .8-4.9-12 6 11.8 6.4-.7-4.9 98.4 1.6zM1554.1 810.5l-99.1-1.9 .9-4.9-12.1 6 11.9 6.5-.7-5 99 1.9zM1587 810.5l-99.6-2.2 .9-4.9-12.1 6 11.8 6.5-.6-5 99.6 2.2zM1620 810.5l-100.2-2.4 .9-4.9-12.1 5.9 11.8 6.5-.7-4.9 100.3 2.4zM1653 810.5l-100.8-2.7 .9-4.9-12.1 5.9 11.8 6.6-.7-5 100.8 2.7zM1686 810.5l-100.8-3.1 .9-4.9-12.2 5.9 11.8 6.6-.6-5 100.8 3.1zM1719 810.5l-100.9-3.4 1-4.9-12.2 5.8 11.8 6.6-.7-4.9 100.9 3.4zM1751.9 810.5l-100.8-3.8 1-4.9-12.2 5.8 11.7 6.7-.6-5 100.8 3.8zM1784.9 810.5l-100.8-4.1 1-4.9-12.2 5.7 11.7 6.7-.6-4.9 100.8 4.1zM1817.9 810.5l-100.8-4.5 1-4.9-12.3 5.7 11.7 6.8-.5-5 100.8 4.5zM1850.9 810.5l-98.4-4.8 1-4.9-12.3 5.6 11.7 6.8-.6-5 98.5 4.9zM1883.9 810.5l-96.1-5.2 1.1-4.9-12.3 5.6 11.6 6.9-.5-5 96 5.2zM1916.9 810.5l-93.7-5.5 1.1-4.9-12.3 5.5 11.6 6.9-.5-4.9 93.6 5.5zM1949.8 810.5l-91.2-5.9 1.1-4.9-12.3 5.5 11.5 7-.5-5 91.3 5.9zM1982.8 810.5l-88.8-6.2 1.1-4.9-12.4 5.4 11.5 7.1-.4-5 88.8 6.2zM2015.8 810.5l-87.2-6.8 1.2-4.9-12.4 5.3 11.4 7.2-.4-5 87.2 6.8zM2048.8 810.5l-85.5-7.4 1.2-4.8-12.5 5.2 11.4 7.2-.4-5 85.6 7.4zM2081.8 810.5l-83.9-7.9 1.3-4.9-12.5 5.1 11.3 7.3-.3-5 83.8 8zM2114.8 810.5l-80.9-8.3 1.3-4.9-12.6 5 11.3 7.4-.3-5 80.9 8.4zM2147.8 810.5l-77.9-8.7 1.3-4.9-12.6 4.9 11.2 7.5-.2-5 77.9 8.8zM2180.7 810.5l-77.9-8.7 1.4-4.9-12.6 4.9 11.2 7.5-.2-5 77.8 8.8zM2213.7 810.5l-77.9-8.7 1.4-4.9-12.6 4.9 11.2 7.5-.3-5 77.9 8.8zM2246.7 810.5l-77.9-8.7 1.3-4.9-12.6 4.9 11.2 7.5-.2-5 77.9 8.8zM2279.7 810.5l-77.9-8.7 1.3-4.9-12.6 4.9 11.2 7.5-.2-5 77.9 8.8zM2312.6 810.5l-77.8-8.7 1.3-4.9-12.6 4.9 11.2 7.5-.2-5 77.9 8.8zM2345.6 810.5l-77.9-8.7 1.4-4.9-12.6 4.9 11.2 7.5-.3-5 77.9 8.8zM2378.6 810.5l-77.9-8.7 1.3-4.9-12.5 4.9 11.1 7.5-.2-5 77.9 8.8zM2411.6 810.5l-77.9-8.7 1.3-4.9-12.6 4.9 11.2 7.5-.2-5 77.9 8.8zM2444.6 810.5l-77.9-8.7 1.3-4.9-12.6 4.9 11.2 7.5-.2-5 77.9 8.8zM2477.5 810.5l-77.9-8.7 1.4-4.9-12.6 4.9 11.2 7.5-.3-5 77.9 8.8zM1323.2 868.5l-37.8 0 .8-4.9-12 6.2 12 6.2-.8-4.9 37.8 0zM1356.2 868.5l-37.8 .1 .7-5-11.9 6.3 11.9 6.2-.7-4.9 37.8-.1zM1389.1 868.5l-37.8 .1 .8-4.9-11.9 6.2 11.9 6.2-.8-4.9 37.9-.1zM1422.1 868.5l-37.8 .2 .8-5-12 6.3 12 6.2-.8-4.9 37.8-.2zM1455.1 868.5l-37.8 .2 .7-4.9-11.9 6.3 12 6.1-.8-4.9 37.8-.2zM1488.1 868.5l-37.8 .3 .7-5-11.9 6.3 12 6.2-.8-4.9 37.8-.3zM1521 868.5l-37.8 .3 .8-4.9-11.9 6.3 12 6.1-.8-4.9 37.8-.3zM1554 868.5l-37.8 .4 .7-5-11.9 6.4 12.1 6.1-.9-4.9 37.8-.4zM1587 868.5l-37.8 .4 .7-4.9-11.9 6.3 12 6.1-.8-4.9 37.8-.4zM1620 868.5l-37.8 .5 .7-5-11.9 6.4 12 6.1-.8-4.9 37.8-.5zM1652.9 868.5l-37.8 .5 .7-4.9-11.8 6.4 12 6-.8-4.9 37.8-.5zM1685.9 868.5l-37.8 .6 .7-5-11.9 6.4 12.1 6.1-.9-4.9 37.9-.6zM1718.9 868.5l-37.8 .6 .7-4.9-11.9 6.4 12.1 6-.9-4.9 37.8-.6zM1751.9 868.5l-37.8 .7 .6-5-11.8 6.5 12.1 6-.9-4.9 37.8-.7zM1784.8 868.5l-37.8 .7 .7-4.9-11.8 6.4 12 6-.8-4.9 37.8-.7zM1817.8 868.5l-37.8 .8 .7-5-11.9 6.5 12.1 6-.8-4.9 37.8-.8zM1850.8 868.5l-37.4 .6 .7-4.9-11.9 6.4 12.1 6-.9-4.9 37.4-.6zM1883.8 868.5l-37 .5 .7-5-11.9 6.4 12 6.1-.8-4.9 37-.5zM1916.8 868.5l-36.7 .3 .8-4.9-11.9 6.3 12 6.1-.8-4.9 36.6-.3zM1949.8 868.5l-36.3 .2 .8-5-11.9 6.3 11.9 6.2-.8-4.9 36.3-.2zM1982.7 868.5l-35.8 0 .8-4.9-12 6.2 12 6.2-.8-4.9 35.8 0zM2015.7 868.5l-35.2-.1 .8-4.9-12 6.2 12 6.3-.8-5 35.2 .1zM2048.7 868.5l-34.6-.2 .8-4.9-12 6.2 11.9 6.3-.7-5 34.6 .2zM2081.7 868.5l-34-.2 .8-5-12 6.2 11.9 6.3-.8-4.9 34.1 .2zM2114.7 868.5l-33.5-.3 .9-4.9-12.1 6.1 11.9 6.3-.7-4.9 33.4 .3zM2147.6 868.5l-32.8-.4 .8-4.9-12 6.1 11.9 6.4-.7-5 32.8 .4zM2180.6 868.5l-32.4-.4 .8-4.9-12 6 11.9 6.4-.7-4.9 32.4 .4zM2213.6 868.5l-32-.4 .8-5-12 6.1 11.8 6.4-.7-4.9 32.1 .4zM2246.6 868.5l-31.7-.5 .9-4.9-12.1 6 11.9 6.5-.7-5 31.6 .5zM2279.5 868.5l-31.2-.5 .9-4.9-12.1 6 11.9 6.4-.7-4.9 31.2 .5zM2312.5 868.5l-30.8-.6 .9-4.9-12.1 6 11.8 6.5-.6-5 30.8 .6zM2345.5 868.5l-30.4-.6 .9-4.9-12.1 6 11.8 6.5-.7-5 30.5 .6zM2378.5 868.5l-30-.6 .8-4.9-12 5.9 11.8 6.5-.7-4.9 30 .6zM2411.5 868.5l-29.7-.7 .9-4.9-12.1 6 11.8 6.5-.6-5 29.6 .7zM2444.4 868.5l-29.2-.7 .9-4.9-12.1 5.9 11.8 6.6-.6-5 29.2 .7zM2477.4 868.5l-28.8-.7 .9-4.9-12.1 5.9 11.8 6.5-.7-4.9 28.9 .7zM1323.2 928l-26.8 0 .8-4.9-12 6.2 12 6.2-.8-4.9 26.8 0zM1356.2 928l-26.6 0 .7-5-11.9 6.2 11.9 6.3-.7-4.9 26.6 0zM1389.2 928l-26.5-.1 .8-4.9-11.9 6.2 11.9 6.3-.8-5 26.4 .1zM1422.1 928l-26.2-.1 .8-4.9-12 6.1 12 6.3-.8-4.9 26.2 .1zM1455.1 928l-26-.1 .8-5-12 6.2 11.9 6.3-.7-4.9 26 .1zM1488.1 928l-25.8-.2 .8-4.9-12 6.1 11.9 6.4-.7-5 25.8 .2zM1521.1 928l-25.6-.2 .8-4.9-12 6.1 11.9 6.3-.8-4.9 25.6 .2zM1554 928l-25.4-.2 .9-5-12.1 6.1 11.9 6.4-.7-4.9 25.4 .2zM1587 928l-25.2-.3 .8-4.9-12 6.1 11.9 6.4-.7-5 25.2 .3zM1620 928l-25-.3 .8-4.9-12 6 11.9 6.4-.7-4.9 25 .3zM1653 928l-24.8-.3 .8-5-12 6.1 11.8 6.4-.7-4.9 24.8 .3zM1686 928l-23.3-.5 .9-4.9-12.1 6 11.9 6.5-.7-5 23.2 .5zM1719 928l-21.7-.6 .9-4.9-12.1 5.9 11.8 6.6-.6-5 21.6 .6zM1751.9 928l-20-.7 1-4.9-12.2 5.8 11.7 6.7-.6-5 20.1 .7zM1784.9 928l-18.4-.8 1-4.9-12.2 5.7 11.6 6.8-.5-5 18.4 .8zM1817.9 928l-16.8-.9 1-4.9-12.3 5.6 11.7 6.9-.6-5 16.9 .9zM1850.9 928l-16.6-1 1-4.9-12.3 5.5 11.6 7-.5-5 16.6 1zM1883.9 928l-16.5-1.1 1.2-4.9-12.4 5.4 11.5 7-.4-4.9 16.4 1.1zM1916.9 928l-16.3-1.2 1.2-4.9-12.4 5.3 11.4 7.1-.4-4.9 16.3 1.2zM1949.9 928l-16.1-1.4 1.2-4.8-12.4 5.2 11.3 7.2-.3-5 16 1.4zM1982.9 928l-15.9-1.5 1.2-4.8-12.5 5.1 11.4 7.3-.4-5 15.9 1.5zM2015.8 928l-15.6-1.6 1.2-4.8-12.5 5 11.3 7.4-.3-5 15.7 1.6zM2048.8 928l-15.5-1.7 1.4-4.8-12.6 4.9 11.2 7.5-.2-5 15.4 1.7zM2081.8 928l-15.3-1.8 1.4-4.8-12.6 4.8 11.1 7.6-.2-5 15.3 1.8zM2114.8 928l-15.1-1.9 1.4-4.8-12.7 4.7 11.1 7.7-.1-5 15.1 1.9zM2147.8 928l-14.9-2 1.4-4.8-12.7 4.6 11 7.8-.1-5 14.9 2zM2180.8 928l-14.8-2.1 1.5-4.8-12.7 4.5 10.9 7.9 0-5 14.7 2.1zM2213.8 928l-14.6-2.2 1.5-4.8-12.7 4.4 10.9 8-.1-5 14.6 2.2zM2246.8 928l-14.4-2.3 1.5-4.8-12.8 4.3 10.9 8.1 0-5 14.3 2.3zM2279.7 928l-14.1-2.4 1.6-4.7-12.9 4.1 10.8 8.2 0-5 14.2 2.4zM2312.7 928l-14-2.5 1.7-4.7-12.9 4 10.7 8.3 .1-5 14 2.5zM2345.7 928l-14-2.5 1.7-4.7-12.9 4 10.6 8.3 .1-5 14 2.5zM2378.7 928l-14-2.5 1.6-4.7-12.8 4 10.6 8.3 .1-5 14 2.5zM2411.7 928l-14-2.5 1.6-4.7-12.9 4 10.7 8.3 .1-5 14 2.5zM2444.6 928l-14-2.5 1.7-4.7-12.9 4 10.7 8.3 .1-5 14 2.5zM2477.6 928l-14-2.5 1.7-4.7-12.9 4 10.6 8.3 .2-5 14 2.5zM1324.3 983l-7.1-9.8 4.5-2.3-12-6.1 1.8 13.4 3.6-3.5 7 9.9zM1357.2 983.1l-6.6-9.8 4.5-2.2-11.9-6.3 1.6 13.4 3.6-3.4 6.7 9.7zM1390.3 983.1l-5.7-9.4 4.7-1.9-11.5-7 .8 13.5 3.8-3.2 5.6 9.4zM1423.2 983.1l-4.2-7.1 4.6-1.8-11.5-7.1 .8 13.5 3.9-3.2 4.2 7.1zM1456.3 983.2l-3.4-6.7 4.8-1.5-10.9-7.9-.3 13.5 4.1-2.9 3.3 6.7zM1489.3 983.3l-2.4-5.3 4.8-1.4-10.6-8.3-.8 13.5 4.2-2.8 2.4 5.3zM1522.3 983.4l-1.4-3.8 4.9-1-9.9-9.1-1.8 13.4 4.4-2.4 1.3 3.7zM1555.3 983.4l-.7-2.2 5-.7-9.4-9.7-2.6 13.2 4.5-2.1 .7 2.3zM1588.1 983.6l-.1-.7 4.2-.1-7.2-9-3.2 11 4-1.4 .1 .6zM1621 983.7l0-.6 3.9 .3-5.6-9.1-4.3 9.9 3.9-.9 .1 .6zM1653.7 983.8l0-.5 2.9 .5-3.6-7-3.7 7 2.9-.5 0 .5zM1686.5 983.8l0-.3 2.1 .3-2.7-5-2.6 5 2.1-.3 0 .3zM1719.2 983.8l0-.2 1.3 .2-1.6-3-1.5 3 1.2-.2 0 .2zM1753.2 983.8l-.7 1.1-1.3 0-.6-1.1 .6-1.1 1.3 0zM1786.2 983.8l-.7 1.1-1.3 0-.6-1.1 .6-1.1 1.3 0zM1819.1 983.8l-.6 1.1-1.3 0-.7-1.1 .7-1.1 1.3 0zM1852.1 983.8l-.6 1.1-1.3 0-.7-1.1 .7-1.1 1.3 0zM1885.1 983.8l-.6 1.1-1.3 0-.7-1.1 .7-1.1 1.3 0zM1918.1 983.8l-.7 1.1-1.3 0-.6-1.1 .6-1.1 1.3 0zM1951.1 983.8l-.7 1.1-1.3 0-.6-1.1 .6-1.1 1.3 0zM1984 983.8l-.6 1.1-1.3 0-.7-1.1 .7-1.1 1.3 0zM2017 983.8l-.6 1.1-1.3 0-.7-1.1 .7-1.1 1.3 0zM2050 983.8l-.7 1.1-1.3 0-.6-1.1 .6-1.1 1.3 0zM2083 983.8l-.7 1.1-1.3 0-.6-1.1 .6-1.1 1.3 0zM2115.9 983.8l-.6 1.1-1.3 0-.7-1.1 .7-1.1 1.3 0zM2148.9 983.8l-.6 1.1-1.3 0-.7-1.1 .7-1.1 1.3 0zM2181.9 983.8l-.7 1.1-1.3 0-.6-1.1 .6-1.1 1.3 0zM2214.9 983.8l-.7 1.1-1.3 0-.6-1.1 .6-1.1 1.3 0zM2247.8 983.8l-.6 1.1-1.3 0-.7-1.1 .7-1.1 1.3 0zM2280.8 983.8l-.6 1.1-1.3 0-.7-1.1 .7-1.1 1.3 0zM2312 983.8l0 .3-2.1-.3 2.6 5 2.6-5-2.1 .3 0-.3zM1192.6 1018.4l1.9-20.8 4.9 1.2-5.1-12.5-7.3 11.3 5-.3-2 20.9zM1225.6 1018.4l1.9-20.8 4.9 1.2-5.1-12.5-7.4 11.3 5-.3-1.9 20.9zM1258.5 1018.4l2-20.8 4.8 1.2-5.1-12.5-7.3 11.3 5-.3-1.9 20.9zM1291.5 1018.4l2-20.8 4.8 1.2-5.1-12.5-7.3 11.3 5-.3-2 20.9zM1324.5 1018.4l2-20.8 4.8 1.2-5.1-12.5-7.3 11.3 5-.3-2 20.9zM1357.5 1018.5l3.1-22.2 4.8 1.4-4.5-12.7-7.9 11 5-.1-3.1 22.2zM1390.4 1018.7l5.6-19.1 4.6 2.1-2.6-13.2-9.4 9.7 4.9 .7-5.6 19zM1423.3 1018.8l7.1-17.1 4.3 2.6-1.2-13.4-10.3 8.6 4.8 1.2-7.1 17.1zM1456.2 1018.9l7.7-14 3.9 3.1 .3-13.5-11.2 7.5 4.7 1.7-7.6 14zM1489 1019.2l10.6-11.7 3.1 3.9 3.4-13.1-12.7 4.7 4.2 2.7-10.5 11.7zM1521.9 1019.3l12.7-11.5 2.8 4.2 4.7-12.7-13.1 3.4 3.9 3.1-12.7 11.5zM1554.8 1019.4l14.5-10.3 2.2 4.5 6.1-12-13.3 1.8 3.5 3.6-14.5 10.2zM1587.7 1019.4l16.7-9.8 1.9 4.6 7.1-11.4-13.5 .7 3.2 3.8-16.7 9.9zM1620.6 1019.5l18.9-9.4 1.5 4.8 8-10.9-13.5-.3 2.9 4.1-19 9.3zM1653.5 1019.5l20.2-8.6 1.2 4.8 8.6-10.4-13.5-1.1 2.7 4.3-20.2 8.6zM1686.4 1019.5l19.5-7.8 1.1 4.9 8.7-10.3-13.4-1.3 2.6 4.3-19.4 7.8zM1719.3 1019.5l18.3-6.3 .9 4.9 9.2-9.8-13.3-2 2.3 4.4-18.2 6.4zM1752.3 1019.5l17.4-5.9 .9 5 9.3-9.8-13.3-2.1 2.3 4.5-17.4 5.9zM1785.2 1019.6l16.2-4.2 .5 4.9 10-9-13.2-3 2 4.5-16.2 4.2zM1818 1019.6l16.3-1.9-.2 5 11.1-7.5-12.5-4.9 1.3 4.9-16.3 1.8zM1850.9 1019.6l16.3-1.1-.5 5 11.5-7.1-12.3-5.4 1.1 4.9-16.3 1.1zM1883.8 1019.6l15.1-.4-.7 5 11.8-6.6-12.1-5.9 .9 4.9-15 .4zM1916.7 1019.6l15.1 .6-1 4.9 12.2-5.8-11.7-6.7 .6 5-15.1-.6zM1949.6 1019.6l13.9 1.3-1.2 4.9 12.5-5.1-11.4-7.4 .4 5-13.9-1.3zM1982.5 1019.6l15.2 2.8-1.7 4.7 12.9-4-10.6-8.3-.1 5-15.2-2.8zM2015.4 1019.6l15.4 4.1-2.1 4.6 13.2-2.9-9.9-9.2-.5 5-15.4-4.2zM2048.3 1019.5l16.8 5.9-2.4 4.4 13.4-2-9.3-9.8-.9 4.9-16.8-5.8zM2081.1 1019.5l17.2 7.4-2.7 4.3 13.5-1-8.5-10.5-1.3 4.9-17.1-7.5zM2114 1019.4l17.6 9.5-3 4 13.4 .2-7.5-11.2-1.7 4.7-17.5-9.4zM2147 1019.4l18.9 11.1-3.2 3.9 13.5 .6-7.2-11.4-1.8 4.6-18.9-11zM2179.9 1019.4l21.4 12.3-3.2 3.9 13.5 .6-7.2-11.4-1.8 4.7-21.4-12.3zM2212.9 1019.4l22.4 12.8-3.1 3.9 13.5 .5-7.3-11.3-1.8 4.6-22.4-12.7zM2245.9 1019.4l21.2 11.4-3 4 13.4 .2-7.5-11.2-1.7 4.8-21.1-11.4zM2278.9 1019.4l18.8 10.2-3.1 4 13.5 .2-7.5-11.2-1.7 4.7-18.8-10.1zM2311.9 1019.4l17.2 9.6-3.1 3.9 13.5 .4-7.4-11.3-1.7 4.7-17.3-9.5zM1192.5 1044.7l5-17.3 4.5 2.1-2.7-13.2-9.3 9.8 5 .6-5 17.2zM1225.5 1044.7l4.9-17.3 4.6 2.1-2.7-13.2-9.3 9.8 4.9 .6-4.9 17.2zM1258.5 1044.7l4.9-17.3 4.6 2.1-2.8-13.2-9.2 9.8 4.9 .6-4.9 17.2zM1291.5 1044.7l4.9-17.3 4.5 2.1-2.7-13.2-9.3 9.8 5 .6-4.9 17.2zM1324.4 1044.7l5-17.3 4.5 2.1-2.7-13.2-9.3 9.8 5 .6-4.9 17.2zM1357.4 1044.7l6.9-19.2 4.4 2.4-1.8-13.4-9.9 9.1 4.9 1-6.9 19.3zM1390.4 1044.8l8.2-20.6 4.3 2.5-1.3-13.4-10.3 8.8 4.9 1.1-8.3 20.6zM1423.3 1044.8l9.4-21.7 4.2 2.7-1-13.5-10.4 8.5 4.8 1.3-9.4 21.7zM1456.3 1044.9l10.5-21 4 2.9-.2-13.5-10.9 7.9 4.7 1.5-10.5 21zM1489.2 1045l12-19.1 3.8 3.2 1.1-13.4-11.7 6.8 4.6 2-12 19.1zM1522.1 1045.1l13.9-17.3 3.4 3.7 2.7-13.2-12.4 5.4 4.3 2.5-14 17.3zM1555 1045.2l15.7-15.8 2.9 4 4-12.9-12.8 4.1 4 2.9-15.7 15.9zM1587.8 1045.3l15.5-12.8 2.5 4.3 5.2-12.5-13.2 2.9 3.8 3.3-15.4 12.8zM1620.7 1045.4l15.9-9.7 1.9 4.6 7-11.5-13.5 .9 3.3 3.8-16 9.7zM1653.5 1045.5l15.6-7.3 1.4 4.8 8.2-10.7-13.5-.6 2.8 4.2-15.6 7.2zM1686.4 1045.5l15.6-6 1 4.9 8.9-10.1-13.4-1.5 2.5 4.3-15.5 6zM1719.3 1045.5l16.9-5 .7 4.9 9.6-9.4-13.2-2.5 2.1 4.5-16.9 5.1zM1752.2 1045.6l17.2-4.3 .4 5 10.1-9-13.1-3.2 1.9 4.7-17.1 4.2zM1785.1 1045.6l17.3-2.9 0 5 10.8-8.2-12.9-4.2 1.6 4.8-17.2 2.9zM1818.1 1045.6l14.9-2.5 .1 5 10.7-8.1-12.8-4.2 1.6 4.7-15 2.5zM1851 1045.6l13.9-1.7-.2 5 11.1-7.7-12.6-4.7 1.4 4.8-13.9 1.7zM1883.9 1045.6l12.7-1-.4 5 11.4-7.2-12.4-5.3 1.2 4.9-12.7 1zM1916.8 1045.6l12.7-.6-.6 4.9 11.7-6.8-12.3-5.6 1 4.9-12.6 .6zM1949.8 1045.6l10.2-.2-.7 4.9 11.9-6.5-12.1-6 .8 5-10.2 .2zM1982.7 1045.6l9 .5-1.1 4.9 12.3-5.5-11.5-6.9 .5 4.9-9.1-.5zM2015.6 1045.6l6.8 .4-1.1 4.9 12.3-5.4-11.5-7 .4 5-6.7-.5zM2048.2 1045.5l8.6 3.2-2.5 4.4 13.4-1.7-9-10-1 4.9-8.6-3.2zM2081.1 1045.4l10.3 5.5-3 4 13.5 .1-7.7-11.1-1.6 4.7-10.3-5.4zM2113.8 1045.3l11.4 8.7-3.6 3.5 13.2 2.3-5.6-12.2-2.4 4.4-11.4-8.7zM2146.7 1045.2l13.3 12.6-4 3 13 3.7-4.4-12.7-2.8 4.1-13.3-12.5zM2179.6 1045.1l13.3 17.3-4.4 2.4 12.3 5.7-2.4-13.3-3.4 3.7-13.4-17.4zM2212.5 1045l13 20.4-4.6 2 11.7 6.7-1.2-13.4-3.7 3.3-13-20.4zM2245.5 1045.1l15.5 18.8-4.3 2.5 12.4 5.3-2.7-13.2-3.4 3.7-15.5-18.7zM2278.6 1045.2l19.3 18.5-3.9 3 12.9 3.8-4.3-12.8-2.9 4.1-19.3-18.4zM2311.6 1045.2l18.9 18.3-3.9 3 12.9 3.8-4.3-12.8-2.9 4.1-18.9-18.2zM1192.3 1067.1l10.5-12.7 3.3 3.7 2.8-13.2-12.4 5.3 4.3 2.5-10.5 12.8zM1225.3 1067.1l10.5-12.7 3.3 3.7 2.8-13.2-12.4 5.3 4.3 2.5-10.5 12.8zM1258.3 1067.1l10.4-12.7 3.4 3.7 2.7-13.2-12.4 5.3 4.3 2.5-10.5 12.8zM1291.2 1067.1l10.5-12.7 3.3 3.7 2.8-13.2-12.4 5.3 4.3 2.5-10.5 12.8zM1324.2 1067.1l10.5-12.7 3.3 3.7 2.8-13.2-12.4 5.3 4.3 2.5-10.5 12.8zM1357.1 1067.2l10.5-11.7 3.2 3.9 3.3-13.1-12.6 4.8 4.2 2.7-10.5 11.6zM1390 1067.3l11.3-10.4 2.8 4.2 4.6-12.7-13.1 3.5 3.9 3.1-11.2 10.3zM1423 1067.3l10-8.3 2.5 4.3 5.2-12.5-13.2 2.9 3.8 3.3-10 8.3zM1455.9 1067.4l10.9-7.8 2.2 4.4 6.1-12-13.4 1.9 3.6 3.5-10.9 7.8zM1488.8 1067.4l11-7 2 4.6 6.8-11.7-13.5 1.1 3.3 3.8-11 7zM1521.7 1067.5l11-5.7 1.5 4.8 7.9-11-13.5-.1 2.9 4-11 5.6zM1554.6 1067.5l10.8-4.9 1.3 4.8 8.3-10.6-13.4-.8 2.7 4.2-10.8 4.9zM1587.4 1067.5l11.1-3.5 .7 4.9 9.5-9.6-13.3-2.3 2.3 4.5-11.1 3.6zM1620.3 1067.6l11.2-3.1 .6 5 9.9-9.2-13.2-2.9 2.1 4.6-11.3 3zM1653.3 1067.6l11.2-3.1 .6 5 9.9-9.2-13.2-2.9 2 4.6-11.2 3zM1686.3 1067.6l10.5-2.6 .4 5 10.1-8.9-13.1-3.2 2 4.6-10.6 2.5zM1719.2 1067.6l10.8-2.4 .3 5 10.3-8.7-13-3.5 1.8 4.6-10.8 2.4zM1752.2 1067.6l10.1-2.3 .3 4.9 10.3-8.7-13.1-3.4 1.9 4.6-10.1 2.3zM1785.1 1067.6l6-1.1 .1 5 10.7-8.2-12.9-4.1 1.6 4.8-6 1zM1816.9 1066.6l.2 .6-3.9 .7 7.6 7.4 1.7-10.6-3.5 1.9-.2-.6zM1849.5 1066.3l0 .8-4.9-.8 6.2 12 6.3-12-5 .8 0-.8zM1882.5 1066.3l0 .8-4.9-.8 6.2 12 6.2-12-4.9 .8 0-.8zM1915.5 1066.3l0 .8-5-.8 6.3 12 6.2-12-4.9 .8 0-.8zM1948.5 1066.3l0 .7-4.7-.7 6 11.5 6-11.5-4.8 .7 0-.7zM1981.8 1066.6l.2 .6-4 .7 7.7 7.4 1.7-10.6-3.5 1.9-.2-.6zM2015.6 1067.4l.7 .1-1.1 4 10.5-4.2-9.5-6.2 .3 4.2-.7-.1zM2049.4 1065.8l-.3-.5 3.2-1.6-8.6-4.4 1.3 9.6 2.6-2.5 .3 .4zM2080.5 1066.8l2.9 7.6-4.9 1 10.2 8.9 1.4-13.4-4.3 2.5-2.9-7.6zM2113.4 1066.8l4.2 10.6-4.9 1.1 10.2 8.8 1.4-13.4-4.3 2.5-4.2-10.6zM2146.4 1066.9l6 12.5-4.8 1.4 10.7 8.1 .5-13.5-4.1 2.8-5.9-12.5zM2179.4 1066.9l5.7 11.4-4.7 1.5 10.9 7.9 .2-13.5-4 2.9-5.7-11.4zM2212.5 1067l5.8 8.7-4.6 2.1 11.9 6.5-1.5-13.4-3.6 3.4-5.8-8.7zM2245.5 1067.1l5.5 7.6-4.5 2.2 12 6.1-1.9-13.4-3.5 3.6-5.5-7.7zM2278.5 1067.1l6.1 7.9-4.3 2.4 12.2 5.6-2.4-13.3-3.4 3.7-6.2-7.9zM2311.5 1067.1l5.9 7.3-4.3 2.6 12.4 5.3-2.7-13.2-3.3 3.7-6-7.3zM1190.4 1100.4l.3 .6-3.6 1.5 9.2 5.4-.8-10.6-3 2.6-.3-.5zM1223.4 1100.4l.3 .6-3.6 1.5 9.2 5.4-.9-10.6-2.9 2.6-.4-.5zM1256.4 1100.4l.3 .6-3.6 1.5 9.1 5.4-.8-10.6-3 2.6-.3-.5zM1289.4 1100.4l.3 .6-3.7 1.5 9.2 5.4-.8-10.6-3 2.6-.3-.5zM1322.3 1100.4l.4 .6-3.7 1.5 9.2 5.4-.8-10.6-3 2.6-.3-.5zM1356.8 1101l4.3-2.4 1.8 4.7 7.3-11.4-13.5 .5 3.1 3.9-4.3 2.5zM1389.7 1101.1l5.7-2.5 1.3 4.8 8.5-10.5-13.5-.9 2.7 4.2-5.8 2.5zM1422.6 1101.1l6.8-2.3 .9 4.9 9.2-9.8-13.3-2 2.3 4.4-6.8 2.4zM1455.5 1101.1l8.3-2.6 .8 5 9.5-9.6-13.3-2.3 2.3 4.4-8.4 2.7zM1488.4 1101.2l8.4-2.1 .5 4.9 10.1-8.9-13.1-3.2 1.9 4.6-8.4 2.1zM1521.3 1101.2l10.2-2.3 .3 4.9 10.3-8.7-13.1-3.4 1.9 4.6-10.1 2.3zM1554.1 1101.2l8.9-.5-.5 4.9 11.5-6.9-12.3-5.5 1.1 4.9-8.8 .5zM1587 1101.2l9.3 0-.7 4.9 11.9-6.2-11.9-6.2 .7 4.9-9.3 0zM1620 1101.2l8.3 0-.8 4.9 12-6.2-12-6.2 .8 4.9-8.3 0zM1652.9 1101.2l8.6 .4-1 4.9 12.3-5.6-11.7-6.8 .6 4.9-8.7-.4zM1685.9 1101.2l8.8 .4-1 4.9 12.2-5.6-11.6-6.8 .5 4.9-8.8-.4zM1718.8 1101.2l5.9 .3-1.1 4.9 12.3-5.5-11.6-6.9 .5 4.9-5.8-.3zM1751.8 1101.2l3.9 .3-1.2 4.8 12.4-5.4-11.5-7 .4 5-3.8-.3zM1784.8 1101.2l.7 0-1.1 4.8 12.2-5.1-11.2-7.1 .3 4.9-.7-.1zM1817.7 1100.9l.6 0-1 3.7 9.5-3.7-8.4-5.7 .1 3.8-.5-.1zM1850.1 1100.2l.2 .5-3.1 .8 6.6 5.4 .7-8.6-2.7 1.7-.2-.4zM1883 1100l.1 .5-2.9-.1 4.6 6.5 2.7-7.5-2.9 .8 0-.4zM1916.9 1099.4l-.3-.1 .7-2-5.5 1.6 4.5 3.6 0-2.1 .4 0zM1949.8 1099.4l-.4 0 .4-2.1-5 2.6 5 2.6-.4-2.1 .4 0zM1982.7 1099.4l-.3 0 .3-2.1-5 2.6 5 2.6-.3-2.1 .3 0zM2015.7 1099.5l-.3 0 .3-1.7-4 2.1 4 2.1-.3-1.7 .3 0zM2048.7 1099.6l-.2 0 .2-1.3-3 1.6 3 1.6-.2-1.3 .2 0zM2083 1099.9l-.7 1.1-1.3 0-.6-1.1 .6-1.1 1.3 0zM2115.9 1099.9l-.6 1.1-1.3 0-.7-1.1 .7-1.1 1.3 0zM2148.9 1099.9l-.6 1.1-1.3 0-.7-1.1 .7-1.1 1.3 0zM2181.9 1099.9l-.7 1.1-1.3 0-.6-1.1 .6-1.1 1.3 0zM2214.9 1099.9l-.7 1.1-1.3 0-.6-1.1 .6-1.1 1.3 0zM2246.5 1099.6l-.1 0 .1-1.3-3 1.6 3 1.6-.1-1.3 .1 0zM2279.5 1099.6l-.2 0 .2-1.3-3 1.6 3 1.6-.2-1.3 .2 0zM2312.5 1099.5l-.3 0 .3-1.7-4 2.1 4 2.1-.3-1.7 .3 0zM2345.5 1099.5l-.3 0 .3-1.7-4 2.1 4 2.1-.3-1.7 .3 0zM2378.5 1099.5l-.3 0 .3-1.7-4 2.1 4 2.1-.3-1.7 .3 0zM2411.4 1099.5l-.2 0 .2-1.7-4 2.1 4 2.1-.2-1.7 .2 0zM2444.4 1099.5l-.3 0 .3-1.7-4 2.1 4 2.1-.3-1.7 .3 0zM2477.4 1099.5l-.3 0 .3-1.7-4 2.1 4 2.1-.3-1.7 .3 0zM1325.8 1125.3l-.4 0 .6-2.1-5.3 2.1 4.7 3.2-.1-2.1 .3 0zM1359.7 1125.1l-.4 0 .6-2.9-7.2 3.1 6.7 4.2-.2-2.9 .4 0zM1393.5 1124.9l-.6 0 .8-3.5-8.8 3.9 8.2 5-.3-3.6 .5 .1zM1427.1 1124.5l-.6 0 .6-4.1-10 5.2 10 5.2-.6-4.1 .6 0zM1460.4 1124.7l-.7 0 .9-4.3-10.7 4.9 10.2 6-.5-4.3 .7 0zM1493.5 1125.2l-.7-.1 1.3-4.2-11.3 3.9 9.8 7-.1-4.4 .7 .1zM1519.9 1120.1l0 .7-4.6-.7 5.8 11 5.7-11-4.5 .7 0-.7zM1552.8 1120.1l0 .7-4.5-.7 5.7 11 5.8-11-4.6 .7 0-.7zM1585.8 1120.1l0 .7-4.5-.7 5.7 11 5.8-11-4.6 .7 0-.7zM1618.8 1120.1l0 .7-4.5-.7 5.7 11 5.7-11-4.5 .7 0-.7zM1651.8 1120.1l0 .7-4.6-.7 5.8 11 5.7-11-4.5 .7 0-.7zM1684.7 1120.1l0 .7-4.5-.7 5.7 11 5.8-11-4.6 .7 0-.7zM1717.7 1120.1l0 .7-4.5-.7 5.7 11 5.8-11-4.6 .7 0-.7zM1750.7 1120.1l0 .7-4.5-.7 5.7 11 5.7-11-4.5 .7 0-.7zM1784.3 1120.7l0 .7-3.9-1.1 4 10 5.9-8.9-4 .2 .1-.6zM1820.2 1121.9l-.4 .4-2.1-2.8-2.9 9.1 9.2-2.9-2.9-2.1 .4-.3zM1854.2 1124.3l-.4 .1 0-3-6.5 4.7 7.5 2.7-.8-2.9 .4 0zM1886.3 1125.1l-.3 0 .3-2.1-5 2.6 5 2.6-.3-2.1 .3 0zM1919.3 1125.1l-.3 0 .3-2.1-5 2.6 5 2.6-.3-2.1 .3 0zM1951.1 1125.6l-.7 1.1-1.3 0-.6-1.1 .6-1.1 1.3 0zM1984 1125.6l-.6 1.1-1.3 0-.7-1.1 .7-1.1 1.3 0zM2017 1125.6l-.6 1.1-1.3 0-.7-1.1 .7-1.1 1.3 0zM2050 1125.6l-.7 1.1-1.3 0-.6-1.1 .6-1.1 1.3 0zM2083 1125.6l-.7 1.1-1.3 0-.6-1.1 .6-1.1 1.3 0zM2115.9 1125.6l-.6 1.1-1.3 0-.7-1.1 .7-1.1 1.3 0zM2148.9 1125.6l-.6 1.1-1.3 0-.7-1.1 .7-1.1 1.3 0zM2181.9 1125.6l-.7 1.1-1.3 0-.6-1.1 .6-1.1 1.3 0zM2215.3 1125.2l-.2 0 .2-1.4-3.5 1.8 3.5 1.8-.2-1.4 .2 0zM2250.5 1124.7l-.5 0 .5-3.3-8 4.2 8 4.2-.5-3.3 .5 0zM2284.3 1123.5l-.6 .1-.2-4.2-9 7.2 11.1 3.2-1.5-4 .6-.1zM2316.9 1124.1l-.6 .1 .2-3.8-8.5 5.7 9.5 3.7-1-3.7 .6 0zM2349.9 1124.1l-.6 .1 .2-3.8-8.5 5.7 9.5 3.7-1-3.7 .6 0zM2382.8 1124.1l-.5 .1 .1-3.8-8.4 5.7 9.5 3.7-1-3.7 .6 0zM2415.8 1124.1l-.6 .1 .2-3.8-8.5 5.7 9.6 3.7-1-3.7 .5 0zM2448.8 1124.1l-.6 .1 .2-3.8-8.5 5.7 9.5 3.7-1-3.7 .6 0zM2481.8 1124.1l-.6 .1 .2-3.8-8.5 5.7 9.5 3.7-1-3.7 .6 0zM1186.8 1148.1l.6 0-.6 3.7 9-4.7-9-4.7 .6 3.7-.6 0zM1219.8 1148.1l.6 0-.6 3.7 9-4.7-9-4.7 .6 3.7-.6 0zM1252.7 1148.1l.6 0-.6 3.7 9-4.7-9-4.7 .6 3.7-.6 0zM1285.7 1148.1l.6 0-.6 3.7 9-4.7-9-4.7 .6 3.7-.6 0zM1318.7 1148.1l.6 0-.6 3.7 9-4.7-9-4.7 .6 3.7-.6 0zM1351.7 1148.1l.6 0-.6 3.7 9-4.7-9-4.7 .6 3.7-.6 0zM1385.7 1148.1l.5 0-.3 2.9 6.8-4.2-7.3-3.1 .7 2.9-.5 0zM1420.1 1148.6l.3-.1 .5 1.9 3.5-4.3-5.6-.3 1.2 1.7-.3 .1zM1455.6 1149.3l0-.2 1.9 .2-2.4-4.5-2.3 4.5 1.8-.2 0 .2zM1488.6 1149.3l0-.2 1.8 .2-2.3-4.5-2.4 4.5 1.9-.2 0 .2zM1521.5 1149.1l0-.3 1.6 .3-2-4-2.1 4 1.6-.3 0 .3zM1554.4 1148.8l0-.2 1.5 .2-1.9-3.5-1.8 3.5 1.5-.2 0 .2zM1588.3 1147.1l-.6 1.1-1.3 0-.7-1.1 .7-1.1 1.3 0zM1621.3 1147.1l-.7 1.1-1.3 0-.6-1.1 .6-1.1 1.3 0zM1654.3 1147.1l-.7 1.1-1.3 0-.6-1.1 .6-1.1 1.3 0zM1687.2 1147.1l-.6 1.1-1.3 0-.7-1.1 .7-1.1 1.3 0zM1720.2 1147.1l-.6 1.1-1.3 0-.7-1.1 .7-1.1 1.3 0zM1753.2 1147.1l-.7 1.1-1.3 0-.6-1.1 .6-1.1 1.3 0zM1786.2 1147.1l-.7 1.1-1.3 0-.6-1.1 .6-1.1 1.3 0zM1817.5 1145.3l0 .3-1.5-.3 1.8 3.5 1.9-3.5-1.5 .3 0-.3zM1852.1 1147.1l-.6 1.1-1.3 0-.7-1.1 .7-1.1 1.3 0zM1885.1 1147.1l-.6 1.1-1.3 0-.7-1.1 .7-1.1 1.3 0zM1918.1 1147.1l-.7 1.1-1.3 0-.6-1.1 .6-1.1 1.3 0zM1951.1 1147.1l-.7 1.1-1.3 0-.6-1.1 .6-1.1 1.3 0zM1984 1147.1l-.6 1.1-1.3 0-.7-1.1 .7-1.1 1.3 0zM2017 1147.1l-.6 1.1-1.3 0-.7-1.1 .7-1.1 1.3 0zM2050 1147.1l-.7 1.1-1.3 0-.6-1.1 .6-1.1 1.3 0zM2083 1147.1l-.7 1.1-1.3 0-.6-1.1 .6-1.1 1.3 0zM2115 1148.8l0-.2 1.5 .2-1.9-3.5-1.8 3.5 1.5-.2 0 .2zM2148 1148.8l0-.2 1.4 .2-1.8-3.5-1.8 3.5 1.4-.2 0 .2zM2181 1149.1l0-.3 1.7 .3-2.1-4-2.1 4 1.7-.3 0 .3zM2214.8 1150.5l0-.5 2.9 .1-4.6-6.5-2.7 7.5 2.8-.8 .1 .4zM2250.8 1149.8l-.4-.4 3.3-2.5-10.7-3.3 3.4 10.7 2.4-3.4 .5 .5zM2279.6 1152.3l.1-.6 4 1.4-3.2-11-7.2 9 4.3 .1-.2 .7zM2313.2 1150.1l0-.4 2.4 .4-3.1-6-3.1 6 2.4-.4 0 .4zM1185.8 1167l.7 0-.7 4.5 11-5.7-11-5.7 .7 4.5-.7 0zM1218.8 1167l.7 0-.7 4.5 11-5.7-11-5.7 .7 4.5-.7 0zM1251.7 1167l.8 0-.8 4.5 11-5.7-11-5.7 .8 4.5-.8 0zM1284.7 1167l.7 0-.7 4.5 11-5.7-11-5.7 .7 4.5-.7 0zM1317.7 1167l.7 0-.7 4.5 11-5.7-11-5.7 .7 4.5-.7 0zM1350.7 1167l.7 0-.7 4.5 11-5.7-11-5.7 .7 4.5-.7 0zM1384.2 1166.9l.6 0-.6 4.1 9.9-5.2-9.9-5.2 .6 4.1-.6 0zM1417.2 1166.9l.6 0-.6 4.1 9.9-5.2-9.9-5.2 .6 4.1-.6 0zM1450.7 1166.8l.6 0-.6 3.6 8.8-4.6-8.8-4.6 .6 3.6-.6 0zM1483.7 1166.8l.6 0-.6 3.6 8.8-4.6-8.8-4.6 .6 3.6-.6 0zM1516.9 1166.7l.6 0-.6 3.4 8.3-4.3-8.3-4.3 .6 3.4-.6 0zM1550.2 1166.6l.5 0-.5 3.2 7.7-4-7.7-4 .5 3.2-.5 0zM1583.2 1166.6l.5 0-.5 3.2 7.7-4-7.7-4 .5 3.2-.5 0zM1617 1166.5l.4 0-.4 2.5 6-3.2-6-3.2 .4 2.5-.4 0zM1650.8 1166.3l.3 0-.3 1.8 4.4-2.3-4.4-2.3 .3 1.8-.3 0zM1687.2 1165.8l-.6 1.1-1.3 0-.7-1.1 .7-1.1 1.3 0zM1720.2 1165.8l-.6 1.1-1.3 0-.7-1.1 .7-1.1 1.3 0zM1753.2 1165.8l-.7 1.1-1.3 0-.6-1.1 .6-1.1 1.3 0zM1786.2 1165.8l-.7 1.1-1.3 0-.6-1.1 .6-1.1 1.3 0zM1819.1 1165.8l-.6 1.1-1.3 0-.7-1.1 .7-1.1 1.3 0zM1852.1 1165.8l-.6 1.1-1.3 0-.7-1.1 .7-1.1 1.3 0zM1885.1 1165.8l-.6 1.1-1.3 0-.7-1.1 .7-1.1 1.3 0zM1918.1 1165.8l-.7 1.1-1.3 0-.6-1.1 .6-1.1 1.3 0zM1951.1 1165.8l-.7 1.1-1.3 0-.6-1.1 .6-1.1 1.3 0zM1984 1165.8l-.6 1.1-1.3 0-.7-1.1 .7-1.1 1.3 0zM2017 1165.8l-.6 1.1-1.3 0-.7-1.1 .7-1.1 1.3 0zM2050 1165.8l-.7 1.1-1.3 0-.6-1.1 .6-1.1 1.3 0zM2083 1165.8l-.7 1.1-1.3 0-.6-1.1 .6-1.1 1.3 0zM2115.9 1165.8l-.6 1.1-1.3 0-.7-1.1 .7-1.1 1.3 0zM2148.9 1165.8l-.6 1.1-1.3 0-.7-1.1 .7-1.1 1.3 0zM2181.9 1165.8l-.7 1.1-1.3 0-.6-1.1 .6-1.1 1.3 0zM2213.2 1164.1l0 .3-1.4-.3 1.8 3.4 1.7-3.4-1.4 .3 0-.3zM2243.2 1166.5l.5 0-.5 2.7 6.6-3.4-6.6-3.4 .5 2.7-.5 0zM2275.7 1166.6l.5 0-.5 3.2 7.7-4-7.7-4 .5 3.2-.5 0zM2309.8 1166.4l.3 0-.3 2.3 5.4-2.9-5.4-2.9 .3 2.3-.3 0zM1323 1193.3l-.4-2.9 5 .1-7.9-11-4.5 12.7 4.8-1.4 .4 2.9zM1356 1193.3l-.5-2.9 5 .1-7.8-11-4.5 12.7 4.8-1.4 .4 2.9zM1388.9 1193.3l-.4-2.9 5 .1-7.8-11-4.5 12.7 4.7-1.4 .5 2.9zM1421.9 1193.3l-.4-2.9 5 .1-7.9-11-4.5 12.7 4.8-1.4 .4 2.9zM1454.9 1193.3l-.4-2.9 5 .1-7.9-11-4.5 12.7 4.8-1.4 .4 2.9zM1487.9 1193.3l-.4-2.9 5 .1-7.9-11-4.5 12.7 4.8-1.4 .4 2.9zM1520.8 1193.3l-.4-2.9 5 .1-7.8-11-4.5 12.7 4.8-1.4 .4 2.9zM1553.8 1193.3l-.4-2.9 5 .1-7.9-11-4.4 12.7 4.7-1.4 .4 2.9zM1586.8 1193.3l-.4-2.9 5 .1-7.9-11-4.5 12.7 4.8-1.4 .4 2.9zM1619.8 1193.3l-.4-2.9 5 .1-7.9-11-4.5 12.7 4.8-1.4 .4 2.9zM1652.8 1193.3l-.5-2.9 5 .1-7.8-11-4.5 12.7 4.8-1.4 .4 2.9zM1685.7 1193.3l-.4-2.9 5 .1-7.9-11-4.4 12.7 4.7-1.4 .5 2.9zM1718.7 1193.3l-.4-2.9 5 .1-7.9-11-4.5 12.7 4.8-1.4 .4 2.9zM1751.7 1193.3l-.4-2.9 5 .1-7.9-11-4.5 12.7 4.8-1.4 .4 2.9zM1784.7 1193.3l-.5-2.9 5 .1-7.8-11-4.5 12.7 4.8-1.4 .4 2.9zM1819.1 1192.5l0-.8 5 .8-6.3-12-6.2 12 4.9-.8 0 .8zM1851.8 1191l0-.6 3.7 .6-4.7-9-4.7 9 3.7-.6 0 .6zM1884.2 1188.5l0-.3 1.7 .3-2.1-4-2.1 4 1.7-.3 0 .3zM1918.4 1186.7l-.2-.1 .6-1.2-3.5 .6 2.5 2.6 .2-1.3 .2 0zM1951.4 1186.7l-.2-.1 .6-1.2-3.5 .6 2.4 2.6 .3-1.3 .1 0zM1984.3 1186.7l-.2-.1 .7-1.2-3.6 .6 2.5 2.6 .2-1.3 .2 0zM2017 1186.5l-.6 1.1-1.3 0-.7-1.1 .7-1.1 1.3 0zM2050 1186.5l-.7 1.1-1.3 0-.6-1.1 .6-1.1 1.3 0zM2083 1186.5l-.7 1.1-1.3 0-.6-1.1 .6-1.1 1.3 0zM2115.9 1186.5l-.6 1.1-1.3 0-.7-1.1 .7-1.1 1.3 0zM2148.7 1191.5l0-.7 4.1 .7-5.2-10-5.2 10 4.1-.7 0 .7zM2181.8 1192.2l0-.7 4.8 .7-6-11.4-6 11.4 4.7-.7 0 .7zM2214.9 1192.8l0-1.4 4.9 .8-6.2-12-6.3 12 5-.8 0 1.4zM2247.8 1193l0-1.8 5 .8-6.3-12-6.2 12 4.9-.8 0 1.8zM2280.8 1193l0-1.8 5 .8-6.3-12-6.2 12 4.9-.8 0 1.8zM2313.6 1191.5l0-.7 4.1 .7-5.2-10-5.2 10 4.1-.7 0 .7zM1320.5 1201l-.4-2.9 5 .1-7.9-11-4.5 12.7 4.8-1.4 .4 2.9zM1353.5 1201l-.5-2.9 5 .1-7.8-11-4.5 12.7 4.8-1.4 .4 2.9zM1386.4 1201l-.4-2.9 5 .1-7.8-11-4.5 12.7 4.7-1.4 .5 2.9zM1419.4 1201l-.4-2.9 5 .1-7.9-11-4.5 12.7 4.8-1.4 .4 2.9zM1452.4 1201l-.4-2.9 5 .1-7.9-11-4.5 12.7 4.8-1.4 .4 2.9zM1485.4 1201l-.4-2.9 5 .1-7.9-11-4.5 12.7 4.8-1.4 .4 2.9zM1518.3 1201l-.4-2.9 5 .1-7.8-11-4.5 12.7 4.8-1.4 .4 2.9zM1551.3 1201l-.4-2.9 5 .1-7.9-11-4.4 12.7 4.7-1.4 .4 2.9zM1584.3 1201l-.4-2.9 5 .1-7.9-11-4.5 12.7 4.8-1.4 .4 2.9zM1617.3 1201l-.4-2.9 5 .1-7.9-11-4.5 12.7 4.8-1.4 .4 2.9zM1650.3 1201l-.5-2.9 5 .1-7.8-11-4.5 12.7 4.8-1.4 .4 2.9zM1683.2 1201l-.4-2.9 5 .1-7.9-11-4.4 12.7 4.7-1.4 .5 2.9zM1716.2 1201l-.4-2.9 5 .1-7.9-11-4.5 12.7 4.8-1.4 .4 2.9zM1749.2 1201l-.4-2.9 5 .1-7.9-11-4.5 12.7 4.8-1.4 .4 2.9zM1782.2 1201l-.5-2.9 5 .1-7.8-11-4.5 12.7 4.8-1.4 .4 2.9zM1819.1 1200.2l0-.8 5 .8-6.3-12-6.2 12 4.9-.8 0 .8zM1851.8 1198.7l0-.6 3.7 .6-4.7-9-4.7 9 3.7-.6 0 .6zM1884.2 1196.2l0-.3 1.7 .3-2.1-4-2.1 4 1.7-.3 0 .3zM1918.4 1194.4l-.2-.1 .6-1.2-3.5 .6 2.5 2.6 .2-1.3 .2 0zM1951.4 1194.4l-.2-.1 .6-1.2-3.5 .6 2.4 2.6 .3-1.3 .1 0zM1984.3 1194.4l-.2-.1 .7-1.2-3.6 .6 2.5 2.6 .2-1.3 .2 0zM2017 1194.2l-.6 1.1-1.3 0-.7-1.1 .7-1.1 1.3 0zM2050 1194.2l-.7 1.1-1.3 0-.6-1.1 .6-1.1 1.3 0zM2083 1194.2l-.7 1.1-1.3 0-.6-1.1 .6-1.1 1.3 0zM2115.9 1194.2l-.6 1.1-1.3 0-.7-1.1 .7-1.1 1.3 0zM2148.7 1199.2l0-.7 4.1 .7-5.2-10-5.2 10 4.1-.7 0 .7zM2181.8 1200l0-.8 4.8 .8-6-11.5-6 11.5 4.7-.8 0 .8zM2214.9 1200.5l0-1.4 4.9 .8-6.2-11.9-6.3 11.9 5-.8 0 1.4zM2247.8 1200.7l0-1.8 5 .8-6.3-12-6.2 12 4.9-.8 0 1.8zM2280.8 1200.7l0-1.8 5 .8-6.3-12-6.2 12 4.9-.8 0 1.8zM2313.6 1199.2l0-.7 4.1 .7-5.2-10-5.2 10 4.1-.7 0 .7zM1325 1201l-.4-2.9 5 .1-7.9-11-4.5 12.7 4.8-1.4 .4 2.9zM1358 1201l-.5-2.9 5 .1-7.8-11-4.5 12.7 4.8-1.4 .4 2.9zM1390.9 1201l-.4-2.9 5 .1-7.8-11-4.5 12.7 4.7-1.4 .5 2.9zM1423.9 1201l-.4-2.9 5 .1-7.9-11-4.5 12.7 4.8-1.4 .4 2.9zM1456.9 1201l-.4-2.9 5 .1-7.9-11-4.5 12.7 4.8-1.4 .4 2.9zM1489.9 1201l-.4-2.9 5 .1-7.9-11-4.5 12.7 4.8-1.4 .4 2.9zM1522.8 1201l-.4-2.9 5 .1-7.8-11-4.5 12.7 4.8-1.4 .4 2.9zM1555.8 1201l-.4-2.9 5 .1-7.9-11-4.4 12.7 4.7-1.4 .4 2.9zM1588.8 1201l-.4-2.9 5 .1-7.9-11-4.5 12.7 4.8-1.4 .4 2.9zM1621.8 1201l-.4-2.9 5 .1-7.9-11-4.5 12.7 4.8-1.4 .4 2.9zM1654.8 1201l-.5-2.9 5 .1-7.8-11-4.5 12.7 4.8-1.4 .4 2.9zM1687.7 1201l-.4-2.9 5 .1-7.9-11-4.4 12.7 4.7-1.4 .5 2.9zM1720.7 1201l-.4-2.9 5 .1-7.9-11-4.5 12.7 4.8-1.4 .4 2.9zM1753.7 1201l-.4-2.9 5 .1-7.9-11-4.5 12.7 4.8-1.4 .4 2.9zM1786.7 1201l-.5-2.9 5 .1-7.8-11-4.5 12.7 4.8-1.4 .4 2.9zM1318.5 1209.5l-.4-2.9 5 .1-7.9-11-4.5 12.7 4.8-1.4 .4 2.9zM1351.5 1209.5l-.5-2.9 5 .1-7.8-11-4.5 12.7 4.8-1.4 .4 2.9zM1384.4 1209.5l-.4-2.9 5 .1-7.8-11-4.5 12.7 4.7-1.4 .5 2.9zM1417.4 1209.5l-.4-2.9 5 .1-7.9-11-4.5 12.7 4.8-1.4 .4 2.9zM1450.4 1209.5l-.4-2.9 5 .1-7.9-11-4.5 12.7 4.8-1.4 .4 2.9zM1483.4 1209.5l-.4-2.9 5 .1-7.9-11-4.5 12.7 4.8-1.4 .4 2.9zM1516.3 1209.5l-.4-2.9 5 .1-7.8-11-4.5 12.7 4.8-1.4 .4 2.9zM1549.3 1209.5l-.4-2.9 5 .1-7.9-11-4.4 12.7 4.7-1.4 .4 2.9zM1582.3 1209.5l-.4-2.9 5 .1-7.9-11-4.5 12.7 4.8-1.4 .4 2.9zM1615.3 1209.5l-.4-2.9 5 .1-7.9-11-4.5 12.7 4.8-1.4 .4 2.9zM1648.3 1209.5l-.5-2.9 5 .1-7.8-11-4.5 12.7 4.8-1.4 .4 2.9zM1681.2 1209.5l-.4-2.9 5 .1-7.9-11-4.4 12.7 4.7-1.4 .5 2.9zM1714.2 1209.5l-.4-2.9 5 .1-7.9-11-4.5 12.7 4.8-1.4 .4 2.9zM1747.2 1209.5l-.4-2.9 5 .1-7.9-11-4.5 12.7 4.8-1.4 .4 2.9zM1780.2 1209.5l-.5-2.9 5 .1-7.8-11-4.5 12.7 4.8-1.4 .4 2.9zM1819.1 1208.7l0-.8 5 .8-6.3-12-6.2 12 4.9-.8 0 .8zM1851.8 1207.2l0-.6 3.7 .6-4.7-9-4.7 9 3.7-.6 0 .6zM1884.2 1204.7l0-.3 1.7 .3-2.1-4-2.1 4 1.7-.3 0 .3zM1918.4 1202.9l-.2-.1 .6-1.2-3.5 .6 2.5 2.6 .2-1.3 .2 0zM1951.4 1202.9l-.2-.1 .6-1.2-3.5 .6 2.4 2.6 .3-1.3 .1 0zM1984.3 1202.9l-.2-.1 .7-1.2-3.6 .6 2.5 2.6 .2-1.3 .2 0zM2017 1202.7l-.6 1.1-1.3 0-.7-1.1 .7-1.1 1.3 0zM2050 1202.7l-.7 1.1-1.3 0-.6-1.1 .6-1.1 1.3 0zM2083 1202.7l-.7 1.1-1.3 0-.6-1.1 .6-1.1 1.3 0zM2115.9 1202.7l-.6 1.1-1.3 0-.7-1.1 .7-1.1 1.3 0zM2148.7 1207.7l0-.7 4.1 .7-5.2-10-5.2 10 4.1-.7 0 .7zM2181.8 1208.5l0-.8 4.8 .8-6-11.5-6 11.5 4.7-.8 0 .8zM2214.9 1209l0-1.4 4.9 .8-6.2-11.9-6.3 11.9 5-.8 0 1.4zM2247.8 1209.2l0-1.8 5 .8-6.3-12-6.2 12 4.9-.8 0 1.8zM2280.8 1209.2l0-1.8 5 .8-6.3-12-6.2 12 4.9-.8 0 1.8zM2313.6 1207.7l0-.7 4.1 .7-5.2-10-5.2 10 4.1-.7 0 .7zM1323 1209.5l-.4-2.9 5 .1-7.9-11-4.5 12.7 4.8-1.4 .4 2.9zM1356 1209.5l-.5-2.9 5 .1-7.8-11-4.5 12.7 4.8-1.4 .4 2.9zM1388.9 1209.5l-.4-2.9 5 .1-7.8-11-4.5 12.7 4.7-1.4 .5 2.9zM1421.9 1209.5l-.4-2.9 5 .1-7.9-11-4.5 12.7 4.8-1.4 .4 2.9zM1454.9 1209.5l-.4-2.9 5 .1-7.9-11-4.5 12.7 4.8-1.4 .4 2.9zM1487.9 1209.5l-.4-2.9 5 .1-7.9-11-4.5 12.7 4.8-1.4 .4 2.9zM1520.8 1209.5l-.4-2.9 5 .1-7.8-11-4.5 12.7 4.8-1.4 .4 2.9zM1553.8 1209.5l-.4-2.9 5 .1-7.9-11-4.4 12.7 4.7-1.4 .4 2.9zM1586.8 1209.5l-.4-2.9 5 .1-7.9-11-4.5 12.7 4.8-1.4 .4 2.9zM1619.8 1209.5l-.4-2.9 5 .1-7.9-11-4.5 12.7 4.8-1.4 .4 2.9zM1652.8 1209.5l-.5-2.9 5 .1-7.8-11-4.5 12.7 4.8-1.4 .4 2.9zM1685.7 1209.5l-.4-2.9 5 .1-7.9-11-4.4 12.7 4.7-1.4 .5 2.9zM1718.7 1209.5l-.4-2.9 5 .1-7.9-11-4.5 12.7 4.8-1.4 .4 2.9zM1751.7 1209.5l-.4-2.9 5 .1-7.9-11-4.5 12.7 4.8-1.4 .4 2.9zM1784.7 1209.5l-.5-2.9 5 .1-7.8-11-4.5 12.7 4.8-1.4 .4 2.9zM1318 1216.4l-.4-2.9 5 .1-7.9-11-4.5 12.7 4.8-1.4 .4 2.9zM1351 1216.4l-.5-2.9 5 .1-7.8-11-4.5 12.7 4.8-1.4 .4 2.9zM1383.9 1216.4l-.4-2.9 5 .1-7.8-11-4.5 12.7 4.7-1.4 .5 2.9zM1416.9 1216.4l-.4-2.9 5 .1-7.9-11-4.5 12.7 4.8-1.4 .4 2.9zM1449.9 1216.4l-.4-2.9 5 .1-7.9-11-4.5 12.7 4.8-1.4 .4 2.9zM1482.9 1216.4l-.4-2.9 5 .1-7.9-11-4.5 12.7 4.8-1.4 .4 2.9zM1515.8 1216.4l-.4-2.9 5 .1-7.8-11-4.5 12.7 4.8-1.4 .4 2.9zM1548.8 1216.4l-.4-2.9 5 .1-7.9-11-4.4 12.7 4.7-1.4 .4 2.9zM1581.8 1216.4l-.4-2.9 5 .1-7.9-11-4.5 12.7 4.8-1.4 .4 2.9zM1614.8 1216.4l-.4-2.9 5 .1-7.9-11-4.5 12.7 4.8-1.4 .4 2.9zM1647.8 1216.4l-.5-2.9 5 .1-7.8-11-4.5 12.7 4.8-1.4 .4 2.9zM1680.7 1216.4l-.4-2.9 5 .1-7.9-11-4.4 12.7 4.7-1.4 .5 2.9zM1713.7 1216.4l-.4-2.9 5 .1-7.9-11-4.5 12.7 4.8-1.4 .4 2.9zM1746.7 1216.4l-.4-2.9 5 .1-7.9-11-4.5 12.7 4.8-1.4 .4 2.9zM1779.7 1216.4l-.5-2.9 5 .1-7.8-11-4.5 12.7 4.8-1.4 .4 2.9zM1819.1 1215.6l0-.8 5 .8-6.3-12-6.2 12 4.9-.8 0 .8zM1851.8 1214.1l0-.6 3.7 .6-4.7-9-4.7 9 3.7-.6 0 .6zM1884.2 1211.6l0-.3 1.7 .3-2.1-4-2.1 4 1.7-.3 0 .3zM1918.4 1209.8l-.2-.1 .6-1.2-3.5 .6 2.5 2.6 .2-1.3 .2 0zM1951.4 1209.8l-.2-.1 .6-1.2-3.5 .6 2.4 2.6 .3-1.3 .1 0zM1984.3 1209.8l-.2-.1 .7-1.2-3.6 .6 2.5 2.6 .2-1.3 .2 0zM2017 1209.6l-.6 1.1-1.3 0-.7-1.1 .7-1.1 1.3 0zM2050 1209.6l-.7 1.1-1.3 0-.6-1.1 .6-1.1 1.3 0zM2083 1209.6l-.7 1.1-1.3 0-.6-1.1 .6-1.1 1.3 0zM2115.9 1209.6l-.6 1.1-1.3 0-.7-1.1 .7-1.1 1.3 0zM2148.7 1214.6l0-.7 4.1 .7-5.2-10-5.2 10 4.1-.7 0 .7zM2181.8 1215.3l0-.7 4.8 .7-6-11.5-6 11.5 4.7-.7 0 .7zM2214.9 1215.8l0-1.3 4.9 .8-6.2-12-6.3 12 5-.8 0 1.3zM2247.8 1216.1l0-1.8 5 .8-6.3-12-6.2 12 4.9-.8 0 1.8zM2280.8 1216.1l0-1.8 5 .8-6.3-12-6.2 12 4.9-.8 0 1.8zM2313.6 1214.6l0-.7 4.1 .7-5.2-10-5.2 10 4.1-.7 0 .7zM1322.5 1216.4l-.4-2.9 5 .1-7.9-11-4.5 12.7 4.8-1.4 .4 2.9zM1355.5 1216.4l-.5-2.9 5 .1-7.8-11-4.5 12.7 4.8-1.4 .4 2.9zM1388.4 1216.4l-.4-2.9 5 .1-7.8-11-4.5 12.7 4.7-1.4 .5 2.9zM1421.4 1216.4l-.4-2.9 5 .1-7.9-11-4.5 12.7 4.8-1.4 .4 2.9zM1454.4 1216.4l-.4-2.9 5 .1-7.9-11-4.5 12.7 4.8-1.4 .4 2.9zM1487.4 1216.4l-.4-2.9 5 .1-7.9-11-4.5 12.7 4.8-1.4 .4 2.9zM1520.3 1216.4l-.4-2.9 5 .1-7.8-11-4.5 12.7 4.8-1.4 .4 2.9zM1553.3 1216.4l-.4-2.9 5 .1-7.9-11-4.4 12.7 4.7-1.4 .4 2.9zM1586.3 1216.4l-.4-2.9 5 .1-7.9-11-4.5 12.7 4.8-1.4 .4 2.9zM1619.3 1216.4l-.4-2.9 5 .1-7.9-11-4.5 12.7 4.8-1.4 .4 2.9zM1652.3 1216.4l-.5-2.9 5 .1-7.8-11-4.5 12.7 4.8-1.4 .4 2.9zM1685.2 1216.4l-.4-2.9 5 .1-7.9-11-4.4 12.7 4.7-1.4 .5 2.9zM1718.2 1216.4l-.4-2.9 5 .1-7.9-11-4.5 12.7 4.8-1.4 .4 2.9zM1751.2 1216.4l-.4-2.9 5 .1-7.9-11-4.5 12.7 4.8-1.4 .4 2.9zM1784.2 1216.4l-.5-2.9 5 .1-7.8-11-4.5 12.7 4.8-1.4 .4 2.9zM1319.5 1222.7l-.4-2.9 5 .1-7.9-11-4.5 12.7 4.8-1.4 .4 2.9zM1352.5 1222.7l-.5-2.9 5 .1-7.8-11-4.5 12.7 4.8-1.4 .4 2.9zM1385.4 1222.7l-.4-2.9 5 .1-7.8-11-4.5 12.7 4.7-1.4 .5 2.9zM1418.4 1222.7l-.4-2.9 5 .1-7.9-11-4.5 12.7 4.8-1.4 .4 2.9zM1451.4 1222.7l-.4-2.9 5 .1-7.9-11-4.5 12.7 4.8-1.4 .4 2.9zM1484.4 1222.7l-.4-2.9 5 .1-7.9-11-4.5 12.7 4.8-1.4 .4 2.9zM1517.3 1222.7l-.4-2.9 5 .1-7.8-11-4.5 12.7 4.8-1.4 .4 2.9zM1550.3 1222.7l-.4-2.9 5 .1-7.9-11-4.4 12.7 4.7-1.4 .4 2.9zM1583.3 1222.7l-.4-2.9 5 .1-7.9-11-4.5 12.7 4.8-1.4 .4 2.9zM1616.3 1222.7l-.4-2.9 5 .1-7.9-11-4.5 12.7 4.8-1.4 .4 2.9zM1649.3 1222.7l-.5-2.9 5 .1-7.8-11-4.5 12.7 4.8-1.4 .4 2.9zM1682.2 1222.7l-.4-2.9 5 .1-7.9-11-4.4 12.7 4.7-1.4 .5 2.9zM1715.2 1222.7l-.4-2.9 5 .1-7.9-11-4.5 12.7 4.8-1.4 .4 2.9zM1748.2 1222.7l-.4-2.9 5 .1-7.9-11-4.5 12.7 4.8-1.4 .4 2.9zM1781.2 1222.7l-.5-2.9 5 .1-7.8-11-4.5 12.7 4.8-1.4 .4 2.9zM1819.1 1221.9l0-.8 5 .8-6.3-12-6.2 12 4.9-.8 0 .8zM1851.8 1220.4l0-.6 3.7 .6-4.7-9-4.7 9 3.7-.6 0 .6zM1884.2 1217.9l0-.3 1.7 .3-2.1-4-2.1 4 1.7-.3 0 .3zM1918.4 1216.1l-.2-.1 .6-1.2-3.5 .6 2.5 2.6 .2-1.3 .2 0zM1951.4 1216.1l-.2-.1 .6-1.2-3.5 .6 2.4 2.6 .3-1.3 .1 0zM1984.3 1216.1l-.2-.1 .7-1.2-3.6 .6 2.5 2.6 .2-1.3 .2 0zM2017 1215.9l-.6 1.1-1.3 0-.7-1.1 .7-1.1 1.3 0zM2050 1215.9l-.7 1.1-1.3 0-.6-1.1 .6-1.1 1.3 0zM2083 1215.9l-.7 1.1-1.3 0-.6-1.1 .6-1.1 1.3 0zM2115.9 1215.9l-.6 1.1-1.3 0-.7-1.1 .7-1.1 1.3 0zM2148.7 1220.9l0-.7 4.1 .7-5.2-10-5.2 10 4.1-.7 0 .7zM2181.8 1221.7l0-.8 4.8 .8-6-11.5-6 11.5 4.7-.8 0 .8zM2214.9 1222.2l0-1.4 4.9 .8-6.2-11.9-6.3 11.9 5-.8 0 1.4zM2247.8 1222.4l0-1.8 5 .8-6.3-12-6.2 12 4.9-.8 0 1.8zM2280.8 1222.4l0-1.8 5 .8-6.3-12-6.2 12 4.9-.8 0 1.8zM2313.6 1220.9l0-.7 4.1 .7-5.2-10-5.2 10 4.1-.7 0 .7zM1323.5 1222.7l-.4-2.9 5 .1-7.9-11-4.4 12.7 4.7-1.4 .5 2.9zM1356.5 1222.7l-.4-2.9 5 .1-7.9-11-4.5 12.7 4.8-1.4 .4 2.9zM1389.5 1222.7l-.4-2.9 5 .1-7.9-11-4.5 12.7 4.8-1.4 .4 2.9zM1422.5 1222.7l-.5-2.9 5 .1-7.8-11-4.5 12.7 4.8-1.4 .4 2.9zM1455.4 1222.7l-.4-2.9 5 .1-7.8-11-4.5 12.7 4.8-1.4 .4 2.9zM1488.4 1222.7l-.4-2.9 5 .1-7.9-11-4.5 12.7 4.8-1.4 .4 2.9zM1521.4 1222.7l-.4-2.9 5 .1-7.9-11-4.5 12.7 4.8-1.4 .4 2.9zM1554.4 1222.7l-.4-2.9 5 .1-7.9-11-4.5 12.7 4.8-1.4 .4 2.9zM1587.4 1222.7l-.5-2.9 5 .1-7.8-11-4.5 12.7 4.8-1.4 .4 2.9zM1620.3 1222.7l-.4-2.9 5 .1-7.9-11-4.4 12.7 4.7-1.4 .5 2.9zM1653.3 1222.7l-.4-2.9 5 .1-7.9-11-4.5 12.7 4.8-1.4 .4 2.9zM1686.3 1222.7l-.4-2.9 5 .1-7.9-11-4.5 12.7 4.8-1.4 .4 2.9zM1719.3 1222.7l-.5-2.9 5 .1-7.8-11-4.5 12.7 4.8-1.4 .4 2.9zM1752.2 1222.7l-.4-2.9 5 .1-7.9-11-4.4 12.7 4.7-1.4 .5 2.9zM1785.2 1222.7l-.4-2.9 5 .1-7.9-11-4.5 12.7 4.8-1.4 .4 2.9zM1321.5 1228.6l-.4-2.9 5 .1-7.9-11-4.5 12.7 4.8-1.4 .4 2.9zM1354.5 1228.6l-.5-2.9 5 .1-7.8-11-4.5 12.7 4.8-1.4 .4 2.9zM1387.4 1228.6l-.4-2.9 5 .1-7.8-11-4.5 12.7 4.7-1.4 .5 2.9zM1420.4 1228.6l-.4-2.9 5 .1-7.9-11-4.5 12.7 4.8-1.4 .4 2.9zM1453.4 1228.6l-.4-2.9 5 .1-7.9-11-4.5 12.7 4.8-1.4 .4 2.9zM1486.4 1228.6l-.4-2.9 5 .1-7.9-11-4.5 12.7 4.8-1.4 .4 2.9zM1519.3 1228.6l-.4-2.9 5 .1-7.8-11-4.5 12.7 4.8-1.4 .4 2.9zM1552.3 1228.6l-.4-2.9 5 .1-7.9-11-4.4 12.7 4.7-1.4 .4 2.9zM1585.3 1228.6l-.4-2.9 5 .1-7.9-11-4.5 12.7 4.8-1.4 .4 2.9zM1618.3 1228.6l-.4-2.9 5 .1-7.9-11-4.5 12.7 4.8-1.4 .4 2.9zM1651.3 1228.6l-.5-2.9 5 .1-7.8-11-4.5 12.7 4.8-1.4 .4 2.9zM1684.2 1228.6l-.4-2.9 5 .1-7.9-11-4.4 12.7 4.7-1.4 .5 2.9zM1717.2 1228.6l-.4-2.9 5 .1-7.9-11-4.5 12.7 4.8-1.4 .4 2.9zM1750.2 1228.6l-.4-2.9 5 .1-7.9-11-4.5 12.7 4.8-1.4 .4 2.9zM1783.2 1228.6l-.5-2.9 5 .1-7.8-11-4.5 12.7 4.8-1.4 .4 2.9zM1819.1 1227.8l0-.8 5 .8-6.3-12-6.2 12 4.9-.8 0 .8zM1851.8 1226.3l0-.6 3.7 .6-4.7-9-4.7 9 3.7-.6 0 .6zM1884.2 1223.8l0-.3 1.7 .3-2.1-4-2.1 4 1.7-.3 0 .3zM1918.4 1222l-.2-.1 .6-1.2-3.5 .6 2.5 2.6 .2-1.3 .2 0zM1951.4 1222l-.2-.1 .6-1.2-3.5 .6 2.4 2.6 .3-1.3 .1 0zM1984.3 1222l-.2-.1 .7-1.2-3.6 .6 2.5 2.6 .2-1.3 .2 0zM2017 1221.8l-.6 1.1-1.3 0-.7-1.1 .7-1.1 1.3 0zM2050 1221.8l-.7 1.1-1.3 0-.6-1.1 .6-1.1 1.3 0zM2083 1221.8l-.7 1.1-1.3 0-.6-1.1 .6-1.1 1.3 0zM2115.9 1221.8l-.6 1.1-1.3 0-.7-1.1 .7-1.1 1.3 0zM2148.7 1226.8l0-.7 4.1 .7-5.2-10-5.2 10 4.1-.7 0 .7zM2181.8 1227.5l0-.7 4.8 .7-6-11.5-6 11.5 4.7-.7 0 .7zM2214.9 1228l0-1.3 4.9 .8-6.2-12-6.3 12 5-.8 0 1.3zM2247.8 1228.3l0-1.8 5 .8-6.3-12-6.2 12 4.9-.8 0 1.8zM2280.8 1228.3l0-1.8 5 .8-6.3-12-6.2 12 4.9-.8 0 1.8zM2313.6 1226.8l0-.7 4.1 .7-5.2-10-5.2 10 4.1-.7 0 .7zM1325.3 1228.6l-.4-2.9 5 .1-7.9-11-4.5 12.7 4.8-1.4 .4 2.9zM1358.3 1228.6l-.4-2.9 5 .1-7.9-11-4.5 12.7 4.8-1.4 .4 2.9zM1391.3 1228.6l-.5-2.9 5 .1-7.8-11-4.5 12.7 4.8-1.4 .4 2.9zM1424.2 1228.6l-.4-2.9 5 .1-7.8-11-4.5 12.7 4.7-1.4 .5 2.9zM1457.2 1228.6l-.4-2.9 5 .1-7.9-11-4.5 12.7 4.8-1.4 .4 2.9zM1490.2 1228.6l-.4-2.9 5 .1-7.9-11-4.5 12.7 4.8-1.4 .4 2.9zM1523.2 1228.6l-.4-2.9 5 .1-7.9-11-4.5 12.7 4.8-1.4 .4 2.9zM1556.1 1228.6l-.4-2.9 5 .1-7.8-11-4.5 12.7 4.8-1.4 .4 2.9zM1589.1 1228.6l-.4-2.9 5 .1-7.9-11-4.4 12.7 4.7-1.4 .5 2.9zM1622.1 1228.6l-.4-2.9 5 .1-7.9-11-4.5 12.7 4.8-1.4 .4 2.9zM1655.1 1228.6l-.4-2.9 5 .1-7.9-11-4.5 12.7 4.8-1.4 .4 2.9zM1688.1 1228.6l-.5-2.9 5 .1-7.8-11-4.5 12.7 4.8-1.4 .4 2.9zM1721 1228.6l-.4-2.9 5 .1-7.9-11-4.4 12.7 4.7-1.4 .5 2.9zM1754 1228.6l-.4-2.9 5 .1-7.9-11-4.5 12.7 4.8-1.4 .4 2.9zM1787 1228.6l-.4-2.9 5 .1-7.9-11-4.5 12.7 4.8-1.4 .4 2.9z"/>
<rect x="1323.2" y="731" width="989.3" height="490.9" class="fr"/>
<line x1="1312.7" y1="1147.75" x2="1323.2" y2="1147.75" class="tk"/>
<line x1="1312.7" y1="1071.80" x2="1323.2" y2="1071.80" class="tk"/>
<line x1="1312.7" y1="995.85" x2="1323.2" y2="995.85" class="tk"/>
<line x1="1312.7" y1="919.90" x2="1323.2" y2="919.90" class="tk"/>
<line x1="1312.7" y1="843.95" x2="1323.2" y2="843.95" class="tk"/>
<line x1="1312.7" y1="768.00" x2="1323.2" y2="768.00" class="tk"/>
<line x1="1323.20" y1="1221.9" x2="1323.20" y2="1231.9" class="tk"/>
<line x1="1488.08" y1="1221.9" x2="1488.08" y2="1231.9" class="tk"/>
<line x1="1652.97" y1="1221.9" x2="1652.97" y2="1231.9" class="tk"/>
<line x1="1817.85" y1="1221.9" x2="1817.85" y2="1231.9" class="tk"/>
<line x1="1982.73" y1="1221.9" x2="1982.73" y2="1231.9" class="tk"/>
<line x1="2147.62" y1="1221.9" x2="2147.62" y2="1231.9" class="tk"/>
<line x1="2312.50" y1="1221.9" x2="2312.50" y2="1231.9" class="tk"/>
<rect x="2324.3" y="1167.36" width="24.8" height="55.04" fill="#4b64d5"/>
<rect x="2324.3" y="1112.81" width="24.8" height="55.04" fill="#6f92f3"/>
<rect x="2324.3" y="1058.27" width="24.8" height="55.04" fill="#97b8ff"/>
<rect x="2324.3" y="1003.72" width="24.8" height="55.04" fill="#bcd2f7"/>
<rect x="2324.3" y="949.18" width="24.8" height="55.04" fill="#dddcdc"/>
<rect x="2324.3" y="894.63" width="24.8" height="55.04" fill="#f3c8b2"/>
<rect x="2324.3" y="840.09" width="24.8" height="55.04" fill="#f6a586"/>
<rect x="2324.3" y="785.54" width="24.8" height="55.04" fill="#e7745b"/>
<rect x="2324.3" y="731.00" width="24.8" height="55.04" fill="#c83836"/>
<rect x="2324.3" y="731" width="24.8" height="490.9" class="fr"/>
<line x1="2349.1" y1="1221.90" x2="2359.1" y2="1221.90" class="tk"/>
<line x1="2349.1" y1="1167.36" x2="2359.1" y2="1167.36" class="tk"/>
<line x1="2349.1" y1="1112.81" x2="2359.1" y2="1112.81" class="tk"/>
<line x1="2349.1" y1="1058.27" x2="2359.1" y2="1058.27" class="tk"/>
<line x1="2349.1" y1="1003.72" x2="2359.1" y2="1003.72" class="tk"/>
<line x1="2349.1" y1="949.18" x2="2359.1" y2="949.18" class="tk"/>
<line x1="2349.1" y1="894.63" x2="2359.1" y2="894.63" class="tk"/>
<line x1="2349.1" y1="840.09" x2="2359.1" y2="840.09" class="tk"/>
<line x1="2349.1" y1="785.54" x2="2359.1" y2="785.54" class="tk"/>
<line x1="2349.1" y1="731.00" x2="2359.1" y2="731.00" class="tk"/>
<g clip-path="url(#cp02)">
<rect x="79.3" y="1368.3" width="989.3" height="490.9" fill="#e7745b"/>
<path d="M74.3 1363.3 L74.3 1829.3 L79.3 1829.3 L87.5 1829.3 L95.8 1829.2 L104 1829.2 L112.3 1829.2 L120.5 1829.1 L128.8 1829.1 L137 1829.1 L145.3 1829 L153.5 1829 L161.7 1829 L170 1828.9 L178.2 1828.9 L186.5 1828.9 L194.7 1828.8 L203 1828.8 L211.2 1828.8 L219.5 1828.7 L227.7 1828.7 L235.9 1828.7 L244.2 1828.6 L252.4 1828.6 L260.7 1828.6 L268.9 1828.5 L277.2 1828.5 L285.4 1828.5 L293.6 1828.4 L301.9 1828.4 L310.1 1828.4 L318.4 1828.3 L326.6 1828.3 L334.9 1828.3 L343.1 1828.2 L351.4 1828.2 L359.6 1828.2 L367.8 1828.1 L376.1 1828.1 L384.3 1828.1 L392.6 1828 L400.8 1828 L409.1 1828 L417.3 1827.9 L425.6 1827.9 L433.8 1827.9 L442 1827.8 L450.3 1827.8 L458.5 1827.8 L466.8 1827.7 L475 1827.7 L483.3 1827.7 L491.5 1827.6 L499.8 1827.6 L508 1827.6 L516.2 1827.5 L524.5 1827.5 L532.7 1827.5 L541 1827.4 L549.2 1827.4 L557.5 1827.4 L565.7 1827.3 L573.9 1827.3 L582.2 1827.2 L590.4 1827.2 L598.7 1827.1 L606.9 1827.1 L615.2 1827 L623.4 1826.9 L631.7 1826.9 L639.9 1826.8 L648.1 1826.8 L656.4 1826.7 L664.6 1826.7 L672.9 1826.6 L681.1 1826.5 L689.4 1826.5 L697.6 1826.4 L705.9 1826.4 L714.1 1826.3 L722.3 1826.2 L730.6 1826.2 L738.8 1826.1 L747.1 1826.1 L755.3 1826 L763.6 1826 L771.8 1825.9 L780.1 1825.8 L788.3 1825.8 L796.5 1825.7 L804.8 1825.7 L813 1825.6 L821.3 1825.5 L829.5 1825.5 L837.8 1825.4 L846 1825.4 L854.3 1825.3 L862.5 1825.3 L870.7 1825.2 L879 1825.1 L887.2 1825.1 L895.5 1825 L903.7 1825 L912 1824.9 L920.2 1824.8 L928.4 1824.8 L936.7 1824.7 L944.9 1824.7 L953.2 1824.6 L961.4 1824.6 L969.7 1824.5 L977.9 1824.4 L986.2 1824.4 L994.4 1824.3 L1002.6 1824.3 L1010.9 1824.2 L1019.1 1824.2 L1027.4 1824.1 L1035.6 1824 L1043.9 1824 L1052.1 1823.9 L1060.4 1823.9 L1068.6 1823.8 L1073.6 1823.8 L1073.6 1363.3 Z" fill="#f6a586"/>
<path d="M74.3 1363.3 L74.3 1786.8 L79.3 1786.8 L87.5 1786.8 L95.8 1786.8 L104 1786.7 L112.3 1786.7 L120.5 1786.7 L128.8 1786.7 L137 1786.6 L145.3 1786.6 L153.5 1786.6 L161.7 1786.5 L170 1786.5 L178.2 1786.5 L186.5 1786.5 L194.7 1786.4 L203 1786.4 L211.2 1786.4 L219.5 1786.4 L227.7 1786.3 L235.9 1786.3 L244.2 1786.3 L252.4 1786.3 L260.7 1786.2 L268.9 1786.2 L277.2 1786.2 L285.4 1786.2 L293.6 1786.2 L301.9 1786.1 L310.1 1786.1 L318.4 1786.1 L326.6 1786 L334.9 1786 L343.1 1786 L351.4 1786 L359.6 1785.9 L367.8 1785.9 L376.1 1785.9 L384.3 1785.9 L392.6 1785.8 L400.8 1785.8 L409.1 1785.8 L417.3 1785.8 L425.6 1785.8 L433.8 1785.7 L442 1785.7 L450.3 1785.7 L458.5 1785.7 L466.8 1785.6 L475 1785.6 L483.3 1785.6 L491.5 1785.5 L499.8 1785.5 L508 1785.5 L516.2 1785.5 L524.5 1785.4 L532.7 1785.4 L541 1785.4 L549.2 1785.4 L557.5 1785.3 L565.7 1785.3 L573.9 1785.3 L582.2 1785.2 L590.4 1785.1 L598.7 1785 L606.9 1784.9 L615.2 1784.8 L623.4 1784.7 L631.7 1784.6 L639.9 1784.5 L648.1 1784.4 L656.4 1784.3 L664.6 1784.2 L672.9 1784.1 L681.1 1784 L689.4 1783.9 L697.6 1783.8 L705.9 1783.7 L714.1 1783.6 L722.3 1783.5 L730.6 1783.4 L738.8 1783.3 L747.1 1783.2 L755.3 1783.1 L763.6 1783 L771.8 1782.9 L780.1 1782.8 L788.3 1782.7 L796.5 1782.6 L804.8 1782.5 L813 1782.4 L821.3 1782.3 L829.5 1782.3 L837.8 1782.2 L846 1782.2 L854.3 1782.2 L862.5 1782.1 L870.7 1782.1 L879 1782.1 L887.2 1782 L895.5 1782 L903.7 1782 L912 1781.9 L920.2 1781.9 L928.4 1781.9 L936.7 1781.8 L944.9 1781.8 L953.2 1781.8 L961.4 1781.7 L969.7 1781.7 L977.9 1781.7 L986.2 1781.6 L994.4 1781.6 L1002.6 1781.6 L1010.9 1781.5 L1019.1 1781.5 L1027.4 1781.5 L1035.6 1781.4 L1043.9 1781.4 L1052.1 1781.4 L1060.4 1781.3 L1068.6 1781.3 L1073.6 1781.3 L1073.6 1363.3 Z" fill="#f3c8b2"/>
<path d="M74.3 1363.3 L74.3 1754.3 L79.3 1754.3 L87.5 1754.3 L95.8 1754.3 L104 1754.2 L112.3 1754.2 L120.5 1754.2 L128.8 1754.2 L137 1754.2 L145.3 1754.2 L153.5 1754.2 L161.7 1754.1 L170 1754.1 L178.2 1754.1 L186.5 1754.1 L194.7 1754.1 L203 1754 L211.2 1754 L219.5 1754 L227.7 1754 L235.9 1754 L244.2 1754 L252.4 1753.9 L260.7 1753.9 L268.9 1753.9 L277.2 1753.9 L285.4 1753.9 L293.6 1753.9 L301.9 1753.8 L310.1 1753.8 L318.4 1753.8 L326.6 1753.8 L334.9 1753.8 L343.1 1753.8 L351.4 1753.8 L359.6 1753.7 L367.8 1753.7 L376.1 1753.7 L384.3 1753.7 L392.6 1753.7 L400.8 1753.7 L409.1 1753.6 L417.3 1753.6 L425.6 1753.6 L433.8 1753.6 L442 1753.6 L450.3 1753.5 L458.5 1753.5 L466.8 1753.5 L475 1753.5 L483.3 1753.5 L491.5 1753.5 L499.8 1753.4 L508 1753.4 L516.2 1753.4 L524.5 1753.4 L532.7 1753.4 L541 1753.4 L549.2 1753.3 L557.5 1753.3 L565.7 1753.3 L573.9 1753.3 L582.2 1753.1 L590.4 1753 L598.7 1752.8 L606.9 1752.6 L615.2 1752.5 L623.4 1752.3 L631.7 1752.1 L639.9 1752 L648.1 1751.8 L656.4 1751.6 L664.6 1751.5 L672.9 1751.3 L681.1 1751.1 L689.4 1751 L697.6 1750.8 L705.9 1750.6 L714.1 1750.5 L722.3 1750.3 L730.6 1750.1 L738.8 1750 L747.1 1749.8 L755.3 1749.6 L763.6 1749.5 L771.8 1749.3 L780.1 1749.1 L788.3 1749 L796.5 1748.8 L804.8 1748.6 L813 1748.5 L821.3 1748.3 L829.5 1748.2 L837.8 1748.2 L846 1748.1 L854.3 1748 L862.5 1748 L870.7 1747.9 L879 1747.8 L887.2 1747.8 L895.5 1747.7 L903.7 1747.6 L912 1747.6 L920.2 1747.5 L928.4 1747.4 L936.7 1747.4 L944.9 1747.3 L953.2 1747.2 L961.4 1747.2 L969.7 1747.1 L977.9 1747 L986.2 1747 L994.4 1746.9 L1002.6 1746.8 L1010.9 1746.8 L1019.1 1746.7 L1027.4 1746.6 L1035.6 1746.6 L1043.9 1746.5 L1052.1 1746.4 L1060.4 1746.4 L1068.6 1746.3 L1073.6 1746.3 L1073.6 1363.3 Z" fill="#dddcdc"/>
<path d="M74.3 1363.3 L74.3 1718.8 L79.3 1718.8 L87.5 1718.9 L95.8 1718.9 L104 1719 L112.3 1719 L120.5 1719.1 L128.8 1719.2 L137 1719.2 L145.3 1719.3 L153.5 1719.3 L161.7 1719.4 L170 1719.4 L178.2 1719.5 L186.5 1719.6 L194.7 1719.6 L203 1719.7 L211.2 1719.7 L219.5 1719.8 L227.7 1719.8 L235.9 1719.9 L244.2 1720 L252.4 1720 L260.7 1720.1 L268.9 1720.1 L277.2 1720.2 L285.4 1720.3 L293.6 1720.3 L301.9 1720.4 L310.1 1720.4 L318.4 1720.5 L326.6 1720.5 L334.9 1720.6 L343.1 1720.7 L351.4 1720.7 L359.6 1720.8 L367.8 1720.8 L376.1 1720.9 L384.3 1721 L392.6 1721 L400.8 1721.1 L409.1 1721.1 L417.3 1721.2 L425.6 1721.2 L433.8 1721.3 L442 1721.4 L450.3 1721.4 L458.5 1721.5 L466.8 1721.5 L475 1721.6 L483.3 1721.7 L491.5 1721.7 L499.8 1721.8 L508 1721.8 L516.2 1721.9 L524.5 1721.9 L532.7 1722 L541 1722.1 L549.2 1722.1 L557.5 1722.2 L565.7 1722.2 L573.9 1722.3 L582.2 1722.1 L590.4 1722 L598.7 1721.8 L606.9 1721.6 L615.2 1721.5 L623.4 1721.3 L631.7 1721.1 L639.9 1721 L648.1 1720.8 L656.4 1720.6 L664.6 1720.5 L672.9 1720.3 L681.1 1720.1 L689.4 1720 L697.6 1719.8 L705.9 1719.6 L714.1 1719.5 L722.3 1719.3 L730.6 1719.1 L738.8 1719 L747.1 1718.8 L755.3 1718.6 L763.6 1718.5 L771.8 1718.3 L780.1 1718.1 L788.3 1718 L796.5 1717.8 L804.8 1717.6 L813 1717.5 L821.3 1717.3 L829.5 1717.3 L837.8 1717.2 L846 1717.2 L854.3 1717.2 L862.5 1717.1 L870.7 1717.1 L879 1717.1 L887.2 1717 L895.5 1717 L903.7 1717 L912 1716.9 L920.2 1716.9 L928.4 1716.9 L936.7 1716.8 L944.9 1716.8 L953.2 1716.8 L961.4 1716.7 L969.7 1716.7 L977.9 1716.7 L986.2 1716.6 L994.4 1716.6 L1002.6 1716.6 L1010.9 1716.5 L1019.1 1716.5 L1027.4 1716.5 L1035.6 1716.4 L1043.9 1716.4 L1052.1 1716.4 L1060.4 1716.3 L1068.6 1716.3 L1073.6 1716.3 L1073.6 1363.3 Z" fill="#bcd2f7"/>
<path d="M74.3 1363.3 L74.3 1686.8 L79.3 1686.8 L87.5 1686.8 L95.8 1686.8 L104 1686.8 L112.3 1686.9 L120.5 1686.9 L128.8 1686.9 L137 1686.9 L145.3 1686.9 L153.5 1686.9 L161.7 1687 L170 1687 L178.2 1687 L186.5 1687 L194.7 1687 L203 1687 L211.2 1687.1 L219.5 1687.1 L227.7 1687.1 L235.9 1687.1 L244.2 1687.1 L252.4 1687.2 L260.7 1687.2 L268.9 1687.2 L277.2 1687.2 L285.4 1687.2 L293.6 1687.2 L301.9 1687.2 L310.1 1687.3 L318.4 1687.3 L326.6 1687.3 L334.9 1687.3 L343.1 1687.3 L351.4 1687.3 L359.6 1687.4 L367.8 1687.4 L376.1 1687.4 L384.3 1687.4 L392.6 1687.4 L400.8 1687.4 L409.1 1687.5 L417.3 1687.5 L425.6 1687.5 L433.8 1687.5 L442 1687.5 L450.3 1687.5 L458.5 1687.6 L466.8 1687.6 L475 1687.6 L483.3 1687.6 L491.5 1687.6 L499.8 1687.7 L508 1687.7 L516.2 1687.7 L524.5 1687.7 L532.7 1687.7 L541 1687.7 L549.2 1687.8 L557.5 1687.8 L565.7 1687.8 L573.9 1687.8 L582.2 1687.9 L590.4 1687.9 L598.7 1688 L606.9 1688 L615.2 1688.1 L623.4 1688.2 L631.7 1688.2 L639.9 1688.3 L648.1 1688.3 L656.4 1688.4 L664.6 1688.4 L672.9 1688.5 L681.1 1688.6 L689.4 1688.6 L697.6 1688.7 L705.9 1688.7 L714.1 1688.8 L722.3 1688.8 L730.6 1688.9 L738.8 1689 L747.1 1689 L755.3 1689.1 L763.6 1689.1 L771.8 1689.2 L780.1 1689.3 L788.3 1689.3 L796.5 1689.4 L804.8 1689.4 L813 1689.5 L821.3 1689.5 L829.5 1689.6 L837.8 1689.7 L846 1689.7 L854.3 1689.8 L862.5 1689.8 L870.7 1689.9 L879 1690 L887.2 1690 L895.5 1690.1 L903.7 1690.1 L912 1690.2 L920.2 1690.2 L928.4 1690.3 L936.7 1690.4 L944.9 1690.4 L953.2 1690.5 L961.4 1690.5 L969.7 1690.6 L977.9 1690.7 L986.2 1690.7 L994.4 1690.8 L1002.6 1690.8 L1010.9 1690.9 L1019.1 1690.9 L1027.4 1691 L1035.6 1691.1 L1043.9 1691.1 L1052.1 1691.2 L1060.4 1691.2 L1068.6 1691.3 L1073.6 1691.3 L1073.6 1363.3 Z" fill="#97b8ff"/>
<path d="M74.3 1363.3 L74.3 1659.3 L79.3 1659.3 L87.5 1659.3 L95.8 1659.2 L104 1659.2 L112.3 1659.1 L120.5 1659.1 L128.8 1659.1 L137 1659 L145.3 1659 L153.5 1658.9 L161.7 1658.9 L170 1658.9 L178.2 1658.8 L186.5 1658.8 L194.7 1658.7 L203 1658.7 L211.2 1658.7 L219.5 1658.6 L227.7 1658.6 L235.9 1658.5 L244.2 1658.5 L252.4 1658.5 L260.7 1658.4 L268.9 1658.4 L277.2 1658.3 L285.4 1658.3 L293.6 1658.3 L301.9 1658.2 L310.1 1658.2 L318.4 1658.1 L326.6 1658.1 L334.9 1658.1 L343.1 1658 L351.4 1658 L359.6 1657.9 L367.8 1657.9 L376.1 1657.9 L384.3 1657.8 L392.6 1657.8 L400.8 1657.7 L409.1 1657.7 L417.3 1657.7 L425.6 1657.6 L433.8 1657.6 L442 1657.5 L450.3 1657.5 L458.5 1657.5 L466.8 1657.4 L475 1657.4 L483.3 1657.3 L491.5 1657.3 L499.8 1657.5 L508 1657.6 L516.2 1657.8 L524.5 1658 L532.7 1658.1 L541 1658.3 L549.2 1658.5 L557.5 1658.6 L565.7 1658.8 L573.9 1659 L582.2 1659.1 L590.4 1659.3 L598.7 1659.5 L606.9 1659.6 L615.2 1659.8 L623.4 1660 L631.7 1660.1 L639.9 1660.3 L648.1 1660.5 L656.4 1660.6 L664.6 1660.8 L672.9 1661 L681.1 1661.1 L689.4 1661.3 L697.6 1661.5 L705.9 1661.6 L714.1 1661.8 L722.3 1662 L730.6 1662.1 L738.8 1662.3 L747.1 1662.3 L755.3 1662.3 L763.6 1662.4 L771.8 1662.4 L780.1 1662.4 L788.3 1662.4 L796.5 1662.5 L804.8 1662.5 L813 1662.5 L821.3 1662.5 L829.5 1662.6 L837.8 1662.6 L846 1662.6 L854.3 1662.7 L862.5 1662.7 L870.7 1662.7 L879 1662.7 L887.2 1662.8 L895.5 1662.8 L903.7 1662.8 L912 1662.8 L920.2 1662.8 L928.4 1662.9 L936.7 1662.9 L944.9 1662.9 L953.2 1662.9 L961.4 1663 L969.7 1663 L977.9 1663 L986.2 1663 L994.4 1663.1 L1002.6 1663.1 L1010.9 1663.1 L1019.1 1663.2 L1027.4 1663.2 L1035.6 1663.2 L1043.9 1663.2 L1052.1 1663.2 L1060.4 1663.3 L1068.6 1663.3 L1073.6 1663.3 L1073.6 1363.3 Z" fill="#6f92f3"/>
<path d="M74.3 1363.3 L74.3 1557.8 L79.3 1557.8 L87.5 1557.8 L95.8 1557.8 L104 1557.8 L112.3 1557.8 L120.5 1557.8 L128.8 1557.8 L137 1557.8 L145.3 1557.8 L153.5 1557.8 L161.7 1557.8 L170 1557.8 L178.2 1557.8 L186.5 1557.8 L194.7 1557.8 L203 1557.8 L211.2 1557.8 L219.5 1557.8 L227.7 1557.8 L235.9 1557.8 L244.2 1557.8 L252.4 1557.8 L260.7 1557.8 L268.9 1557.8 L277.2 1557.8 L285.4 1557.8 L293.6 1557.8 L301.9 1557.8 L310.1 1557.8 L318.4 1557.8 L326.6 1557.8 L334.9 1557.8 L343.1 1557.8 L351.4 1557.8 L359.6 1557.8 L367.8 1557.8 L376.1 1557.8 L384.3 1557.8 L392.6 1557.8 L400.8 1557.8 L409.1 1557.8 L417.3 1557.8 L425.6 1557.8 L433.8 1557.8 L442 1557.8 L450.3 1557.8 L458.5 1557.8 L466.8 1557.8 L475 1557.8 L483.3 1557.8 L491.5 1557.8 L499.8 1557.8 L508 1557.8 L516.2 1557.8 L524.5 1557.8 L532.7 1557.8 L541 1557.8 L549.2 1557.8 L557.5 1557.8 L565.7 1557.8 L573.9 1557.8 L582.2 1557.8 L590.4 1557.8 L598.7 1557.8 L606.9 1557.8 L615.2 1557.8 L623.4 1557.8 L631.7 1557.8 L639.9 1557.8 L648.1 1557.8 L656.4 1557.8 L664.6 1557.8 L672.9 1557.8 L681.1 1557.8 L689.4 1557.8 L697.6 1557.8 L705.9 1557.8 L714.1 1557.8 L722.3 1557.8 L730.6 1557.8 L738.8 1557.8 L747.1 1557.8 L755.3 1557.8 L763.6 1557.8 L771.8 1557.8 L780.1 1557.8 L788.3 1557.8 L796.5 1557.8 L804.8 1557.8 L813 1557.8 L821.3 1557.8 L829.5 1557.8 L837.8 1557.8 L846 1557.8 L854.3 1557.8 L862.5 1557.8 L870.7 1557.8 L879 1557.8 L887.2 1557.8 L895.5 1557.8 L903.7 1557.8 L912 1557.8 L920.2 1557.8 L928.4 1557.8 L936.7 1557.8 L944.9 1557.8 L953.2 1557.8 L961.4 1557.8 L969.7 1557.8 L977.9 1557.8 L986.2 1557.8 L994.4 1557.8 L1002.6 1557.8 L1010.9 1557.8 L1019.1 1557.8 L1027.4 1557.8 L1035.6 1557.8 L1043.9 1557.8 L1052.1 1557.8 L1060.4 1557.8 L1068.6 1557.8 L1073.6 1557.8 L1073.6 1363.3 Z" fill="#97b8ff"/>
<path d="M74.3 1363.3 L74.3 1496.3 L79.3 1496.3 L87.5 1496.3 L95.8 1496.3 L104 1496.3 L112.3 1496.2 L120.5 1496.2 L128.8 1496.2 L137 1496.2 L145.3 1496.2 L153.5 1496.2 L161.7 1496.2 L170 1496.2 L178.2 1496.1 L186.5 1496.1 L194.7 1496.1 L203 1496.1 L211.2 1496.1 L219.5 1496.1 L227.7 1496.1 L235.9 1496.1 L244.2 1496 L252.4 1496 L260.7 1496 L268.9 1496 L277.2 1496 L285.4 1496 L293.6 1496 L301.9 1496 L310.1 1496 L318.4 1495.9 L326.6 1495.9 L334.9 1495.9 L343.1 1495.9 L351.4 1495.9 L359.6 1495.9 L367.8 1495.9 L376.1 1495.8 L384.3 1495.8 L392.6 1495.8 L400.8 1495.8 L409.1 1495.8 L417.3 1495.8 L425.6 1495.8 L433.8 1495.8 L442 1495.8 L450.3 1495.7 L458.5 1495.7 L466.8 1495.7 L475 1495.7 L483.3 1495.7 L491.5 1495.7 L499.8 1495.7 L508 1495.6 L516.2 1495.6 L524.5 1495.6 L532.7 1495.6 L541 1495.6 L549.2 1495.6 L557.5 1495.6 L565.7 1495.6 L573.9 1495.5 L582.2 1495.5 L590.4 1495.5 L598.7 1495.5 L606.9 1495.5 L615.2 1495.5 L623.4 1495.5 L631.7 1495.5 L639.9 1495.5 L648.1 1495.4 L656.4 1495.4 L664.6 1495.4 L672.9 1495.4 L681.1 1495.4 L689.4 1495.4 L697.6 1495.4 L705.9 1495.3 L714.1 1495.3 L722.3 1495.3 L730.6 1495.3 L738.8 1495.3 L747.1 1495.3 L755.3 1495.3 L763.6 1495.3 L771.8 1495.2 L780.1 1495.2 L788.3 1495.2 L796.5 1495.2 L804.8 1495.2 L813 1495.2 L821.3 1495.2 L829.5 1495.2 L837.8 1495.1 L846 1495.1 L854.3 1495.1 L862.5 1495.1 L870.7 1495.1 L879 1495.1 L887.2 1495.1 L895.5 1495.1 L903.7 1495 L912 1495 L920.2 1495 L928.4 1495 L936.7 1495 L944.9 1495 L953.2 1495 L961.4 1495 L969.7 1495 L977.9 1494.9 L986.2 1494.9 L994.4 1494.9 L1002.6 1494.9 L1010.9 1494.9 L1019.1 1494.9 L1027.4 1494.9 L1035.6 1494.8 L1043.9 1494.8 L1052.1 1494.8 L1060.4 1494.8 L1068.6 1494.8 L1073.6 1494.8 L1073.6 1363.3 Z" fill="#bcd2f7"/>
<path d="M74.3 1363.3 L74.3 1446.3 L79.3 1446.3 L87.5 1446.2 L95.8 1446.1 L104 1446 L112.3 1445.9 L120.5 1445.8 L128.8 1445.7 L137 1445.6 L145.3 1445.5 L153.5 1445.4 L161.7 1445.3 L170 1445.2 L178.2 1445.1 L186.5 1445 L194.7 1444.9 L203 1444.8 L211.2 1444.7 L219.5 1444.6 L227.7 1444.5 L235.9 1444.4 L244.2 1444.3 L252.4 1444.2 L260.7 1444.1 L268.9 1444 L277.2 1443.9 L285.4 1443.8 L293.6 1443.7 L301.9 1443.6 L310.1 1443.5 L318.4 1443.4 L326.6 1443.3 L334.9 1443.2 L343.1 1443.1 L351.4 1443 L359.6 1442.9 L367.8 1442.8 L376.1 1442.7 L384.3 1442.6 L392.6 1442.5 L400.8 1442.4 L409.1 1442.3 L417.3 1442.2 L425.6 1442.1 L433.8 1442 L442 1441.9 L450.3 1441.8 L458.5 1441.7 L466.8 1441.6 L475 1441.5 L483.3 1441.4 L491.5 1441.3 L499.8 1441.2 L508 1441.1 L516.2 1441 L524.5 1440.9 L532.7 1440.8 L541 1440.7 L549.2 1440.6 L557.5 1440.5 L565.7 1440.4 L573.9 1440.3 L582.2 1440.2 L590.4 1440.1 L598.7 1440 L606.9 1440 L615.2 1439.9 L623.4 1439.8 L631.7 1439.7 L639.9 1439.6 L648.1 1439.5 L656.4 1439.5 L664.6 1439.4 L672.9 1439.3 L681.1 1439.2 L689.4 1439.1 L697.6 1439 L705.9 1439 L714.1 1438.9 L722.3 1438.8 L730.6 1438.7 L738.8 1438.6 L747.1 1438.5 L755.3 1438.5 L763.6 1438.4 L771.8 1438.3 L780.1 1438.2 L788.3 1438.1 L796.5 1438 L804.8 1438 L813 1437.9 L821.3 1437.8 L829.5 1437.7 L837.8 1437.6 L846 1437.5 L854.3 1437.5 L862.5 1437.4 L870.7 1437.3 L879 1437.2 L887.2 1437.1 L895.5 1437 L903.7 1437 L912 1436.9 L920.2 1436.8 L928.4 1436.7 L936.7 1436.6 L944.9 1436.5 L953.2 1436.5 L961.4 1436.4 L969.7 1436.3 L977.9 1436.2 L986.2 1436.1 L994.4 1436 L1002.6 1436 L1010.9 1435.9 L1019.1 1435.8 L1027.4 1435.7 L1035.6 1435.6 L1043.9 1435.5 L1052.1 1435.5 L1060.4 1435.4 L1068.6 1435.3 L1073.6 1435.3 L1073.6 1363.3 Z" fill="#dddcdc"/>
</g>
<g clip-path="url(#cp02)" fill="#f3c8b2">
<path d="M60 1384.1C63.2 1384.1 57.7 1384.4 79.3 1384C100.9 1383.6 159.7 1382.9 189.5 1381.7C219.3 1380.5 240.8 1378.6 258 1377.1C275.2 1375.5 282.9 1373.9 292.5 1372.4C302.1 1370.9 311.1 1369.8 315.4 1368.3C319.6 1366.8 317.6 1364.1 318 1363.3L59.3 1363.3Z"/>
<path d="M1100 1369.8C1033.3 1369.8 813.6 1369.5 700 1369.8C586.4 1370.1 472.2 1370.5 418.4 1371.4C364.6 1372.2 386.7 1373.4 377.2 1374.9C367.7 1376.4 365.2 1378.1 361.2 1380.6C357.2 1383.1 354.5 1388.3 353.2 1389.8C354.5 1391.1 356.1 1395.7 361.2 1397.8C366.3 1399.9 374.5 1401.2 384 1402.4C393.5 1403.5 401.2 1404.1 418.4 1404.7C435.6 1405.3 460.9 1405.4 487 1405.8C513.1 1406.2 522.8 1406.5 575 1406.9C627.2 1407.3 712.5 1407.8 800 1408.3C887.5 1408.8 1050 1409.8 1100 1410.1L1088.6 1363.3Z"/>
</g>
<path clip-path="url(#cp02)" d="M79.3 1408.8l-68.8 .4 .7-4.9-11.9 6.3 12 6.2-.8-5 68.8-.4zM112.3 1408.8l-68.9 .5 .8-4.9-11.9 6.3 12 6.1-.8-4.9 68.8-.5zM145.2 1408.8l-68.8 .6 .8-5-11.9 6.4 12 6.1-.9-4.9 68.9-.6zM178.2 1408.8l-68.8 .6 .7-4.9-11.9 6.3 12 6.2-.8-5 68.8-.6zM211.2 1408.8l-68.8 .7 .7-4.9-11.9 6.3 12 6.1-.8-4.9 68.8-.7zM244.2 1408.8l-68.9 .8 .8-5-11.9 6.4 12 6.1-.8-4.9 68.8-.8zM277.1 1408.8l-68.8 .9 .7-5-11.8 6.4 12 6.1-.8-4.9 68.8-.9zM310.1 1408.8l-70.8 1.7 .6-4.9-11.8 6.5 12.1 5.9-.9-4.9 70.9-1.7zM343.1 1408.8l-72.9 2.6 .6-5-11.7 6.7 12.2 5.8-1-4.9 72.9-2.6zM376 1408.8l-76.8 3.9 .5-4.9-11.6 6.8 12.3 5.6-1.1-4.9 76.9-3.9zM409 1408.8l-80.9 5.3 .5-5-11.5 7 12.3 5.4-1.1-4.8 80.9-5.3zM441.9 1408.8l-85.5 6.2 .5-5-11.5 7.1 12.4 5.4-1.2-4.9 85.5-6.2zM474.9 1408.8l-90.2 7.1 .4-5-11.4 7.2 12.4 5.3-1.2-4.9 90.2-7.1zM507.9 1408.8l-94.9 8.1 .4-5-11.4 7.2 12.4 5.2-1.2-4.9 94.9-8zM540.9 1408.8l-98.9 8.7 .3-5-11.3 7.3 12.4 5.1-1.2-4.8 98.9-8.7zM573.8 1408.8l-102.8 9.3 .3-5-11.4 7.3 12.5 5.2-1.2-4.9 102.9-9.3zM606.8 1408.8l-106.9 10 .4-5-11.4 7.3 12.5 5.1-1.2-4.8 106.8-10zM639.8 1408.8l-108.1 10.3 .3-5-11.3 7.4 12.5 5.1-1.3-4.9 108.1-10.3zM672.8 1408.8l-109.4 10.7 .3-5-11.3 7.3 12.5 5.1-1.3-4.8 109.4-10.7zM705.7 1408.8l-110.6 11 .3-5-11.3 7.4 12.5 5-1.2-4.8 110.6-11zM738.7 1408.8l-111.9 11.4 .3-5-11.3 7.4 12.6 5-1.3-4.8 111.9-11.4zM771.7 1408.8l-112.3 11.5 .3-5-11.3 7.4 12.5 5-1.2-4.8 112.2-11.5zM804.7 1408.8l-112.7 11.6 .2-5-11.2 7.4 12.5 5-1.3-4.8 112.7-11.6zM837.6 1408.8l-113 11.7 .2-5-11.2 7.4 12.5 5-1.3-4.9 113.1-11.6zM870.6 1408.8l-113.5 11.8 .3-5-11.3 7.4 12.6 5-1.3-4.9 113.5-11.7zM903.6 1408.8l-113.9 11.9 .3-5-11.3 7.4 12.6 5-1.3-4.9 113.9-11.8zM936.6 1408.8l-114.5 11.9 .2-5-11.2 7.4 12.5 5-1.3-4.9 114.5-11.8zM969.5 1408.8l-115 11.9 .2-5-11.2 7.4 12.5 5-1.3-4.9 115.1-11.8zM1002.5 1408.8l-115.7 11.9 .3-5-11.3 7.4 12.6 5-1.3-4.8 115.7-11.9zM1035.5 1408.8l-116.3 11.9 .3-5-11.3 7.4 12.6 5-1.3-4.8 116.3-11.9zM1068.5 1408.8l-116.9 11.9 .3-5-11.3 7.4 12.5 5-1.2-4.8 116.8-11.9zM1101.4 1408.8l-116.8 11.9 .2-5-11.2 7.4 12.5 5-1.3-4.8 116.9-11.9zM1134.4 1408.8l-116.9 11.9 .3-5-11.2 7.4 12.5 5-1.3-4.8 116.9-11.9zM1167.4 1408.8l-116.9 11.9 .3-5-11.3 7.4 12.6 5-1.3-4.8 116.9-11.9zM1200.4 1408.8l-116.9 11.9 .3-5-11.3 7.4 12.5 5-1.2-4.8 116.8-11.9zM1233.4 1408.8l-116.9 11.9 .3-5-11.3 7.4 12.5 5-1.3-4.8 116.9-11.9zM79.3 1448.3l-44.8 .8 .6-5-11.8 6.5 12.1 6-.9-4.9 44.8-.8zM112.2 1448.3l-44.8 1 .7-5-11.8 6.5 12.1 6-.9-4.9 44.8-1zM145.2 1448.3l-44.8 1.1 .7-4.9-11.8 6.5 12.1 5.9-.9-4.9 44.8-1.1zM178.2 1448.3l-44.8 1.3 .6-5-11.8 6.6 12.2 5.9-1-4.9 44.9-1.3zM211.2 1448.3l-44.9 1.4 .7-4.9-11.8 6.6 12.2 5.9-1-5 44.8-1.4zM244.1 1448.3l-44.8 1.6 .6-5-11.7 6.7 12.2 5.8-1-4.9 44.8-1.6zM277.1 1448.3l-44.8 1.8 .6-5-11.7 6.7 12.2 5.8-1-4.9 44.8-1.8zM310.1 1448.3l-44.8 1.9 .5-4.9-11.7 6.7 12.3 5.7-1-4.9 44.8-1.9zM343.1 1448.3l-44.9 2.1 .6-5-11.7 6.8 12.2 5.7-1-4.9 44.9-2.1zM376 1448.3l-44.8 2.2 .5-4.9-11.6 6.8 12.2 5.6-1-4.9 44.9-2.2zM409 1448.3l-44.8 2.4 .5-5-11.6 6.9 12.2 5.6-1-4.9 44.8-2.4zM442 1448.3l-44.9 2.2 .6-4.9-11.7 6.8 12.3 5.6-1-4.9 44.8-2.2zM475 1448.3l-44.9 2.1 .6-5-11.7 6.8 12.3 5.7-1.1-4.9 44.9-2.1zM507.9 1448.3l-44.8 1.9 .6-4.9-11.7 6.7 12.2 5.7-1-4.9 44.9-1.9zM540.9 1448.3l-44.8 1.8 .6-5-11.7 6.7 12.2 5.8-1-4.9 44.8-1.8zM573.9 1448.3l-44.8 1.6 .6-5-11.8 6.7 12.2 5.8-.9-4.9 44.8-1.6zM606.9 1448.3l-44.6 1.3 .6-5-11.8 6.6 12.2 5.9-1-4.9 44.7-1.3zM639.9 1448.3l-44.4 1 .6-5-11.8 6.5 12.1 6-.9-4.9 44.4-1zM672.9 1448.3l-44.3 .6 .7-4.9-11.8 6.4 12 6.1-.8-5 44.2-.6zM705.8 1448.3l-44 .3 .8-4.9-11.9 6.3 12 6.2-.9-5 44.1-.3zM738.8 1448.3l-43.8 0 .8-4.9-12 6.2 12 6.2-.8-4.9 43.8 0zM771.8 1448.3l-43.8-.1 .8-4.9-12 6.2 12 6.3-.8-5 43.8 .1zM804.8 1448.3l-43.8-.2 .8-4.9-12 6.2 11.9 6.3-.7-5 43.8 .2zM837.8 1448.3l-43.8-.2 .8-5-12 6.2 11.9 6.3-.8-4.9 43.9 .2zM870.7 1448.3l-43.8-.3 .8-5-12 6.2 12 6.3-.8-4.9 43.8 .3zM903.7 1448.3l-43.8-.4 .8-4.9-12 6.1 11.9 6.3-.7-4.9 43.8 .4zM936.7 1448.3l-43.8-.5 .8-4.9-12 6.1 11.9 6.4-.7-5 43.8 .5zM969.7 1448.3l-43.8-.6 .8-4.9-12 6.1 11.8 6.4-.7-5 43.9 .6zM1002.7 1448.3l-43.9-.6 .9-5-12.1 6.1 11.9 6.4-.7-4.9 43.8 .6zM1035.6 1448.3l-43.8-.7 .9-4.9-12.1 6 11.9 6.4-.7-4.9 43.8 .7zM1068.6 1448.3l-43.8-.8 .9-4.9-12.1 6 11.8 6.5-.6-5 43.8 .8zM1101.6 1448.3l-43.8-.8 .8-4.9-12 6 11.8 6.5-.7-5 43.9 .8zM1134.6 1448.3l-43.8-.8 .8-4.9-12 6 11.8 6.5-.7-5 43.8 .8zM1167.6 1448.3l-43.9-.8 .9-4.9-12.1 6 11.9 6.5-.7-5 43.8 .8zM1200.5 1448.3l-43.8-.8 .9-4.9-12.1 6 11.9 6.5-.7-5 43.8 .8zM1233.5 1448.3l-43.8-.8 .9-4.9-12.1 6 11.8 6.5-.7-5 43.9 .8zM79.4 1505.3l-24.9-1.7 1.2-4.9-12.4 5.4 11.5 7.1-.4-5 24.8 1.7zM112.4 1505.3l-25-1.7 1.1-4.9-12.4 5.4 11.5 7.1-.4-5 25 1.7zM145.3 1505.3l-25.1-1.7 1.1-4.9-12.3 5.4 11.5 7-.4-4.9 25.1 1.7zM178.3 1505.3l-25.2-1.7 1.1-4.9-12.4 5.4 11.5 7-.4-4.9 25.2 1.7zM211.3 1505.3l-25.4-1.7 1.1-4.9-12.3 5.4 11.5 7-.5-4.9 25.4 1.7zM244.3 1505.3l-25.5-1.7 1.1-4.9-12.4 5.4 11.5 7-.4-4.9 25.5 1.7zM277.2 1505.3l-25.6-1.7 1.1-4.9-12.3 5.4 11.5 7-.5-4.9 25.7 1.7zM310.2 1505.3l-25.8-1.7 1.2-4.9-12.4 5.4 11.5 7-.4-4.9 25.7 1.7zM343.2 1505.3l-25.9-1.7 1.1-4.9-12.4 5.4 11.6 7-.5-5 25.9 1.8zM376.2 1505.3l-26.1-1.7 1.1-4.9-12.3 5.4 11.5 7-.4-5 26 1.8zM409.2 1505.3l-26.2-1.8 1.1-4.8-12.4 5.4 11.5 7-.4-5 26.2 1.8zM442.1 1505.3l-26.3-1.8 1.1-4.8-12.3 5.4 11.5 7-.5-5 26.4 1.8zM475.1 1505.3l-26.4-1.8 1.1-4.8-12.4 5.4 11.5 7-.4-5 26.4 1.8zM508.1 1505.3l-26.6-1.8 1.1-4.8-12.3 5.4 11.5 7-.5-5 26.6 1.8zM541.1 1505.3l-26.8-1.8 1.2-4.8-12.4 5.4 11.5 7-.4-5 26.7 1.8zM574 1505.3l-26.8-1.8 1.1-4.8-12.4 5.4 11.6 7-.5-5 26.9 1.8zM607 1505.3l-27-1.8 1.1-4.8-12.3 5.4 11.5 7-.4-5 26.9 1.8zM640 1505.3l-27.1-1.8 1.1-4.8-12.4 5.4 11.6 7-.5-5 27.1 1.8zM673 1505.3l-27.3-1.8 1.1-4.8-12.3 5.4 11.5 7-.4-5 27.2 1.8zM705.9 1505.3l-27.3-1.8 1.1-4.9-12.4 5.5 11.6 7-.5-5 27.4 1.8zM738.9 1505.3l-27.5-1.8 1.1-4.9-12.3 5.5 11.5 7-.5-5 27.5 1.8zM771.9 1505.3l-27.6-1.8 1-4.9-12.3 5.5 11.5 7-.4-5 27.6 1.8zM804.9 1505.3l-27.8-1.8 1.1-4.9-12.3 5.5 11.5 7-.5-5 27.8 1.8zM837.8 1505.3l-27.9-1.8 1.1-4.9-12.3 5.5 11.5 7-.4-5 27.9 1.8zM870.8 1505.3l-28-1.8 1.1-4.9-12.4 5.5 11.6 7-.5-5 28.1 1.8zM903.8 1505.3l-28.2-1.8 1.1-4.9-12.3 5.5 11.5 7-.4-5 28.1 1.8zM936.8 1505.3l-28.3-1.8 1.1-4.9-12.4 5.5 11.6 7-.5-5 28.3 1.8zM969.8 1505.3l-28.5-1.8 1.1-4.9-12.3 5.5 11.5 7-.5-5 28.5 1.8zM1002.7 1505.3l-28.5-1.8 1-4.9-12.3 5.5 11.6 7-.5-5 28.6 1.8zM1035.7 1505.3l-28.7-1.8 1.1-4.9-12.3 5.5 11.5 7-.5-5 28.7 1.8zM1068.7 1505.3l-28.9-1.8 1.1-4.9-12.3 5.5 11.5 7-.4-5 28.8 1.8zM1101.7 1505.3l-28.9-1.8 1.1-4.9-12.3 5.5 11.5 7-.4-5 28.8 1.8zM1134.6 1505.3l-28.8-1.8 1.1-4.9-12.3 5.5 11.5 7-.5-5 28.9 1.8zM1167.6 1505.3l-28.8-1.8 1.1-4.9-12.4 5.5 11.6 7-.5-5 28.8 1.8zM1200.6 1505.3l-28.9-1.8 1.1-4.9-12.3 5.5 11.6 7-.5-5 28.8 1.8zM1233.6 1505.3l-28.9-1.8 1.1-4.9-12.3 5.5 11.5 7-.4-5 28.8 1.8zM79.6 1565.3l-7.1-1.5 1.8-4.7-13 3.5 10.3 8.7 .3-5 7.1 1.6zM112.6 1565.3l-7.2-1.6 1.9-4.6-13.1 3.5 10.4 8.7 .3-5 7.1 1.6zM145.5 1565.3l-7.1-1.6 1.8-4.6-13 3.5 10.3 8.7 .3-5 7.2 1.6zM178.5 1565.3l-7.2-1.6 1.9-4.6-13.1 3.4 10.3 8.8 .4-5 7.1 1.6zM211.5 1565.3l-7.2-1.6 1.8-4.6-13 3.4 10.3 8.7 .3-5 7.2 1.7zM244.5 1565.3l-7.3-1.6 1.9-4.6-13.1 3.4 10.3 8.7 .3-5 7.3 1.7zM277.4 1565.3l-7.2-1.6 1.8-4.7-13 3.5 10.3 8.7 .3-5 7.3 1.7zM310.4 1565.3l-7.3-1.6 1.8-4.7-13 3.5 10.3 8.7 .3-5 7.4 1.7zM343.4 1565.3l-7.4-1.6 1.9-4.7-13.1 3.5 10.3 8.7 .4-5 7.3 1.7zM376.4 1565.3l-7.4-1.6 1.8-4.7-13 3.4 10.3 8.8 .3-5 7.4 1.7zM409.4 1565.3l-7.5-1.7 1.9-4.6-13.1 3.4 10.3 8.8 .3-5 7.5 1.7zM442.3 1565.3l-7.4-1.7 1.8-4.6-13 3.4 10.3 8.8 .3-5 7.5 1.7zM475.3 1565.3l-7.5-1.7 1.9-4.6-13.1 3.4 10.3 8.7 .3-4.9 7.5 1.7zM508.3 1565.3l-7.5-1.7 1.8-4.6-13 3.4 10.2 8.7 .4-5 7.5 1.8zM541.3 1565.3l-7.6-1.7 1.9-4.6-13.1 3.4 10.3 8.7 .3-5 7.6 1.8zM574.2 1565.3l-7.6-1.7 1.9-4.7-13.1 3.4 10.3 8.8 .4-5 7.6 1.8zM607.2 1565.3l-7.6-1.7 1.8-4.7-13 3.4 10.2 8.8 .4-5 7.6 1.8zM640.2 1565.3l-7.7-1.7 1.9-4.7-13.1 3.4 10.3 8.8 .3-5 7.7 1.8zM673.2 1565.3l-7.7-1.7 1.8-4.7-13 3.4 10.2 8.8 .4-5 7.7 1.8zM706.2 1565.3l-7.8-1.8 1.9-4.6-13.1 3.4 10.3 8.8 .3-5 7.8 1.8zM739.1 1565.3l-7.7-1.8 1.8-4.6-13 3.4 10.2 8.7 .4-4.9 7.7 1.8zM772.1 1565.3l-7.8-1.8 1.9-4.6-13.1 3.3 10.2 8.8 .4-5 7.8 1.9zM805.1 1565.3l-7.9-1.8 1.9-4.6-13 3.3 10.2 8.8 .3-5 7.9 1.9zM838.1 1565.3l-7.9-1.8 1.9-4.6-13.1 3.3 10.2 8.8 .4-5 7.9 1.9zM871 1565.3l-7.9-1.8 1.9-4.7-13.1 3.4 10.3 8.8 .3-5 7.9 1.9zM904 1565.3l-7.9-1.8 1.9-4.7-13.1 3.4 10.2 8.8 .4-5 7.9 1.9zM937 1565.3l-8-1.8 1.9-4.7-13.1 3.4 10.2 8.8 .4-5 8 1.9zM970 1565.3l-8-1.9 1.8-4.6-13 3.3 10.2 8.9 .4-5 8 1.9zM1002.9 1565.3l-8-1.9 1.9-4.6-13.1 3.3 10.2 8.9 .4-5 8 1.9zM1035.9 1565.3l-8.1-1.9 1.9-4.6-13 3.3 10.2 8.8 .3-4.9 8.1 1.9zM1068.9 1565.3l-8.1-1.9 1.9-4.6-13.1 3.3 10.2 8.8 .4-5 8.1 2zM1101.9 1565.3l-8.1-1.9 1.9-4.6-13.1 3.3 10.2 8.8 .4-5 8.1 2zM1134.9 1565.3l-8.2-1.9 1.9-4.6-13 3.3 10.2 8.8 .3-5 8.2 2zM1167.8 1565.3l-8.1-1.9 1.9-4.6-13.1 3.3 10.2 8.8 .4-5 8.1 2zM1200.8 1565.3l-8.1-1.9 1.9-4.6-13.1 3.3 10.2 8.8 .4-5 8.1 2zM1233.8 1565.3l-8.1-1.9 1.9-4.6-13.1 3.3 10.2 8.8 .4-5 8.1 2zM80.2 1621.1l0-.5 3.3 .5-4.2-8-4.2 8 3.3-.5 0 .5zM113.5 1621l-.1-.7 4.6 .3-6.7-10.5-4.8 11.5 4.5-1.1 .1 .7zM146.6 1621.1l0-2.1 4.9 .8-6.2-12-6.3 12 5-.8 0 2.1zM179.5 1621.2l.2-2.2 4.9 1.2-5.4-12.4-7.1 11.5 5-.4-.2 2.1zM212.5 1621l-.5-4.6 5 .2-7.5-11.2-4.9 12.6 4.8-1.3 .5 4.5zM245.5 1621.1l0-4.5 4.9 .8-6.2-12-6.3 12 5-.8 0 4.5zM278.5 1621.1l0-3.3 4.9 .8-6.2-12-6.3 12 5-.8 0 3.3zM311.4 1621.1l0-3.3 5 .8-6.3-12-6.2 12 4.9-.8 0 3.3zM344.4 1621.1l0-1.8 5 .8-6.3-12-6.2 12 4.9-.8 0 1.8zM377.4 1621.1l0-1.8 4.9 .8-6.2-12-6.3 12 5-.8 0 1.8zM410.4 1621.1l0-1.8 4.9 .8-6.2-12-6.3 12 5-.8 0 1.8zM443.3 1621l0-.8 5 .6-6.8-11.7-5.7 12.2 4.9-1 0 .9zM476.2 1621l0-.7 4.6 .5-6.3-10.7-5.2 11.3 4.5-1 0 .8zM509.1 1621l0-.6 4.1 .4-5.7-9.7-4.7 10.3 4.1-.9 0 .7zM542 1621.1l0-.6 3.7 .6-4.7-9-4.7 9 3.7-.6 0 .6zM574.6 1621.1l0-.4 2.5 .4-3.2-6-3.1 6 2.5-.4 0 .4zM607.5 1621.1l0-.3 2 .3-2.6-5-2.6 5 2.1-.3 0 .3zM641.2 1621.1l-.6 1.1-1.3 0-.7-1.1 .7-1.1 1.3 0zM674.2 1621.1l-.7 1.1-1.3 0-.6-1.1 .6-1.1 1.3 0zM707.2 1621.1l-.7 1.1-1.3 0-.6-1.1 .6-1.1 1.3 0zM740.1 1621.1l-.6 1.1-1.3 0-.7-1.1 .7-1.1 1.3 0zM773.1 1621.1l-.6 1.1-1.3 0-.7-1.1 .7-1.1 1.3 0zM806.1 1621.1l-.7 1.1-1.3 0-.6-1.1 .6-1.1 1.3 0zM839.1 1621.1l-.7 1.1-1.3 0-.6-1.1 .6-1.1 1.3 0zM872 1621.1l-.6 1.1-1.3 0-.7-1.1 .7-1.1 1.3 0zM905 1621.1l-.6 1.1-1.3 0-.7-1.1 .7-1.1 1.3 0zM938 1621.1l-.7 1.1-1.3 0-.6-1.1 .6-1.1 1.3 0zM971 1621.1l-.7 1.1-1.3 0-.6-1.1 .6-1.1 1.3 0zM1003.9 1621.1l-.6 1.1-1.3 0-.7-1.1 .7-1.1 1.3 0zM1036.9 1621.1l-.6 1.1-1.3 0-.7-1.1 .7-1.1 1.3 0zM1069.9 1621.1l-.7 1.1-1.3 0-.6-1.1 .6-1.1 1.3 0zM-51.5 1656.2l5.6-10.2 4 3.1 .3-13.5-11.2 7.5 4.7 1.7-5.6 10.2zM-18.5 1656.2l5.6-10.2 4 3.1 .3-13.5-11.3 7.5 4.7 1.7-5.6 10.2zM14.5 1656.2l5.6-10.2 4 3.1 .2-13.5-11.2 7.5 4.7 1.7-5.6 10.2zM47.5 1656.2l5.6-10.2 3.9 3.1 .3-13.5-11.2 7.5 4.7 1.7-5.6 10.2zM80.4 1656.2l5.7-10.2 3.9 3.1 .3-13.5-11.2 7.5 4.7 1.7-5.6 10.2zM113.6 1655.5l-2.2-43.7 5 .5-6.8-11.6-5.7 12.3 4.9-1.1 2.2 43.8zM146.6 1655.6l-.5-47.4 4.9 .7-6.3-11.9-6.2 12 5-.8 .5 47.4zM179.5 1655.7l2.2-42.6 4.9 1.1-5.7-12.3-6.8 11.6 5-.5-2.2 42.5zM212.5 1655.9l6.2-29.7 4.7 1.8-3.7-13-8.6 10.4 5 .3-6.2 29.6zM245.3 1656.2l7.5-15 4.1 2.9-.3-13.5-10.9 7.9 4.8 1.5-7.5 15zM277.9 1656.6l8-5.9 2.3 4.5 5.9-12.2-13.4 2.1 3.6 3.5-7.9 6zM310.5 1656.9l10-2.7 .5 5 9.9-9.1-13.1-3 2 4.6-10 2.6zM343.1 1656.9l12.4-.3-.7 5 11.8-6.5-12.1-6 .9 4.9-12.3 .3zM375.9 1656.9l13.9 2-1.4 4.8 12.7-4.5-11-7.9 .1 5-13.9-2zM408.7 1656.9l16.9 4.7-2 4.5 13.2-2.8-9.9-9.2-.6 5-16.9-4.8zM441.6 1656.8l20.5 7.5-2.4 4.4 13.3-1.8-9.1-10-.9 4.9-20.5-7.4zM474.5 1656.8l24 10.4-2.6 4.3 13.4-1-8.5-10.5-1.2 4.9-24.1-10.5zM507.5 1656.8l27.4 12.6-2.8 4.2 13.5-.7-8.3-10.7-1.3 4.8-27.5-12.6zM540.4 1656.8l29.9 14.6-2.9 4.1 13.5-.3-8-10.9-1.5 4.8-29.9-14.7zM573.4 1656.8l32.6 16.3-2.9 4.1 13.4-.2-7.8-10.9-1.6 4.7-32.6-16.4zM606.3 1656.8l36.1 18.2-3 4.1 13.5-.2-7.8-11-1.6 4.8-36-18.3zM639.3 1656.8l39 18.9-2.9 4.1 13.5-.4-8-10.8-1.5 4.7-38.9-18.9zM672.3 1656.8l40.9 19.5-2.8 4.2 13.5-.5-8.1-10.8-1.4 4.8-41-19.6zM705.3 1656.8l40.9 20-2.8 4.1 13.5-.3-8-10.9-1.5 4.8-41-20.1zM738.2 1656.8l41.5 20.9-3 4.1 13.5-.2-7.8-11-1.6 4.8-41.4-21zM771.2 1656.7l41.9 22.2-3 4 13.5 .1-7.6-11.1-1.7 4.7-41.9-22.1zM804.2 1656.7l40.7 22.4-3.1 3.9 13.5 .3-7.5-11.2-1.7 4.7-40.7-22.3zM837.1 1656.7l39.6 22.5-3.1 3.9 13.5 .5-7.4-11.3-1.7 4.6-39.6-22.4zM870.1 1656.7l39.9 22.5-3.1 4 13.4 .4-7.3-11.3-1.8 4.7-39.8-22.5zM903.1 1656.7l39.4 22.1-3.1 3.9 13.5 .4-7.4-11.3-1.7 4.7-39.4-22zM936.1 1656.8l38.3 19.5-2.9 4 13.5-.1-7.8-11-1.6 4.8-38.3-19.6zM969 1656.7l35.2 19.3-3 3.9 13.5 .3-7.5-11.2-1.7 4.7-35.2-19.2zM1002 1656.7l33.1 17.8-3 3.9 13.4 .2-7.5-11.2-1.7 4.8-33-17.7zM1035 1656.8l30 15-2.9 4 13.5-.2-7.9-10.9-1.5 4.7-30-15zM1068 1656.8l28 14-2.9 4 13.5-.2-7.9-10.9-1.5 4.7-28-14zM-51.4 1682l10.5-35.3 4.5 2.1-2.6-13.2-9.4 9.7 5 .7-10.5 35.2zM-18.4 1682l10.4-35.3 4.6 2.1-2.6-13.2-9.4 9.7 5 .7-10.5 35.2zM14.6 1682l10.4-35.3 4.5 2.1-2.6-13.2-9.3 9.7 4.9 .7-10.4 35.2zM47.6 1682l10.4-35.3 4.5 2.1-2.6-13.2-9.4 9.7 5 .7-10.4 35.2zM80.5 1682l10.5-35.3 4.5 2.1-2.6-13.2-9.4 9.7 5 .7-10.4 35.2zM113.5 1681.9l10.1-41.5 4.6 1.9-3.2-13.1-8.9 10.2 5 .4-10.1 41.5zM146.5 1681.9l10.5-45.1 4.6 1.9-3.3-13.1-8.8 10.2 5 .4-10.5 45.1zM179.5 1681.9l10.1-40.1 4.6 1.9-3.1-13.1-9 10.1 5 .4-10.1 40.2zM212.5 1682l9.3-31 4.5 2.2-2.5-13.3-9.4 9.6 4.9 .7-9.3 31zM245.3 1682.2l10.6-18.8 3.9 3.1 .4-13.5-11.3 7.4 4.7 1.7-10.6 18.9zM278 1682.6l10.9-9.4 2.6 4.2 5-12.5-13.2 3.1 3.9 3.2-10.9 9.4zM310.3 1682.9l12.8-1.9-.1 5 10.9-8-12.7-4.4 1.5 4.8-12.8 1.9zM342.7 1682.8l17.6 5.6-2.3 4.5 13.3-2.4-9.5-9.6-.8 5-17.5-5.5zM375.4 1682.7l22.4 12.9-3.2 3.9 13.5 .6-7.2-11.4-1.8 4.7-22.4-12.9zM408.3 1682.7l26.8 18.1-3.4 3.7 13.4 1.5-6.4-11.9-2.2 4.6-26.7-18.2zM441.3 1682.6l31 23.2-3.6 3.5 13.3 2.1-5.8-12.1-2.3 4.4-31.1-23.1zM474.2 1682.6l31.5 26.7-3.8 3.3 13.1 3-5.1-12.5-2.6 4.3-31.4-26.8zM507.1 1682.6l32.4 29.4-3.9 3.2 13 3.4-4.6-12.7-2.8 4.2-32.3-29.5zM540.1 1682.5l33.9 32.3-4 3.1 13 3.7-4.4-12.8-2.8 4.1-33.9-32.2zM573.1 1682.5l38.8 36.4-3.9 3.1 12.9 3.6-4.4-12.7-2.8 4.1-38.9-36.3zM606 1682.5l39.5 37-4 3.1 13 3.6-4.4-12.7-2.8 4.1-39.5-36.9zM639 1682.5l38.9 38-4 3 12.9 3.9-4.2-12.8-2.9 4.1-38.9-38zM672 1682.5l38.8 39.1-4.1 2.9 12.9 4.1-4-12.9-3 4.1-38.8-39.1zM704.9 1682.5l38.6 39.6-4.1 2.9 12.9 4.2-3.9-12.9-3 4-38.6-39.6zM737.9 1682.5l37.8 39.9-4.1 2.8 12.7 4.4-3.7-13-3 4-37.8-39.9zM770.9 1682.5l36.8 38-4.1 2.9 12.8 4.2-3.8-12.9-3 4-36.9-38zM803.8 1682.5l34.4 36.8-4.1 2.8 12.7 4.5-3.6-13-3.1 3.9-34.4-36.8zM836.8 1682.5l32.1 35.2-4.2 2.8 12.7 4.6-3.5-13-3.1 3.9-32.1-35.3zM869.8 1682.5l31.1 34.1-4.1 2.8 12.6 4.6-3.4-13-3.1 3.9-31.2-34.2zM902.8 1682.5l30.2 32.9-4.2 2.8 12.7 4.6-3.5-13-3.1 3.9-30.2-33zM935.8 1682.5l29.2 30.8-4.2 2.8 12.8 4.4-3.7-13-3.1 4-29.2-30.8zM968.7 1682.5l28 28.6-4.1 2.9 12.9 4.2-3.9-12.9-3 4-28-28.6zM1001.7 1682.5l27 26.5-4.1 3 12.9 3.9-4.1-12.8-2.9 4-26.9-26.4zM1034.8 1682.6l24.6 22.3-3.9 3.1 13 3.4-4.7-12.7-2.7 4.2-24.6-22.3zM1067.7 1682.6l22.7 20.5-3.9 3.1 13.1 3.4-4.7-12.6-2.7 4.1-22.7-20.5zM-51.3 1703.8l8-45 4.7 1.7-4-12.9-8.3 10.7 5 .1-8 45zM-18.4 1703.8l8.1-45 4.7 1.7-4-12.9-8.3 10.7 5 .1-8 45zM14.6 1703.8l8.1-45 4.7 1.7-4.1-12.9-8.2 10.7 5 .1-8 45zM47.6 1703.8l8-45 4.8 1.7-4.1-12.9-8.2 10.7 5 .1-8.1 45zM80.6 1703.8l8-45 4.7 1.7-4-12.9-8.2 10.7 5 .1-8.1 45zM113.6 1703.8l5.5-40.9 4.8 1.4-4.6-12.7-7.8 11 5-.1-5.5 40.9zM146.5 1703.8l5.5-37.9 4.7 1.4-4.4-12.7-7.9 11 5-.1-5.4 37.9zM179.5 1703.9l6.4-30.1 4.7 1.8-3.7-13-8.6 10.4 5 .3-6.3 30zM212.4 1704.1l8.2-18.9 4.2 2.7-1-13.5-10.5 8.5 4.9 1.3-8.2 18.9zM245.1 1704.5l9.5-9 2.9 4.1 4.4-12.7-13 3.7 4 3-9.6 9.1zM277.5 1704.9l12.1-3.2 .5 5 10-9.1-13.2-3 2 4.6-12.1 3.1zM309.8 1704.9l13.6 3.3-2 4.6 13.1-3.2-10.1-8.9-.4 5-13.6-3.4zM342.7 1704.8l22.5 8.2-2.5 4.4 13.4-1.8-9.1-10-.9 5-22.5-8.2zM375.5 1704.7l27 14.4-3 4 13.5 .1-7.6-11.1-1.7 4.7-27-14.3zM408.4 1704.7l30.2 19.5-3.4 3.7 13.5 1.3-6.7-11.7-2 4.5-30.2-19.5zM441.3 1704.6l33.4 25.3-3.6 3.5 13.3 2.2-5.7-12.2-2.4 4.4-33.5-25.2zM474.2 1704.6l35.2 29.7-3.7 3.3 13.1 2.9-5.1-12.5-2.6 4.3-35.2-29.7zM507.1 1704.6l38.1 33.1-3.8 3.3 13.1 3.1-4.9-12.6-2.7 4.3-38-33.2zM540.1 1704.6l38.6 33.6-3.8 3.2 13.1 3.2-4.9-12.6-2.7 4.3-38.6-33.7zM573.1 1704.6l38.8 33.7-3.8 3.2 13.1 3.1-4.9-12.6-2.7 4.3-38.8-33.7zM606.1 1704.6l39 33.7-3.8 3.2 13.1 3.1-4.9-12.5-2.7 4.2-39-33.7zM639.1 1704.6l39.2 33.7-3.8 3.2 13.2 3.1-5.1-12.5-2.6 4.2-39.2-33.7zM672 1704.6l39.5 33.7-3.8 3.3 13.2 3-5.1-12.5-2.6 4.3-39.5-33.8zM705 1704.6l38.6 33.4-3.9 3.2 13.2 3.1-5-12.5-2.6 4.2-38.6-33.4zM738 1704.6l37.6 33.1-3.9 3.2 13.1 3.2-4.8-12.6-2.7 4.2-37.6-33.1zM770.9 1704.6l35.3 32.6-3.9 3.1 13 3.5-4.5-12.7-2.8 4.2-35.3-32.7zM803.9 1704.5l33 32.2-4 3 12.9 3.9-4.2-12.8-2.9 4.1-33-32.2zM836.8 1704.5l30.2 31-4.1 2.9 12.9 4.2-3.9-12.9-3 4-30.2-31zM869.8 1704.5l29.8 30.9-4.1 2.9 12.7 4.3-3.8-12.9-3 3.9-29.7-30.9zM902.8 1704.5l28.6 27.7-4 3.1 12.9 3.8-4.2-12.8-2.9 4.1-28.6-27.7zM935.8 1704.6l27.5 25.4-3.9 3.1 13 3.5-4.6-12.7-2.7 4.2-27.5-25.5zM968.8 1704.5l26.6 25.3-4 3.1 13 3.7-4.4-12.8-2.8 4.2-26.6-25.3zM1001.8 1704.6l26.5 23.5-3.8 3.2 13 3.3-4.8-12.6-2.6 4.2-26.6-23.6zM1034.8 1704.6l23.2 20.2-3.8 3.2 13.1 3.1-4.9-12.6-2.7 4.3-23.2-20.2zM1067.7 1704.6l21.6 18.7-3.8 3.2 13.1 3.1-5-12.5-2.6 4.2-21.5-18.7zM-51.3 1737.5l2.2-9.1 4.6 1.9-3.1-13.1-9 10.1 5 .4-2.3 9.2zM-18.4 1737.5l2.3-9.1 4.6 1.9-3.1-13.1-9 10.1 5 .4-2.3 9.2zM14.6 1737.5l2.3-9.1 4.6 1.9-3.2-13.1-8.9 10.1 5 .4-2.3 9.2zM47.6 1737.5l2.3-9.1 4.6 1.9-3.2-13.1-8.9 10.1 5 .4-2.3 9.2zM80.6 1737.5l2.2-9.1 4.7 1.9-3.2-13.1-9 10.1 5 .4-2.3 9.2zM113.6 1737.2l.5-16.8 4.9 .9-5.9-12.1-6.6 11.8 5-.7-.5 16.9zM146.5 1737.7l3-8.1 4.4 2.5-1.6-13.4-10.1 9 4.9 1-3.1 8zM179.3 1737.9l2.5-3.7 3.7 3.4 1.4-13.4-11.8 6.5 4.5 2.1-2.5 3.7zM212.2 1738.1l2.3-2.5 3.1 3.9 3.6-13-12.7 4.5 4.1 2.8-2.3 2.5zM243 1737.4l.1 .7-4.7 .1 7.8 10 3.7-12-4.4 1.5-.1-.7zM276 1737.3l0 .7-4.6-.3 6.8 10.5 4.7-11.5-4.5 1.1 0-.7zM310 1738.5l4.9 .6-1.4 4.8 12.6-4.7-11.1-7.7 .2 5-4.9-.6zM343.2 1738.5l6.3-.2-.7 5 11.8-6.6-12.1-5.9 .9 4.9-6.3 .2zM376 1738.5l8.9 .5-1.1 4.9 12.3-5.5-11.6-6.9 .5 4.9-8.8-.5zM408.8 1738.5l12.1 2.5-1.8 4.7 13-3.7-10.5-8.6-.2 5-12.1-2.5zM441.6 1738.4l15.1 4.9-2.3 4.5 13.3-2.3-9.4-9.6-.8 4.9-15.1-4.8zM474.5 1738.4l18 7.2-2.6 4.3 13.4-1.4-8.8-10.2-1.1 4.8-17.9-7.1zM507.4 1738.4l22.3 10.6-2.9 4.2 13.5-.5-8.1-10.8-1.4 4.8-22.2-10.7zM540.4 1738.3l25.1 13.7-3 4 13.5 .2-7.6-11.2-1.6 4.7-25.2-13.6zM573.3 1738.3l28.2 15.9-3.1 4 13.4 .4-7.3-11.3-1.7 4.7-28.2-15.9zM606.3 1738.3l29.6 17.1-3.2 3.8 13.5 .6-7.2-11.4-1.8 4.7-29.6-17zM639.3 1738.3l30 17.1-3.1 3.9 13.5 .5-7.3-11.3-1.8 4.6-30.1-17zM672.2 1738.3l31.6 18.2-3.1 3.9 13.5 .6-7.3-11.4-1.8 4.7-31.6-18.2zM705.2 1738.3l31.7 18.3-3.2 3.8 13.5 .6-7.2-11.4-1.8 4.7-31.7-18.2zM738.2 1738.3l31.7 18.3-3.1 3.9 13.5 .5-7.3-11.4-1.8 4.7-31.7-18.2zM771.2 1738.3l31.8 18.3-3.2 3.9 13.5 .5-7.3-11.4-1.7 4.7-31.8-18.2zM804.1 1738.3l30.4 17.7-3.2 3.8 13.5 .6-7.2-11.4-1.8 4.7-30.4-17.6zM837.1 1738.3l28.9 17-3.2 3.9 13.5 .7-7.2-11.4-1.8 4.6-28.9-17zM870.1 1738.3l24.4 14.8-3.2 3.8 13.4 .9-7-11.5-1.8 4.6-24.5-14.8zM903 1738.3l24.8 14.9-3.2 3.8 13.4 .8-7-11.5-1.9 4.6-24.7-14.8zM936 1738.3l23.8 13.9-3.2 3.9 13.5 .6-7.2-11.4-1.8 4.6-23.8-13.8zM969 1738.3l21.7 12.7-3.2 3.9 13.5 .6-7.2-11.4-1.8 4.6-21.7-12.6zM1002 1738.3l19.6 11.5-3.2 3.9 13.4 .7-7.1-11.4-1.8 4.6-19.6-11.5zM1035 1738.3l17.4 10.3-3.1 3.9 13.4 .7-7.1-11.5-1.8 4.7-17.5-10.3zM1068 1738.3l16.3 9.4-3.2 3.9 13.5 .6-7.2-11.4-1.8 4.7-16.4-9.4zM80.6 1763.4l0-3.8 4.9 .8-6.2-12-6.2 12 4.9-.8 0 3.8zM113.6 1763.3l-.5-10.2 5 .6-6.8-11.7-5.7 12.2 4.9-1 .5 10.3zM146.6 1763.4l0-10.2 4.9 .8-6.2-12-6.3 12 5-.8 0 10.2zM179.5 1763.4l0-9.6 5 .8-6.3-12-6.2 12 4.9-.8 0 9.6zM212.5 1763.4l0-9.6 4.9 .8-6.2-12-6.2 12 4.9-.8 0 9.6zM245.5 1763.4l.2-9 4.9 .9-5.9-12.1-6.6 11.8 5-.7-.2 9.1zM278.5 1763.4l.2-7.8 4.9 .9-5.9-12.1-6.6 11.8 5-.7-.2 7.9zM311.4 1763.5l.7-6.7 4.8 1.2-5-12.5-7.4 11.3 5-.3-.7 6.8zM344.4 1763.1l-.3-1.2 5-.4-9-10.1-3.1 13.1 4.6-1.9 .3 1.1zM376.3 1762.3l-.6-.1 1.4-4-11 3.2 8.9 7.2 .2-4.2 .7 .1zM408 1763.5l0 .7-4.2-.3 6.3 9.5 4.2-10.5-4.1 1 0-.6zM441.2 1764.1l.4 .5-3.7 1.9 10.1 4.9-1.8-11.1-2.9 3-.4-.6zM475 1764.7l5.2 0-.7 4.9 11.9-6.2-11.9-6.2 .7 4.9-5.2 0zM507.9 1764.7l7.9 .5-1.1 4.9 12.3-5.5-11.5-7 .4 5-7.8-.5zM540.8 1764.7l9.7 1.4-1.5 4.8 12.8-4.5-11-7.9 .1 5-9.7-1.4zM573.7 1764.7l12.6 2.5-1.7 4.7 12.9-3.7-10.4-8.5-.2 5-12.7-2.6zM606.6 1764.7l14.2 3.4-2 4.6 13.1-3.3-10.1-8.9-.4 5-14.2-3.4zM639.6 1764.7l15.9 4.2-2.1 4.6 13.2-3-10-9.1-.5 5-15.9-4.3zM672.5 1764.6l16.9 5.1-2.2 4.5 13.3-2.5-9.7-9.4-.7 4.9-16.8-5zM705.5 1764.6l18.5 5.7-2.2 4.5 13.3-2.5-9.7-9.5-.7 5-18.5-5.6zM738.4 1764.6l19.4 6.2-2.3 4.4 13.3-2.3-9.5-9.6-.7 5-19.4-6.1zM771.4 1764.6l19.8 7-2.3 4.4 13.3-1.9-9.2-9.9-.9 5-19.9-7zM804.3 1764.6l19.6 7.5-2.5 4.3 13.4-1.5-8.9-10.1-1.1 4.9-19.5-7.5zM837.3 1764.6l21.1 7.6-2.4 4.4 13.4-1.8-9.2-9.9-.9 4.9-21.1-7.6zM870.3 1764.6l21.2 6.9-2.3 4.5 13.3-2.3-9.4-9.6-.8 4.9-21.2-6.8zM903.3 1764.6l20.3 6.4-2.3 4.5 13.3-2.4-9.5-9.5-.8 4.9-20.2-6.3zM936.3 1764.6l17.1 5.7-2.3 4.5 13.3-2.2-9.4-9.7-.8 4.9-17.1-5.6zM969.3 1764.6l13.7 4.6-2.2 4.4 13.3-2.2-9.5-9.7-.7 5-13.8-4.5zM1002.2 1764.6l11.7 3.9-2.3 4.5 13.3-2.2-9.3-9.7-.9 4.9-11.6-3.8zM1035.2 1764.6l9.7 3-2.2 4.5 13.2-2.4-9.5-9.5-.8 4.9-9.6-2.9zM1068.2 1764.6l8.3 2.7-2.2 4.4 13.3-2.3-9.5-9.6-.8 5-8.3-2.6zM80.6 1785.4l0-.8 4.9 .8-6.2-12-6.2 12 4.9-.8 0 .8zM113.6 1785.4l0-5.5 4.9 .8-6.2-12-6.3 12 5-.8 0 5.5zM146.6 1785.4l0-4.8 4.9 .8-6.2-12-6.3 12 5-.8 0 4.8zM179.5 1785.4l0-4.8 5 .8-6.3-12-6.2 12 4.9-.8 0 4.8zM212.5 1785.4l0-4.3 4.9 .8-6.2-12-6.2 12 4.9-.8 0 4.3zM245.5 1785.4l.1-3.1 4.9 1-5.8-12.2-6.7 11.7 5-.6-.1 3.2zM278.5 1785.4l0-.8 4.9 .8-6.2-12-6.3 12 5-.8 0 .8zM310.4 1784.6l-.5-.1 1.3-2.8-8.1 1.7 6 5.7 .4-3.1 .4 .2zM342.4 1785.4l0 .5-2.9-.5 3.6 7 3.7-7-2.9 .5 0-.5zM375.9 1786.2l.4 .1-1.3 2.8 8.1-1.7-6-5.7-.3 3.1-.5-.2zM409.1 1786.5l.6 0-.6 4.1 10-5.2-10-5.2 .6 4.1-.6 0zM442 1786.7l.9 0-.8 4.9 11.9-6.2-11.9-6.2 .8 4.9-.9 0zM475 1786.7l1.8 0-.7 4.9 11.9-6.2-11.9-6.2 .7 4.9-1.8 0zM508 1786.7l2.1 0-.8 4.9 11.9-6.2-11.9-6.2 .8 4.9-2.1 0zM541 1786.7l2.3 0-.8 4.9 12-6.2-12-6.2 .8 4.9-2.3 0zM573.8 1786.6l.8 .1-1.2 4.4 11.5-4.7-10.4-6.7 .3 4.6-.7-.1zM606.9 1786.7l1.8 0-.7 4.9 11.9-6.2-11.9-6.2 .7 4.9-1.8 0zM639.9 1786.7l2 0-.8 4.9 12-6.2-12-6.2 .8 4.9-2 0zM672.9 1786.7l2.1 0-.7 4.9 11.9-6.2-11.9-6.2 .7 4.9-2.1 0zM705.9 1786.7l2.3 0-.8 4.9 12-6.2-12-6.2 .8 4.9-2.3 0zM738.8 1786.7l2.9 0-.8 4.9 11.9-6.2-11.9-6.2 .8 4.9-2.9 0zM771.8 1786.7l2.8 0-.8 4.9 12-6.2-12-6.2 .8 4.9-2.8 0zM804.8 1786.7l2.8 0-.8 4.9 12-6.2-12-6.2 .8 4.9-2.8 0zM837.3 1786.6l4.6 1.7-2.5 4.4 13.4-1.6-9-10.1-1 4.9-4.6-1.7zM870.3 1786.6l6.5 2.4-2.4 4.4 13.3-1.7-9-10-1 4.9-6.5-2.4zM903.4 1786.7l8.7 2.3-2 4.5 13.1-2.9-9.9-9.1-.6 5-8.6-2.4zM936.5 1786.7l12 2.1-1.7 4.7 12.9-4.1-10.7-8.2-.1 5-12-2.1zM969.5 1786.7l10.9 1.4-1.4 4.8 12.7-4.6-11.1-7.7 .2 5-11-1.5zM1002.5 1786.7l11.2 1.1-1.3 4.9 12.5-5-11.2-7.4 .3 5-11.2-1.2zM1035.6 1786.7l10.2 .5-1 4.9 12.2-5.6-11.6-6.8 .5 4.9-10.2-.5zM1068.5 1786.7l9.9 .5-1 4.9 12.2-5.7-11.6-6.8 .5 5-9.8-.5zM80.2 1805.1l0-.5 3.3 .5-4.2-8-4.2 8 3.3-.5 0 .5zM113.4 1805.1l0-.7 4.1 .7-5.2-10-5.2 10 4.1-.7 0 .7zM146 1805.1l0-.5 2.9 .5-3.6-7-3.7 7 2.9-.5 0 .5zM178.7 1805.1l0-.3 1.6 .3-2.1-4-2.1 4 1.7-.3 0 .3zM212.5 1805.1l-.6 1.1-1.3 0-.7-1.1 .7-1.1 1.3 0zM245.5 1805.1l-.7 1.1-1.3 0-.6-1.1 .6-1.1 1.3 0zM278.5 1805.1l-.7 1.1-1.3 0-.6-1.1 .6-1.1 1.3 0zM311.4 1805.1l-.6 1.1-1.3 0-.7-1.1 .7-1.1 1.3 0zM344.4 1805.1l-.6 1.1-1.3 0-.7-1.1 .7-1.1 1.3 0zM377.4 1805.1l-.7 1.1-1.3 0-.6-1.1 .6-1.1 1.3 0zM410.4 1805.1l-.7 1.1-1.3 0-.6-1.1 .6-1.1 1.3 0zM443.3 1805.1l-.6 1.1-1.3 0-.7-1.1 .7-1.1 1.3 0zM476.3 1805.1l-.6 1.1-1.3 0-.7-1.1 .7-1.1 1.3 0zM509.3 1805.1l-.7 1.1-1.3 0-.6-1.1 .6-1.1 1.3 0zM542.3 1805.1l-.7 1.1-1.3 0-.6-1.1 .6-1.1 1.3 0zM575.2 1805.1l-.6 1.1-1.3 0-.7-1.1 .7-1.1 1.3 0zM607.4 1805.1l0-.3 1.6 .3-2.1-4-2.1 4 1.7-.3 0 .3zM640.4 1805.1l0-.3 2.1 .3-2.6-5-2.6 5 2.1-.3 0 .3zM673.5 1805.1l0-.4 2.5 .4-3.1-6-3.2 6 2.5-.4 0 .4zM706.6 1805.1l0-.5 2.9 .5-3.6-7-3.7 7 2.9-.5 0 .5zM739.7 1805.1l0-.5 3.3 .5-4.2-8-4.1 8 3.3-.5 0 .5zM772.8 1805.1l0-.6 3.7 .6-4.7-9-4.7 9 3.7-.6 0 .6zM805.8 1805.1l0-.6 3.9 .6-4.9-9.5-5 9.5 4-.6 0 .6zM837.7 1806.4l.8 .1-1.2 4.8 12.5-5.2-11.4-7.2 .3 5-.8-.1zM870.7 1806.4l3.6 0-.8 4.9 11.9-6.2-11.9-6.2 .8 4.9-3.6 0zM903.7 1806.4l6 0-.7 4.9 11.9-6.2-11.9-6.2 .7 4.9-6 0zM936.7 1806.4l7.3 0-.8 4.9 12-6.2-12-6.2 .8 4.9-7.3 0zM969.7 1806.4l8.6 0-.8 4.9 12-6.2-12-6.2 .8 4.9-8.6 0zM1002.6 1806.4l7.8 0-.8 4.9 11.9-6.2-11.9-6.2 .8 4.9-7.8 0zM1035.6 1806.4l6.8 0-.7 4.9 11.9-6.2-11.9-6.2 .7 4.9-6.8 0zM1068.6 1806.4l5.8 0-.8 4.9 12-6.2-12-6.2 .8 4.9-5.8 0zM79.3 1830.7l-.3-2.9 5 .2-7.5-11.2-4.9 12.6 4.8-1.3 .4 2.8zM112.3 1830.7l-.3-2.9 5 .2-7.5-11.2-4.9 12.6 4.8-1.3 .3 2.8zM145.3 1830.7l-.3-2.9 5 .2-7.5-11.2-4.9 12.6 4.8-1.3 .3 2.8zM178.3 1830.7l-.3-2.9 5 .2-7.5-11.2-5 12.6 4.9-1.3 .3 2.8zM211.2 1830.7l-.3-2.9 5 .2-7.4-11.2-5 12.6 4.9-1.3 .3 2.8zM244.2 1830.7l-.3-2.9 5 .2-7.5-11.2-4.9 12.6 4.8-1.3 .3 2.8zM277.2 1830.7l-.3-2.9 5 .2-7.5-11.2-4.9 12.6 4.8-1.3 .3 2.8zM310.2 1830.7l-.3-2.9 5 .2-7.5-11.2-4.9 12.6 4.8-1.3 .3 2.8zM343.2 1830.7l-.4-2.9 5 .2-7.4-11.2-5 12.6 4.9-1.3 .3 2.8zM376.1 1830.7l-.3-2.9 5 .2-7.5-11.2-4.9 12.6 4.8-1.3 .3 2.8zM408.4 1823.8l-.7 1.1-1.3 0-.6-1.1 .6-1.1 1.3 0zM441.3 1823.8l-.6 1.1-1.3 0-.7-1.1 .7-1.1 1.3 0zM474.3 1823.8l-.6 1.1-1.3 0-.7-1.1 .7-1.1 1.3 0zM507.3 1823.8l-.7 1.1-1.3 0-.6-1.1 .6-1.1 1.3 0zM540.3 1823.8l-.7 1.1-1.3 0-.6-1.1 .6-1.1 1.3 0zM573.2 1823.8l-.6 1.1-1.3 0-.7-1.1 .7-1.1 1.3 0zM608.2 1823.8l-.6 1.1-1.3 0-.7-1.1 .7-1.1 1.3 0zM641.2 1823.8l-.6 1.1-1.3 0-.7-1.1 .7-1.1 1.3 0zM674.2 1823.8l-.7 1.1-1.3 0-.6-1.1 .6-1.1 1.3 0zM707.2 1823.8l-.7 1.1-1.3 0-.6-1.1 .6-1.1 1.3 0zM740.1 1823.8l-.6 1.1-1.3 0-.7-1.1 .7-1.1 1.3 0zM772.5 1826.8l0-.4 2.4 .4-3.1-6-3.1 6 2.5-.4 0 .4zM805.4 1826.8l0-.4 2.5 .4-3.1-6-3.1 6 2.4-.4 0 .4zM838.4 1826.8l0-.4 2.5 .4-3.1-6-3.2 6 2.5-.4 0 .4zM871.4 1826.8l0-.4 2.5 .4-3.2-6-3.1 6 2.5-.4 0 .4zM904.6 1827.8l0-.5 3.3 .5-4.2-8-4.2 8 3.3-.5 0 .5zM933.7 1827.1l.5-.4 1.6 3.3 4.4-8.7-9.6 1.3 2.5 2.6-.5 .3zM965.1 1826.9l.7-.3 1 4.4 7.9-9.2-12.1-1.2 2.3 3.9-.7 .2zM998.1 1826.9l.6-.3 1 4.4 7.9-9.2-12-1.2 2.3 3.9-.7 .2zM1031.1 1826.9l.6-.3 1 4.4 7.9-9.2-12.1-1.2 2.3 3.9-.6 .2zM1064 1826.9l.7-.3 1 4.4 7.9-9.2-12.1-1.2 2.3 3.9-.6 .2zM78.8 1838.4l-.3-2.9 5 .2-7.5-11.2-4.9 12.6 4.8-1.3 .4 2.8zM111.8 1838.4l-.3-2.9 5 .2-7.5-11.2-4.9 12.6 4.8-1.3 .3 2.8zM144.8 1838.4l-.3-2.9 5 .2-7.5-11.2-4.9 12.6 4.8-1.3 .3 2.8zM177.8 1838.4l-.3-2.9 5 .2-7.5-11.2-5 12.6 4.9-1.3 .3 2.8zM210.7 1838.4l-.3-2.9 5 .2-7.4-11.2-5 12.6 4.9-1.3 .3 2.8zM243.7 1838.4l-.3-2.9 5 .2-7.5-11.2-4.9 12.6 4.8-1.3 .3 2.8zM276.7 1838.4l-.3-2.9 5 .2-7.5-11.2-4.9 12.6 4.8-1.3 .3 2.8zM309.7 1838.4l-.3-2.9 5 .2-7.5-11.2-4.9 12.6 4.8-1.3 .3 2.8zM342.7 1838.4l-.4-2.9 5 .2-7.4-11.2-5 12.6 4.9-1.3 .3 2.8zM375.6 1838.4l-.3-2.9 5 .2-7.5-11.2-4.9 12.6 4.8-1.3 .3 2.8zM408.6 1837.9l-.2-1.9 5 .2-7.6-11.2-4.8 12.6 4.8-1.3 .2 1.8zM441.6 1837.9l-.2-1.9 5 .2-7.6-11.2-4.8 12.6 4.8-1.3 .2 1.8zM473.8 1831.5l-.6 1.1-1.3 0-.7-1.1 .7-1.1 1.3 0zM506.8 1831.5l-.7 1.1-1.3 0-.6-1.1 .6-1.1 1.3 0zM539.8 1831.5l-.7 1.1-1.3 0-.6-1.1 .6-1.1 1.3 0zM572.7 1831.5l-.6 1.1-1.3 0-.7-1.1 .7-1.1 1.3 0zM608.2 1831.5l-.6 1.1-1.3 0-.7-1.1 .7-1.1 1.3 0zM641.2 1831.5l-.6 1.1-1.3 0-.7-1.1 .7-1.1 1.3 0zM674.2 1831.5l-.7 1.1-1.3 0-.6-1.1 .6-1.1 1.3 0zM707.2 1831.5l-.7 1.1-1.3 0-.6-1.1 .6-1.1 1.3 0zM740.1 1831.5l-.6 1.1-1.3 0-.7-1.1 .7-1.1 1.3 0zM772.5 1834.5l0-.4 2.4 .4-3.1-6-3.1 6 2.5-.4 0 .4zM805.4 1834.5l0-.4 2.5 .4-3.1-6-3.1 6 2.4-.4 0 .4zM838.4 1834.5l0-.4 2.5 .4-3.1-6-3.2 6 2.5-.4 0 .4zM871.4 1834.5l0-.4 2.5 .4-3.2-6-3.1 6 2.5-.4 0 .4zM904.6 1835.5l0-.5 3.3 .5-4.2-8-4.2 8 3.3-.5 0 .5zM937.7 1836l0-.6 3.7 .6-4.7-9-4.7 9 3.7-.6 0 .6zM971 1837.5l0-.8 4.9 .8-6.2-12-6.3 12 5-.8 0 .8zM1004.4 1838.4l-.2-2.8 5 .4-7.1-11.5-5.3 12.4 4.8-1.2 .2 2.9zM1037.4 1838.4l-.2-2.8 5 .4-7.1-11.5-5.3 12.4 4.8-1.2 .2 2.9zM1070.4 1838.4l-.2-2.8 5 .4-7.1-11.5-5.4 12.4 4.9-1.2 .2 2.9zM1103.4 1838.4l-.2-2.8 5 .4-7.1-11.5-5.4 12.4 4.9-1.2 .2 2.9zM1136.4 1838.4l-.3-2.8 5 .4-7-11.5-5.4 12.4 4.9-1.2 .2 2.9zM1169.3 1838.4l-.2-2.8 5 .4-7.1-11.5-5.3 12.4 4.8-1.2 .2 2.9zM1202.3 1838.4l-.2-2.8 5 .4-7.1-11.5-5.4 12.4 4.9-1.2 .2 2.9zM1235.3 1838.4l-.2-2.8 5 .4-7.1-11.5-5.4 12.4 4.9-1.2 .2 2.9zM83.3 1838.4l-.3-2.9 5 .2-7.5-11.2-4.9 12.6 4.8-1.3 .4 2.8zM116.3 1838.4l-.3-2.9 5 .2-7.5-11.2-4.9 12.6 4.8-1.3 .3 2.8zM149.3 1838.4l-.3-2.9 5 .2-7.5-11.2-4.9 12.6 4.8-1.3 .3 2.8zM182.3 1838.4l-.3-2.9 5 .2-7.5-11.2-5 12.6 4.9-1.3 .3 2.8zM215.2 1838.4l-.3-2.9 5 .2-7.4-11.2-5 12.6 4.9-1.3 .3 2.8zM248.2 1838.4l-.3-2.9 5 .2-7.5-11.2-4.9 12.6 4.8-1.3 .3 2.8zM281.2 1838.4l-.3-2.9 5 .2-7.5-11.2-4.9 12.6 4.8-1.3 .3 2.8zM314.2 1838.4l-.3-2.9 5 .2-7.5-11.2-4.9 12.6 4.8-1.3 .3 2.8zM347.2 1838.4l-.4-2.9 5 .2-7.4-11.2-5 12.6 4.9-1.3 .3 2.8zM380.1 1838.4l-.3-2.9 5 .2-7.5-11.2-4.9 12.6 4.8-1.3 .3 2.8zM78.3 1846.9l-.3-2.9 5 .2-7.5-11.2-4.9 12.6 4.8-1.3 .4 2.8zM111.3 1846.9l-.3-2.9 5 .2-7.5-11.2-4.9 12.6 4.8-1.3 .3 2.8zM144.3 1846.9l-.3-2.9 5 .2-7.5-11.2-4.9 12.6 4.8-1.3 .3 2.8zM177.3 1846.9l-.3-2.9 5 .2-7.5-11.2-5 12.6 4.9-1.3 .3 2.8zM210.2 1846.9l-.3-2.9 5 .2-7.4-11.2-5 12.6 4.9-1.3 .3 2.8zM243.2 1846.9l-.3-2.9 5 .2-7.5-11.2-4.9 12.6 4.8-1.3 .3 2.8zM276.2 1846.9l-.3-2.9 5 .2-7.5-11.2-4.9 12.6 4.8-1.3 .3 2.8zM309.2 1846.9l-.3-2.9 5 .2-7.5-11.2-4.9 12.6 4.8-1.3 .3 2.8zM342.2 1846.9l-.4-2.9 5 .2-7.4-11.2-5 12.6 4.9-1.3 .3 2.8zM375.1 1846.9l-.3-2.9 5 .2-7.5-11.2-4.9 12.6 4.8-1.3 .3 2.8zM408.1 1846.4l-.2-1.9 5 .2-7.6-11.2-4.8 12.6 4.8-1.3 .2 1.8zM441.1 1846.4l-.2-1.9 5 .2-7.6-11.2-4.8 12.6 4.8-1.3 .2 1.8zM474.1 1846.4l-.3-1.9 5 .2-7.5-11.2-4.9 12.6 4.9-1.3 .2 1.8zM506.3 1840l-.7 1.1-1.3 0-.6-1.1 .6-1.1 1.3 0zM539.3 1840l-.7 1.1-1.3 0-.6-1.1 .6-1.1 1.3 0zM572.2 1840l-.6 1.1-1.3 0-.7-1.1 .7-1.1 1.3 0zM608.2 1840l-.6 1.1-1.3 0-.7-1.1 .7-1.1 1.3 0zM641.2 1840l-.6 1.1-1.3 0-.7-1.1 .7-1.1 1.3 0zM674.2 1840l-.7 1.1-1.3 0-.6-1.1 .6-1.1 1.3 0zM707.2 1840l-.7 1.1-1.3 0-.6-1.1 .6-1.1 1.3 0zM740.1 1840l-.6 1.1-1.3 0-.7-1.1 .7-1.1 1.3 0zM772.5 1843l0-.4 2.4 .4-3.1-6-3.1 6 2.5-.4 0 .4zM805.4 1843l0-.4 2.5 .4-3.1-6-3.1 6 2.4-.4 0 .4zM839.1 1840l-.7 1.1-1.3 0-.6-1.1 .6-1.1 1.3 0zM872 1840l-.6 1.1-1.3 0-.7-1.1 .7-1.1 1.3 0zM904.6 1844l0-.5 3.3 .5-4.2-8-4.2 8 3.3-.5 0 .5zM937.7 1844.5l0-.6 3.7 .6-4.7-9-4.7 9 3.7-.6 0 .6zM971 1846l0-.8 4.9 .8-6.2-12-6.3 12 5-.8 0 .8zM1004.4 1846.9l-.2-2.8 5 .4-7.1-11.5-5.3 12.4 4.8-1.2 .2 2.9zM1037.4 1846.9l-.2-2.8 5 .4-7.1-11.5-5.3 12.4 4.8-1.2 .2 2.9zM1070.4 1846.9l-.2-2.8 5 .4-7.1-11.5-5.4 12.4 4.9-1.2 .2 2.9zM1103.4 1846.9l-.2-2.8 5 .4-7.1-11.5-5.4 12.4 4.9-1.2 .2 2.9zM1136.4 1846.9l-.3-2.8 5 .4-7-11.5-5.4 12.4 4.9-1.2 .2 2.9zM1169.3 1846.9l-.2-2.8 5 .4-7.1-11.5-5.3 12.4 4.8-1.2 .2 2.9zM1202.3 1846.9l-.2-2.8 5 .4-7.1-11.5-5.4 12.4 4.9-1.2 .2 2.9zM1235.3 1846.9l-.2-2.8 5 .4-7.1-11.5-5.4 12.4 4.9-1.2 .2 2.9zM82.8 1846.9l-.3-2.9 5 .2-7.5-11.2-4.9 12.6 4.8-1.3 .4 2.8zM115.8 1846.9l-.3-2.9 5 .2-7.5-11.2-4.9 12.6 4.8-1.3 .3 2.8zM148.8 1846.9l-.3-2.9 5 .2-7.5-11.2-4.9 12.6 4.8-1.3 .3 2.8zM181.8 1846.9l-.3-2.9 5 .2-7.5-11.2-5 12.6 4.9-1.3 .3 2.8zM214.7 1846.9l-.3-2.9 5 .2-7.4-11.2-5 12.6 4.9-1.3 .3 2.8zM247.7 1846.9l-.3-2.9 5 .2-7.5-11.2-4.9 12.6 4.8-1.3 .3 2.8zM280.7 1846.9l-.3-2.9 5 .2-7.5-11.2-4.9 12.6 4.8-1.3 .3 2.8zM313.7 1846.9l-.3-2.9 5 .2-7.5-11.2-4.9 12.6 4.8-1.3 .3 2.8zM346.7 1846.9l-.4-2.9 5 .2-7.4-11.2-5 12.6 4.9-1.3 .3 2.8zM379.6 1846.9l-.3-2.9 5 .2-7.5-11.2-4.9 12.6 4.8-1.3 .3 2.8zM77.8 1853.8l-.3-2.9 5 .2-7.5-11.2-4.9 12.6 4.8-1.3 .4 2.8zM110.8 1853.8l-.3-2.9 5 .2-7.5-11.2-4.9 12.6 4.8-1.3 .3 2.8zM143.8 1853.8l-.3-2.9 5 .2-7.5-11.2-4.9 12.6 4.8-1.3 .3 2.8zM176.8 1853.8l-.3-2.9 5 .2-7.5-11.2-5 12.6 4.9-1.3 .3 2.8zM209.7 1853.8l-.3-2.9 5 .2-7.4-11.2-5 12.6 4.9-1.3 .3 2.8zM242.7 1853.8l-.3-2.9 5 .2-7.5-11.2-4.9 12.6 4.8-1.3 .3 2.8zM275.7 1853.8l-.3-2.9 5 .2-7.5-11.2-4.9 12.6 4.8-1.3 .3 2.8zM308.7 1853.8l-.3-2.9 5 .2-7.5-11.2-4.9 12.6 4.8-1.3 .3 2.8zM341.7 1853.8l-.4-2.9 5 .2-7.4-11.2-5 12.6 4.9-1.3 .3 2.8zM374.6 1853.8l-.3-2.9 5 .2-7.5-11.2-4.9 12.6 4.8-1.3 .3 2.8zM407.6 1853.3l-.2-1.9 5 .2-7.6-11.2-4.8 12.6 4.8-1.3 .2 1.8zM440.6 1853.3l-.2-1.9 5 .2-7.6-11.2-4.8 12.6 4.8-1.3 .2 1.8zM473.6 1853.3l-.3-1.9 5 .2-7.5-11.2-4.9 12.6 4.9-1.3 .2 1.8zM506.5 1853.3l-.2-1.9 5 .2-7.6-11.2-4.8 12.6 4.8-1.3 .3 1.8zM538.8 1846.9l-.7 1.1-1.3 0-.6-1.1 .6-1.1 1.3 0zM571.7 1846.9l-.6 1.1-1.3 0-.7-1.1 .7-1.1 1.3 0zM608.2 1846.9l-.6 1.1-1.3 0-.7-1.1 .7-1.1 1.3 0zM641.2 1846.9l-.6 1.1-1.3 0-.7-1.1 .7-1.1 1.3 0zM674.2 1846.9l-.7 1.1-1.3 0-.6-1.1 .6-1.1 1.3 0zM707.2 1846.9l-.7 1.1-1.3 0-.6-1.1 .6-1.1 1.3 0zM740.1 1846.9l-.6 1.1-1.3 0-.7-1.1 .7-1.1 1.3 0zM773.1 1846.9l-.6 1.1-1.3 0-.7-1.1 .7-1.1 1.3 0zM805.4 1849.9l0-.4 2.5 .4-3.1-6-3.1 6 2.4-.4 0 .4zM839.1 1846.9l-.7 1.1-1.3 0-.6-1.1 .6-1.1 1.3 0zM872 1846.9l-.6 1.1-1.3 0-.7-1.1 .7-1.1 1.3 0zM904.3 1849.4l0-.3 2 .3-2.6-5-2.6 5 2.1-.3 0 .3zM937.7 1851.4l0-.6 3.7 .6-4.7-9-4.7 9 3.7-.6 0 .6zM971 1852.9l0-.8 4.9 .8-6.2-12-6.3 12 5-.8 0 .8zM1004.4 1853.8l-.2-2.8 5 .4-7.1-11.5-5.3 12.4 4.8-1.2 .2 2.9zM1037.4 1853.8l-.2-2.8 5 .4-7.1-11.5-5.3 12.4 4.8-1.2 .2 2.9zM1070.4 1853.8l-.2-2.8 5 .4-7.1-11.5-5.4 12.4 4.9-1.2 .2 2.9zM1103.4 1853.8l-.2-2.8 5 .4-7.1-11.5-5.4 12.4 4.9-1.2 .2 2.9zM1136.4 1853.8l-.3-2.8 5 .4-7-11.5-5.4 12.4 4.9-1.2 .2 2.9zM1169.3 1853.8l-.2-2.8 5 .4-7.1-11.5-5.3 12.4 4.8-1.2 .2 2.9zM1202.3 1853.8l-.2-2.8 5 .4-7.1-11.5-5.4 12.4 4.9-1.2 .2 2.9zM1235.3 1853.8l-.2-2.8 5 .4-7.1-11.5-5.4 12.4 4.9-1.2 .2 2.9zM82.3 1853.8l-.3-2.9 5 .2-7.5-11.2-4.9 12.6 4.8-1.3 .4 2.8zM115.3 1853.8l-.3-2.9 5 .2-7.5-11.2-4.9 12.6 4.8-1.3 .3 2.8zM148.3 1853.8l-.3-2.9 5 .2-7.5-11.2-4.9 12.6 4.8-1.3 .3 2.8zM181.3 1853.8l-.3-2.9 5 .2-7.5-11.2-5 12.6 4.9-1.3 .3 2.8zM214.2 1853.8l-.3-2.9 5 .2-7.4-11.2-5 12.6 4.9-1.3 .3 2.8zM247.2 1853.8l-.3-2.9 5 .2-7.5-11.2-4.9 12.6 4.8-1.3 .3 2.8zM280.2 1853.8l-.3-2.9 5 .2-7.5-11.2-4.9 12.6 4.8-1.3 .3 2.8zM313.2 1853.8l-.3-2.9 5 .2-7.5-11.2-4.9 12.6 4.8-1.3 .3 2.8zM346.2 1853.8l-.4-2.9 5 .2-7.4-11.2-5 12.6 4.9-1.3 .3 2.8zM379.1 1853.8l-.3-2.9 5 .2-7.5-11.2-4.9 12.6 4.8-1.3 .3 2.8zM76.8 1860.1l-.3-2.9 5 .2-7.5-11.2-4.9 12.6 4.8-1.3 .4 2.8zM109.8 1860.1l-.3-2.9 5 .2-7.5-11.2-4.9 12.6 4.8-1.3 .3 2.8zM142.8 1860.1l-.3-2.9 5 .2-7.5-11.2-4.9 12.6 4.8-1.3 .3 2.8zM175.8 1860.1l-.3-2.9 5 .2-7.5-11.2-5 12.6 4.9-1.3 .3 2.8zM208.7 1860.1l-.3-2.9 5 .2-7.4-11.2-5 12.6 4.9-1.3 .3 2.8zM241.7 1860.1l-.3-2.9 5 .2-7.5-11.2-4.9 12.6 4.8-1.3 .3 2.8zM274.7 1860.1l-.3-2.9 5 .2-7.5-11.2-4.9 12.6 4.8-1.3 .3 2.8zM307.7 1860.1l-.3-2.9 5 .2-7.5-11.2-4.9 12.6 4.8-1.3 .3 2.8zM340.7 1860.1l-.4-2.9 5 .2-7.4-11.2-5 12.6 4.9-1.3 .3 2.8zM373.6 1860.1l-.3-2.9 5 .2-7.5-11.2-4.9 12.6 4.8-1.3 .3 2.8zM406.6 1859.6l-.2-1.9 5 .2-7.6-11.2-4.8 12.6 4.8-1.3 .2 1.8zM439.6 1859.6l-.2-1.9 5 .2-7.6-11.2-4.8 12.6 4.8-1.3 .2 1.8zM472.6 1859.6l-.3-1.9 5 .2-7.5-11.2-4.9 12.6 4.9-1.3 .2 1.8zM505.5 1859.6l-.2-1.9 5 .2-7.6-11.2-4.8 12.6 4.8-1.3 .3 1.8zM538.5 1859.6l-.2-1.9 5 .2-7.6-11.2-4.8 12.6 4.8-1.3 .2 1.8zM570.7 1853.2l-.6 1.1-1.3 0-.7-1.1 .7-1.1 1.3 0zM608.2 1853.2l-.6 1.1-1.3 0-.7-1.1 .7-1.1 1.3 0zM641.2 1853.2l-.6 1.1-1.3 0-.7-1.1 .7-1.1 1.3 0zM674.2 1853.2l-.7 1.1-1.3 0-.6-1.1 .6-1.1 1.3 0zM707.2 1853.2l-.7 1.1-1.3 0-.6-1.1 .6-1.1 1.3 0zM740.1 1853.2l-.6 1.1-1.3 0-.7-1.1 .7-1.1 1.3 0zM773.1 1853.2l-.6 1.1-1.3 0-.7-1.1 .7-1.1 1.3 0zM805.4 1856.2l0-.4 2.5 .4-3.1-6-3.1 6 2.4-.4 0 .4zM839.1 1853.2l-.7 1.1-1.3 0-.6-1.1 .6-1.1 1.3 0zM872 1853.2l-.6 1.1-1.3 0-.7-1.1 .7-1.1 1.3 0zM904.3 1855.7l0-.3 2 .3-2.6-5-2.6 5 2.1-.3 0 .3zM937.7 1857.7l0-.6 3.7 .6-4.7-9-4.7 9 3.7-.6 0 .6zM971 1859.2l0-.8 4.9 .8-6.2-12-6.3 12 5-.8 0 .8zM1004.4 1860.1l-.2-2.8 5 .4-7.1-11.5-5.3 12.4 4.8-1.2 .2 2.9zM1037.4 1860.1l-.2-2.8 5 .4-7.1-11.5-5.3 12.4 4.8-1.2 .2 2.9zM1070.4 1860.1l-.2-2.8 5 .4-7.1-11.5-5.4 12.4 4.9-1.2 .2 2.9zM1103.4 1860.1l-.2-2.8 5 .4-7.1-11.5-5.4 12.4 4.9-1.2 .2 2.9zM1136.4 1860.1l-.3-2.8 5 .4-7-11.5-5.4 12.4 4.9-1.2 .2 2.9zM1169.3 1860.1l-.2-2.8 5 .4-7.1-11.5-5.3 12.4 4.8-1.2 .2 2.9zM1202.3 1860.1l-.2-2.8 5 .4-7.1-11.5-5.4 12.4 4.9-1.2 .2 2.9zM1235.3 1860.1l-.2-2.8 5 .4-7.1-11.5-5.4 12.4 4.9-1.2 .2 2.9zM80.9 1860.1l-.3-2.9 5 .2-7.5-11.2-4.9 12.6 4.8-1.3 .3 2.8zM113.9 1860.1l-.3-2.9 5 .2-7.5-11.2-5 12.6 4.9-1.3 .3 2.8zM146.8 1860.1l-.3-2.9 5 .2-7.4-11.2-5 12.6 4.9-1.3 .3 2.8zM179.8 1860.1l-.3-2.9 5 .2-7.5-11.2-4.9 12.6 4.8-1.3 .3 2.8zM212.8 1860.1l-.3-2.9 5 .2-7.5-11.2-4.9 12.6 4.8-1.3 .3 2.8zM245.8 1860.1l-.3-2.9 5 .2-7.5-11.2-4.9 12.6 4.8-1.3 .3 2.8zM278.8 1860.1l-.4-2.9 5 .2-7.4-11.2-5 12.6 4.9-1.3 .3 2.8zM311.7 1860.1l-.3-2.9 5 .2-7.5-11.2-4.9 12.6 4.8-1.3 .3 2.8zM344.7 1860.1l-.3-2.9 5 .2-7.5-11.2-4.9 12.6 4.8-1.3 .3 2.8zM377.7 1860.1l-.3-2.9 5 .2-7.5-11.2-4.9 12.6 4.8-1.3 .3 2.8zM76.3 1866l-.3-2.9 5 .2-7.5-11.2-4.9 12.6 4.8-1.3 .4 2.8zM109.3 1866l-.3-2.9 5 .2-7.5-11.2-4.9 12.6 4.8-1.3 .3 2.8zM142.3 1866l-.3-2.9 5 .2-7.5-11.2-4.9 12.6 4.8-1.3 .3 2.8zM175.3 1866l-.3-2.9 5 .2-7.5-11.2-5 12.6 4.9-1.3 .3 2.8zM208.2 1866l-.3-2.9 5 .2-7.4-11.2-5 12.6 4.9-1.3 .3 2.8zM241.2 1866l-.3-2.9 5 .2-7.5-11.2-4.9 12.6 4.8-1.3 .3 2.8zM274.2 1866l-.3-2.9 5 .2-7.5-11.2-4.9 12.6 4.8-1.3 .3 2.8zM307.2 1866l-.3-2.9 5 .2-7.5-11.2-4.9 12.6 4.8-1.3 .3 2.8zM340.2 1866l-.4-2.9 5 .2-7.4-11.2-5 12.6 4.9-1.3 .3 2.8zM373.1 1866l-.3-2.9 5 .2-7.5-11.2-4.9 12.6 4.8-1.3 .3 2.8zM406.1 1865.5l-.2-1.9 5 .2-7.6-11.2-4.8 12.6 4.8-1.3 .2 1.8zM439.1 1865.5l-.2-1.9 5 .2-7.6-11.2-4.8 12.6 4.8-1.3 .2 1.8zM472.1 1865.5l-.3-1.9 5 .2-7.5-11.2-4.9 12.6 4.9-1.3 .2 1.8zM505 1865.5l-.2-1.9 5 .2-7.6-11.2-4.8 12.6 4.8-1.3 .3 1.8zM538 1865.5l-.2-1.9 5 .2-7.6-11.2-4.8 12.6 4.8-1.3 .2 1.8zM571 1865.5l-.2-1.9 5 .2-7.6-11.2-4.8 12.6 4.8-1.3 .2 1.8zM607.4 1861.1l0-.3 1.6 .3-2.1-4-2.1 4 1.7-.3 0 .3zM640.3 1861.1l0-.3 1.7 .3-2.1-4-2.1 4 1.7-.3 0 .3zM673.3 1861.1l0-.3 1.7 .3-2.1-4-2.1 4 1.6-.3 0 .3zM706.3 1861.1l0-.3 1.6 .3-2-4-2.1 4 1.6-.3 0 .3zM739.3 1861.1l0-.3 1.6 .3-2.1-4-2.1 4 1.7-.3 0 .3zM773.1 1859.1l-.6 1.1-1.3 0-.7-1.1 .7-1.1 1.3 0zM805.4 1862.1l0-.4 2.5 .4-3.1-6-3.1 6 2.4-.4 0 .4zM839.1 1859.1l-.7 1.1-1.3 0-.6-1.1 .6-1.1 1.3 0zM872 1859.1l-.6 1.1-1.3 0-.7-1.1 .7-1.1 1.3 0zM904.3 1861.6l0-.3 2 .3-2.6-5-2.6 5 2.1-.3 0 .3zM937.7 1863.6l0-.6 3.7 .6-4.7-9-4.7 9 3.7-.6 0 .6zM971 1865.1l0-.8 4.9 .8-6.2-12-6.3 12 5-.8 0 .8zM1004.4 1866l-.2-2.8 5 .4-7.1-11.5-5.3 12.4 4.8-1.2 .2 2.9zM1037.4 1866l-.2-2.8 5 .4-7.1-11.5-5.3 12.4 4.8-1.2 .2 2.9zM1070.4 1866l-.2-2.8 5 .4-7.1-11.5-5.4 12.4 4.9-1.2 .2 2.9zM1103.4 1866l-.2-2.8 5 .4-7.1-11.5-5.4 12.4 4.9-1.2 .2 2.9zM1136.4 1866l-.3-2.8 5 .4-7-11.5-5.4 12.4 4.9-1.2 .2 2.9zM1169.3 1866l-.2-2.8 5 .4-7.1-11.5-5.3 12.4 4.8-1.2 .2 2.9zM1202.3 1866l-.2-2.8 5 .4-7.1-11.5-5.4 12.4 4.9-1.2 .2 2.9zM1235.3 1866l-.2-2.8 5 .4-7.1-11.5-5.4 12.4 4.9-1.2 .2 2.9zM80.2 1866l-.3-2.9 5 .2-7.5-11.2-5 12.6 4.9-1.3 .3 2.8zM113.1 1866l-.3-2.9 5 .2-7.4-11.2-5 12.6 4.9-1.3 .3 2.8zM146.1 1866l-.3-2.9 5 .2-7.5-11.2-4.9 12.6 4.8-1.3 .3 2.8zM179.1 1866l-.3-2.9 5 .2-7.5-11.2-4.9 12.6 4.8-1.3 .3 2.8zM212.1 1866l-.3-2.9 5 .2-7.5-11.2-4.9 12.6 4.8-1.3 .3 2.8zM245.1 1866l-.4-2.9 5 .2-7.4-11.2-5 12.6 4.9-1.3 .3 2.8zM278 1866l-.3-2.9 5 .2-7.5-11.2-4.9 12.6 4.8-1.3 .3 2.8zM311 1866l-.3-2.9 5 .2-7.5-11.2-4.9 12.6 4.8-1.3 .3 2.8zM344 1866l-.3-2.9 5 .2-7.5-11.2-4.9 12.6 4.8-1.3 .3 2.8zM377 1866l-.4-2.9 5 .2-7.4-11.2-5 12.6 4.9-1.3 .3 2.8z"/>
<rect x="79.3" y="1368.3" width="989.3" height="490.9" class="fr"/>
<line x1="68.8" y1="1785.05" x2="79.3" y2="1785.05" class="tk"/>
<line x1="68.8" y1="1709.10" x2="79.3" y2="1709.10" class="tk"/>
<line x1="68.8" y1="1633.15" x2="79.3" y2="1633.15" class="tk"/>
<line x1="68.8" y1="1557.20" x2="79.3" y2="1557.20" class="tk"/>
<line x1="68.8" y1="1481.25" x2="79.3" y2="1481.25" class="tk"/>
<line x1="68.8" y1="1405.30" x2="79.3" y2="1405.30" class="tk"/>
<line x1="79.30" y1="1859.2" x2="79.30" y2="1869.2" class="tk"/>
<line x1="244.18" y1="1859.2" x2="244.18" y2="1869.2" class="tk"/>
<line x1="409.07" y1="1859.2" x2="409.07" y2="1869.2" class="tk"/>
<line x1="573.95" y1="1859.2" x2="573.95" y2="1869.2" class="tk"/>
<line x1="738.83" y1="1859.2" x2="738.83" y2="1869.2" class="tk"/>
<line x1="903.72" y1="1859.2" x2="903.72" y2="1869.2" class="tk"/>
<line x1="1068.60" y1="1859.2" x2="1068.60" y2="1869.2" class="tk"/>
<rect x="1080.4" y="1804.66" width="24.8" height="55.04" fill="#4b64d5"/>
<rect x="1080.4" y="1750.11" width="24.8" height="55.04" fill="#6f92f3"/>
<rect x="1080.4" y="1695.57" width="24.8" height="55.04" fill="#97b8ff"/>
<rect x="1080.4" y="1641.02" width="24.8" height="55.04" fill="#bcd2f7"/>
<rect x="1080.4" y="1586.48" width="24.8" height="55.04" fill="#dddcdc"/>
<rect x="1080.4" y="1531.93" width="24.8" height="55.04" fill="#f3c8b2"/>
<rect x="1080.4" y="1477.39" width="24.8" height="55.04" fill="#f6a586"/>
<rect x="1080.4" y="1422.84" width="24.8" height="55.04" fill="#e7745b"/>
<rect x="1080.4" y="1368.30" width="24.8" height="55.04" fill="#c83836"/>
<rect x="1080.4" y="1368.3" width="24.8" height="490.9" class="fr"/>
<line x1="1105.2" y1="1859.20" x2="1115.2" y2="1859.20" class="tk"/>
<line x1="1105.2" y1="1804.66" x2="1115.2" y2="1804.66" class="tk"/>
<line x1="1105.2" y1="1750.11" x2="1115.2" y2="1750.11" class="tk"/>
<line x1="1105.2" y1="1695.57" x2="1115.2" y2="1695.57" class="tk"/>
<line x1="1105.2" y1="1641.02" x2="1115.2" y2="1641.02" class="tk"/>
<line x1="1105.2" y1="1586.48" x2="1115.2" y2="1586.48" class="tk"/>
<line x1="1105.2" y1="1531.93" x2="1115.2" y2="1531.93" class="tk"/>
<line x1="1105.2" y1="1477.39" x2="1115.2" y2="1477.39" class="tk"/>
<line x1="1105.2" y1="1422.84" x2="1115.2" y2="1422.84" class="tk"/>
<line x1="1105.2" y1="1368.30" x2="1115.2" y2="1368.30" class="tk"/>
<g clip-path="url(#cp12)">
<rect x="1323.2" y="1368.3" width="989.3" height="490.9" fill="#e7745b"/>
<path d="M1318.2 1363.3 L1318.2 1829.3 L1323.2 1829.3 L1331.4 1829.3 L1339.7 1829.2 L1347.9 1829.2 L1356.2 1829.2 L1364.4 1829.1 L1372.7 1829.1 L1380.9 1829.1 L1389.2 1829 L1397.4 1829 L1405.6 1829 L1413.9 1828.9 L1422.1 1828.9 L1430.4 1828.9 L1438.6 1828.8 L1446.9 1828.8 L1455.1 1828.8 L1463.4 1828.7 L1471.6 1828.7 L1479.8 1828.7 L1488.1 1828.6 L1496.3 1828.6 L1504.6 1828.6 L1512.8 1828.5 L1521.1 1828.5 L1529.3 1828.5 L1537.5 1828.4 L1545.8 1828.4 L1554 1828.4 L1562.3 1828.3 L1570.5 1828.3 L1578.8 1828.3 L1587 1828.2 L1595.3 1828.2 L1603.5 1828.2 L1611.7 1828.1 L1620 1828.1 L1628.2 1828.1 L1636.5 1828 L1644.7 1828 L1653 1828 L1661.2 1827.9 L1669.5 1827.9 L1677.7 1827.9 L1685.9 1827.8 L1694.2 1827.8 L1702.4 1827.8 L1710.7 1827.7 L1718.9 1827.7 L1727.2 1827.7 L1735.4 1827.6 L1743.7 1827.6 L1751.9 1827.6 L1760.1 1827.5 L1768.4 1827.5 L1776.6 1827.5 L1784.9 1827.4 L1793.1 1827.4 L1801.4 1827.4 L1809.6 1827.3 L1817.8 1827.3 L1826.1 1827.2 L1834.3 1827.2 L1842.6 1827.1 L1850.8 1827.1 L1859.1 1827 L1867.3 1826.9 L1875.6 1826.9 L1883.8 1826.8 L1892 1826.8 L1900.3 1826.7 L1908.5 1826.7 L1916.8 1826.6 L1925 1826.5 L1933.3 1826.5 L1941.5 1826.4 L1949.8 1826.4 L1958 1826.3 L1966.2 1826.2 L1974.5 1826.2 L1982.7 1826.1 L1991 1826.1 L1999.2 1826 L2007.5 1826 L2015.7 1825.9 L2024 1825.8 L2032.2 1825.8 L2040.4 1825.7 L2048.7 1825.7 L2056.9 1825.6 L2065.2 1825.5 L2073.4 1825.5 L2081.7 1825.4 L2089.9 1825.4 L2098.2 1825.3 L2106.4 1825.3 L2114.6 1825.2 L2122.9 1825.1 L2131.1 1825.1 L2139.4 1825 L2147.6 1825 L2155.9 1824.9 L2164.1 1824.8 L2172.3 1824.8 L2180.6 1824.7 L2188.8 1824.7 L2197.1 1824.6 L2205.3 1824.6 L2213.6 1824.5 L2221.8 1824.4 L2230.1 1824.4 L2238.3 1824.3 L2246.5 1824.3 L2254.8 1824.2 L2263 1824.2 L2271.3 1824.1 L2279.5 1824 L2287.8 1824 L2296 1823.9 L2304.3 1823.9 L2312.5 1823.8 L2317.5 1823.8 L2317.5 1363.3 Z" fill="#f6a586"/>
<path d="M1318.2 1363.3 L1318.2 1786.8 L1323.2 1786.8 L1331.4 1786.8 L1339.7 1786.8 L1347.9 1786.7 L1356.2 1786.7 L1364.4 1786.7 L1372.7 1786.7 L1380.9 1786.6 L1389.2 1786.6 L1397.4 1786.6 L1405.6 1786.5 L1413.9 1786.5 L1422.1 1786.5 L1430.4 1786.5 L1438.6 1786.4 L1446.9 1786.4 L1455.1 1786.4 L1463.4 1786.4 L1471.6 1786.3 L1479.8 1786.3 L1488.1 1786.3 L1496.3 1786.3 L1504.6 1786.2 L1512.8 1786.2 L1521.1 1786.2 L1529.3 1786.2 L1537.5 1786.2 L1545.8 1786.1 L1554 1786.1 L1562.3 1786.1 L1570.5 1786 L1578.8 1786 L1587 1786 L1595.3 1786 L1603.5 1785.9 L1611.7 1785.9 L1620 1785.9 L1628.2 1785.9 L1636.5 1785.8 L1644.7 1785.8 L1653 1785.8 L1661.2 1785.8 L1669.5 1785.8 L1677.7 1785.7 L1685.9 1785.7 L1694.2 1785.7 L1702.4 1785.7 L1710.7 1785.6 L1718.9 1785.6 L1727.2 1785.6 L1735.4 1785.5 L1743.7 1785.5 L1751.9 1785.5 L1760.1 1785.5 L1768.4 1785.4 L1776.6 1785.4 L1784.9 1785.4 L1793.1 1785.4 L1801.4 1785.3 L1809.6 1785.3 L1817.8 1785.3 L1826.1 1785.2 L1834.3 1785.1 L1842.6 1785 L1850.8 1784.9 L1859.1 1784.8 L1867.3 1784.7 L1875.6 1784.6 L1883.8 1784.5 L1892 1784.4 L1900.3 1784.3 L1908.5 1784.2 L1916.8 1784.1 L1925 1784 L1933.3 1783.9 L1941.5 1783.8 L1949.8 1783.7 L1958 1783.6 L1966.2 1783.5 L1974.5 1783.4 L1982.7 1783.3 L1991 1783.2 L1999.2 1783.1 L2007.5 1783 L2015.7 1782.9 L2024 1782.8 L2032.2 1782.7 L2040.4 1782.6 L2048.7 1782.5 L2056.9 1782.4 L2065.2 1782.3 L2073.4 1782.3 L2081.7 1782.2 L2089.9 1782.2 L2098.2 1782.2 L2106.4 1782.1 L2114.6 1782.1 L2122.9 1782.1 L2131.1 1782 L2139.4 1782 L2147.6 1782 L2155.9 1781.9 L2164.1 1781.9 L2172.3 1781.9 L2180.6 1781.8 L2188.8 1781.8 L2197.1 1781.8 L2205.3 1781.7 L2213.6 1781.7 L2221.8 1781.7 L2230.1 1781.6 L2238.3 1781.6 L2246.5 1781.6 L2254.8 1781.5 L2263 1781.5 L2271.3 1781.5 L2279.5 1781.4 L2287.8 1781.4 L2296 1781.4 L2304.3 1781.3 L2312.5 1781.3 L2317.5 1781.3 L2317.5 1363.3 Z" fill="#f3c8b2"/>
<path d="M1318.2 1363.3 L1318.2 1754.3 L1323.2 1754.3 L1331.4 1754.3 L1339.7 1754.3 L1347.9 1754.2 L1356.2 1754.2 L1364.4 1754.2 L1372.7 1754.2 L1380.9 1754.2 L1389.2 1754.2 L1397.4 1754.2 L1405.6 1754.1 L1413.9 1754.1 L1422.1 1754.1 L1430.4 1754.1 L1438.6 1754.1 L1446.9 1754 L1455.1 1754 L1463.4 1754 L1471.6 1754 L1479.8 1754 L1488.1 1754 L1496.3 1753.9 L1504.6 1753.9 L1512.8 1753.9 L1521.1 1753.9 L1529.3 1753.9 L1537.5 1753.9 L1545.8 1753.8 L1554 1753.8 L1562.3 1753.8 L1570.5 1753.8 L1578.8 1753.8 L1587 1753.8 L1595.3 1753.8 L1603.5 1753.7 L1611.7 1753.7 L1620 1753.7 L1628.2 1753.7 L1636.5 1753.7 L1644.7 1753.7 L1653 1753.6 L1661.2 1753.6 L1669.5 1753.6 L1677.7 1753.6 L1685.9 1753.6 L1694.2 1753.5 L1702.4 1753.5 L1710.7 1753.5 L1718.9 1753.5 L1727.2 1753.5 L1735.4 1753.5 L1743.7 1753.4 L1751.9 1753.4 L1760.1 1753.4 L1768.4 1753.4 L1776.6 1753.4 L1784.9 1753.4 L1793.1 1753.3 L1801.4 1753.3 L1809.6 1753.3 L1817.8 1753.3 L1826.1 1753.1 L1834.3 1753 L1842.6 1752.8 L1850.8 1752.6 L1859.1 1752.5 L1867.3 1752.3 L1875.6 1752.1 L1883.8 1752 L1892 1751.8 L1900.3 1751.6 L1908.5 1751.5 L1916.8 1751.3 L1925 1751.1 L1933.3 1751 L1941.5 1750.8 L1949.8 1750.6 L1958 1750.5 L1966.2 1750.3 L1974.5 1750.1 L1982.7 1750 L1991 1749.8 L1999.2 1749.6 L2007.5 1749.5 L2015.7 1749.3 L2024 1749.1 L2032.2 1749 L2040.4 1748.8 L2048.7 1748.6 L2056.9 1748.5 L2065.2 1748.3 L2073.4 1748.2 L2081.7 1748.2 L2089.9 1748.1 L2098.2 1748 L2106.4 1748 L2114.6 1747.9 L2122.9 1747.8 L2131.1 1747.8 L2139.4 1747.7 L2147.6 1747.6 L2155.9 1747.6 L2164.1 1747.5 L2172.3 1747.4 L2180.6 1747.4 L2188.8 1747.3 L2197.1 1747.2 L2205.3 1747.2 L2213.6 1747.1 L2221.8 1747 L2230.1 1747 L2238.3 1746.9 L2246.5 1746.8 L2254.8 1746.8 L2263 1746.7 L2271.3 1746.6 L2279.5 1746.6 L2287.8 1746.5 L2296 1746.4 L2304.3 1746.4 L2312.5 1746.3 L2317.5 1746.3 L2317.5 1363.3 Z" fill="#dddcdc"/>
<path d="M1318.2 1363.3 L1318.2 1718.8 L1323.2 1718.8 L1331.4 1718.9 L1339.7 1718.9 L1347.9 1719 L1356.2 1719 L1364.4 1719.1 L1372.7 1719.2 L1380.9 1719.2 L1389.2 1719.3 L1397.4 1719.3 L1405.6 1719.4 L1413.9 1719.4 L1422.1 1719.5 L1430.4 1719.6 L1438.6 1719.6 L1446.9 1719.7 L1455.1 1719.7 L1463.4 1719.8 L1471.6 1719.8 L1479.8 1719.9 L1488.1 1720 L1496.3 1720 L1504.6 1720.1 L1512.8 1720.1 L1521.1 1720.2 L1529.3 1720.3 L1537.5 1720.3 L1545.8 1720.4 L1554 1720.4 L1562.3 1720.5 L1570.5 1720.5 L1578.8 1720.6 L1587 1720.7 L1595.3 1720.7 L1603.5 1720.8 L1611.7 1720.8 L1620 1720.9 L1628.2 1721 L1636.5 1721 L1644.7 1721.1 L1653 1721.1 L1661.2 1721.2 L1669.5 1721.2 L1677.7 1721.3 L1685.9 1721.4 L1694.2 1721.4 L1702.4 1721.5 L1710.7 1721.5 L1718.9 1721.6 L1727.2 1721.7 L1735.4 1721.7 L1743.7 1721.8 L1751.9 1721.8 L1760.1 1721.9 L1768.4 1721.9 L1776.6 1722 L1784.9 1722.1 L1793.1 1722.1 L1801.4 1722.2 L1809.6 1722.2 L1817.8 1722.3 L1826.1 1722.1 L1834.3 1722 L1842.6 1721.8 L1850.8 1721.6 L1859.1 1721.5 L1867.3 1721.3 L1875.6 1721.1 L1883.8 1721 L1892 1720.8 L1900.3 1720.6 L1908.5 1720.5 L1916.8 1720.3 L1925 1720.1 L1933.3 1720 L1941.5 1719.8 L1949.8 1719.6 L1958 1719.5 L1966.2 1719.3 L1974.5 1719.1 L1982.7 1719 L1991 1718.8 L1999.2 1718.6 L2007.5 1718.5 L2015.7 1718.3 L2024 1718.1 L2032.2 1718 L2040.4 1717.8 L2048.7 1717.6 L2056.9 1717.5 L2065.2 1717.3 L2073.4 1717.3 L2081.7 1717.2 L2089.9 1717.2 L2098.2 1717.2 L2106.4 1717.1 L2114.6 1717.1 L2122.9 1717.1 L2131.1 1717 L2139.4 1717 L2147.6 1717 L2155.9 1716.9 L2164.1 1716.9 L2172.3 1716.9 L2180.6 1716.8 L2188.8 1716.8 L2197.1 1716.8 L2205.3 1716.7 L2213.6 1716.7 L2221.8 1716.7 L2230.1 1716.6 L2238.3 1716.6 L2246.5 1716.6 L2254.8 1716.5 L2263 1716.5 L2271.3 1716.5 L2279.5 1716.4 L2287.8 1716.4 L2296 1716.4 L2304.3 1716.3 L2312.5 1716.3 L2317.5 1716.3 L2317.5 1363.3 Z" fill="#bcd2f7"/>
<path d="M1318.2 1363.3 L1318.2 1686.8 L1323.2 1686.8 L1331.4 1686.8 L1339.7 1686.8 L1347.9 1686.8 L1356.2 1686.9 L1364.4 1686.9 L1372.7 1686.9 L1380.9 1686.9 L1389.2 1686.9 L1397.4 1686.9 L1405.6 1687 L1413.9 1687 L1422.1 1687 L1430.4 1687 L1438.6 1687 L1446.9 1687 L1455.1 1687.1 L1463.4 1687.1 L1471.6 1687.1 L1479.8 1687.1 L1488.1 1687.1 L1496.3 1687.2 L1504.6 1687.2 L1512.8 1687.2 L1521.1 1687.2 L1529.3 1687.2 L1537.5 1687.2 L1545.8 1687.2 L1554 1687.3 L1562.3 1687.3 L1570.5 1687.3 L1578.8 1687.3 L1587 1687.3 L1595.3 1687.3 L1603.5 1687.4 L1611.7 1687.4 L1620 1687.4 L1628.2 1687.4 L1636.5 1687.4 L1644.7 1687.4 L1653 1687.5 L1661.2 1687.5 L1669.5 1687.5 L1677.7 1687.5 L1685.9 1687.5 L1694.2 1687.5 L1702.4 1687.6 L1710.7 1687.6 L1718.9 1687.6 L1727.2 1687.6 L1735.4 1687.6 L1743.7 1687.7 L1751.9 1687.7 L1760.1 1687.7 L1768.4 1687.7 L1776.6 1687.7 L1784.9 1687.7 L1793.1 1687.8 L1801.4 1687.8 L1809.6 1687.8 L1817.8 1687.8 L1826.1 1687.9 L1834.3 1687.9 L1842.6 1688 L1850.8 1688 L1859.1 1688.1 L1867.3 1688.2 L1875.6 1688.2 L1883.8 1688.3 L1892 1688.3 L1900.3 1688.4 L1908.5 1688.4 L1916.8 1688.5 L1925 1688.6 L1933.3 1688.6 L1941.5 1688.7 L1949.8 1688.7 L1958 1688.8 L1966.2 1688.8 L1974.5 1688.9 L1982.7 1689 L1991 1689 L1999.2 1689.1 L2007.5 1689.1 L2015.7 1689.2 L2024 1689.3 L2032.2 1689.3 L2040.4 1689.4 L2048.7 1689.4 L2056.9 1689.5 L2065.2 1689.5 L2073.4 1689.6 L2081.7 1689.7 L2089.9 1689.7 L2098.2 1689.8 L2106.4 1689.8 L2114.6 1689.9 L2122.9 1690 L2131.1 1690 L2139.4 1690.1 L2147.6 1690.1 L2155.9 1690.2 L2164.1 1690.2 L2172.3 1690.3 L2180.6 1690.4 L2188.8 1690.4 L2197.1 1690.5 L2205.3 1690.5 L2213.6 1690.6 L2221.8 1690.7 L2230.1 1690.7 L2238.3 1690.8 L2246.5 1690.8 L2254.8 1690.9 L2263 1690.9 L2271.3 1691 L2279.5 1691.1 L2287.8 1691.1 L2296 1691.2 L2304.3 1691.2 L2312.5 1691.3 L2317.5 1691.3 L2317.5 1363.3 Z" fill="#97b8ff"/>
<path d="M1318.2 1363.3 L1318.2 1659.3 L1323.2 1659.3 L1331.4 1659.3 L1339.7 1659.2 L1347.9 1659.2 L1356.2 1659.1 L1364.4 1659.1 L1372.7 1659.1 L1380.9 1659 L1389.2 1659 L1397.4 1658.9 L1405.6 1658.9 L1413.9 1658.9 L1422.1 1658.8 L1430.4 1658.8 L1438.6 1658.7 L1446.9 1658.7 L1455.1 1658.7 L1463.4 1658.6 L1471.6 1658.6 L1479.8 1658.5 L1488.1 1658.5 L1496.3 1658.5 L1504.6 1658.4 L1512.8 1658.4 L1521.1 1658.3 L1529.3 1658.3 L1537.5 1658.3 L1545.8 1658.2 L1554 1658.2 L1562.3 1658.1 L1570.5 1658.1 L1578.8 1658.1 L1587 1658 L1595.3 1658 L1603.5 1657.9 L1611.7 1657.9 L1620 1657.9 L1628.2 1657.8 L1636.5 1657.8 L1644.7 1657.7 L1653 1657.7 L1661.2 1657.7 L1669.5 1657.6 L1677.7 1657.6 L1685.9 1657.5 L1694.2 1657.5 L1702.4 1657.5 L1710.7 1657.4 L1718.9 1657.4 L1727.2 1657.3 L1735.4 1657.3 L1743.7 1657.5 L1751.9 1657.6 L1760.1 1657.8 L1768.4 1658 L1776.6 1658.1 L1784.9 1658.3 L1793.1 1658.5 L1801.4 1658.6 L1809.6 1658.8 L1817.8 1659 L1826.1 1659.1 L1834.3 1659.3 L1842.6 1659.5 L1850.8 1659.6 L1859.1 1659.8 L1867.3 1660 L1875.6 1660.1 L1883.8 1660.3 L1892 1660.5 L1900.3 1660.6 L1908.5 1660.8 L1916.8 1661 L1925 1661.1 L1933.3 1661.3 L1941.5 1661.5 L1949.8 1661.6 L1958 1661.8 L1966.2 1662 L1974.5 1662.1 L1982.7 1662.3 L1991 1662.3 L1999.2 1662.3 L2007.5 1662.4 L2015.7 1662.4 L2024 1662.4 L2032.2 1662.4 L2040.4 1662.5 L2048.7 1662.5 L2056.9 1662.5 L2065.2 1662.5 L2073.4 1662.6 L2081.7 1662.6 L2089.9 1662.6 L2098.2 1662.7 L2106.4 1662.7 L2114.6 1662.7 L2122.9 1662.7 L2131.1 1662.8 L2139.4 1662.8 L2147.6 1662.8 L2155.9 1662.8 L2164.1 1662.8 L2172.3 1662.9 L2180.6 1662.9 L2188.8 1662.9 L2197.1 1662.9 L2205.3 1663 L2213.6 1663 L2221.8 1663 L2230.1 1663 L2238.3 1663.1 L2246.5 1663.1 L2254.8 1663.1 L2263 1663.2 L2271.3 1663.2 L2279.5 1663.2 L2287.8 1663.2 L2296 1663.2 L2304.3 1663.3 L2312.5 1663.3 L2317.5 1663.3 L2317.5 1363.3 Z" fill="#6f92f3"/>
<path d="M1318.2 1363.3 L1318.2 1557.8 L1323.2 1557.8 L1331.4 1557.8 L1339.7 1557.8 L1347.9 1557.8 L1356.2 1557.8 L1364.4 1557.8 L1372.7 1557.8 L1380.9 1557.8 L1389.2 1557.8 L1397.4 1557.8 L1405.6 1557.8 L1413.9 1557.8 L1422.1 1557.8 L1430.4 1557.8 L1438.6 1557.8 L1446.9 1557.8 L1455.1 1557.8 L1463.4 1557.8 L1471.6 1557.8 L1479.8 1557.8 L1488.1 1557.8 L1496.3 1557.8 L1504.6 1557.8 L1512.8 1557.8 L1521.1 1557.8 L1529.3 1557.8 L1537.5 1557.8 L1545.8 1557.8 L1554 1557.8 L1562.3 1557.8 L1570.5 1557.8 L1578.8 1557.8 L1587 1557.8 L1595.3 1557.8 L1603.5 1557.8 L1611.7 1557.8 L1620 1557.8 L1628.2 1557.8 L1636.5 1557.8 L1644.7 1557.8 L1653 1557.8 L1661.2 1557.8 L1669.5 1557.8 L1677.7 1557.8 L1685.9 1557.8 L1694.2 1557.8 L1702.4 1557.8 L1710.7 1557.8 L1718.9 1557.8 L1727.2 1557.8 L1735.4 1557.8 L1743.7 1557.8 L1751.9 1557.8 L1760.1 1557.8 L1768.4 1557.8 L1776.6 1557.8 L1784.9 1557.8 L1793.1 1557.8 L1801.4 1557.8 L1809.6 1557.8 L1817.8 1557.8 L1826.1 1557.8 L1834.3 1557.8 L1842.6 1557.8 L1850.8 1557.8 L1859.1 1557.8 L1867.3 1557.8 L1875.6 1557.8 L1883.8 1557.8 L1892 1557.8 L1900.3 1557.8 L1908.5 1557.8 L1916.8 1557.8 L1925 1557.8 L1933.3 1557.8 L1941.5 1557.8 L1949.8 1557.8 L1958 1557.8 L1966.2 1557.8 L1974.5 1557.8 L1982.7 1557.8 L1991 1557.8 L1999.2 1557.8 L2007.5 1557.8 L2015.7 1557.8 L2024 1557.8 L2032.2 1557.8 L2040.4 1557.8 L2048.7 1557.8 L2056.9 1557.8 L2065.2 1557.8 L2073.4 1557.8 L2081.7 1557.8 L2089.9 1557.8 L2098.2 1557.8 L2106.4 1557.8 L2114.6 1557.8 L2122.9 1557.8 L2131.1 1557.8 L2139.4 1557.8 L2147.6 1557.8 L2155.9 1557.8 L2164.1 1557.8 L2172.3 1557.8 L2180.6 1557.8 L2188.8 1557.8 L2197.1 1557.8 L2205.3 1557.8 L2213.6 1557.8 L2221.8 1557.8 L2230.1 1557.8 L2238.3 1557.8 L2246.5 1557.8 L2254.8 1557.8 L2263 1557.8 L2271.3 1557.8 L2279.5 1557.8 L2287.8 1557.8 L2296 1557.8 L2304.3 1557.8 L2312.5 1557.8 L2317.5 1557.8 L2317.5 1363.3 Z" fill="#97b8ff"/>
<path d="M1318.2 1363.3 L1318.2 1496.3 L1323.2 1496.3 L1331.4 1496.3 L1339.7 1496.3 L1347.9 1496.3 L1356.2 1496.2 L1364.4 1496.2 L1372.7 1496.2 L1380.9 1496.2 L1389.2 1496.2 L1397.4 1496.2 L1405.6 1496.2 L1413.9 1496.2 L1422.1 1496.1 L1430.4 1496.1 L1438.6 1496.1 L1446.9 1496.1 L1455.1 1496.1 L1463.4 1496.1 L1471.6 1496.1 L1479.8 1496.1 L1488.1 1496 L1496.3 1496 L1504.6 1496 L1512.8 1496 L1521.1 1496 L1529.3 1496 L1537.5 1496 L1545.8 1496 L1554 1496 L1562.3 1495.9 L1570.5 1495.9 L1578.8 1495.9 L1587 1495.9 L1595.3 1495.9 L1603.5 1495.9 L1611.7 1495.9 L1620 1495.8 L1628.2 1495.8 L1636.5 1495.8 L1644.7 1495.8 L1653 1495.8 L1661.2 1495.8 L1669.5 1495.8 L1677.7 1495.8 L1685.9 1495.8 L1694.2 1495.7 L1702.4 1495.7 L1710.7 1495.7 L1718.9 1495.7 L1727.2 1495.7 L1735.4 1495.7 L1743.7 1495.7 L1751.9 1495.6 L1760.1 1495.6 L1768.4 1495.6 L1776.6 1495.6 L1784.9 1495.6 L1793.1 1495.6 L1801.4 1495.6 L1809.6 1495.6 L1817.8 1495.5 L1826.1 1495.5 L1834.3 1495.5 L1842.6 1495.5 L1850.8 1495.5 L1859.1 1495.5 L1867.3 1495.5 L1875.6 1495.5 L1883.8 1495.5 L1892 1495.4 L1900.3 1495.4 L1908.5 1495.4 L1916.8 1495.4 L1925 1495.4 L1933.3 1495.4 L1941.5 1495.4 L1949.8 1495.3 L1958 1495.3 L1966.2 1495.3 L1974.5 1495.3 L1982.7 1495.3 L1991 1495.3 L1999.2 1495.3 L2007.5 1495.3 L2015.7 1495.2 L2024 1495.2 L2032.2 1495.2 L2040.4 1495.2 L2048.7 1495.2 L2056.9 1495.2 L2065.2 1495.2 L2073.4 1495.2 L2081.7 1495.1 L2089.9 1495.1 L2098.2 1495.1 L2106.4 1495.1 L2114.6 1495.1 L2122.9 1495.1 L2131.1 1495.1 L2139.4 1495.1 L2147.6 1495 L2155.9 1495 L2164.1 1495 L2172.3 1495 L2180.6 1495 L2188.8 1495 L2197.1 1495 L2205.3 1495 L2213.6 1495 L2221.8 1494.9 L2230.1 1494.9 L2238.3 1494.9 L2246.5 1494.9 L2254.8 1494.9 L2263 1494.9 L2271.3 1494.9 L2279.5 1494.8 L2287.8 1494.8 L2296 1494.8 L2304.3 1494.8 L2312.5 1494.8 L2317.5 1494.8 L2317.5 1363.3 Z" fill="#bcd2f7"/>
<path d="M1318.2 1363.3 L1318.2 1446.3 L1323.2 1446.3 L1331.4 1446.2 L1339.7 1446.1 L1347.9 1446 L1356.2 1445.9 L1364.4 1445.8 L1372.7 1445.7 L1380.9 1445.6 L1389.2 1445.5 L1397.4 1445.4 L1405.6 1445.3 L1413.9 1445.2 L1422.1 1445.1 L1430.4 1445 L1438.6 1444.9 L1446.9 1444.8 L1455.1 1444.7 L1463.4 1444.6 L1471.6 1444.5 L1479.8 1444.4 L1488.1 1444.3 L1496.3 1444.2 L1504.6 1444.1 L1512.8 1444 L1521.1 1443.9 L1529.3 1443.8 L1537.5 1443.7 L1545.8 1443.6 L1554 1443.5 L1562.3 1443.4 L1570.5 1443.3 L1578.8 1443.2 L1587 1443.1 L1595.3 1443 L1603.5 1442.9 L1611.7 1442.8 L1620 1442.7 L1628.2 1442.6 L1636.5 1442.5 L1644.7 1442.4 L1653 1442.3 L1661.2 1442.2 L1669.5 1442.1 L1677.7 1442 L1685.9 1441.9 L1694.2 1441.8 L1702.4 1441.7 L1710.7 1441.6 L1718.9 1441.5 L1727.2 1441.4 L1735.4 1441.3 L1743.7 1441.2 L1751.9 1441.1 L1760.1 1441 L1768.4 1440.9 L1776.6 1440.8 L1784.9 1440.7 L1793.1 1440.6 L1801.4 1440.5 L1809.6 1440.4 L1817.8 1440.3 L1826.1 1440.2 L1834.3 1440.1 L1842.6 1440 L1850.8 1440 L1859.1 1439.9 L1867.3 1439.8 L1875.6 1439.7 L1883.8 1439.6 L1892 1439.5 L1900.3 1439.5 L1908.5 1439.4 L1916.8 1439.3 L1925 1439.2 L1933.3 1439.1 L1941.5 1439 L1949.8 1439 L1958 1438.9 L1966.2 1438.8 L1974.5 1438.7 L1982.7 1438.6 L1991 1438.5 L1999.2 1438.5 L2007.5 1438.4 L2015.7 1438.3 L2024 1438.2 L2032.2 1438.1 L2040.4 1438 L2048.7 1438 L2056.9 1437.9 L2065.2 1437.8 L2073.4 1437.7 L2081.7 1437.6 L2089.9 1437.5 L2098.2 1437.5 L2106.4 1437.4 L2114.6 1437.3 L2122.9 1437.2 L2131.1 1437.1 L2139.4 1437 L2147.6 1437 L2155.9 1436.9 L2164.1 1436.8 L2172.3 1436.7 L2180.6 1436.6 L2188.8 1436.5 L2197.1 1436.5 L2205.3 1436.4 L2213.6 1436.3 L2221.8 1436.2 L2230.1 1436.1 L2238.3 1436 L2246.5 1436 L2254.8 1435.9 L2263 1435.8 L2271.3 1435.7 L2279.5 1435.6 L2287.8 1435.5 L2296 1435.5 L2304.3 1435.4 L2312.5 1435.3 L2317.5 1435.3 L2317.5 1363.3 Z" fill="#dddcdc"/>
</g>
<g clip-path="url(#cp12)" fill="#f3c8b2">
<path d="M1303.9 1384.1C1307.1 1384.1 1301.6 1384.4 1323.2 1384C1344.8 1383.6 1403.6 1382.9 1433.4 1381.7C1463.2 1380.5 1484.7 1378.6 1501.9 1377.1C1519.1 1375.5 1526.8 1373.9 1536.4 1372.4C1546 1370.9 1555 1369.8 1559.3 1368.3C1563.5 1366.8 1561.5 1364.1 1561.9 1363.3L1303.2 1363.3Z"/>
<path d="M2343.9 1369.8C2277.2 1369.8 2057.5 1369.5 1943.9 1369.8C1830.3 1370.1 1716.1 1370.5 1662.3 1371.4C1608.5 1372.2 1630.6 1373.4 1621.1 1374.9C1611.6 1376.4 1609.1 1378.1 1605.1 1380.6C1601.1 1383.1 1598.4 1388.3 1597.1 1389.8C1598.4 1391.1 1600 1395.7 1605.1 1397.8C1610.2 1399.9 1618.4 1401.2 1627.9 1402.4C1637.4 1403.5 1645.1 1404.1 1662.3 1404.7C1679.5 1405.3 1704.8 1405.4 1730.9 1405.8C1757 1406.2 1766.7 1406.5 1818.9 1406.9C1871.1 1407.3 1956.4 1407.8 2043.9 1408.3C2131.4 1408.8 2293.9 1409.8 2343.9 1410.1L2332.5 1363.3Z"/>
</g>
<path clip-path="url(#cp12)" d="M1323.2 1408.8l-68.8 .4 .7-4.9-11.9 6.3 12 6.2-.8-5 68.8-.4zM1356.2 1408.8l-68.9 .5 .8-4.9-11.9 6.3 12 6.1-.8-4.9 68.8-.5zM1389.1 1408.8l-68.8 .6 .8-5-11.9 6.4 12 6.1-.9-4.9 68.9-.6zM1422.1 1408.8l-68.8 .6 .7-4.9-11.9 6.3 12 6.2-.8-5 68.8-.6zM1455.1 1408.8l-68.8 .7 .7-4.9-11.9 6.3 12 6.1-.8-4.9 68.8-.7zM1488.1 1408.8l-68.9 .8 .8-5-11.9 6.4 12 6.1-.8-4.9 68.8-.8zM1521 1408.8l-68.8 .9 .7-5-11.8 6.4 12 6.1-.8-4.9 68.8-.9zM1554 1408.8l-70.8 1.7 .6-4.9-11.8 6.5 12.1 5.9-.9-4.9 70.9-1.7zM1587 1408.8l-72.9 2.6 .6-5-11.7 6.7 12.2 5.8-1-4.9 72.9-2.6zM1619.9 1408.8l-76.8 3.9 .5-4.9-11.6 6.8 12.3 5.6-1.1-4.9 76.9-3.9zM1652.9 1408.8l-80.9 5.3 .5-5-11.5 7 12.3 5.4-1.1-4.8 80.9-5.3zM1685.8 1408.8l-85.5 6.2 .5-5-11.5 7.1 12.4 5.4-1.2-4.9 85.5-6.2zM1718.8 1408.8l-90.2 7.1 .4-5-11.4 7.2 12.4 5.3-1.2-4.9 90.2-7.1zM1751.8 1408.8l-94.9 8.1 .4-5-11.4 7.2 12.4 5.2-1.2-4.9 94.9-8zM1784.8 1408.8l-98.9 8.7 .3-5-11.3 7.3 12.4 5.1-1.2-4.8 98.9-8.7zM1817.7 1408.8l-102.8 9.3 .3-5-11.4 7.3 12.5 5.2-1.2-4.9 102.9-9.3zM1850.7 1408.8l-106.9 10 .4-5-11.4 7.3 12.5 5.1-1.2-4.8 106.8-10zM1883.7 1408.8l-108.1 10.3 .3-5-11.3 7.4 12.5 5.1-1.3-4.9 108.1-10.3zM1916.7 1408.8l-109.4 10.7 .3-5-11.3 7.3 12.5 5.1-1.3-4.8 109.4-10.7zM1949.6 1408.8l-110.6 11 .3-5-11.3 7.4 12.5 5-1.2-4.8 110.6-11zM1982.6 1408.8l-111.9 11.4 .3-5-11.3 7.4 12.6 5-1.3-4.8 111.9-11.4zM2015.6 1408.8l-112.3 11.5 .3-5-11.3 7.4 12.5 5-1.2-4.8 112.2-11.5zM2048.6 1408.8l-112.7 11.6 .2-5-11.2 7.4 12.5 5-1.3-4.8 112.7-11.6zM2081.5 1408.8l-113 11.7 .2-5-11.2 7.4 12.5 5-1.3-4.9 113.1-11.6zM2114.5 1408.8l-113.5 11.8 .3-5-11.3 7.4 12.6 5-1.3-4.9 113.5-11.7zM2147.5 1408.8l-113.9 11.9 .3-5-11.3 7.4 12.6 5-1.3-4.9 113.9-11.8zM2180.5 1408.8l-114.5 11.9 .2-5-11.2 7.4 12.5 5-1.3-4.9 114.5-11.8zM2213.4 1408.8l-115 11.9 .2-5-11.2 7.4 12.5 5-1.3-4.9 115.1-11.8zM2246.4 1408.8l-115.7 11.9 .3-5-11.3 7.4 12.6 5-1.3-4.8 115.7-11.9zM2279.4 1408.8l-116.3 11.9 .3-5-11.3 7.4 12.6 5-1.3-4.8 116.3-11.9zM2312.4 1408.8l-116.9 11.9 .3-5-11.3 7.4 12.5 5-1.2-4.8 116.8-11.9zM2345.3 1408.8l-116.8 11.9 .2-5-11.2 7.4 12.5 5-1.3-4.8 116.9-11.9zM2378.3 1408.8l-116.9 11.9 .3-5-11.2 7.4 12.5 5-1.3-4.8 116.9-11.9zM2411.3 1408.8l-116.9 11.9 .3-5-11.3 7.4 12.6 5-1.3-4.8 116.9-11.9zM2444.3 1408.8l-116.9 11.9 .3-5-11.3 7.4 12.5 5-1.2-4.8 116.8-11.9zM2477.3 1408.8l-116.9 11.9 .3-5-11.3 7.4 12.5 5-1.3-4.8 116.9-11.9zM1323.2 1448.3l-44.8 .8 .6-5-11.8 6.5 12.1 6-.9-4.9 44.8-.8zM1356.1 1448.3l-44.8 1 .7-5-11.8 6.5 12.1 6-.9-4.9 44.8-1zM1389.1 1448.3l-44.8 1.1 .7-4.9-11.8 6.5 12.1 5.9-.9-4.9 44.8-1.1zM1422.1 1448.3l-44.8 1.3 .6-5-11.8 6.6 12.2 5.9-1-4.9 44.9-1.3zM1455.1 1448.3l-44.9 1.4 .7-4.9-11.8 6.6 12.2 5.9-1-5 44.8-1.4zM1488 1448.3l-44.8 1.6 .6-5-11.7 6.7 12.2 5.8-1-4.9 44.8-1.6zM1521 1448.3l-44.8 1.8 .6-5-11.7 6.7 12.2 5.8-1-4.9 44.8-1.8zM1554 1448.3l-44.8 1.9 .5-4.9-11.7 6.7 12.3 5.7-1-4.9 44.8-1.9zM1587 1448.3l-44.9 2.1 .6-5-11.7 6.8 12.2 5.7-1-4.9 44.9-2.1zM1619.9 1448.3l-44.8 2.2 .5-4.9-11.6 6.8 12.2 5.6-1-4.9 44.9-2.2zM1652.9 1448.3l-44.8 2.4 .5-5-11.6 6.9 12.2 5.6-1-4.9 44.8-2.4zM1685.9 1448.3l-44.9 2.2 .6-4.9-11.7 6.8 12.3 5.6-1-4.9 44.8-2.2zM1718.9 1448.3l-44.9 2.1 .6-5-11.7 6.8 12.3 5.7-1.1-4.9 44.9-2.1zM1751.8 1448.3l-44.8 1.9 .6-4.9-11.7 6.7 12.2 5.7-1-4.9 44.9-1.9zM1784.8 1448.3l-44.8 1.8 .6-5-11.7 6.7 12.2 5.8-1-4.9 44.8-1.8zM1817.8 1448.3l-44.8 1.6 .6-5-11.8 6.7 12.2 5.8-.9-4.9 44.8-1.6zM1850.8 1448.3l-44.6 1.3 .6-5-11.8 6.6 12.2 5.9-1-4.9 44.7-1.3zM1883.8 1448.3l-44.4 1 .6-5-11.8 6.5 12.1 6-.9-4.9 44.4-1zM1916.8 1448.3l-44.3 .6 .7-4.9-11.8 6.4 12 6.1-.8-5 44.2-.6zM1949.7 1448.3l-44 .3 .8-4.9-11.9 6.3 12 6.2-.9-5 44.1-.3zM1982.7 1448.3l-43.8 0 .8-4.9-12 6.2 12 6.2-.8-4.9 43.8 0zM2015.7 1448.3l-43.8-.1 .8-4.9-12 6.2 12 6.3-.8-5 43.8 .1zM2048.7 1448.3l-43.8-.2 .8-4.9-12 6.2 11.9 6.3-.7-5 43.8 .2zM2081.7 1448.3l-43.8-.2 .8-5-12 6.2 11.9 6.3-.8-4.9 43.9 .2zM2114.6 1448.3l-43.8-.3 .8-5-12 6.2 12 6.3-.8-4.9 43.8 .3zM2147.6 1448.3l-43.8-.4 .8-4.9-12 6.1 11.9 6.3-.7-4.9 43.8 .4zM2180.6 1448.3l-43.8-.5 .8-4.9-12 6.1 11.9 6.4-.7-5 43.8 .5zM2213.6 1448.3l-43.8-.6 .8-4.9-12 6.1 11.8 6.4-.7-5 43.9 .6zM2246.6 1448.3l-43.9-.6 .9-5-12.1 6.1 11.9 6.4-.7-4.9 43.8 .6zM2279.5 1448.3l-43.8-.7 .9-4.9-12.1 6 11.9 6.4-.7-4.9 43.8 .7zM2312.5 1448.3l-43.8-.8 .9-4.9-12.1 6 11.8 6.5-.6-5 43.8 .8zM2345.5 1448.3l-43.8-.8 .8-4.9-12 6 11.8 6.5-.7-5 43.9 .8zM2378.5 1448.3l-43.8-.8 .8-4.9-12 6 11.8 6.5-.7-5 43.8 .8zM2411.5 1448.3l-43.9-.8 .9-4.9-12.1 6 11.9 6.5-.7-5 43.8 .8zM2444.4 1448.3l-43.8-.8 .9-4.9-12.1 6 11.9 6.5-.7-5 43.8 .8zM2477.4 1448.3l-43.8-.8 .9-4.9-12.1 6 11.8 6.5-.7-5 43.9 .8zM1323.3 1505.3l-24.9-1.7 1.2-4.9-12.4 5.4 11.5 7.1-.4-5 24.8 1.7zM1356.3 1505.3l-25-1.7 1.1-4.9-12.4 5.4 11.5 7.1-.4-5 25 1.7zM1389.2 1505.3l-25.1-1.7 1.1-4.9-12.3 5.4 11.5 7-.4-4.9 25.1 1.7zM1422.2 1505.3l-25.2-1.7 1.1-4.9-12.4 5.4 11.5 7-.4-4.9 25.2 1.7zM1455.2 1505.3l-25.4-1.7 1.1-4.9-12.3 5.4 11.5 7-.5-4.9 25.4 1.7zM1488.2 1505.3l-25.5-1.7 1.1-4.9-12.4 5.4 11.5 7-.4-4.9 25.5 1.7zM1521.1 1505.3l-25.6-1.7 1.1-4.9-12.3 5.4 11.5 7-.5-4.9 25.7 1.7zM1554.1 1505.3l-25.8-1.7 1.2-4.9-12.4 5.4 11.5 7-.4-4.9 25.7 1.7zM1587.1 1505.3l-25.9-1.7 1.1-4.9-12.4 5.4 11.6 7-.5-5 25.9 1.8zM1620.1 1505.3l-26.1-1.7 1.1-4.9-12.3 5.4 11.5 7-.4-5 26 1.8zM1653.1 1505.3l-26.2-1.8 1.1-4.8-12.4 5.4 11.5 7-.4-5 26.2 1.8zM1686 1505.3l-26.3-1.8 1.1-4.8-12.3 5.4 11.5 7-.5-5 26.4 1.8zM1719 1505.3l-26.4-1.8 1.1-4.8-12.4 5.4 11.5 7-.4-5 26.4 1.8zM1752 1505.3l-26.6-1.8 1.1-4.8-12.3 5.4 11.5 7-.5-5 26.6 1.8zM1785 1505.3l-26.8-1.8 1.2-4.8-12.4 5.4 11.5 7-.4-5 26.7 1.8zM1817.9 1505.3l-26.8-1.8 1.1-4.8-12.4 5.4 11.6 7-.5-5 26.9 1.8zM1850.9 1505.3l-27-1.8 1.1-4.8-12.3 5.4 11.5 7-.4-5 26.9 1.8zM1883.9 1505.3l-27.1-1.8 1.1-4.8-12.4 5.4 11.6 7-.5-5 27.1 1.8zM1916.9 1505.3l-27.3-1.8 1.1-4.8-12.3 5.4 11.5 7-.4-5 27.2 1.8zM1949.8 1505.3l-27.3-1.8 1.1-4.9-12.4 5.5 11.6 7-.5-5 27.4 1.8zM1982.8 1505.3l-27.5-1.8 1.1-4.9-12.3 5.5 11.5 7-.5-5 27.5 1.8zM2015.8 1505.3l-27.6-1.8 1-4.9-12.3 5.5 11.5 7-.4-5 27.6 1.8zM2048.8 1505.3l-27.8-1.8 1.1-4.9-12.3 5.5 11.5 7-.5-5 27.8 1.8zM2081.7 1505.3l-27.9-1.8 1.1-4.9-12.3 5.5 11.5 7-.4-5 27.9 1.8zM2114.7 1505.3l-28-1.8 1.1-4.9-12.4 5.5 11.6 7-.5-5 28.1 1.8zM2147.7 1505.3l-28.2-1.8 1.1-4.9-12.3 5.5 11.5 7-.4-5 28.1 1.8zM2180.7 1505.3l-28.3-1.8 1.1-4.9-12.4 5.5 11.6 7-.5-5 28.3 1.8zM2213.7 1505.3l-28.5-1.8 1.1-4.9-12.3 5.5 11.5 7-.5-5 28.5 1.8zM2246.6 1505.3l-28.5-1.8 1-4.9-12.3 5.5 11.6 7-.5-5 28.6 1.8zM2279.6 1505.3l-28.7-1.8 1.1-4.9-12.3 5.5 11.5 7-.5-5 28.7 1.8zM2312.6 1505.3l-28.9-1.8 1.1-4.9-12.3 5.5 11.5 7-.4-5 28.8 1.8zM2345.6 1505.3l-28.9-1.8 1.1-4.9-12.3 5.5 11.5 7-.4-5 28.8 1.8zM2378.5 1505.3l-28.8-1.8 1.1-4.9-12.3 5.5 11.5 7-.5-5 28.9 1.8zM2411.5 1505.3l-28.8-1.8 1.1-4.9-12.4 5.5 11.6 7-.5-5 28.8 1.8zM2444.5 1505.3l-28.9-1.8 1.1-4.9-12.3 5.5 11.6 7-.5-5 28.8 1.8zM2477.5 1505.3l-28.9-1.8 1.1-4.9-12.3 5.5 11.5 7-.4-5 28.8 1.8zM1323.5 1565.3l-7.1-1.5 1.8-4.7-13 3.5 10.3 8.7 .3-5 7.1 1.6zM1356.5 1565.3l-7.2-1.6 1.9-4.6-13.1 3.5 10.4 8.7 .3-5 7.1 1.6zM1389.4 1565.3l-7.1-1.6 1.8-4.6-13 3.5 10.3 8.7 .3-5 7.2 1.6zM1422.4 1565.3l-7.2-1.6 1.9-4.6-13.1 3.4 10.3 8.8 .4-5 7.1 1.6zM1455.4 1565.3l-7.2-1.6 1.8-4.6-13 3.4 10.3 8.7 .3-5 7.2 1.7zM1488.4 1565.3l-7.3-1.6 1.9-4.6-13.1 3.4 10.3 8.7 .3-5 7.3 1.7zM1521.3 1565.3l-7.2-1.6 1.8-4.7-13 3.5 10.3 8.7 .3-5 7.3 1.7zM1554.3 1565.3l-7.3-1.6 1.8-4.7-13 3.5 10.3 8.7 .3-5 7.4 1.7zM1587.3 1565.3l-7.4-1.6 1.9-4.7-13.1 3.5 10.3 8.7 .4-5 7.3 1.7zM1620.3 1565.3l-7.4-1.6 1.8-4.7-13 3.4 10.3 8.8 .3-5 7.4 1.7zM1653.3 1565.3l-7.5-1.7 1.9-4.6-13.1 3.4 10.3 8.8 .3-5 7.5 1.7zM1686.2 1565.3l-7.4-1.7 1.8-4.6-13 3.4 10.3 8.8 .3-5 7.5 1.7zM1719.2 1565.3l-7.5-1.7 1.9-4.6-13.1 3.4 10.3 8.7 .3-4.9 7.5 1.7zM1752.2 1565.3l-7.5-1.7 1.8-4.6-13 3.4 10.2 8.7 .4-5 7.5 1.8zM1785.2 1565.3l-7.6-1.7 1.9-4.6-13.1 3.4 10.3 8.7 .3-5 7.6 1.8zM1818.1 1565.3l-7.6-1.7 1.9-4.7-13.1 3.4 10.3 8.8 .4-5 7.6 1.8zM1851.1 1565.3l-7.6-1.7 1.8-4.7-13 3.4 10.2 8.8 .4-5 7.6 1.8zM1884.1 1565.3l-7.7-1.7 1.9-4.7-13.1 3.4 10.3 8.8 .3-5 7.7 1.8zM1917.1 1565.3l-7.7-1.7 1.8-4.7-13 3.4 10.2 8.8 .4-5 7.7 1.8zM1950.1 1565.3l-7.8-1.8 1.9-4.6-13.1 3.4 10.3 8.8 .3-5 7.8 1.8zM1983 1565.3l-7.7-1.8 1.8-4.6-13 3.4 10.2 8.7 .4-4.9 7.7 1.8zM2016 1565.3l-7.8-1.8 1.9-4.6-13.1 3.3 10.2 8.8 .4-5 7.8 1.9zM2049 1565.3l-7.9-1.8 1.9-4.6-13 3.3 10.2 8.8 .3-5 7.9 1.9zM2082 1565.3l-7.9-1.8 1.9-4.6-13.1 3.3 10.2 8.8 .4-5 7.9 1.9zM2114.9 1565.3l-7.9-1.8 1.9-4.7-13.1 3.4 10.3 8.8 .3-5 7.9 1.9zM2147.9 1565.3l-7.9-1.8 1.9-4.7-13.1 3.4 10.2 8.8 .4-5 7.9 1.9zM2180.9 1565.3l-8-1.8 1.9-4.7-13.1 3.4 10.2 8.8 .4-5 8 1.9zM2213.9 1565.3l-8-1.9 1.8-4.6-13 3.3 10.2 8.9 .4-5 8 1.9zM2246.8 1565.3l-8-1.9 1.9-4.6-13.1 3.3 10.2 8.9 .4-5 8 1.9zM2279.8 1565.3l-8.1-1.9 1.9-4.6-13 3.3 10.2 8.8 .3-4.9 8.1 1.9zM2312.8 1565.3l-8.1-1.9 1.9-4.6-13.1 3.3 10.2 8.8 .4-5 8.1 2zM2345.8 1565.3l-8.1-1.9 1.9-4.6-13.1 3.3 10.2 8.8 .4-5 8.1 2zM2378.8 1565.3l-8.2-1.9 1.9-4.6-13 3.3 10.2 8.8 .3-5 8.2 2zM2411.7 1565.3l-8.1-1.9 1.9-4.6-13.1 3.3 10.2 8.8 .4-5 8.1 2zM2444.7 1565.3l-8.1-1.9 1.9-4.6-13.1 3.3 10.2 8.8 .4-5 8.1 2zM2477.7 1565.3l-8.1-1.9 1.9-4.6-13.1 3.3 10.2 8.8 .4-5 8.1 2zM1324.1 1621.1l0-.5 3.3 .5-4.2-8-4.2 8 3.3-.5 0 .5zM1357.4 1621l-.1-.7 4.6 .3-6.7-10.5-4.8 11.5 4.5-1.1 .1 .7zM1390.5 1621.1l0-2.1 4.9 .8-6.2-12-6.3 12 5-.8 0 2.1zM1423.4 1621.2l.2-2.2 4.9 1.2-5.4-12.4-7.1 11.5 5-.4-.2 2.1zM1456.4 1621l-.5-4.6 5 .2-7.5-11.2-4.9 12.6 4.8-1.3 .5 4.5zM1489.4 1621.1l0-4.5 4.9 .8-6.2-12-6.3 12 5-.8 0 4.5zM1522.4 1621.1l0-3.3 4.9 .8-6.2-12-6.3 12 5-.8 0 3.3zM1555.3 1621.1l0-3.3 5 .8-6.3-12-6.2 12 4.9-.8 0 3.3zM1588.3 1621.1l0-1.8 5 .8-6.3-12-6.2 12 4.9-.8 0 1.8zM1621.3 1621.1l0-1.8 4.9 .8-6.2-12-6.2 12 4.9-.8 0 1.8zM1654.3 1621.1l0-1.8 4.9 .8-6.2-12-6.3 12 5-.8 0 1.8zM1687.2 1621l0-.8 5 .6-6.8-11.7-5.7 12.2 4.9-1 0 .9zM1720.1 1621l0-.7 4.6 .5-6.3-10.7-5.2 11.3 4.5-1 0 .8zM1753 1621l0-.6 4.1 .4-5.7-9.7-4.7 10.3 4.1-.9 0 .7zM1785.9 1621.1l0-.6 3.7 .6-4.7-9-4.7 9 3.7-.6 0 .6zM1818.5 1621.1l0-.4 2.5 .4-3.2-6-3.1 6 2.5-.4 0 .4zM1851.4 1621.1l0-.3 2 .3-2.6-5-2.6 5 2.1-.3 0 .3zM1885.1 1621.1l-.6 1.1-1.3 0-.7-1.1 .7-1.1 1.3 0zM1918.1 1621.1l-.7 1.1-1.3 0-.6-1.1 .6-1.1 1.3 0zM1951.1 1621.1l-.7 1.1-1.3 0-.6-1.1 .6-1.1 1.3 0zM1984 1621.1l-.6 1.1-1.3 0-.7-1.1 .7-1.1 1.3 0zM2017 1621.1l-.6 1.1-1.3 0-.7-1.1 .7-1.1 1.3 0zM2050 1621.1l-.7 1.1-1.3 0-.6-1.1 .6-1.1 1.3 0zM2083 1621.1l-.7 1.1-1.3 0-.6-1.1 .6-1.1 1.3 0zM2115.9 1621.1l-.6 1.1-1.3 0-.7-1.1 .7-1.1 1.3 0zM2148.9 1621.1l-.6 1.1-1.3 0-.7-1.1 .7-1.1 1.3 0zM2181.9 1621.1l-.7 1.1-1.3 0-.6-1.1 .6-1.1 1.3 0zM2214.9 1621.1l-.7 1.1-1.3 0-.6-1.1 .6-1.1 1.3 0zM2247.8 1621.1l-.6 1.1-1.3 0-.7-1.1 .7-1.1 1.3 0zM2280.8 1621.1l-.6 1.1-1.3 0-.7-1.1 .7-1.1 1.3 0zM2313.8 1621.1l-.6 1.1-1.4 0-.6-1.1 .6-1.1 1.4 0zM1192.4 1656.2l5.6-10.2 4 3.1 .3-13.5-11.2 7.5 4.7 1.7-5.6 10.2zM1225.4 1656.2l5.6-10.2 4 3.1 .3-13.5-11.3 7.5 4.7 1.7-5.6 10.2zM1258.4 1656.2l5.6-10.2 4 3.1 .2-13.5-11.2 7.5 4.7 1.7-5.6 10.2zM1291.4 1656.2l5.6-10.2 3.9 3.1 .3-13.5-11.2 7.5 4.7 1.7-5.6 10.2zM1324.3 1656.2l5.7-10.2 3.9 3.1 .3-13.5-11.2 7.5 4.7 1.7-5.6 10.2zM1357.5 1655.5l-2.2-43.7 5 .5-6.8-11.6-5.7 12.3 4.9-1.1 2.2 43.8zM1390.5 1655.6l-.5-47.4 4.9 .7-6.3-11.9-6.2 12 5-.8 .5 47.4zM1423.4 1655.7l2.2-42.6 4.9 1.1-5.7-12.3-6.8 11.6 5-.5-2.2 42.5zM1456.4 1655.9l6.2-29.7 4.7 1.8-3.7-13-8.6 10.4 5 .3-6.2 29.6zM1489.2 1656.2l7.5-15 4.1 2.9-.3-13.5-10.9 7.9 4.8 1.5-7.5 15zM1521.8 1656.6l8-5.9 2.3 4.5 5.9-12.2-13.4 2.1 3.6 3.5-7.9 6zM1554.4 1656.9l10-2.7 .5 5 9.9-9.1-13.1-3 2 4.6-10 2.6zM1587 1656.9l12.4-.3-.7 5 11.8-6.5-12.1-6 .9 4.9-12.3 .3zM1619.8 1656.9l13.9 2-1.4 4.8 12.7-4.5-11-7.9 .1 5-13.9-2zM1652.6 1656.9l16.9 4.7-2 4.5 13.2-2.8-9.9-9.2-.6 5-16.9-4.8zM1685.5 1656.8l20.5 7.5-2.4 4.4 13.3-1.8-9.1-10-.9 4.9-20.5-7.4zM1718.4 1656.8l24 10.4-2.6 4.3 13.4-1-8.5-10.5-1.2 4.9-24.1-10.5zM1751.4 1656.8l27.4 12.6-2.8 4.2 13.5-.7-8.3-10.7-1.3 4.8-27.5-12.6zM1784.3 1656.8l29.9 14.6-2.9 4.1 13.5-.3-8-10.9-1.5 4.8-29.9-14.7zM1817.3 1656.8l32.6 16.3-2.9 4.1 13.4-.2-7.8-10.9-1.6 4.7-32.6-16.4zM1850.2 1656.8l36.1 18.2-3 4.1 13.5-.2-7.8-11-1.6 4.8-36-18.3zM1883.2 1656.8l39 18.9-2.9 4.1 13.5-.4-8-10.8-1.5 4.7-38.9-18.9zM1916.2 1656.8l40.9 19.5-2.8 4.2 13.5-.5-8.1-10.8-1.4 4.8-41-19.6zM1949.2 1656.8l40.9 20-2.8 4.1 13.5-.3-8-10.9-1.5 4.8-41-20.1zM1982.1 1656.8l41.5 20.9-3 4.1 13.5-.2-7.8-11-1.6 4.8-41.4-21zM2015.1 1656.7l41.9 22.2-3 4 13.5 .1-7.6-11.1-1.7 4.7-41.9-22.1zM2048.1 1656.7l40.7 22.4-3.1 3.9 13.5 .3-7.5-11.2-1.7 4.7-40.7-22.3zM2081 1656.7l39.6 22.5-3.1 3.9 13.5 .5-7.4-11.3-1.7 4.6-39.6-22.4zM2114 1656.7l39.9 22.5-3.1 4 13.4 .4-7.3-11.3-1.8 4.7-39.8-22.5zM2147 1656.7l39.4 22.1-3.1 3.9 13.5 .4-7.4-11.3-1.7 4.7-39.4-22zM2180 1656.8l38.3 19.5-2.9 4 13.5-.1-7.8-11-1.6 4.8-38.3-19.6zM2212.9 1656.7l35.2 19.3-3 3.9 13.5 .3-7.5-11.2-1.7 4.7-35.2-19.2zM2245.9 1656.7l33.1 17.8-3 3.9 13.4 .2-7.5-11.2-1.7 4.8-33-17.7zM2278.9 1656.8l30 15-2.9 4 13.5-.2-7.9-10.9-1.5 4.7-30-15zM2311.9 1656.8l28 14-2.9 4 13.5-.2-7.9-10.9-1.5 4.7-28-14zM1192.5 1682l10.5-35.3 4.5 2.1-2.6-13.2-9.4 9.7 5 .7-10.5 35.2zM1225.5 1682l10.4-35.3 4.6 2.1-2.6-13.2-9.4 9.7 5 .7-10.5 35.2zM1258.5 1682l10.4-35.3 4.5 2.1-2.6-13.2-9.3 9.7 4.9 .7-10.4 35.2zM1291.5 1682l10.4-35.3 4.5 2.1-2.6-13.2-9.4 9.7 5 .7-10.4 35.2zM1324.4 1682l10.5-35.3 4.5 2.1-2.6-13.2-9.4 9.7 5 .7-10.4 35.2zM1357.4 1681.9l10.1-41.5 4.6 1.9-3.2-13.1-8.9 10.2 5 .4-10.1 41.5zM1390.4 1681.9l10.5-45.1 4.6 1.9-3.3-13.1-8.8 10.2 5 .4-10.5 45.1zM1423.4 1681.9l10.1-40.1 4.6 1.9-3.1-13.1-9 10.1 5 .4-10.1 40.2zM1456.4 1682l9.3-31 4.5 2.2-2.5-13.3-9.4 9.6 4.9 .7-9.3 31zM1489.2 1682.2l10.6-18.8 3.9 3.1 .4-13.5-11.3 7.4 4.7 1.7-10.6 18.9zM1521.9 1682.6l10.9-9.4 2.6 4.2 5-12.5-13.2 3.1 3.9 3.2-10.9 9.4zM1554.2 1682.9l12.8-1.9-.1 5 10.9-8-12.7-4.4 1.5 4.8-12.8 1.9zM1586.6 1682.8l17.6 5.6-2.3 4.5 13.3-2.4-9.5-9.6-.8 5-17.5-5.5zM1619.3 1682.7l22.4 12.9-3.2 3.9 13.5 .6-7.2-11.4-1.8 4.7-22.4-12.9zM1652.2 1682.7l26.8 18.1-3.4 3.7 13.4 1.5-6.4-11.9-2.2 4.6-26.7-18.2zM1685.2 1682.6l31 23.2-3.6 3.5 13.3 2.1-5.8-12.1-2.3 4.4-31.1-23.1zM1718.1 1682.6l31.5 26.7-3.8 3.3 13.1 3-5.1-12.5-2.6 4.3-31.4-26.8zM1751 1682.6l32.4 29.4-3.9 3.2 13 3.4-4.6-12.7-2.8 4.2-32.3-29.5zM1784 1682.5l33.9 32.3-4 3.1 13 3.7-4.4-12.8-2.8 4.1-33.9-32.2zM1817 1682.5l38.8 36.4-3.9 3.1 12.9 3.6-4.4-12.7-2.8 4.1-38.9-36.3zM1849.9 1682.5l39.5 37-4 3.1 13 3.6-4.4-12.7-2.8 4.1-39.5-36.9zM1882.9 1682.5l38.9 38-4 3 12.9 3.9-4.2-12.8-2.9 4.1-38.9-38zM1915.9 1682.5l38.8 39.1-4.1 2.9 12.9 4.1-4-12.9-3 4.1-38.8-39.1zM1948.8 1682.5l38.6 39.6-4.1 2.9 12.9 4.2-3.9-12.9-3 4-38.6-39.6zM1981.8 1682.5l37.8 39.9-4.1 2.8 12.7 4.4-3.7-13-3 4-37.8-39.9zM2014.8 1682.5l36.8 38-4.1 2.9 12.8 4.2-3.8-12.9-3 4-36.9-38zM2047.7 1682.5l34.4 36.8-4.1 2.8 12.7 4.5-3.6-13-3.1 3.9-34.4-36.8zM2080.7 1682.5l32.1 35.2-4.2 2.8 12.7 4.6-3.5-13-3.1 3.9-32.1-35.3zM2113.7 1682.5l31.1 34.1-4.1 2.8 12.6 4.6-3.4-13-3.1 3.9-31.2-34.2zM2146.7 1682.5l30.2 32.9-4.2 2.8 12.7 4.6-3.5-13-3.1 3.9-30.2-33zM2179.7 1682.5l29.2 30.8-4.2 2.8 12.8 4.4-3.7-13-3.1 4-29.2-30.8zM2212.6 1682.5l28 28.6-4.1 2.9 12.9 4.2-3.9-12.9-3 4-28-28.6zM2245.6 1682.5l27 26.5-4.1 3 12.9 3.9-4.1-12.8-2.9 4-26.9-26.4zM2278.7 1682.6l24.6 22.3-3.9 3.1 13 3.4-4.7-12.7-2.7 4.2-24.6-22.3zM2311.6 1682.6l22.7 20.5-3.9 3.1 13.1 3.4-4.7-12.6-2.7 4.1-22.7-20.5zM1192.6 1703.8l8-45 4.7 1.7-4-12.9-8.3 10.7 5 .1-8 45zM1225.5 1703.8l8.1-45 4.7 1.7-4-12.9-8.3 10.7 5 .1-8 45zM1258.5 1703.8l8.1-45 4.7 1.7-4.1-12.9-8.2 10.7 5 .1-8 45zM1291.5 1703.8l8-45 4.8 1.7-4.1-12.9-8.2 10.7 5 .1-8.1 45zM1324.5 1703.8l8-45 4.7 1.7-4-12.9-8.2 10.7 5 .1-8.1 45zM1357.5 1703.8l5.5-40.9 4.8 1.4-4.6-12.7-7.8 11 5-.1-5.5 40.9zM1390.4 1703.8l5.5-37.9 4.7 1.4-4.4-12.7-7.9 11 5-.1-5.4 37.9zM1423.4 1703.9l6.4-30.1 4.7 1.8-3.7-13-8.6 10.4 5 .3-6.3 30zM1456.3 1704.1l8.2-18.9 4.2 2.7-1-13.5-10.5 8.5 4.9 1.3-8.2 18.9zM1489 1704.5l9.5-9 2.9 4.1 4.4-12.7-13 3.7 4 3-9.6 9.1zM1521.4 1704.9l12.1-3.2 .5 5 10-9.1-13.2-3 2 4.6-12.1 3.1zM1553.7 1704.9l13.6 3.3-2 4.6 13.1-3.2-10.1-8.9-.4 5-13.6-3.4zM1586.6 1704.8l22.5 8.2-2.5 4.4 13.4-1.8-9.1-10-.9 5-22.5-8.2zM1619.4 1704.7l27 14.4-3 4 13.5 .1-7.6-11.1-1.7 4.7-27-14.3zM1652.3 1704.7l30.2 19.5-3.4 3.7 13.5 1.3-6.7-11.7-2 4.5-30.2-19.5zM1685.2 1704.6l33.4 25.3-3.6 3.5 13.3 2.2-5.7-12.2-2.4 4.4-33.5-25.2zM1718.1 1704.6l35.2 29.7-3.7 3.3 13.1 2.9-5.1-12.5-2.6 4.3-35.2-29.7zM1751 1704.6l38.1 33.1-3.8 3.3 13.1 3.1-4.9-12.6-2.7 4.3-38-33.2zM1784 1704.6l38.6 33.6-3.8 3.2 13.1 3.2-4.9-12.6-2.7 4.3-38.6-33.7zM1817 1704.6l38.8 33.7-3.8 3.2 13.1 3.1-4.9-12.6-2.7 4.3-38.8-33.7zM1850 1704.6l39 33.7-3.8 3.2 13.1 3.1-4.9-12.5-2.7 4.2-39-33.7zM1883 1704.6l39.2 33.7-3.8 3.2 13.2 3.1-5.1-12.5-2.6 4.2-39.2-33.7zM1915.9 1704.6l39.5 33.7-3.8 3.3 13.2 3-5.1-12.5-2.6 4.3-39.5-33.8zM1948.9 1704.6l38.6 33.4-3.9 3.2 13.2 3.1-5-12.5-2.6 4.2-38.6-33.4zM1981.9 1704.6l37.6 33.1-3.9 3.2 13.1 3.2-4.8-12.6-2.7 4.2-37.6-33.1zM2014.8 1704.6l35.3 32.6-3.9 3.1 13 3.5-4.5-12.7-2.8 4.2-35.3-32.7zM2047.8 1704.5l33 32.2-4 3 12.9 3.9-4.2-12.8-2.9 4.1-33-32.2zM2080.7 1704.5l30.2 31-4.1 2.9 12.9 4.2-3.9-12.9-3 4-30.2-31zM2113.7 1704.5l29.8 30.9-4.1 2.9 12.7 4.3-3.8-12.9-3 3.9-29.7-30.9zM2146.7 1704.5l28.6 27.7-4 3.1 12.9 3.8-4.2-12.8-2.9 4.1-28.6-27.7zM2179.7 1704.6l27.5 25.4-3.9 3.1 13 3.5-4.6-12.7-2.7 4.2-27.5-25.5zM2212.7 1704.5l26.6 25.3-4 3.1 13 3.7-4.4-12.8-2.8 4.2-26.6-25.3zM2245.7 1704.6l26.5 23.5-3.8 3.2 13 3.3-4.8-12.6-2.6 4.2-26.6-23.6zM2278.7 1704.6l23.2 20.2-3.8 3.2 13.1 3.1-4.9-12.6-2.7 4.3-23.2-20.2zM2311.6 1704.6l21.6 18.7-3.8 3.2 13.1 3.1-5-12.5-2.6 4.2-21.5-18.7zM1192.6 1737.5l2.2-9.1 4.6 1.9-3.1-13.1-9 10.1 5 .4-2.3 9.2zM1225.5 1737.5l2.3-9.1 4.6 1.9-3.1-13.1-9 10.1 5 .4-2.3 9.2zM1258.5 1737.5l2.3-9.1 4.6 1.9-3.2-13.1-8.9 10.1 5 .4-2.3 9.2zM1291.5 1737.5l2.3-9.1 4.6 1.9-3.2-13.1-8.9 10.1 5 .4-2.3 9.2zM1324.5 1737.5l2.2-9.1 4.7 1.9-3.2-13.1-9 10.1 5 .4-2.3 9.2zM1357.5 1737.2l.5-16.8 4.9 .9-5.9-12.1-6.6 11.8 5-.7-.5 16.9zM1390.4 1737.7l3-8.1 4.4 2.5-1.6-13.4-10.1 9 4.9 1-3.1 8zM1423.2 1737.9l2.5-3.7 3.7 3.4 1.4-13.4-11.8 6.5 4.5 2.1-2.5 3.7zM1456.1 1738.1l2.3-2.5 3.1 3.9 3.6-13-12.7 4.5 4.1 2.8-2.3 2.5zM1486.9 1737.4l.1 .7-4.7 .1 7.8 10 3.7-12-4.4 1.5-.1-.7zM1519.9 1737.3l0 .7-4.6-.3 6.8 10.5 4.7-11.5-4.5 1.1 0-.7zM1553.9 1738.5l4.9 .6-1.4 4.8 12.6-4.7-11.1-7.7 .2 5-4.9-.6zM1587.1 1738.5l6.3-.2-.7 5 11.8-6.6-12.1-5.9 .9 4.9-6.3 .2zM1619.9 1738.5l8.9 .5-1.1 4.9 12.3-5.5-11.6-6.9 .5 4.9-8.8-.5zM1652.7 1738.5l12.1 2.5-1.8 4.7 13-3.7-10.5-8.6-.2 5-12.1-2.5zM1685.5 1738.4l15.1 4.9-2.3 4.5 13.3-2.3-9.4-9.6-.8 4.9-15.1-4.8zM1718.4 1738.4l18 7.2-2.6 4.3 13.4-1.4-8.8-10.2-1.1 4.8-17.9-7.1zM1751.3 1738.4l22.3 10.6-2.9 4.2 13.5-.5-8.1-10.8-1.4 4.8-22.2-10.7zM1784.3 1738.3l25.1 13.7-3 4 13.5 .2-7.6-11.2-1.6 4.7-25.2-13.6zM1817.2 1738.3l28.2 15.9-3.1 4 13.5 .4-7.4-11.3-1.7 4.7-28.2-15.9zM1850.2 1738.3l29.6 17.1-3.2 3.8 13.5 .6-7.2-11.4-1.8 4.7-29.6-17zM1883.2 1738.3l30 17.1-3.1 3.9 13.5 .5-7.3-11.3-1.8 4.6-30.1-17zM1916.1 1738.3l31.6 18.2-3.1 3.9 13.5 .6-7.3-11.4-1.8 4.7-31.6-18.2zM1949.1 1738.3l31.7 18.3-3.2 3.8 13.5 .6-7.2-11.4-1.8 4.7-31.7-18.2zM1982.1 1738.3l31.7 18.3-3.1 3.9 13.5 .5-7.3-11.4-1.8 4.7-31.7-18.2zM2015.1 1738.3l31.8 18.3-3.2 3.9 13.5 .5-7.3-11.4-1.7 4.7-31.8-18.2zM2048 1738.3l30.4 17.7-3.2 3.8 13.5 .6-7.2-11.4-1.8 4.7-30.4-17.6zM2081 1738.3l28.9 17-3.2 3.9 13.5 .7-7.2-11.4-1.8 4.6-28.9-17zM2114 1738.3l24.4 14.8-3.2 3.8 13.4 .9-7-11.5-1.8 4.6-24.5-14.8zM2146.9 1738.3l24.8 14.9-3.2 3.8 13.4 .8-7-11.5-1.9 4.6-24.7-14.8zM2179.9 1738.3l23.8 13.9-3.2 3.9 13.5 .6-7.2-11.4-1.8 4.6-23.8-13.8zM2212.9 1738.3l21.7 12.7-3.2 3.9 13.5 .6-7.2-11.4-1.8 4.6-21.7-12.6zM2245.9 1738.3l19.6 11.5-3.2 3.9 13.4 .7-7.1-11.4-1.8 4.6-19.6-11.5zM2278.9 1738.3l17.4 10.3-3.1 3.9 13.4 .7-7.1-11.5-1.8 4.7-17.5-10.3zM2311.9 1738.3l16.3 9.4-3.2 3.9 13.5 .6-7.2-11.4-1.8 4.7-16.4-9.4zM1324.5 1763.4l0-3.8 4.9 .8-6.2-12-6.2 12 4.9-.8 0 3.8zM1357.5 1763.3l-.5-10.2 5 .6-6.8-11.7-5.7 12.2 4.9-1 .5 10.3zM1390.5 1763.4l0-10.2 4.9 .8-6.2-12-6.3 12 5-.8 0 10.2zM1423.4 1763.4l0-9.6 5 .8-6.3-12-6.2 12 4.9-.8 0 9.6zM1456.4 1763.4l0-9.6 4.9 .8-6.2-12-6.2 12 4.9-.8 0 9.6zM1489.4 1763.4l.2-9 4.9 .9-5.9-12.1-6.6 11.8 5-.7-.2 9.1zM1522.4 1763.4l.2-7.8 4.9 .9-5.9-12.1-6.6 11.8 5-.7-.2 7.9zM1555.3 1763.5l.7-6.7 4.8 1.2-5-12.5-7.4 11.3 5-.3-.7 6.8zM1588.3 1763.1l-.3-1.2 5-.4-9-10.1-3.1 13.1 4.6-1.9 .3 1.1zM1620.2 1762.3l-.6-.1 1.4-4-11 3.2 8.9 7.2 .2-4.2 .7 .1zM1651.9 1763.5l0 .7-4.2-.3 6.3 9.5 4.2-10.5-4.1 1 0-.6zM1685.1 1764.1l.4 .5-3.7 1.9 10.1 4.9-1.8-11.1-2.9 3-.4-.6zM1718.9 1764.7l5.2 0-.7 4.9 11.9-6.2-11.9-6.2 .7 4.9-5.2 0zM1751.8 1764.7l7.9 .5-1.1 4.9 12.3-5.5-11.5-7 .4 5-7.8-.5zM1784.7 1764.7l9.7 1.4-1.5 4.8 12.8-4.5-11-7.9 .1 5-9.7-1.4zM1817.6 1764.7l12.6 2.5-1.7 4.7 12.9-3.7-10.4-8.5-.2 5-12.7-2.6zM1850.5 1764.7l14.2 3.4-2 4.6 13.1-3.3-10.1-8.9-.4 5-14.2-3.4zM1883.5 1764.7l15.9 4.2-2.1 4.6 13.2-3-10-9.1-.5 5-15.9-4.3zM1916.4 1764.6l16.9 5.1-2.2 4.5 13.3-2.5-9.7-9.4-.7 4.9-16.8-5zM1949.4 1764.6l18.5 5.7-2.2 4.5 13.3-2.5-9.7-9.5-.7 5-18.5-5.6zM1982.3 1764.6l19.4 6.2-2.3 4.4 13.3-2.3-9.5-9.6-.7 5-19.4-6.1zM2015.3 1764.6l19.8 7-2.3 4.4 13.3-1.9-9.2-9.9-.9 5-19.9-7zM2048.2 1764.6l19.6 7.5-2.5 4.3 13.4-1.5-8.9-10.1-1.1 4.9-19.5-7.5zM2081.2 1764.6l21.1 7.6-2.4 4.4 13.4-1.8-9.2-9.9-.9 4.9-21.1-7.6zM2114.2 1764.6l21.2 6.9-2.3 4.5 13.3-2.3-9.4-9.6-.8 4.9-21.2-6.8zM2147.2 1764.6l20.3 6.4-2.3 4.5 13.3-2.4-9.5-9.5-.8 4.9-20.2-6.3zM2180.2 1764.6l17.1 5.7-2.3 4.5 13.3-2.2-9.4-9.7-.8 4.9-17.1-5.6zM2213.2 1764.6l13.7 4.6-2.2 4.4 13.3-2.2-9.5-9.7-.7 5-13.8-4.5zM2246.1 1764.6l11.7 3.9-2.3 4.5 13.3-2.2-9.3-9.7-.9 4.9-11.6-3.8zM2279.1 1764.6l9.7 3-2.2 4.5 13.2-2.4-9.5-9.5-.8 4.9-9.6-2.9zM2312.1 1764.6l8.3 2.7-2.2 4.4 13.3-2.3-9.5-9.6-.8 5-8.3-2.6zM1324.5 1785.4l0-.8 4.9 .8-6.2-12-6.2 12 4.9-.8 0 .8zM1357.5 1785.4l0-5.5 4.9 .8-6.2-12-6.3 12 5-.8 0 5.5zM1390.5 1785.4l0-4.8 4.9 .8-6.2-12-6.3 12 5-.8 0 4.8zM1423.4 1785.4l0-4.8 5 .8-6.3-12-6.2 12 4.9-.8 0 4.8zM1456.4 1785.4l0-4.3 4.9 .8-6.2-12-6.2 12 4.9-.8 0 4.3zM1489.4 1785.4l.1-3.1 4.9 1-5.8-12.2-6.7 11.7 5-.6-.1 3.2zM1522.4 1785.4l0-.8 4.9 .8-6.2-12-6.3 12 5-.8 0 .8zM1554.3 1784.6l-.5-.1 1.3-2.8-8.1 1.7 6 5.7 .4-3.1 .4 .2zM1586.3 1785.4l0 .5-2.9-.5 3.6 7 3.7-7-2.9 .5 0-.5zM1619.8 1786.2l.4 .1-1.3 2.8 8.1-1.7-6-5.7-.3 3.1-.5-.2zM1653 1786.5l.6 0-.6 4.1 10-5.2-10-5.2 .6 4.1-.6 0zM1685.9 1786.7l.9 0-.8 4.9 11.9-6.2-11.9-6.2 .8 4.9-.9 0zM1718.9 1786.7l1.8 0-.7 4.9 11.9-6.2-11.9-6.2 .7 4.9-1.8 0zM1751.9 1786.7l2.1 0-.8 4.9 11.9-6.2-11.9-6.2 .8 4.9-2.1 0zM1784.9 1786.7l2.3 0-.8 4.9 12-6.2-12-6.2 .8 4.9-2.3 0zM1817.7 1786.6l.8 .1-1.2 4.4 11.5-4.7-10.4-6.7 .3 4.6-.7-.1zM1850.8 1786.7l1.8 0-.7 4.9 11.9-6.2-11.9-6.2 .7 4.9-1.8 0zM1883.8 1786.7l2 0-.8 4.9 12-6.2-12-6.2 .8 4.9-2 0zM1916.8 1786.7l2.1 0-.7 4.9 11.9-6.2-11.9-6.2 .7 4.9-2.1 0zM1949.8 1786.7l2.3 0-.8 4.9 12-6.2-12-6.2 .8 4.9-2.3 0zM1982.7 1786.7l2.9 0-.8 4.9 11.9-6.2-11.9-6.2 .8 4.9-2.9 0zM2015.7 1786.7l2.8 0-.7 4.9 11.9-6.2-11.9-6.2 .7 4.9-2.8 0zM2048.7 1786.7l2.8 0-.8 4.9 12-6.2-12-6.2 .8 4.9-2.8 0zM2081.2 1786.6l4.6 1.7-2.5 4.4 13.4-1.6-9-10.1-1 4.9-4.6-1.7zM2114.2 1786.6l6.5 2.4-2.4 4.4 13.3-1.7-9-10-1 4.9-6.5-2.4zM2147.3 1786.7l8.7 2.3-2 4.5 13.1-2.9-9.9-9.1-.6 5-8.6-2.4zM2180.4 1786.7l12 2.1-1.7 4.7 12.9-4.1-10.7-8.2-.1 5-12-2.1zM2213.4 1786.7l10.9 1.4-1.4 4.8 12.7-4.6-11.1-7.7 .2 5-11-1.5zM2246.4 1786.7l11.2 1.1-1.3 4.9 12.5-5-11.2-7.4 .3 5-11.2-1.2zM2279.5 1786.7l10.2 .5-1 4.9 12.2-5.6-11.6-6.8 .5 4.9-10.2-.5zM2312.4 1786.7l9.9 .5-1 4.9 12.2-5.7-11.6-6.8 .5 5-9.8-.5zM1324.1 1805.1l0-.5 3.3 .5-4.2-8-4.2 8 3.3-.5 0 .5zM1357.3 1805.1l0-.7 4.1 .7-5.2-10-5.2 10 4.1-.7 0 .7zM1389.9 1805.1l0-.5 2.9 .5-3.6-7-3.7 7 2.9-.5 0 .5zM1422.6 1805.1l0-.3 1.6 .3-2.1-4-2.1 4 1.7-.3 0 .3zM1456.4 1805.1l-.6 1.1-1.3 0-.7-1.1 .7-1.1 1.3 0zM1489.4 1805.1l-.7 1.1-1.3 0-.6-1.1 .6-1.1 1.3 0zM1522.4 1805.1l-.7 1.1-1.3 0-.6-1.1 .6-1.1 1.3 0zM1555.3 1805.1l-.6 1.1-1.3 0-.7-1.1 .7-1.1 1.3 0zM1588.3 1805.1l-.6 1.1-1.3 0-.7-1.1 .7-1.1 1.3 0zM1621.3 1805.1l-.7 1.1-1.3 0-.6-1.1 .6-1.1 1.3 0zM1654.3 1805.1l-.7 1.1-1.3 0-.6-1.1 .6-1.1 1.3 0zM1687.2 1805.1l-.6 1.1-1.3 0-.7-1.1 .7-1.1 1.3 0zM1720.2 1805.1l-.6 1.1-1.3 0-.7-1.1 .7-1.1 1.3 0zM1753.2 1805.1l-.7 1.1-1.3 0-.6-1.1 .6-1.1 1.3 0zM1786.2 1805.1l-.7 1.1-1.3 0-.6-1.1 .6-1.1 1.3 0zM1819.1 1805.1l-.6 1.1-1.3 0-.7-1.1 .7-1.1 1.3 0zM1851.3 1805.1l0-.3 1.6 .3-2.1-4-2.1 4 1.7-.3 0 .3zM1884.3 1805.1l0-.3 2.1 .3-2.6-5-2.6 5 2.1-.3 0 .3zM1917.4 1805.1l0-.4 2.5 .4-3.1-6-3.2 6 2.5-.4 0 .4zM1950.5 1805.1l0-.5 2.9 .5-3.6-7-3.7 7 2.9-.5 0 .5zM1983.6 1805.1l0-.5 3.3 .5-4.2-8-4.1 8 3.3-.5 0 .5zM2016.7 1805.1l0-.6 3.7 .6-4.7-9-4.7 9 3.7-.6 0 .6zM2049.7 1805.1l0-.6 3.9 .6-4.9-9.5-5 9.5 4-.6 0 .6zM2081.6 1806.4l.8 .1-1.2 4.8 12.5-5.2-11.4-7.2 .3 5-.8-.1zM2114.6 1806.4l3.6 0-.8 4.9 11.9-6.2-11.9-6.2 .8 4.9-3.6 0zM2147.6 1806.4l6 0-.7 4.9 11.9-6.2-11.9-6.2 .7 4.9-6 0zM2180.6 1806.4l7.3 0-.8 4.9 12-6.2-12-6.2 .8 4.9-7.3 0zM2213.6 1806.4l8.6 0-.8 4.9 12-6.2-12-6.2 .8 4.9-8.6 0zM2246.5 1806.4l7.8 0-.8 4.9 11.9-6.2-11.9-6.2 .8 4.9-7.8 0zM2279.5 1806.4l6.8 0-.7 4.9 11.9-6.2-11.9-6.2 .7 4.9-6.8 0zM2312.5 1806.4l5.8 0-.8 4.9 12-6.2-12-6.2 .8 4.9-5.8 0zM1323.2 1830.7l-.3-2.9 5 .2-7.4-11.2-5 12.6 4.8-1.3 .4 2.8zM1356.2 1830.7l-.3-2.9 5 .2-7.5-11.2-4.9 12.6 4.8-1.3 .3 2.8zM1389.2 1830.7l-.3-2.9 5 .2-7.5-11.2-4.9 12.6 4.8-1.3 .3 2.8zM1422.2 1830.7l-.3-2.9 5 .2-7.5-11.2-5 12.6 4.9-1.3 .3 2.8zM1455.1 1830.7l-.3-2.9 5 .2-7.4-11.2-5 12.6 4.9-1.3 .3 2.8zM1488.1 1830.7l-.3-2.9 5 .2-7.5-11.2-4.9 12.6 4.8-1.3 .3 2.8zM1521.1 1830.7l-.3-2.9 5 .2-7.5-11.2-4.9 12.6 4.8-1.3 .3 2.8zM1554.1 1830.7l-.3-2.9 5 .2-7.5-11.2-4.9 12.6 4.8-1.3 .3 2.8zM1587.1 1830.7l-.4-2.9 5 .2-7.4-11.2-5 12.6 4.9-1.3 .3 2.8zM1620 1830.7l-.3-2.9 5 .2-7.5-11.2-4.9 12.6 4.8-1.3 .3 2.8zM1652.3 1823.8l-.7 1.1-1.3 0-.6-1.1 .6-1.1 1.3 0zM1685.2 1823.8l-.6 1.1-1.3 0-.7-1.1 .7-1.1 1.3 0zM1718.2 1823.8l-.6 1.1-1.3 0-.7-1.1 .7-1.1 1.3 0zM1751.2 1823.8l-.7 1.1-1.3 0-.6-1.1 .6-1.1 1.3 0zM1784.2 1823.8l-.7 1.1-1.3 0-.6-1.1 .6-1.1 1.3 0zM1817.1 1823.8l-.6 1.1-1.3 0-.7-1.1 .7-1.1 1.3 0zM1852.1 1823.8l-.6 1.1-1.3 0-.7-1.1 .7-1.1 1.3 0zM1885.1 1823.8l-.6 1.1-1.3 0-.7-1.1 .7-1.1 1.3 0zM1918.1 1823.8l-.7 1.1-1.3 0-.6-1.1 .6-1.1 1.3 0zM1951.1 1823.8l-.7 1.1-1.3 0-.6-1.1 .6-1.1 1.3 0zM1984 1823.8l-.6 1.1-1.3 0-.7-1.1 .7-1.1 1.3 0zM2016.4 1826.8l0-.4 2.4 .4-3.1-6-3.1 6 2.5-.4 0 .4zM2049.3 1826.8l0-.4 2.5 .4-3.1-6-3.1 6 2.4-.4 0 .4zM2082.3 1826.8l0-.4 2.5 .4-3.1-6-3.2 6 2.5-.4 0 .4zM2115.3 1826.8l0-.4 2.5 .4-3.2-6-3.1 6 2.5-.4 0 .4zM2148.5 1827.8l0-.5 3.3 .5-4.2-8-4.2 8 3.3-.5 0 .5zM2177.6 1827.1l.5-.4 1.6 3.3 4.4-8.7-9.6 1.3 2.5 2.6-.5 .3zM2209 1826.9l.7-.3 1 4.4 7.9-9.2-12.1-1.2 2.3 3.9-.7 .2zM2242 1826.9l.6-.3 1 4.4 7.9-9.2-12-1.2 2.3 3.9-.7 .2zM2275 1826.9l.6-.3 1 4.4 7.9-9.2-12.1-1.2 2.3 3.9-.6 .2zM2307.9 1826.9l.7-.3 1 4.4 7.9-9.2-12.1-1.2 2.3 3.9-.6 .2zM1322.7 1838.4l-.3-2.9 5 .2-7.4-11.2-5 12.6 4.8-1.3 .4 2.8zM1355.7 1838.4l-.3-2.9 5 .2-7.5-11.2-4.9 12.6 4.8-1.3 .3 2.8zM1388.7 1838.4l-.3-2.9 5 .2-7.5-11.2-4.9 12.6 4.8-1.3 .3 2.8zM1421.7 1838.4l-.3-2.9 5 .2-7.5-11.2-5 12.6 4.9-1.3 .3 2.8zM1454.6 1838.4l-.3-2.9 5 .2-7.4-11.2-5 12.6 4.9-1.3 .3 2.8zM1487.6 1838.4l-.3-2.9 5 .2-7.5-11.2-4.9 12.6 4.8-1.3 .3 2.8zM1520.6 1838.4l-.3-2.9 5 .2-7.5-11.2-4.9 12.6 4.8-1.3 .3 2.8zM1553.6 1838.4l-.3-2.9 5 .2-7.5-11.2-4.9 12.6 4.8-1.3 .3 2.8zM1586.6 1838.4l-.4-2.9 5 .2-7.4-11.2-5 12.6 4.9-1.3 .3 2.8zM1619.5 1838.4l-.3-2.9 5 .2-7.5-11.2-4.9 12.6 4.8-1.3 .3 2.8zM1652.5 1837.9l-.2-1.9 5 .2-7.6-11.2-4.8 12.6 4.8-1.3 .2 1.8zM1685.5 1837.9l-.2-1.9 5 .2-7.6-11.2-4.8 12.6 4.8-1.3 .2 1.8zM1717.7 1831.5l-.6 1.1-1.3 0-.7-1.1 .7-1.1 1.3 0zM1750.7 1831.5l-.7 1.1-1.3 0-.6-1.1 .6-1.1 1.3 0zM1783.7 1831.5l-.7 1.1-1.3 0-.6-1.1 .6-1.1 1.3 0zM1816.6 1831.5l-.6 1.1-1.3 0-.7-1.1 .7-1.1 1.3 0zM1852.1 1831.5l-.6 1.1-1.3 0-.7-1.1 .7-1.1 1.3 0zM1885.1 1831.5l-.6 1.1-1.3 0-.7-1.1 .7-1.1 1.3 0zM1918.1 1831.5l-.7 1.1-1.3 0-.6-1.1 .6-1.1 1.3 0zM1951.1 1831.5l-.7 1.1-1.3 0-.6-1.1 .6-1.1 1.3 0zM1984 1831.5l-.6 1.1-1.3 0-.7-1.1 .7-1.1 1.3 0zM2016.4 1834.5l0-.4 2.4 .4-3.1-6-3.1 6 2.5-.4 0 .4zM2049.3 1834.5l0-.4 2.5 .4-3.1-6-3.1 6 2.4-.4 0 .4zM2082.3 1834.5l0-.4 2.5 .4-3.1-6-3.2 6 2.5-.4 0 .4zM2115.3 1834.5l0-.4 2.5 .4-3.2-6-3.1 6 2.5-.4 0 .4zM2148.5 1835.5l0-.5 3.3 .5-4.2-8-4.2 8 3.3-.5 0 .5zM2181.6 1836l0-.6 3.7 .6-4.7-9-4.7 9 3.7-.6 0 .6zM2214.9 1837.5l0-.8 4.9 .8-6.2-12-6.3 12 5-.8 0 .8zM2248.3 1838.4l-.2-2.8 5 .4-7.1-11.5-5.3 12.4 4.8-1.2 .2 2.9zM2281.3 1838.4l-.2-2.8 5 .4-7.1-11.5-5.3 12.4 4.8-1.2 .2 2.9zM2314.3 1838.4l-.2-2.8 5 .4-7.1-11.5-5.4 12.4 4.9-1.2 .2 2.9zM2347.3 1838.4l-.2-2.8 5 .4-7.1-11.5-5.4 12.4 4.9-1.2 .2 2.9zM2380.3 1838.4l-.3-2.8 5 .4-7-11.5-5.4 12.4 4.9-1.2 .2 2.9zM2413.2 1838.4l-.2-2.8 5 .4-7.1-11.5-5.3 12.4 4.8-1.2 .2 2.9zM2446.2 1838.4l-.2-2.8 5 .4-7.1-11.5-5.4 12.4 4.9-1.2 .2 2.9zM2479.2 1838.4l-.2-2.8 5 .4-7.1-11.5-5.4 12.4 4.9-1.2 .2 2.9zM1327.2 1838.4l-.3-2.9 5 .2-7.4-11.2-5 12.6 4.8-1.3 .4 2.8zM1360.2 1838.4l-.3-2.9 5 .2-7.5-11.2-4.9 12.6 4.8-1.3 .3 2.8zM1393.2 1838.4l-.3-2.9 5 .2-7.5-11.2-4.9 12.6 4.8-1.3 .3 2.8zM1426.2 1838.4l-.3-2.9 5 .2-7.5-11.2-5 12.6 4.9-1.3 .3 2.8zM1459.1 1838.4l-.3-2.9 5 .2-7.4-11.2-5 12.6 4.9-1.3 .3 2.8zM1492.1 1838.4l-.3-2.9 5 .2-7.5-11.2-4.9 12.6 4.8-1.3 .3 2.8zM1525.1 1838.4l-.3-2.9 5 .2-7.5-11.2-4.9 12.6 4.8-1.3 .3 2.8zM1558.1 1838.4l-.3-2.9 5 .2-7.5-11.2-4.9 12.6 4.8-1.3 .3 2.8zM1591.1 1838.4l-.4-2.9 5 .2-7.4-11.2-5 12.6 4.9-1.3 .3 2.8zM1624 1838.4l-.3-2.9 5 .2-7.5-11.2-4.9 12.6 4.8-1.3 .3 2.8zM1322.2 1846.9l-.3-2.9 5 .2-7.4-11.2-5 12.6 4.8-1.3 .4 2.8zM1355.2 1846.9l-.3-2.9 5 .2-7.5-11.2-4.9 12.6 4.8-1.3 .3 2.8zM1388.2 1846.9l-.3-2.9 5 .2-7.5-11.2-4.9 12.6 4.8-1.3 .3 2.8zM1421.2 1846.9l-.3-2.9 5 .2-7.5-11.2-5 12.6 4.9-1.3 .3 2.8zM1454.1 1846.9l-.3-2.9 5 .2-7.4-11.2-5 12.6 4.9-1.3 .3 2.8zM1487.1 1846.9l-.3-2.9 5 .2-7.5-11.2-4.9 12.6 4.8-1.3 .3 2.8zM1520.1 1846.9l-.3-2.9 5 .2-7.5-11.2-4.9 12.6 4.8-1.3 .3 2.8zM1553.1 1846.9l-.3-2.9 5 .2-7.5-11.2-4.9 12.6 4.8-1.3 .3 2.8zM1586.1 1846.9l-.4-2.9 5 .2-7.4-11.2-5 12.6 4.9-1.3 .3 2.8zM1619 1846.9l-.3-2.9 5 .2-7.5-11.2-4.9 12.6 4.8-1.3 .3 2.8zM1652 1846.4l-.2-1.9 5 .2-7.6-11.2-4.8 12.6 4.8-1.3 .2 1.8zM1685 1846.4l-.2-1.9 5 .2-7.6-11.2-4.8 12.6 4.8-1.3 .2 1.8zM1718 1846.4l-.3-1.9 5 .2-7.5-11.2-4.9 12.6 4.9-1.3 .2 1.8zM1750.2 1840l-.7 1.1-1.3 0-.6-1.1 .6-1.1 1.3 0zM1783.2 1840l-.7 1.1-1.3 0-.6-1.1 .6-1.1 1.3 0zM1816.1 1840l-.6 1.1-1.3 0-.7-1.1 .7-1.1 1.3 0zM1852.1 1840l-.6 1.1-1.3 0-.7-1.1 .7-1.1 1.3 0zM1885.1 1840l-.6 1.1-1.3 0-.7-1.1 .7-1.1 1.3 0zM1918.1 1840l-.7 1.1-1.3 0-.6-1.1 .6-1.1 1.3 0zM1951.1 1840l-.7 1.1-1.3 0-.6-1.1 .6-1.1 1.3 0zM1984 1840l-.6 1.1-1.3 0-.7-1.1 .7-1.1 1.3 0zM2016.4 1843l0-.4 2.4 .4-3.1-6-3.1 6 2.5-.4 0 .4zM2049.3 1843l0-.4 2.5 .4-3.1-6-3.1 6 2.4-.4 0 .4zM2083 1840l-.7 1.1-1.3 0-.6-1.1 .6-1.1 1.3 0zM2115.9 1840l-.6 1.1-1.3 0-.7-1.1 .7-1.1 1.3 0zM2148.5 1844l0-.5 3.3 .5-4.2-8-4.2 8 3.3-.5 0 .5zM2181.6 1844.5l0-.6 3.7 .6-4.7-9-4.7 9 3.7-.6 0 .6zM2214.9 1846l0-.8 4.9 .8-6.2-12-6.3 12 5-.8 0 .8zM2248.3 1846.9l-.2-2.8 5 .4-7.1-11.5-5.3 12.4 4.8-1.2 .2 2.9zM2281.3 1846.9l-.2-2.8 5 .4-7.1-11.5-5.3 12.4 4.8-1.2 .2 2.9zM2314.3 1846.9l-.2-2.8 5 .4-7.1-11.5-5.4 12.4 4.9-1.2 .2 2.9zM2347.3 1846.9l-.2-2.8 5 .4-7.1-11.5-5.4 12.4 4.9-1.2 .2 2.9zM2380.3 1846.9l-.3-2.8 5 .4-7-11.5-5.4 12.4 4.9-1.2 .2 2.9zM2413.2 1846.9l-.2-2.8 5 .4-7.1-11.5-5.3 12.4 4.8-1.2 .2 2.9zM2446.2 1846.9l-.2-2.8 5 .4-7.1-11.5-5.4 12.4 4.9-1.2 .2 2.9zM2479.2 1846.9l-.2-2.8 5 .4-7.1-11.5-5.4 12.4 4.9-1.2 .2 2.9zM1326.7 1846.9l-.3-2.9 5 .2-7.4-11.2-5 12.6 4.8-1.3 .4 2.8zM1359.7 1846.9l-.3-2.9 5 .2-7.5-11.2-4.9 12.6 4.8-1.3 .3 2.8zM1392.7 1846.9l-.3-2.9 5 .2-7.5-11.2-4.9 12.6 4.8-1.3 .3 2.8zM1425.7 1846.9l-.3-2.9 5 .2-7.5-11.2-5 12.6 4.9-1.3 .3 2.8zM1458.6 1846.9l-.3-2.9 5 .2-7.4-11.2-5 12.6 4.9-1.3 .3 2.8zM1491.6 1846.9l-.3-2.9 5 .2-7.5-11.2-4.9 12.6 4.8-1.3 .3 2.8zM1524.6 1846.9l-.3-2.9 5 .2-7.5-11.2-4.9 12.6 4.8-1.3 .3 2.8zM1557.6 1846.9l-.3-2.9 5 .2-7.5-11.2-4.9 12.6 4.8-1.3 .3 2.8zM1590.6 1846.9l-.4-2.9 5 .2-7.4-11.2-5 12.6 4.9-1.3 .3 2.8zM1623.5 1846.9l-.3-2.9 5 .2-7.5-11.2-4.9 12.6 4.8-1.3 .3 2.8zM1321.7 1853.8l-.3-2.9 5 .2-7.4-11.2-5 12.6 4.8-1.3 .4 2.8zM1354.7 1853.8l-.3-2.9 5 .2-7.5-11.2-4.9 12.6 4.8-1.3 .3 2.8zM1387.7 1853.8l-.3-2.9 5 .2-7.5-11.2-4.9 12.6 4.8-1.3 .3 2.8zM1420.7 1853.8l-.3-2.9 5 .2-7.5-11.2-5 12.6 4.9-1.3 .3 2.8zM1453.6 1853.8l-.3-2.9 5 .2-7.4-11.2-5 12.6 4.9-1.3 .3 2.8zM1486.6 1853.8l-.3-2.9 5 .2-7.5-11.2-4.9 12.6 4.8-1.3 .3 2.8zM1519.6 1853.8l-.3-2.9 5 .2-7.5-11.2-4.9 12.6 4.8-1.3 .3 2.8zM1552.6 1853.8l-.3-2.9 5 .2-7.5-11.2-4.9 12.6 4.8-1.3 .3 2.8zM1585.6 1853.8l-.4-2.9 5 .2-7.4-11.2-5 12.6 4.9-1.3 .3 2.8zM1618.5 1853.8l-.3-2.9 5 .2-7.5-11.2-4.9 12.6 4.8-1.3 .3 2.8zM1651.5 1853.3l-.2-1.9 5 .2-7.6-11.2-4.8 12.6 4.8-1.3 .2 1.8zM1684.5 1853.3l-.2-1.9 5 .2-7.6-11.2-4.8 12.6 4.8-1.3 .2 1.8zM1717.5 1853.3l-.3-1.9 5 .2-7.5-11.2-4.9 12.6 4.9-1.3 .2 1.8zM1750.4 1853.3l-.2-1.9 5 .2-7.6-11.2-4.8 12.6 4.8-1.3 .3 1.8zM1782.7 1846.9l-.7 1.1-1.3 0-.6-1.1 .6-1.1 1.3 0zM1815.6 1846.9l-.6 1.1-1.3 0-.7-1.1 .7-1.1 1.3 0zM1852.1 1846.9l-.6 1.1-1.3 0-.7-1.1 .7-1.1 1.3 0zM1885.1 1846.9l-.6 1.1-1.3 0-.7-1.1 .7-1.1 1.3 0zM1918.1 1846.9l-.7 1.1-1.3 0-.6-1.1 .6-1.1 1.3 0zM1951.1 1846.9l-.7 1.1-1.3 0-.6-1.1 .6-1.1 1.3 0zM1984 1846.9l-.6 1.1-1.3 0-.7-1.1 .7-1.1 1.3 0zM2017 1846.9l-.6 1.1-1.3 0-.7-1.1 .7-1.1 1.3 0zM2049.3 1849.9l0-.4 2.5 .4-3.1-6-3.1 6 2.4-.4 0 .4zM2083 1846.9l-.7 1.1-1.3 0-.6-1.1 .6-1.1 1.3 0zM2115.9 1846.9l-.6 1.1-1.3 0-.7-1.1 .7-1.1 1.3 0zM2148.2 1849.4l0-.3 2 .3-2.6-5-2.6 5 2.1-.3 0 .3zM2181.6 1851.4l0-.6 3.7 .6-4.7-9-4.7 9 3.7-.6 0 .6zM2214.9 1852.9l0-.8 4.9 .8-6.2-12-6.3 12 5-.8 0 .8zM2248.3 1853.8l-.2-2.8 5 .4-7.1-11.5-5.3 12.4 4.8-1.2 .2 2.9zM2281.3 1853.8l-.2-2.8 5 .4-7.1-11.5-5.3 12.4 4.8-1.2 .2 2.9zM2314.3 1853.8l-.2-2.8 5 .4-7.1-11.5-5.4 12.4 4.9-1.2 .2 2.9zM2347.3 1853.8l-.2-2.8 5 .4-7.1-11.5-5.4 12.4 4.9-1.2 .2 2.9zM2380.3 1853.8l-.3-2.8 5 .4-7-11.5-5.4 12.4 4.9-1.2 .2 2.9zM2413.2 1853.8l-.2-2.8 5 .4-7.1-11.5-5.3 12.4 4.8-1.2 .2 2.9zM2446.2 1853.8l-.2-2.8 5 .4-7.1-11.5-5.4 12.4 4.9-1.2 .2 2.9zM2479.2 1853.8l-.2-2.8 5 .4-7.1-11.5-5.4 12.4 4.9-1.2 .2 2.9zM1326.2 1853.8l-.3-2.9 5 .2-7.4-11.2-5 12.6 4.8-1.3 .4 2.8zM1359.2 1853.8l-.3-2.9 5 .2-7.5-11.2-4.9 12.6 4.8-1.3 .3 2.8zM1392.2 1853.8l-.3-2.9 5 .2-7.5-11.2-4.9 12.6 4.8-1.3 .3 2.8zM1425.2 1853.8l-.3-2.9 5 .2-7.5-11.2-5 12.6 4.9-1.3 .3 2.8zM1458.1 1853.8l-.3-2.9 5 .2-7.4-11.2-5 12.6 4.9-1.3 .3 2.8zM1491.1 1853.8l-.3-2.9 5 .2-7.5-11.2-4.9 12.6 4.8-1.3 .3 2.8zM1524.1 1853.8l-.3-2.9 5 .2-7.5-11.2-4.9 12.6 4.8-1.3 .3 2.8zM1557.1 1853.8l-.3-2.9 5 .2-7.5-11.2-4.9 12.6 4.8-1.3 .3 2.8zM1590.1 1853.8l-.4-2.9 5 .2-7.4-11.2-5 12.6 4.9-1.3 .3 2.8zM1623 1853.8l-.3-2.9 5 .2-7.5-11.2-4.9 12.6 4.8-1.3 .3 2.8zM1320.7 1860.1l-.3-2.9 5 .2-7.4-11.2-5 12.6 4.8-1.3 .4 2.8zM1353.7 1860.1l-.3-2.9 5 .2-7.5-11.2-4.9 12.6 4.8-1.3 .3 2.8zM1386.7 1860.1l-.3-2.9 5 .2-7.5-11.2-4.9 12.6 4.8-1.3 .3 2.8zM1419.7 1860.1l-.3-2.9 5 .2-7.5-11.2-5 12.6 4.9-1.3 .3 2.8zM1452.6 1860.1l-.3-2.9 5 .2-7.4-11.2-5 12.6 4.9-1.3 .3 2.8zM1485.6 1860.1l-.3-2.9 5 .2-7.5-11.2-4.9 12.6 4.8-1.3 .3 2.8zM1518.6 1860.1l-.3-2.9 5 .2-7.5-11.2-4.9 12.6 4.8-1.3 .3 2.8zM1551.6 1860.1l-.3-2.9 5 .2-7.5-11.2-4.9 12.6 4.8-1.3 .3 2.8zM1584.6 1860.1l-.4-2.9 5 .2-7.4-11.2-5 12.6 4.9-1.3 .3 2.8zM1617.5 1860.1l-.3-2.9 5 .2-7.5-11.2-4.9 12.6 4.8-1.3 .3 2.8zM1650.5 1859.6l-.2-1.9 5 .2-7.6-11.2-4.8 12.6 4.8-1.3 .2 1.8zM1683.5 1859.6l-.2-1.9 5 .2-7.6-11.2-4.8 12.6 4.8-1.3 .2 1.8zM1716.5 1859.6l-.3-1.9 5 .2-7.5-11.2-4.9 12.6 4.9-1.3 .2 1.8zM1749.4 1859.6l-.2-1.9 5 .2-7.6-11.2-4.8 12.6 4.8-1.3 .3 1.8zM1782.4 1859.6l-.2-1.9 5 .2-7.6-11.2-4.8 12.6 4.8-1.3 .2 1.8zM1814.6 1853.2l-.6 1.1-1.3 0-.7-1.1 .7-1.1 1.3 0zM1852.1 1853.2l-.6 1.1-1.3 0-.7-1.1 .7-1.1 1.3 0zM1885.1 1853.2l-.6 1.1-1.3 0-.7-1.1 .7-1.1 1.3 0zM1918.1 1853.2l-.7 1.1-1.3 0-.6-1.1 .6-1.1 1.3 0zM1951.1 1853.2l-.7 1.1-1.3 0-.6-1.1 .6-1.1 1.3 0zM1984 1853.2l-.6 1.1-1.3 0-.7-1.1 .7-1.1 1.3 0zM2017 1853.2l-.6 1.1-1.3 0-.7-1.1 .7-1.1 1.3 0zM2049.3 1856.2l0-.4 2.5 .4-3.1-6-3.1 6 2.4-.4 0 .4zM2083 1853.2l-.7 1.1-1.3 0-.6-1.1 .6-1.1 1.3 0zM2115.9 1853.2l-.6 1.1-1.3 0-.7-1.1 .7-1.1 1.3 0zM2148.2 1855.7l0-.3 2 .3-2.6-5-2.6 5 2.1-.3 0 .3zM2181.6 1857.7l0-.6 3.7 .6-4.7-9-4.7 9 3.7-.6 0 .6zM2214.9 1859.2l0-.8 4.9 .8-6.2-12-6.3 12 5-.8 0 .8zM2248.3 1860.1l-.2-2.8 5 .4-7.1-11.5-5.3 12.4 4.8-1.2 .2 2.9zM2281.3 1860.1l-.2-2.8 5 .4-7.1-11.5-5.3 12.4 4.8-1.2 .2 2.9zM2314.3 1860.1l-.2-2.8 5 .4-7.1-11.5-5.4 12.4 4.9-1.2 .2 2.9zM2347.3 1860.1l-.2-2.8 5 .4-7.1-11.5-5.4 12.4 4.9-1.2 .2 2.9zM2380.3 1860.1l-.3-2.8 5 .4-7-11.5-5.4 12.4 4.9-1.2 .2 2.9zM2413.2 1860.1l-.2-2.8 5 .4-7.1-11.5-5.3 12.4 4.8-1.2 .2 2.9zM2446.2 1860.1l-.2-2.8 5 .4-7.1-11.5-5.4 12.4 4.9-1.2 .2 2.9zM2479.2 1860.1l-.2-2.8 5 .4-7.1-11.5-5.4 12.4 4.9-1.2 .2 2.9zM1324.8 1860.1l-.3-2.9 5 .2-7.5-11.2-4.9 12.6 4.8-1.3 .3 2.8zM1357.8 1860.1l-.3-2.9 5 .2-7.5-11.2-5 12.6 4.9-1.3 .3 2.8zM1390.7 1860.1l-.3-2.9 5 .2-7.4-11.2-5 12.6 4.9-1.3 .3 2.8zM1423.7 1860.1l-.3-2.9 5 .2-7.5-11.2-4.9 12.6 4.8-1.3 .3 2.8zM1456.7 1860.1l-.3-2.9 5 .2-7.5-11.2-4.9 12.6 4.8-1.3 .3 2.8zM1489.7 1860.1l-.3-2.9 5 .2-7.5-11.2-4.9 12.6 4.8-1.3 .3 2.8zM1522.7 1860.1l-.4-2.9 5 .2-7.4-11.2-5 12.6 4.9-1.3 .3 2.8zM1555.6 1860.1l-.3-2.9 5 .2-7.5-11.2-4.9 12.6 4.8-1.3 .3 2.8zM1588.6 1860.1l-.3-2.9 5 .2-7.5-11.2-4.9 12.6 4.8-1.3 .3 2.8zM1621.6 1860.1l-.3-2.9 5 .2-7.5-11.2-4.9 12.6 4.8-1.3 .3 2.8zM1320.2 1866l-.3-2.9 5 .2-7.4-11.2-5 12.6 4.8-1.3 .4 2.8zM1353.2 1866l-.3-2.9 5 .2-7.5-11.2-4.9 12.6 4.8-1.3 .3 2.8zM1386.2 1866l-.3-2.9 5 .2-7.5-11.2-4.9 12.6 4.8-1.3 .3 2.8zM1419.2 1866l-.3-2.9 5 .2-7.5-11.2-5 12.6 4.9-1.3 .3 2.8zM1452.1 1866l-.3-2.9 5 .2-7.4-11.2-5 12.6 4.9-1.3 .3 2.8zM1485.1 1866l-.3-2.9 5 .2-7.5-11.2-4.9 12.6 4.8-1.3 .3 2.8zM1518.1 1866l-.3-2.9 5 .2-7.5-11.2-4.9 12.6 4.8-1.3 .3 2.8zM1551.1 1866l-.3-2.9 5 .2-7.5-11.2-4.9 12.6 4.8-1.3 .3 2.8zM1584.1 1866l-.4-2.9 5 .2-7.4-11.2-5 12.6 4.9-1.3 .3 2.8zM1617 1866l-.3-2.9 5 .2-7.5-11.2-4.9 12.6 4.8-1.3 .3 2.8zM1650 1865.5l-.2-1.9 5 .2-7.6-11.2-4.8 12.6 4.8-1.3 .2 1.8zM1683 1865.5l-.2-1.9 5 .2-7.6-11.2-4.8 12.6 4.8-1.3 .2 1.8zM1716 1865.5l-.3-1.9 5 .2-7.5-11.2-4.9 12.6 4.9-1.3 .2 1.8zM1748.9 1865.5l-.2-1.9 5 .2-7.6-11.2-4.8 12.6 4.8-1.3 .3 1.8zM1781.9 1865.5l-.2-1.9 5 .2-7.6-11.2-4.8 12.6 4.8-1.3 .2 1.8zM1814.9 1865.5l-.2-1.9 5 .2-7.6-11.2-4.8 12.6 4.8-1.3 .2 1.8zM1851.3 1861.1l0-.3 1.6 .3-2.1-4-2.1 4 1.7-.3 0 .3zM1884.2 1861.1l0-.3 1.7 .3-2.1-4-2.1 4 1.7-.3 0 .3zM1917.2 1861.1l0-.3 1.7 .3-2.1-4-2.1 4 1.6-.3 0 .3zM1950.2 1861.1l0-.3 1.6 .3-2-4-2.1 4 1.6-.3 0 .3zM1983.2 1861.1l0-.3 1.6 .3-2.1-4-2.1 4 1.7-.3 0 .3zM2017 1859.1l-.6 1.1-1.3 0-.7-1.1 .7-1.1 1.3 0zM2049.3 1862.1l0-.4 2.5 .4-3.1-6-3.1 6 2.4-.4 0 .4zM2083 1859.1l-.7 1.1-1.3 0-.6-1.1 .6-1.1 1.3 0zM2115.9 1859.1l-.6 1.1-1.3 0-.7-1.1 .7-1.1 1.3 0zM2148.2 1861.6l0-.3 2 .3-2.6-5-2.6 5 2.1-.3 0 .3zM2181.6 1863.6l0-.6 3.7 .6-4.7-9-4.7 9 3.7-.6 0 .6zM2214.9 1865.1l0-.8 4.9 .8-6.2-12-6.3 12 5-.8 0 .8zM2248.3 1866l-.2-2.8 5 .4-7.1-11.5-5.3 12.4 4.8-1.2 .2 2.9zM2281.3 1866l-.2-2.8 5 .4-7.1-11.5-5.3 12.4 4.8-1.2 .2 2.9zM2314.3 1866l-.2-2.8 5 .4-7.1-11.5-5.4 12.4 4.9-1.2 .2 2.9zM2347.3 1866l-.2-2.8 5 .4-7.1-11.5-5.4 12.4 4.9-1.2 .2 2.9zM2380.3 1866l-.3-2.8 5 .4-7-11.5-5.4 12.4 4.9-1.2 .2 2.9zM2413.2 1866l-.2-2.8 5 .4-7.1-11.5-5.3 12.4 4.8-1.2 .2 2.9zM2446.2 1866l-.2-2.8 5 .4-7.1-11.5-5.4 12.4 4.9-1.2 .2 2.9zM2479.2 1866l-.2-2.8 5 .4-7.1-11.5-5.4 12.4 4.9-1.2 .2 2.9zM1324.1 1866l-.3-2.9 5 .2-7.5-11.2-5 12.6 4.9-1.3 .3 2.8zM1357 1866l-.3-2.9 5 .2-7.4-11.2-5 12.6 4.9-1.3 .3 2.8zM1390 1866l-.3-2.9 5 .2-7.5-11.2-4.9 12.6 4.8-1.3 .3 2.8zM1423 1866l-.3-2.9 5 .2-7.5-11.2-4.9 12.6 4.8-1.3 .3 2.8zM1456 1866l-.3-2.9 5 .2-7.5-11.2-4.9 12.6 4.8-1.3 .3 2.8zM1489 1866l-.4-2.9 5 .2-7.4-11.2-5 12.6 4.9-1.3 .3 2.8zM1521.9 1866l-.3-2.9 5 .2-7.5-11.2-4.9 12.6 4.8-1.3 .3 2.8zM1554.9 1866l-.3-2.9 5 .2-7.5-11.2-4.9 12.6 4.8-1.3 .3 2.8zM1587.9 1866l-.3-2.9 5 .2-7.5-11.2-4.9 12.6 4.8-1.3 .3 2.8zM1620.9 1866l-.4-2.9 5 .2-7.4-11.2-5 12.6 4.9-1.3 .3 2.8z"/>
<rect x="1323.2" y="1368.3" width="989.3" height="490.9" class="fr"/>
<line x1="1312.7" y1="1785.05" x2="1323.2" y2="1785.05" class="tk"/>
<line x1="1312.7" y1="1709.10" x2="1323.2" y2="1709.10" class="tk"/>
<line x1="1312.7" y1="1633.15" x2="1323.2" y2="1633.15" class="tk"/>
<line x1="1312.7" y1="1557.20" x2="1323.2" y2="1557.20" class="tk"/>
<line x1="1312.7" y1="1481.25" x2="1323.2" y2="1481.25" class="tk"/>
<line x1="1312.7" y1="1405.30" x2="1323.2" y2="1405.30" class="tk"/>
<line x1="1323.20" y1="1859.2" x2="1323.20" y2="1869.2" class="tk"/>
<line x1="1488.08" y1="1859.2" x2="1488.08" y2="1869.2" class="tk"/>
<line x1="1652.97" y1="1859.2" x2="1652.97" y2="1869.2" class="tk"/>
<line x1="1817.85" y1="1859.2" x2="1817.85" y2="1869.2" class="tk"/>
<line x1="1982.73" y1="1859.2" x2="1982.73" y2="1869.2" class="tk"/>
<line x1="2147.62" y1="1859.2" x2="2147.62" y2="1869.2" class="tk"/>
<line x1="2312.50" y1="1859.2" x2="2312.50" y2="1869.2" class="tk"/>
<rect x="2324.3" y="1804.66" width="24.8" height="55.04" fill="#4b64d5"/>
<rect x="2324.3" y="1750.11" width="24.8" height="55.04" fill="#6f92f3"/>
<rect x="2324.3" y="1695.57" width="24.8" height="55.04" fill="#97b8ff"/>
<rect x="2324.3" y="1641.02" width="24.8" height="55.04" fill="#bcd2f7"/>
<rect x="2324.3" y="1586.48" width="24.8" height="55.04" fill="#dddcdc"/>
<rect x="2324.3" y="1531.93" width="24.8" height="55.04" fill="#f3c8b2"/>
<rect x="2324.3" y="1477.39" width="24.8" height="55.04" fill="#f6a586"/>
<rect x="2324.3" y="1422.84" width="24.8" height="55.04" fill="#e7745b"/>
<rect x="2324.3" y="1368.30" width="24.8" height="55.04" fill="#c83836"/>
<rect x="2324.3" y="1368.3" width="24.8" height="490.9" class="fr"/>
<line x1="2349.1" y1="1859.20" x2="2359.1" y2="1859.20" class="tk"/>
<line x1="2349.1" y1="1804.66" x2="2359.1" y2="1804.66" class="tk"/>
<line x1="2349.1" y1="1750.11" x2="2359.1" y2="1750.11" class="tk"/>
<line x1="2349.1" y1="1695.57" x2="2359.1" y2="1695.57" class="tk"/>
<line x1="2349.1" y1="1641.02" x2="2359.1" y2="1641.02" class="tk"/>
<line x1="2349.1" y1="1586.48" x2="2359.1" y2="1586.48" class="tk"/>
<line x1="2349.1" y1="1531.93" x2="2359.1" y2="1531.93" class="tk"/>
<line x1="2349.1" y1="1477.39" x2="2359.1" y2="1477.39" class="tk"/>
<line x1="2349.1" y1="1422.84" x2="2359.1" y2="1422.84" class="tk"/>
<line x1="2349.1" y1="1368.30" x2="2359.1" y2="1368.30" class="tk"/>
<path d="M2139.8 51.1L2090.2 51.1L2090.2 43.6L2069.2 54.1L2090.2 64.6L2090.2 57.1L2139.8 57.1Z"/>
</svg>
<svg xmlns="http://www.w3.org/2000/svg" width="2500" height="1936" viewBox="0 0 2500 1936" style="position:absolute;left:0;top:0">
<text x="79.3" y="75.7" font-size="48.4">(a) 14 January 2022</text>
<text x="58.2" y="521.2" text-anchor="end" class="tl">5</text>
<text x="58.2" y="445.3" text-anchor="end" class="tl">10</text>
<text x="58.2" y="369.3" text-anchor="end" class="tl">15</text>
<text x="58.2" y="293.4" text-anchor="end" class="tl">20</text>
<text x="58.2" y="217.4" text-anchor="end" class="tl">25</text>
<text x="58.2" y="141.5" text-anchor="end" class="tl">30</text>
<text x="79.30" y="628" text-anchor="middle" class="tl">140°E</text>
<text x="244.18" y="628" text-anchor="middle" class="tl">150°E</text>
<text x="409.07" y="628" text-anchor="middle" class="tl">160°E</text>
<text x="573.95" y="628" text-anchor="middle" class="tl">170°E</text>
<text x="738.83" y="628" text-anchor="middle" class="tl">180°</text>
<text x="903.72" y="628" text-anchor="middle" class="tl">170°W</text>
<text x="1068.60" y="628" text-anchor="middle" class="tl">160°W</text>
<text x="1126.4" y="595.2" class="tl">180</text>
<text x="1126.4" y="540.7" class="tl">195</text>
<text x="1126.4" y="486.1" class="tl">210</text>
<text x="1126.4" y="431.6" class="tl">225</text>
<text x="1126.4" y="377" class="tl">240</text>
<text x="1126.4" y="322.5" class="tl">255</text>
<text x="1126.4" y="267.9" class="tl">270</text>
<text x="1126.4" y="213.4" class="tl">285</text>
<text x="1126.4" y="158.8" class="tl">300</text>
<text x="1126.4" y="104.3" class="tl">315</text>
<text transform="translate(1218.1,339.1) rotate(-90)" text-anchor="middle" font-size="39">Temperature (K)</text>
<text x="1323.2" y="75.7" font-size="48.4">(b) 15 January 2022</text>
<text x="1302.1" y="521.2" text-anchor="end" class="tl">5</text>
<text x="1302.1" y="445.3" text-anchor="end" class="tl">10</text>
<text x="1302.1" y="369.3" text-anchor="end" class="tl">15</text>
<text x="1302.1" y="293.4" text-anchor="end" class="tl">20</text>
<text x="1302.1" y="217.4" text-anchor="end" class="tl">25</text>
<text x="1302.1" y="141.5" text-anchor="end" class="tl">30</text>
<text x="1323.20" y="628" text-anchor="middle" class="tl">140°E</text>
<text x="1488.08" y="628" text-anchor="middle" class="tl">150°E</text>
<text x="1652.97" y="628" text-anchor="middle" class="tl">160°E</text>
<text x="1817.85" y="628" text-anchor="middle" class="tl">170°E</text>
<text x="1982.73" y="628" text-anchor="middle" class="tl">180°</text>
<text x="2147.62" y="628" text-anchor="middle" class="tl">170°W</text>
<text x="2312.50" y="628" text-anchor="middle" class="tl">160°W</text>
<text x="2370.3" y="595.2" class="tl">180</text>
<text x="2370.3" y="540.7" class="tl">195</text>
<text x="2370.3" y="486.1" class="tl">210</text>
<text x="2370.3" y="431.6" class="tl">225</text>
<text x="2370.3" y="377" class="tl">240</text>
<text x="2370.3" y="322.5" class="tl">255</text>
<text x="2370.3" y="267.9" class="tl">270</text>
<text x="2370.3" y="213.4" class="tl">285</text>
<text x="2370.3" y="158.8" class="tl">300</text>
<text x="2370.3" y="104.3" class="tl">315</text>
<text transform="translate(2462,339.1) rotate(-90)" text-anchor="middle" font-size="39">Temperature (K)</text>
<text x="79.3" y="713" font-size="48.4">(c) 16 January 2022</text>
<text x="58.2" y="1158.5" text-anchor="end" class="tl">5</text>
<text x="58.2" y="1082.6" text-anchor="end" class="tl">10</text>
<text x="58.2" y="1006.6" text-anchor="end" class="tl">15</text>
<text x="58.2" y="930.7" text-anchor="end" class="tl">20</text>
<text x="58.2" y="854.8" text-anchor="end" class="tl">25</text>
<text x="58.2" y="778.8" text-anchor="end" class="tl">30</text>
<text x="79.30" y="1265.3" text-anchor="middle" class="tl">140°E</text>
<text x="244.18" y="1265.3" text-anchor="middle" class="tl">150°E</text>
<text x="409.07" y="1265.3" text-anchor="middle" class="tl">160°E</text>
<text x="573.95" y="1265.3" text-anchor="middle" class="tl">170°E</text>
<text x="738.83" y="1265.3" text-anchor="middle" class="tl">180°</text>
<text x="903.72" y="1265.3" text-anchor="middle" class="tl">170°W</text>
<text x="1068.60" y="1265.3" text-anchor="middle" class="tl">160°W</text>
<text x="1126.4" y="1232.5" class="tl">180</text>
<text x="1126.4" y="1178" class="tl">195</text>
<text x="1126.4" y="1123.4" class="tl">210</text>
<text x="1126.4" y="1068.9" class="tl">225</text>
<text x="1126.4" y="1014.3" class="tl">240</text>
<text x="1126.4" y="959.8" class="tl">255</text>
<text x="1126.4" y="905.2" class="tl">270</text>
<text x="1126.4" y="850.7" class="tl">285</text>
<text x="1126.4" y="796.1" class="tl">300</text>
<text x="1126.4" y="741.6" class="tl">315</text>
<text transform="translate(1218.1,976.5) rotate(-90)" text-anchor="middle" font-size="39">Temperature (K)</text>
<text x="1323.2" y="713" font-size="48.4">(d) 17 January 2022</text>
<text x="1302.1" y="1158.5" text-anchor="end" class="tl">5</text>
<text x="1302.1" y="1082.6" text-anchor="end" class="tl">10</text>
<text x="1302.1" y="1006.6" text-anchor="end" class="tl">15</text>
<text x="1302.1" y="930.7" text-anchor="end" class="tl">20</text>
<text x="1302.1" y="854.8" text-anchor="end" class="tl">25</text>
<text x="1302.1" y="778.8" text-anchor="end" class="tl">30</text>
<text x="1323.20" y="1265.3" text-anchor="middle" class="tl">140°E</text>
<text x="1488.08" y="1265.3" text-anchor="middle" class="tl">150°E</text>
<text x="1652.97" y="1265.3" text-anchor="middle" class="tl">160°E</text>
<text x="1817.85" y="1265.3" text-anchor="middle" class="tl">170°E</text>
<text x="1982.73" y="1265.3" text-anchor="middle" class="tl">180°</text>
<text x="2147.62" y="1265.3" text-anchor="middle" class="tl">170°W</text>
<text x="2312.50" y="1265.3" text-anchor="middle" class="tl">160°W</text>
<text x="2370.3" y="1232.5" class="tl">180</text>
<text x="2370.3" y="1178" class="tl">195</text>
<text x="2370.3" y="1123.4" class="tl">210</text>
<text x="2370.3" y="1068.9" class="tl">225</text>
<text x="2370.3" y="1014.3" class="tl">240</text>
<text x="2370.3" y="959.8" class="tl">255</text>
<text x="2370.3" y="905.2" class="tl">270</text>
<text x="2370.3" y="850.7" class="tl">285</text>
<text x="2370.3" y="796.1" class="tl">300</text>
<text x="2370.3" y="741.6" class="tl">315</text>
<text transform="translate(2462,976.5) rotate(-90)" text-anchor="middle" font-size="39">Temperature (K)</text>
<text x="79.3" y="1350.3" font-size="48.4">(e) 18 January 2022</text>
<text x="58.2" y="1795.8" text-anchor="end" class="tl">5</text>
<text x="58.2" y="1719.9" text-anchor="end" class="tl">10</text>
<text x="58.2" y="1644" text-anchor="end" class="tl">15</text>
<text x="58.2" y="1568" text-anchor="end" class="tl">20</text>
<text x="58.2" y="1492" text-anchor="end" class="tl">25</text>
<text x="58.2" y="1416.1" text-anchor="end" class="tl">30</text>
<text x="79.30" y="1902.6" text-anchor="middle" class="tl">140°E</text>
<text x="244.18" y="1902.6" text-anchor="middle" class="tl">150°E</text>
<text x="409.07" y="1902.6" text-anchor="middle" class="tl">160°E</text>
<text x="573.95" y="1902.6" text-anchor="middle" class="tl">170°E</text>
<text x="738.83" y="1902.6" text-anchor="middle" class="tl">180°</text>
<text x="903.72" y="1902.6" text-anchor="middle" class="tl">170°W</text>
<text x="1068.60" y="1902.6" text-anchor="middle" class="tl">160°W</text>
<text x="1126.4" y="1869.8" class="tl">180</text>
<text x="1126.4" y="1815.3" class="tl">195</text>
<text x="1126.4" y="1760.7" class="tl">210</text>
<text x="1126.4" y="1706.2" class="tl">225</text>
<text x="1126.4" y="1651.6" class="tl">240</text>
<text x="1126.4" y="1597.1" class="tl">255</text>
<text x="1126.4" y="1542.5" class="tl">270</text>
<text x="1126.4" y="1488" class="tl">285</text>
<text x="1126.4" y="1433.4" class="tl">300</text>
<text x="1126.4" y="1378.9" class="tl">315</text>
<text transform="translate(1218.1,1613.8) rotate(-90)" text-anchor="middle" font-size="39">Temperature (K)</text>
<text x="1323.2" y="1350.3" font-size="48.4">(f) 19 January 2022</text>
<text x="1302.1" y="1795.8" text-anchor="end" class="tl">5</text>
<text x="1302.1" y="1719.9" text-anchor="end" class="tl">10</text>
<text x="1302.1" y="1644" text-anchor="end" class="tl">15</text>
<text x="1302.1" y="1568" text-anchor="end" class="tl">20</text>
<text x="1302.1" y="1492" text-anchor="end" class="tl">25</text>
<text x="1302.1" y="1416.1" text-anchor="end" class="tl">30</text>
<text x="1323.20" y="1902.6" text-anchor="middle" class="tl">140°E</text>
<text x="1488.08" y="1902.6" text-anchor="middle" class="tl">150°E</text>
<text x="1652.97" y="1902.6" text-anchor="middle" class="tl">160°E</text>
<text x="1817.85" y="1902.6" text-anchor="middle" class="tl">170°E</text>
<text x="1982.73" y="1902.6" text-anchor="middle" class="tl">180°</text>
<text x="2147.62" y="1902.6" text-anchor="middle" class="tl">170°W</text>
<text x="2312.50" y="1902.6" text-anchor="middle" class="tl">160°W</text>
<text x="2370.3" y="1869.8" class="tl">180</text>
<text x="2370.3" y="1815.3" class="tl">195</text>
<text x="2370.3" y="1760.7" class="tl">210</text>
<text x="2370.3" y="1706.2" class="tl">225</text>
<text x="2370.3" y="1651.6" class="tl">240</text>
<text x="2370.3" y="1597.1" class="tl">255</text>
<text x="2370.3" y="1542.5" class="tl">270</text>
<text x="2370.3" y="1488" class="tl">285</text>
<text x="2370.3" y="1433.4" class="tl">300</text>
<text x="2370.3" y="1378.9" class="tl">315</text>
<text transform="translate(2462,1613.8) rotate(-90)" text-anchor="middle" font-size="39">Temperature (K)</text>
<text x="2149.6" y="68.6" font-size="37.2">30 m/s</text>
</svg>
</div>
</body></html>
